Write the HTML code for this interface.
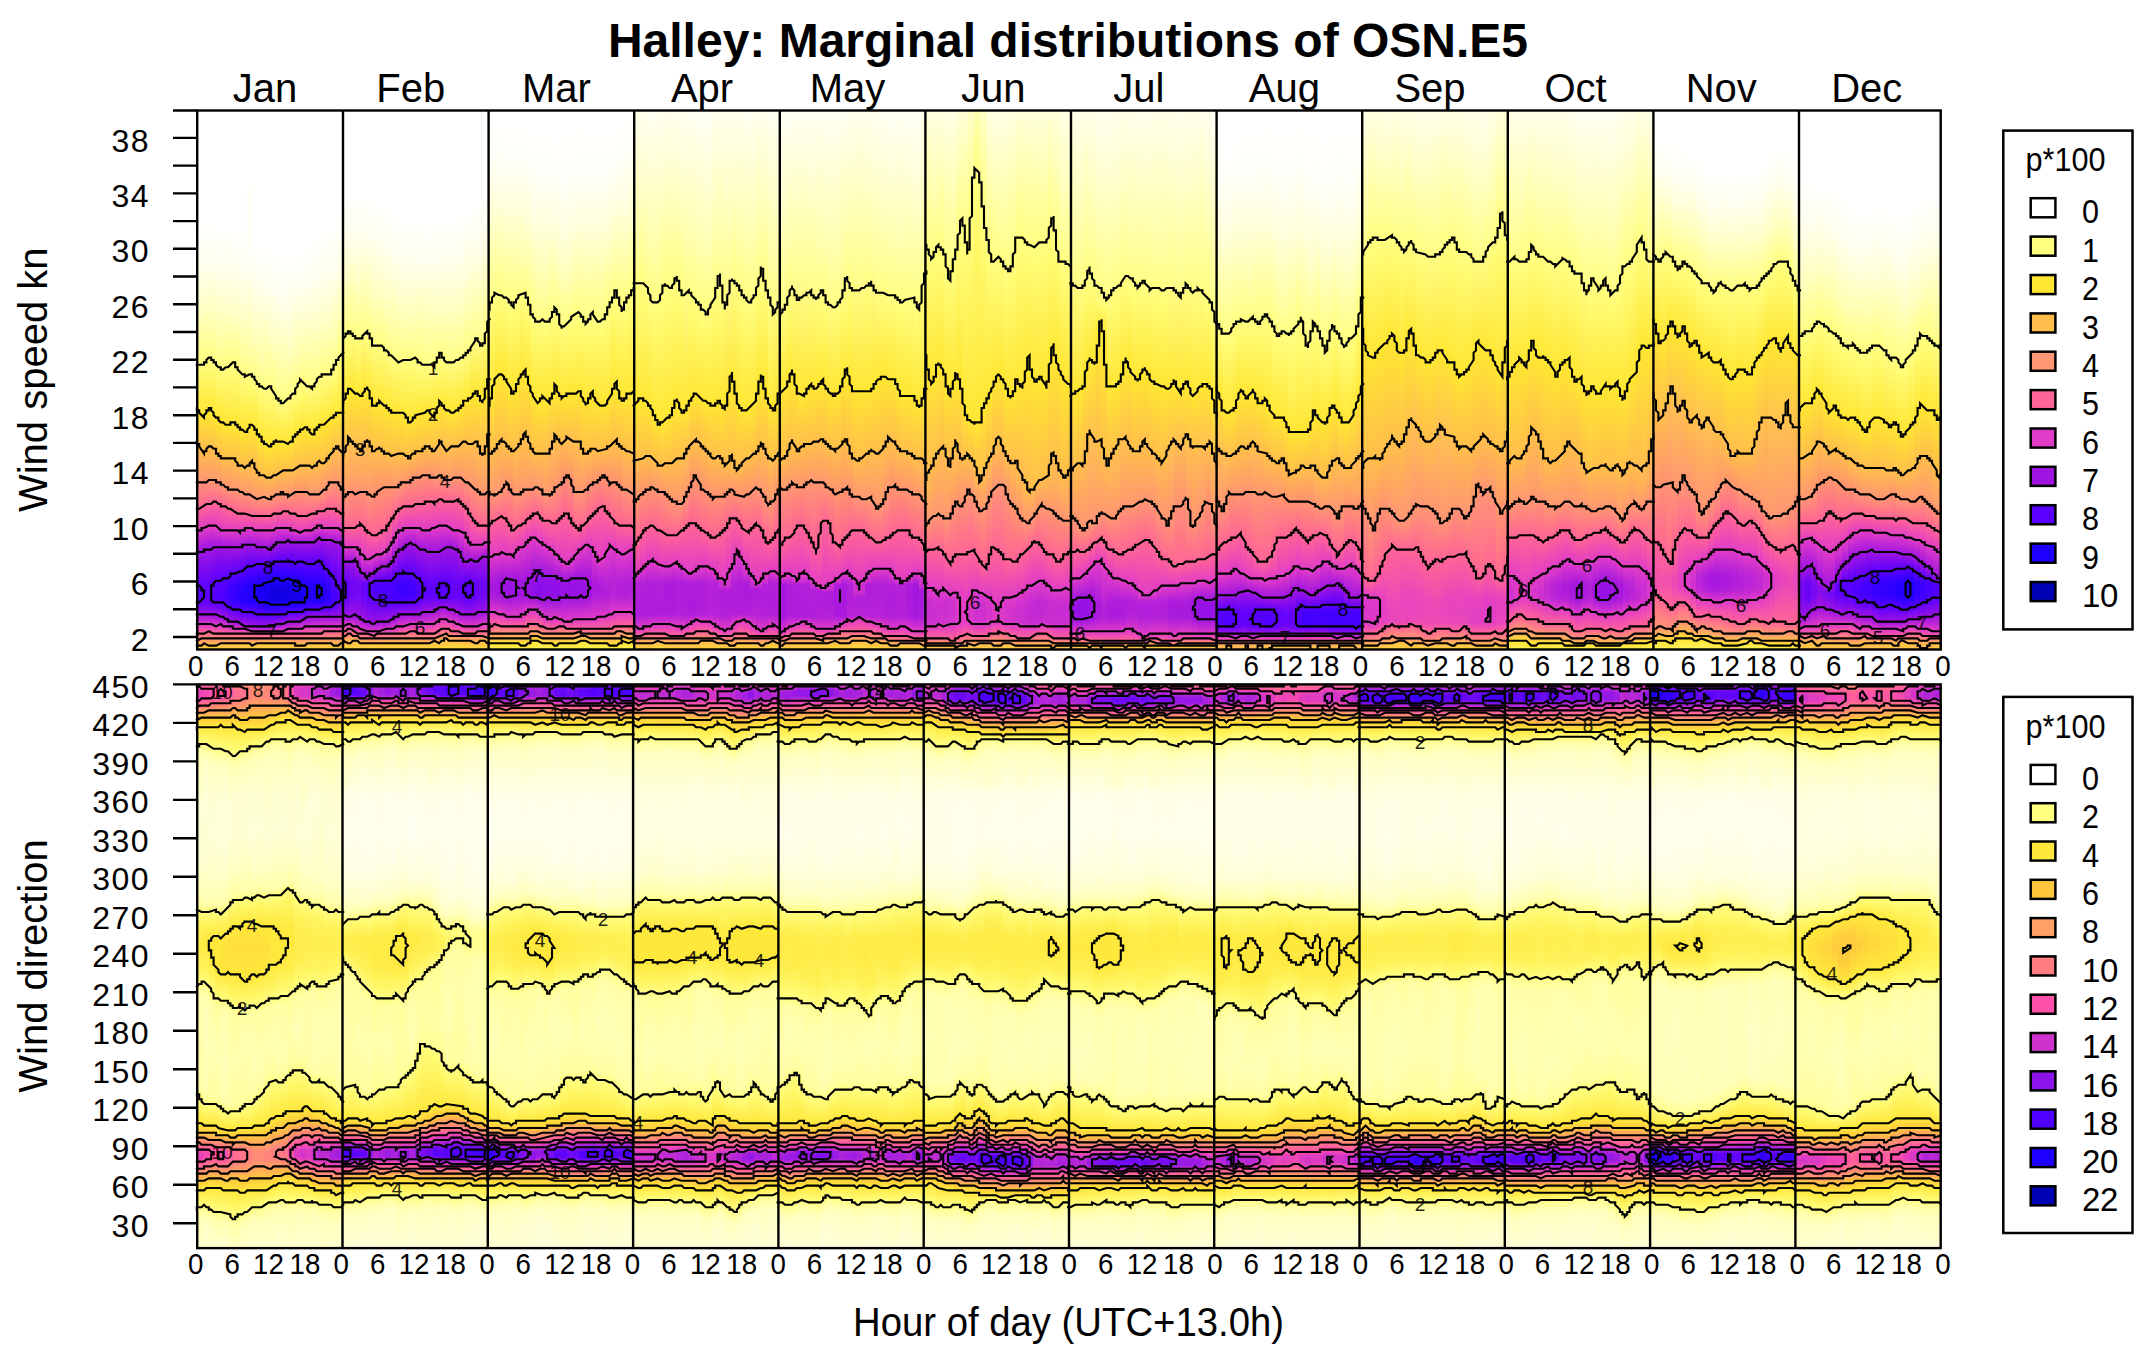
<!DOCTYPE html><html><head><meta charset="utf-8"><title>Halley: Marginal distributions of OSN.E5</title><style>
html,body{margin:0;padding:0;background:#fff}body{width:2151px;height:1362px;position:relative;overflow:hidden;font-family:"Liberation Sans",sans-serif}
.p{position:absolute;left:0;top:0;width:2151px;height:1362px}
#t i,#b i{position:absolute;display:block;width:6.65px}
#t i{top:110.5px;height:539px}#b i{top:684.4px;height:563.7px}
svg{position:absolute;left:0;top:0}text{font-family:"Liberation Sans",sans-serif;fill:#000}
</style></head><body>
<div id="t" class="p"><i style="left:197.2px;background:linear-gradient(#fff 0%,#fff 20.8%,#ffffef 28.6%,#ffffc0 38%,#ffff83 46.7%,#ffe632 56.2%,#ffa168 67.3%,#fe6397 73.8%,#e13cc7 77.7%,#a316e0 81.4%,#5b00ff 88.3%,#5900ff 90.9%,#9d13e2 93.5%,#e33fc4 95.5%,#ff6496 96.8%,#ffba4f 99.1%,#ffd33e 100%)"></i><i style="left:203.3px;background:linear-gradient(#fff 0%,#fff 20.2%,#ffffed 28.4%,#ffffc4 36.4%,#ffff82 46.2%,#ffe632 56%,#ffbe4b 62.9%,#ffa366 67%,#fe6397 73.3%,#e03bc8 77.4%,#a416e0 81.1%,#6002fc 88.3%,#5c00fe 89.8%,#6102fc 91.1%,#9b12e3 93.3%,#e13cc8 95.4%,#ff6794 96.8%,#ffbf4a 99.1%,#ffd63c 100%)"></i><i style="left:209.3px;background:linear-gradient(#fff 0%,#fff 20.2%,#ffffef 28%,#ffffae 40.1%,#ffff82 46.2%,#ffe632 56%,#ffbe4b 62.7%,#ff9970 68.3%,#fe6398 72.9%,#e23dc7 77%,#a417df 80.7%,#5d01fe 87.9%,#5600ff 89.8%,#5b00fe 91.1%,#9e13e2 93.5%,#de3ac9 95.4%,#ff6595 96.8%,#ffbd4c 99.1%,#ffd43d 100%)"></i><i style="left:215.4px;background:linear-gradient(#fff 0%,#fff 21%,#ffe 28.9%,#ffffa3 43.2%,#ffff80 47.5%,#ffe632 57.3%,#ffbe4b 63.8%,#ff9871 68.8%,#ff6497 72.9%,#e13cc8 77.5%,#a114e1 80.9%,#820bee 83.3%,#5a00ff 87.2%,#5100ff 89.8%,#5b00ff 91.3%,#a316e0 93.9%,#e23dc7 95.5%,#fe6398 96.8%,#ffc149 99.1%,#ffd83b 100%)"></i><i style="left:221.5px;background:linear-gradient(#fff 0%,#fff 20.8%,#ffffec 29.1%,#ffffc9 36.9%,#ff8 46.9%,#ffe532 58.3%,#ffbf4b 64.6%,#ff9b6e 69.2%,#fe6397 73.6%,#e13dc7 77.9%,#9f14e2 81.1%,#5b00ff 86.8%,#4900ff 89.8%,#5700ff 91.5%,#9611e5 93.9%,#e43fc4 95.7%,#ff6992 97%,#ffbc4d 98.9%,#ffda3a 100%)"></i><i style="left:227.6px;background:linear-gradient(#fff 0%,#fff 21.3%,#ffffec 29.1%,#ffffca 36.5%,#ffff82 46.9%,#ffe632 58.3%,#ffbd4c 64.7%,#ff9871 69.9%,#ff6596 74%,#e13dc7 77.9%,#a115e1 81.1%,#5a00ff 86.3%,#3f00ff 88.3%,#3a00ff 89.8%,#3f00ff 91.1%,#5900ff 92.2%,#9611e5 94.4%,#e23ec6 95.9%,#ff6794 97%,#ffc04a 99.1%,#ffd63c 100%)"></i><i style="left:233.6px;background:linear-gradient(#fff 0%,#fff 22.1%,#ffffec 29.7%,#ffffcb 36.7%,#ffff81 47.5%,#ffe632 58.4%,#ffbd4c 65.5%,#ff9673 70.5%,#fe6397 74.6%,#e03bc8 78.1%,#9f14e1 81.3%,#5900ff 85.7%,#3500ff 88.3%,#3100ff 89.8%,#3700ff 91.1%,#5b00ff 92.6%,#a014e1 95%,#e23ec6 96.1%,#ff6595 97%,#ffbc4d 98.9%,#ffd63c 100%)"></i><i style="left:239.7px;background:linear-gradient(#fff 0%,#fff 22.1%,#ffe 29.7%,#ffffd0 36.5%,#ff8 48%,#ffe632 59.4%,#ffbe4b 66%,#ff9673 70.9%,#fe6397 74.9%,#e03bc8 77.9%,#9e13e2 80.9%,#5900ff 85.3%,#2d00ff 88.3%,#2800ff 89.8%,#2d00ff 91.1%,#5a00ff 92.9%,#a215e0 95.4%,#e33ec5 96.3%,#fe6397 97%,#ffc149 98.9%,#ffd93a 100%)"></i><i style="left:245.8px;background:linear-gradient(#fff 0%,#fffff6 28.2%,#ffffa9 43.8%,#fffd7a 50.1%,#ffe632 58.8%,#ffbe4b 65.7%,#ff9772 71.2%,#fe6298 75.1%,#e23dc7 77.5%,#9b13e3 80.7%,#5b00ff 84.6%,#2400ff 88.3%,#2100ff 89.8%,#2700ff 91.1%,#5e01fd 93.3%,#9d13e2 95.5%,#d937cb 96.3%,#ff6a92 97.2%,#ffbe4b 98.9%,#ffd53d 100%)"></i><i style="left:251.9px;background:linear-gradient(#fff 0%,#fff 24.5%,#ffffec 31.7%,#ffffb3 43%,#fffe7e 50.3%,#ffe632 59%,#ffac5d 69%,#ff9673 71.8%,#fe6397 75.1%,#e03cc8 77.7%,#a215e0 80.7%,#5d01fe 84.2%,#1e00ff 88.3%,#1e00ff 90%,#2400ff 91.1%,#5b00fe 93.3%,#9f14e1 95.7%,#de3ac9 96.5%,#ff6695 97.2%,#ffbd4c 98.9%,#ffd33e 100%)"></i><i style="left:257.9px;background:linear-gradient(#fff 0%,#fff 24.9%,#ffffed 32.5%,#ffffa1 47.3%,#ffff80 51.2%,#ffe632 60.8%,#ffc049 67.3%,#ff9772 71.8%,#ff6496 75.1%,#e23dc6 77.7%,#9e14e2 81.1%,#5900ff 84.4%,#1e00ff 87.9%,#1a00f4 89.6%,#1d00fb 91.1%,#5b00ff 93.5%,#9e13e2 95.7%,#d837cb 96.5%,#fe6397 97.2%,#ffbe4b 98.7%,#ffd93a 100%)"></i><i style="left:264px;background:linear-gradient(#fff 0%,#fff 24.7%,#ffe 32.7%,#ff8 50.8%,#ffe632 62%,#ffc149 67.7%,#ff9673 72%,#ff6595 75.1%,#e13cc8 77.9%,#9e14e2 81.3%,#5900ff 84.4%,#1e00ff 87.6%,#1700ed 88.5%,#1700ed 90.9%,#1d00fe 91.5%,#5700ff 93.5%,#9f14e1 95.7%,#d937cb 96.5%,#fd6299 97.2%,#ffc149 98.7%,#ffda39 100%)"></i><i style="left:270.1px;background:linear-gradient(#fff 0%,#fff 24.9%,#fffff0 32.7%,#ffffcd 40.4%,#ffff8a 51%,#ffe632 61.8%,#ffbf4a 67.7%,#ff9772 71.6%,#ff6595 74.9%,#e13cc8 77.7%,#9f14e1 80.9%,#5900ff 84%,#2000ff 87%,#1200e2 88.5%,#1200e0 89.6%,#1300e5 90.9%,#1e00fe 91.6%,#5d01fe 93.7%,#a014e1 95.5%,#dc39ca 96.5%,#fe6398 97.2%,#ffbf4a 98.7%,#ffd83b 100%)"></i><i style="left:276.2px;background:linear-gradient(#fff 0%,#fff 27.1%,#ffffed 34.9%,#ffff87 53.1%,#ffe632 61.4%,#ffbe4b 67.2%,#ff9772 71.1%,#ff6496 74.6%,#e13dc7 77.4%,#9f14e2 80.3%,#5a00ff 83.7%,#1f00ff 87%,#1200e2 88.5%,#1300e2 90.9%,#1d00fd 91.6%,#5a00ff 93.5%,#a316e0 95.4%,#e03cc8 96.5%,#ff6496 97.2%,#ffbd4c 98.7%,#ffd73c 100%)"></i><i style="left:282.2px;background:linear-gradient(#fff 0%,#fffffe 26.9%,#ffffef 34.7%,#ffff89 53.1%,#ffe533 61.8%,#ffbe4b 67%,#ff9871 71.1%,#ff6595 74.4%,#e13cc8 77.4%,#a014e1 80%,#5900ff 83.7%,#2000ff 87%,#1400e5 88.5%,#1400e6 90.9%,#1c00fa 91.5%,#5a00ff 93.3%,#9d13e2 95%,#dc39ca 96.3%,#ff6794 97.2%,#ffbe4b 98.7%,#ffda39 100%)"></i><i style="left:288.3px;background:linear-gradient(#fff 0%,#fffffe 26.7%,#ffe 34.1%,#ffffc3 43.6%,#ffff84 52.5%,#ffe633 61.2%,#ffbe4b 66.8%,#ff9673 71.2%,#fe6397 74.8%,#e13cc8 77.7%,#9c13e3 80.1%,#5a00ff 83.7%,#1e00fe 87.2%,#1400e6 88.5%,#1600ea 90.9%,#1e00ff 91.5%,#5a00ff 93.1%,#a014e1 94.8%,#e23dc6 96.3%,#ff6893 97.2%,#ffba4f 98.7%,#ffd73b 100%)"></i><i style="left:294.4px;background:linear-gradient(#fff 0%,#fff 26%,#fffff3 31.7%,#ffffaf 45.1%,#fffd78 52.5%,#ffe632 59.9%,#ffba4f 66.8%,#ff6794 74.9%,#e23dc6 78.1%,#a014e1 80.1%,#5a00ff 83.9%,#1f00ff 87.6%,#1700ee 88.5%,#1600ec 90.9%,#1f00ff 91.5%,#5d01fe 93.1%,#9e13e2 94.6%,#de3ac9 96.1%,#ff6a92 97.2%,#ffb950 98.9%,#ffcf40 100%)"></i><i style="left:300.5px;background:linear-gradient(#fff 0%,#fff 25.4%,#fffff1 32.1%,#ffffd7 37.7%,#fffe7b 51.4%,#ffe632 59%,#ffbd4c 66%,#ff7e84 73.1%,#ff6397 75.3%,#e13dc7 78.1%,#a115e1 80.1%,#5a00ff 83.9%,#1e00fe 88.1%,#1a00f6 89.6%,#1d00fb 91.1%,#5900ff 92.8%,#a215e0 94.4%,#de3ac9 95.9%,#ff6595 97%,#ffb851 98.9%,#ffcf40 100%)"></i><i style="left:306.6px;background:linear-gradient(#fff 0%,#fffffe 24.3%,#ffffef 32.1%,#ffff8b 50.3%,#ffe632 59.5%,#ffbc4d 66.2%,#ff9772 71.1%,#fe6397 75.1%,#e03bc9 77.9%,#9f14e2 80.3%,#5900ff 84.2%,#20f 88.3%,#2100ff 89.6%,#2800ff 91.1%,#5800ff 92.4%,#9e13e2 94.1%,#e33ec5 95.9%,#ff6993 97%,#ffc04a 98.9%,#ffd83b 100%)"></i><i style="left:312.6px;background:linear-gradient(#fff 0%,#fffffe 23%,#ffffef 31%,#ffc 39%,#ffff8d 49.2%,#ffe632 59.4%,#ffbe4b 65.7%,#ff9375 71.6%,#ff6496 74.6%,#e13cc7 77.4%,#a014e1 79.8%,#5b00ff 83.9%,#2000ff 88.3%,#1f00ff 89.6%,#2700ff 91.1%,#5a00ff 92.4%,#a316e0 94.1%,#e33ec5 95.9%,#ff6992 97%,#ffc04a 98.9%,#ffd93a 100%)"></i><i style="left:318.7px;background:linear-gradient(#fff 0%,#fffffe 22.4%,#ffffec 31%,#ffffc7 38.8%,#ffff87 48.6%,#ffe632 58.4%,#ffbe4b 65.3%,#ff8c7a 71.6%,#ff6496 74.2%,#e23dc6 77.2%,#a014e1 79.6%,#5c00fe 84%,#2300ff 88.3%,#2000ff 89.8%,#2700ff 91.1%,#5b00fe 92.4%,#a114e1 93.9%,#df3bc9 95.7%,#ff6595 96.8%,#ffc04a 98.9%,#ffd83b 100%)"></i><i style="left:324.8px;background:linear-gradient(#fff 0%,#fffffe 22.4%,#ffffec 31%,#ffffca 38.2%,#ffff8b 47.7%,#ffe632 57.7%,#ffbe4b 64.6%,#ff8f78 70.3%,#ff6595 73.8%,#e23dc7 77.4%,#9e13e2 80%,#5a00ff 85.3%,#3400ff 88.3%,#2d00ff 89.8%,#3200ff 91.1%,#5800ff 92.2%,#9d13e2 93.9%,#e03bc8 95.7%,#ff6893 96.8%,#ffc049 98.9%,#ffd83b 100%)"></i><i style="left:330.9px;background:linear-gradient(#fff 0%,#fffffe 21.5%,#ffffeb 30.4%,#ffffad 42.1%,#fffc76 49.2%,#ffe632 56.6%,#ffba4f 63.6%,#ff9673 69%,#fe6397 74%,#e23dc7 77.4%,#9c13e3 80.1%,#5a00ff 86.8%,#40f 90%,#4800ff 91.1%,#5d01fe 91.8%,#9f14e2 93.9%,#df3bc9 95.7%,#ff6794 96.8%,#ffbb4e 98.9%,#ffd23e 100%)"></i><i style="left:336.9px;background:linear-gradient(#fff 0%,#fff 18.6%,#ffffe8 28.9%,#ffffbd 37.3%,#ff8 44.7%,#ffe632 56.2%,#ff9871 69.4%,#ff6397 74.6%,#df3bc9 77.7%,#a014e1 80.3%,#5d01fe 88.3%,#5800ff 89.8%,#5d01fe 91.1%,#9e14e2 93.7%,#e13cc8 95.7%,#ff6993 96.8%,#ffbd4c 98.9%,#ffd43d 100%)"></i><i style="left:343px;background:linear-gradient(#fff 0%,#fffffe 15.4%,#ffffed 23.2%,#ffffc5 31.2%,#ffff7f 41.7%,#ffe632 52.9%,#ffaf5a 66.2%,#ff9574 71.6%,#ff6596 77.4%,#e13cc8 81.1%,#a014e1 83.7%,#5f01fd 87.6%,#5b00fe 89%,#6102fc 90.3%,#a115e0 93.9%,#de3ac9 95.4%,#ff6794 96.5%,#ffbd4c 98.5%,#ffd83b 100%)"></i><i style="left:349.1px;background:linear-gradient(#fff 0%,#fff 15.4%,#ffffec 23.6%,#ffff8b 40.1%,#ffe632 51.9%,#ffa663 67.5%,#ff6595 77.4%,#e23dc7 80.9%,#9a12e3 83.7%,#7006f6 87.6%,#6f06f6 88.9%,#7407f4 90.3%,#a114e1 93.9%,#e23ec6 95.5%,#ff6596 96.5%,#ffb554 98.1%,#ffd63c 100%)"></i><i style="left:355.1px;background:linear-gradient(#fffffe 0%,#fff 15.6%,#ffffed 23.6%,#ffffc6 31.5%,#ffff81 42.1%,#ffe632 52.9%,#ffa960 67.3%,#ff6496 77%,#e23dc7 81.3%,#a115e1 84.6%,#7508f3 87.6%,#7307f4 88.9%,#7909f2 90.3%,#9f14e1 93.9%,#dc39ca 95.9%,#ff6d90 97%,#ffbd4c 98.5%,#ffda3a 100%)"></i><i style="left:361.2px;background:linear-gradient(#fff 0%,#fff 15.2%,#ffffed 23%,#ffff8e 39.7%,#ffe632 52.1%,#ffaa5f 67%,#ff6496 77.4%,#e13cc8 82.7%,#9210e7 86.8%,#6904f8 87.7%,#6704f9 89%,#6d06f7 90.3%,#a115e1 94.6%,#dc39ca 96.3%,#ff6893 97.2%,#ffbc4d 98.7%,#ffd73b 100%)"></i><i style="left:367.3px;background:linear-gradient(#fff 0%,#fff 15.8%,#ffffef 23%,#ffffb6 34.3%,#ffff86 41.6%,#ffe632 53.1%,#ffbe4b 62.1%,#ff9673 71.4%,#ff6496 78.5%,#df3bc9 83.1%,#a215e0 86.1%,#5900ff 87.7%,#5800ff 89%,#5d01fe 90.3%,#9e14e2 95%,#dc39ca 96.5%,#ff6c90 97.4%,#ffc149 98.9%,#ffda3a 100%)"></i><i style="left:373.3px;background:linear-gradient(#fff 0%,#fff 16.7%,#ffe 23.7%,#ffffcb 31.9%,#ffff8b 42.3%,#ffe632 54.5%,#ffbd4c 63.1%,#ff6496 78.7%,#e13cc8 82.6%,#9f14e1 85.3%,#5900ff 87.4%,#4e00ff 89%,#5900ff 90.7%,#9e13e2 95%,#dd39ca 96.5%,#fe6298 97.2%,#ffc348 98.9%,#ffde37 100%)"></i><i style="left:379.4px;background:linear-gradient(#fff 0%,#fff 17.6%,#ffffec 24.7%,#ffffc5 33.6%,#ffff85 43.2%,#ffe632 54.5%,#ffbe4b 63.1%,#ff6496 78.1%,#e03cc8 82.2%,#a014e1 84.8%,#5a00ff 87.2%,#4e00ff 87.7%,#4c00ff 89%,#5b00ff 91.1%,#a215e0 95%,#dc39ca 96.3%,#ff6992 97.2%,#ffbc4d 98.7%,#ffdc38 100%)"></i><i style="left:385.5px;background:linear-gradient(#fff 0%,#fffffe 17.6%,#ffe 25.6%,#ffffc6 34.5%,#ff8 44.2%,#ffe632 55.5%,#ffbf4a 63.6%,#ff6496 76.8%,#e03cc8 81.3%,#9e13e2 84.4%,#5a00ff 87.2%,#4f00ff 87.7%,#4b00ff 90.2%,#5c01fe 91.3%,#9b13e3 94.4%,#df3bc9 96.3%,#ff6c91 97.2%,#ffbf4b 98.7%,#ffdd38 100%)"></i><i style="left:391.5px;background:linear-gradient(#fff 0%,#fffffe 19.5%,#ffffea 27.5%,#ffff8c 44.7%,#ffe632 56.2%,#ffbd4c 64%,#ff9772 69.8%,#fe6397 75.1%,#e03cc8 79.2%,#a014e1 82.9%,#5a00ff 86.6%,#4800ff 87.7%,#4500ff 90.2%,#5b00ff 91.3%,#a115e1 94.1%,#e33ec5 96.1%,#ff6397 97%,#ffbf4b 98.7%,#ffdc38 100%)"></i><i style="left:397.6px;background:linear-gradient(#fff 0%,#fff 19.5%,#ffffed 27.5%,#ffffca 35.4%,#ffff84 46%,#ffe632 56.2%,#ffbc4d 64.2%,#ff9673 69.4%,#ff6496 73.8%,#e03bc8 77.9%,#a014e1 81.4%,#5900ff 85.9%,#4100ff 87.6%,#3c00ff 89%,#4000ff 90.3%,#5900ff 91.3%,#9f14e1 93.5%,#e33ec5 95.7%,#ff6893 97%,#ffbc4d 98.7%,#ffd93a 100%)"></i><i style="left:403.7px;background:linear-gradient(#fff 0%,#fff 20.4%,#ffffec 28.2%,#ffffa4 41.6%,#ffff80 46.2%,#ffe632 57.1%,#ffbe4b 64.2%,#ff6496 73.5%,#e23dc7 77.4%,#a014e1 80.7%,#5b00ff 85.7%,#4200ff 87.6%,#3d00ff 89%,#4200ff 90.3%,#5c01fe 91.3%,#9f14e1 93.3%,#de3ac9 95.4%,#ff6695 96.8%,#ffbc4d 98.7%,#ffd83b 100%)"></i><i style="left:409.7px;background:linear-gradient(#fff 0%,#fff 20%,#ffffed 28%,#ffffc4 36.2%,#ffff7f 46.2%,#ffe532 57.3%,#ffbd4c 63.8%,#ff6496 73.3%,#e03bc8 77.4%,#9e13e2 80.7%,#5b00ff 86.1%,#4800ff 87.7%,#4500ff 89.4%,#4800ff 90.3%,#5a00ff 91.1%,#a014e1 93.5%,#df3bc9 95.4%,#ff6993 96.8%,#ffbd4c 98.7%,#ffd93a 100%)"></i><i style="left:415.8px;background:linear-gradient(#fff 0%,#fff 19.8%,#ffffed 28.2%,#ffff82 46.4%,#ffe632 56.4%,#ffbe4b 63.1%,#fe6398 73.3%,#e03cc8 77.5%,#9f14e2 81.3%,#5a00ff 87%,#4f00ff 89%,#5c00fe 90.7%,#a215e0 93.5%,#e03bc8 95.4%,#ff6496 96.8%,#ffbe4b 98.7%,#ffda3a 100%)"></i><i style="left:421.9px;background:linear-gradient(#fffffe 0%,#fff 20.2%,#ffffed 28.4%,#ffff85 46.7%,#ffe632 56%,#ffbe4b 62.7%,#ff6397 72.9%,#e13cc8 77.7%,#a014e1 81.6%,#5f01fd 87.6%,#5c00fe 89%,#6202fc 90.3%,#a115e1 93.1%,#e33ec5 95.4%,#ff6794 97%,#ffbd4c 98.7%,#ffd93a 100%)"></i><i style="left:427.9px;background:linear-gradient(#fff 0%,#fff 20.2%,#ffe 28.2%,#ffff89 46.6%,#ffe532 56.4%,#ffbe4b 62.9%,#ff6397 72.7%,#e13cc8 77.5%,#a215e0 81.6%,#6403fb 87.6%,#6002fc 89%,#6503fa 90.3%,#a115e1 92.9%,#e13cc8 95.2%,#ff6794 97%,#ffc149 98.7%,#ffdd38 100%)"></i><i style="left:434px;background:linear-gradient(#fff 0%,#fff 19.8%,#ffffed 28%,#ffffc3 36.7%,#ffff80 46.4%,#ffe532 55.7%,#ffbe4b 62.5%,#ff9573 68.1%,#ff6496 72.3%,#e03bc8 77.4%,#a215e0 81.6%,#6102fc 87.6%,#5a00ff 89%,#6002fc 90.3%,#a215e0 92.6%,#e33fc5 95%,#ff6595 96.7%,#ffbc4d 98.5%,#ffdb39 100%)"></i><i style="left:440.1px;background:linear-gradient(#fff 0%,#fff 19.7%,#ffffed 27.6%,#ffb 37.8%,#ffff7f 46.2%,#ffe632 54.9%,#ffad5c 64.9%,#ff9574 68.3%,#ff6397 72.3%,#e13cc8 77.2%,#a115e0 81.3%,#5b00ff 87.6%,#5600ff 89%,#5c01fe 90.3%,#9f14e2 92.2%,#e33ec5 94.6%,#ff6794 96.3%,#ffbe4b 98.3%,#ffda39 100%)"></i><i style="left:446.1px;background:linear-gradient(#fff 0%,#fff 19.5%,#ffffed 27.5%,#ffffc5 36.5%,#ffff8a 45.8%,#ffe632 55.8%,#ffac5d 65.7%,#ff9871 68.3%,#ff6397 72.5%,#e13cc8 77.4%,#a316e0 80.7%,#5e01fd 87.6%,#5b00ff 89%,#6202fc 90.3%,#9f14e2 92.4%,#e13cc8 94.6%,#ff6496 96.3%,#ffbe4b 98.3%,#ffe036 100%)"></i><i style="left:452.2px;background:linear-gradient(#fff 0%,#fff 19.3%,#ffe 27.3%,#ffffbd 37.7%,#ffff89 45.6%,#ffe632 55.8%,#ffbf4b 62.1%,#ff9970 67.9%,#ff6496 72.3%,#e23dc7 77.7%,#9d13e2 81.4%,#6604fa 87.6%,#6403fb 88.9%,#6b05f8 90.3%,#9f14e1 92.8%,#e23ec6 95.2%,#ff6992 96.8%,#ffc149 98.5%,#ffe135 100%)"></i><i style="left:458.3px;background:linear-gradient(#fff 0%,#fff 19.1%,#ffffea 27.6%,#ffffc8 35.1%,#ffff8a 44.9%,#ffe632 54.7%,#ffbe4b 61.8%,#ff9970 67.9%,#ff6496 72.9%,#e13cc8 78.1%,#a115e1 82.7%,#6403fb 87.6%,#6102fc 89%,#6704f9 90.3%,#9e13e2 93.3%,#e33fc5 95.5%,#ff6595 96.8%,#ffc149 98.5%,#ffe036 100%)"></i><i style="left:464.3px;background:linear-gradient(#fff 0%,#fff 18.4%,#ffffdf 29.7%,#ffff87 44.2%,#ffe632 53.8%,#ffbe4b 61.8%,#ff9970 68.5%,#fe6397 74.2%,#e13cc8 79.6%,#a014e1 83.5%,#5d01fe 87.4%,#5700ff 89%,#5c01fe 90.3%,#9a12e4 93.3%,#df3bc9 95.5%,#ff6993 97%,#ffbe4b 98.5%,#ffdd37 100%)"></i><i style="left:470.4px;background:linear-gradient(#fff 0%,#fff 16.9%,#ffffec 25.6%,#ffff9d 39.7%,#ffe632 52.7%,#ffbe4b 61.8%,#ff9673 69.9%,#ff6397 76.1%,#e23dc7 80.5%,#9e13e2 83.5%,#6202fc 87.6%,#5e01fd 89%,#6202fb 90.3%,#9e13e2 93.3%,#e33ec5 95.7%,#fe6298 96.8%,#ffbb4e 98.5%,#ffd93a 100%)"></i><i style="left:476.5px;background:linear-gradient(#fffffe 0%,#fff 16.3%,#ffffec 25%,#ff9 40.3%,#ffe632 53.2%,#ffaf5a 66%,#ff9673 70.9%,#ff6596 76.8%,#e23dc7 80.5%,#9f14e1 83.3%,#6d05f7 87.6%,#6a05f8 89%,#6f06f6 90.3%,#9d13e2 93.1%,#e23dc7 95.5%,#ff6992 96.8%,#ffbc4d 98.5%,#ffdb39 100%)"></i><i style="left:482.5px;background:linear-gradient(#fffffe 0%,#fffffd 16.3%,#ffffe0 26.3%,#ffff84 41%,#ffe632 52.1%,#ffb554 64.6%,#ff9772 70.9%,#ff6695 76.8%,#e13cc8 80.3%,#9d13e2 83.1%,#7307f4 87.6%,#7006f6 89%,#7508f3 90.3%,#9d13e2 92.9%,#e33fc5 95.4%,#ff6993 96.7%,#ffba4f 98.5%,#ffda3a 100%)"></i><i style="left:488.6px;background:linear-gradient(#fff 0%,#fffffa 7.4%,#ffffde 16.9%,#ffff80 35.2%,#ffe632 52.5%,#ffbe4b 63.4%,#ff9871 71.1%,#ff6496 76.4%,#e13cc8 82.7%,#ac1bdc 87.2%,#a819de 88.7%,#ad1cdc 90%,#e03bc8 93.1%,#fd6299 95.5%,#ff738b 96.3%,#ffe433 98.7%,#fff259 100%)"></i><i style="left:494.7px;background:linear-gradient(#fff 0%,#fffff7 8.7%,#ffffdc 16.7%,#ffff80 34.1%,#ffe632 49.3%,#ffbe4b 62%,#ff9673 71.1%,#ff6496 75.7%,#e23dc7 82.2%,#a718de 87.2%,#a316e0 88.7%,#a819de 90%,#df3bc9 93.1%,#fe6298 95.4%,#ff9871 97%,#ffe533 98.7%,#fff050 100%)"></i><i style="left:500.7px;background:linear-gradient(#fff 0%,#fffff9 8.9%,#ffffda 18%,#ffff80 34.5%,#ffe632 49.5%,#ffbb4e 62.3%,#ff9276 70.5%,#ff6496 75.7%,#e03cc8 82.2%,#a114e1 87.2%,#9c13e3 88.7%,#a215e0 90%,#e33fc4 93.9%,#ff6794 95.7%,#ff9474 97%,#ffe334 98.7%,#ffef4f 100%)"></i><i style="left:506.8px;background:linear-gradient(#fff 0%,#fffff9 8.9%,#ffffdb 18.2%,#ffff80 35.6%,#ffe632 51.6%,#ffbe4b 62.7%,#ff6496 77%,#e13cc8 82.4%,#9e13e2 87.2%,#9912e4 88.7%,#9d13e2 90%,#e13cc8 93.9%,#ff6695 95.7%,#ffe334 98.7%,#fff155 100%)"></i><i style="left:512.9px;background:linear-gradient(#fff 0%,#fffff9 8.3%,#ffffda 18%,#ffff80 35.4%,#ffe632 51.6%,#ffbe4b 62.9%,#ff9772 71.1%,#ff6496 77.4%,#e03bc8 82%,#a215e0 87.2%,#9e14e2 88.7%,#a316e0 90%,#e33ec5 94.1%,#fe6397 95.7%,#ffe235 98.7%,#fff155 100%)"></i><i style="left:518.9px;background:linear-gradient(#fff 0%,#fffff9 8.2%,#ffffd7 18.6%,#ffffad 27.3%,#ffff80 34.1%,#ffe632 49%,#ffbe4b 61%,#ffa465 67.9%,#ff9574 71.1%,#ff6595 76.6%,#e03bc9 81.1%,#a517df 87.2%,#a115e1 88.7%,#a517df 90%,#e13cc8 93.7%,#fd6299 95.7%,#ffdf36 98.7%,#ffe632 99.1%,#ffee4c 100%)"></i><i style="left:525px;background:linear-gradient(#fff 0%,#fffffa 9.3%,#ffffd6 20.4%,#ffff80 35.4%,#ffe632 50.3%,#ffb851 63.1%,#ff9573 70.3%,#ff6496 75.7%,#e13cc8 80%,#a014e1 87.2%,#9a12e3 88.7%,#9f14e1 90%,#e13dc7 92.9%,#fe6397 95.4%,#ff9474 96.8%,#ffe433 98.7%,#ffef4f 100%)"></i><i style="left:531.1px;background:linear-gradient(#fff 0%,#fffffa 10.9%,#ffffdc 20.8%,#ffff80 38.4%,#ffe632 53.2%,#ffbe4b 63.3%,#ff9673 69.9%,#ff6496 74.9%,#e13cc8 79.4%,#9210e7 87.2%,#8d0fe9 88.7%,#9310e7 90%,#e03bc8 92.6%,#fe6398 95.2%,#ffe533 98.5%,#fff35a 100%)"></i><i style="left:537.1px;background:linear-gradient(#fff 0%,#fffff9 11.5%,#ffffda 21.7%,#ffffa4 33.6%,#ffff80 39%,#ffe632 53.8%,#ffbd4c 63.8%,#ff9772 70.1%,#ff6595 75.3%,#e03bc9 80.1%,#8e0fe9 87.2%,#870dec 88.7%,#8c0ee9 90%,#e13dc7 93.3%,#fd6299 95.5%,#ffe235 98.5%,#fff35a 100%)"></i><i style="left:543.2px;background:linear-gradient(#fff 0%,#fffff9 11.5%,#ffd 21%,#ffffad 31.9%,#ffff81 39%,#ffe632 53.8%,#ffb455 65.9%,#ff9871 71.1%,#ff6496 76.2%,#e03bc8 80.9%,#9210e7 87.2%,#8d0fe9 88.7%,#9210e7 90%,#e13cc8 94.1%,#e947ba 94.8%,#ff6893 96.1%,#ffe532 98.7%,#fff259 100%)"></i><i style="left:549.3px;background:linear-gradient(#fff 0%,#fffffa 10.9%,#ffffe0 20%,#ffff80 37.8%,#ffe632 52.9%,#ff9871 70.5%,#ff6496 76.4%,#e13cc8 81.6%,#9210e7 87.2%,#8d0ee9 88.7%,#9110e7 90%,#e642c0 94.6%,#ff6595 96.1%,#ffe533 98.9%,#fff153 100%)"></i><i style="left:555.3px;background:linear-gradient(#fff 0%,#fffffb 10.6%,#ffffe1 20.4%,#ffffc0 27.8%,#ffff80 38.2%,#ffe632 52.3%,#ffbe4b 61%,#ff9871 69.2%,#ff6496 76.1%,#e13cc8 82.7%,#9711e5 87.2%,#8f0fe8 88.7%,#9210e7 90%,#e642c0 94.6%,#ff6496 95.9%,#ffe533 98.9%,#fff153 100%)"></i><i style="left:561.4px;background:linear-gradient(#fff 0%,#fffff9 13.2%,#ffffde 22.6%,#ffffb7 31.2%,#ffff82 39.7%,#ffe632 53.1%,#ffbd4c 61.4%,#ff6496 74.9%,#e23dc6 83.7%,#9f14e1 87.2%,#9912e4 88.7%,#9c13e3 90%,#e03bc9 94.6%,#fe6397 95.9%,#ffe433 98.7%,#fff257 100%)"></i><i style="left:567.5px;background:linear-gradient(#fff 0%,#fffffa 11.9%,#ffffdf 21.3%,#ffffb1 31.5%,#ffff80 38.8%,#ffe632 52.7%,#ffb257 63.6%,#ff6496 75.9%,#e13dc7 83.5%,#9c13e3 87.2%,#9611e5 88.7%,#9b13e3 90%,#e03cc8 94.6%,#ff6694 96.1%,#ffe433 98.7%,#fff153 100%)"></i><i style="left:573.5px;background:linear-gradient(#fffffe 0%,#fffff9 11.1%,#ffffdf 20.4%,#ffff80 37.7%,#ffe632 52.3%,#ffbc4d 62%,#ff9474 71.2%,#ff6496 77.4%,#e13cc7 82.2%,#9912e4 87.2%,#9511e6 88.7%,#9b13e3 90%,#e03cc8 94.4%,#ff6496 96.1%,#ffe135 98.5%,#fff154 100%)"></i><i style="left:579.6px;background:linear-gradient(#fff 0%,#fffff9 11.1%,#ffffdf 20.4%,#ffff80 38.6%,#ffe632 53.4%,#ffbe4b 63.1%,#ff9574 70.9%,#ff6496 77%,#e13cc8 81.1%,#9c13e3 87.2%,#9812e4 88.7%,#9d13e2 90%,#e23dc6 94.4%,#fe6298 96.1%,#ffe533 98.5%,#fff35b 100%)"></i><i style="left:585.7px;background:linear-gradient(#fff 0%,#fffff9 11.7%,#ffd 21.1%,#ffff80 38.8%,#ffe632 53.6%,#ffbe4b 63.3%,#ff6496 75.9%,#e13cc7 80.7%,#a215e0 87.2%,#9f14e2 88.7%,#a417df 90%,#e23dc7 94.4%,#ff6794 96.3%,#ffe135 98.5%,#fff258 100%)"></i><i style="left:591.7px;background:linear-gradient(#fff 0%,#fffff9 11.9%,#ffffdc 21.1%,#ffff80 38.4%,#ffe532 53.6%,#ffbe4b 62.9%,#ff6496 74.6%,#e13cc8 82.2%,#b01edb 87.2%,#ac1bdd 88.7%,#b01edb 90%,#e23dc7 94.4%,#ff6794 96.3%,#ffe532 98.7%,#fff156 100%)"></i><i style="left:597.8px;background:linear-gradient(#fff 0%,#fffff9 11.5%,#ffffdf 20.8%,#ffff80 38.8%,#ffe632 54.7%,#ffbf4b 62.9%,#ff6496 73.6%,#e23dc7 83.1%,#b521d9 87.2%,#ae1ddb 88.7%,#b11fda 90%,#e13cc8 93.9%,#fd619a 96.1%,#ffe533 98.7%,#fff259 100%)"></i><i style="left:603.9px;background:linear-gradient(#fff 0%,#fffffa 10.4%,#ffffda 20.8%,#ffff80 37.3%,#ffe632 54.2%,#ffbe4b 62.7%,#ff6496 74.6%,#e13cc8 81.8%,#b11fda 88.7%,#b420d9 90%,#dc39ca 93.5%,#fc619a 96.1%,#ffe036 98.7%,#ffe633 98.9%,#fff153 100%)"></i><i style="left:609.9px;background:linear-gradient(#fff 0%,#fffffa 9.1%,#ffffe9 15.2%,#ffffc0 24.1%,#ffff80 34.7%,#ffe632 51.8%,#ffb752 63.4%,#ff6496 75.9%,#e03bc9 81.3%,#c229d4 85.5%,#b722d8 88.7%,#bb25d7 90%,#e13cc8 93.3%,#fe6397 95.9%,#ffe135 98.9%,#ffe633 99.2%,#ffee4a 100%)"></i><i style="left:616px;background:linear-gradient(#fff 0%,#fffff9 8.7%,#ffffe4 16.1%,#ffff80 35.2%,#ffe632 52.7%,#ffbe4b 62.1%,#ff6595 76.6%,#e13cc8 82%,#b823d8 87.2%,#b521d9 88.7%,#b923d7 90%,#e13cc8 93.1%,#ff6496 95.7%,#ffe234 98.7%,#fff052 100%)"></i><i style="left:622.1px;background:linear-gradient(#fff 0%,#fffffa 7.8%,#ffd 18%,#ffff80 35.8%,#ffe632 53.4%,#ffbd4c 63.1%,#ff9673 70.3%,#ff6496 77%,#e13cc8 82.2%,#b622d8 87.2%,#b21fda 88.7%,#b521d9 90%,#de3ac9 92.9%,#fe6298 95.5%,#ffe135 98.5%,#fff45d 100%)"></i><i style="left:628.1px;background:linear-gradient(#fff 0%,#fffff7 7.8%,#ffffd0 19.5%,#ffff80 33.8%,#ffe632 52.3%,#ffbe4b 63.4%,#ff9673 70.9%,#ff6496 77.2%,#e13cc8 81.6%,#b621d9 87.2%,#b320da 88.7%,#b823d8 90%,#df3bc9 92.9%,#fe6397 95.7%,#ffe135 98.5%,#fff35b 100%)"></i><i style="left:634.2px;background:linear-gradient(#ffffed 0%,#ffffb1 20.4%,#ffff80 31.9%,#ffe632 54.4%,#ffbd4c 64.9%,#ff6496 80%,#e13cc8 85.9%,#b621d9 87.6%,#ad1cdc 92.9%,#af1ddb 93.5%,#e440c3 96.3%,#fe6397 97.4%,#ffbb4e 98.9%,#ffd43d 100%)"></i><i style="left:640.3px;background:linear-gradient(#ffe 0%,#ffc 13%,#ffff80 32.3%,#ffe632 53.8%,#ffbe4b 64.4%,#ff6496 78.1%,#e03cc8 84.8%,#b521d9 87.6%,#ae1cdc 93.3%,#e541c1 96.3%,#fc609b 97.2%,#ffb455 98.5%,#ffd43d 100%)"></i><i style="left:646.3px;background:linear-gradient(#fffff1 0%,#ffffab 24.1%,#ffff80 34.3%,#ffe632 54.9%,#ffbe4b 64.2%,#ff6496 77.2%,#e13cc8 83.7%,#b21fda 87.6%,#ad1cdc 93.3%,#de3ac9 95.5%,#fb5e9d 97%,#ffb653 98.5%,#ffd43d 100%)"></i><i style="left:652.4px;background:linear-gradient(#fffff2 0%,#ffffb0 24.3%,#ffff80 35.6%,#ffe632 57.1%,#ffc049 64.7%,#ff9772 70.1%,#ff6496 77.4%,#e03cc8 83.9%,#b320da 87.6%,#af1ddb 93.3%,#df3ac9 95.4%,#fc609a 97%,#ffc149 98.7%,#ffd93a 100%)"></i><i style="left:658.5px;background:linear-gradient(#ffe 0%,#ffffcb 13.9%,#ffff80 33.8%,#ffe632 57.9%,#ffbf4a 65.5%,#ff9673 70.7%,#ff6496 78.3%,#e03cc8 84.4%,#b320da 87.6%,#b11edb 93.3%,#e13cc8 95.4%,#ff6595 97.2%,#ffc249 98.7%,#ffda39 100%)"></i><i style="left:664.5px;background:linear-gradient(#ffffeb 0%,#ffffd4 9.6%,#ffff80 32.7%,#ffe632 57%,#ffbf4a 65.5%,#ff6496 78.7%,#e13cc8 84.4%,#ad1cdc 87.6%,#ac1cdc 90.5%,#b01edb 93.3%,#e03bc8 95.4%,#fd619a 97.2%,#ffbd4c 98.7%,#ffd73b 100%)"></i><i style="left:670.6px;background:linear-gradient(#ffffec 0%,#ffffd1 10.6%,#ffff80 32.1%,#ffe632 55.1%,#ffbd4c 65.3%,#ff8e79 73.8%,#ff6496 78.7%,#e23dc7 84%,#ae1ddc 87.4%,#ad1cdc 90.3%,#b01edb 93.3%,#e23dc7 95.5%,#ff6496 97.4%,#ffba4f 98.7%,#ffd63c 100%)"></i><i style="left:676.7px;background:linear-gradient(#ffe 0%,#ffffce 12.6%,#ffff80 32.8%,#ffe632 55.3%,#ffbe4b 64.6%,#ff9772 72.7%,#ff6496 78.3%,#e13dc7 84.2%,#b21fda 87.4%,#b01edb 90.5%,#b521d9 93.5%,#e846bc 96.3%,#fe6298 97.4%,#ffb950 98.7%,#ffd63c 100%)"></i><i style="left:682.7px;background:linear-gradient(#fffff0 0%,#ffffdb 9.3%,#ffff94 30.1%,#ffe632 55.7%,#ff9d6c 70.3%,#ff6496 77.4%,#e23dc7 85.1%,#b01edb 87.6%,#ad1cdc 90.5%,#b320da 93.5%,#e744be 96.1%,#ff6a92 97.4%,#ffba4f 98.7%,#ffd63c 100%)"></i><i style="left:688.8px;background:linear-gradient(#fffff1 0%,#ffffae 23.7%,#ffff80 34.3%,#ffe632 53.2%,#ffbe4b 61.8%,#ff6496 76.6%,#e33fc5 85.3%,#b21fda 87.6%,#ac1bdc 91.6%,#b01edb 93.5%,#e03cc8 95%,#f95ca0 96.7%,#ffba4f 98.7%,#ffd23f 100%)"></i><i style="left:694.9px;background:linear-gradient(#fffff4 0%,#ffffae 25%,#ffff7f 35.8%,#ffe632 52.9%,#ffbe4b 61.6%,#ff6496 77.2%,#e13cc8 85%,#b11eda 87.6%,#af1ddb 92%,#b320da 93.5%,#e13dc7 94.6%,#fe6298 96.7%,#ffba4f 98.5%,#ffd43d 100%)"></i><i style="left:700.9px;background:linear-gradient(#fffff6 0%,#ffffb4 24.7%,#ffff80 37.1%,#ffe632 53.8%,#ffbe4b 62.7%,#ff6496 78.1%,#e13cc8 84.6%,#b21fda 87.6%,#b21fda 93.3%,#e23ec6 94.8%,#fe6298 96.7%,#ffbe4b 98.5%,#ffd73b 100%)"></i><i style="left:707px;background:linear-gradient(#fffff4 0%,#ffffd0 16.1%,#ffffac 26.5%,#ffff80 36.4%,#ffe632 54.4%,#ffbe4b 64%,#ff6496 78.8%,#e23dc7 84.8%,#b621d9 87.6%,#b621d9 93.3%,#e13cc8 95%,#ff6397 96.8%,#ffbc4d 98.5%,#ffd93a 100%)"></i><i style="left:713.1px;background:linear-gradient(#ffffec 0%,#ffffaf 22.1%,#ffff80 33.2%,#ffe632 54.4%,#ffbe4b 64.4%,#ff6496 79%,#e03cc8 85.7%,#d434cd 86.6%,#b521d9 87.6%,#b320da 90.5%,#b722d8 93.5%,#e542c1 95.9%,#ff6496 97.2%,#ffbf4a 98.7%,#ffd93a 100%)"></i><i style="left:719.1px;background:linear-gradient(#ffe 0%,#ffffae 22.4%,#ffff80 33.9%,#ffe632 54.7%,#ffbe4b 64.9%,#ff6496 78.3%,#e33fc4 86.6%,#cc2fd0 87.6%,#ca2ed1 88.3%,#b21fda 88.9%,#b01edb 91.1%,#b420d9 93.5%,#e23dc6 96.3%,#ff6894 97.6%,#ffbb4e 98.7%,#ffda3a 100%)"></i><i style="left:725.2px;background:linear-gradient(#fffff0 0%,#ffffc8 15.8%,#ffff9b 28.2%,#ffe632 52.5%,#ffb950 66.2%,#ff6496 76.6%,#e13cc7 85.5%,#ca2ed1 88.3%,#b21fda 88.9%,#b01edb 91.1%,#b320da 93.5%,#e541c1 96.5%,#ff6595 97.6%,#ffbd4c 98.9%,#ffd43d 100%)"></i><i style="left:731.3px;background:linear-gradient(#ffffed 0%,#ffffbf 16.7%,#ffff92 28.2%,#ffe632 51.4%,#ffbc4d 66.2%,#fe6397 75.9%,#e03cc8 83.5%,#b320da 87.6%,#af1ddb 90.3%,#b420d9 93.3%,#e643c0 95.7%,#fe6398 97.2%,#ffba4f 98.9%,#ffd040 100%)"></i><i style="left:737.3px;background:linear-gradient(#ffe 0%,#ffffb7 20.2%,#ffff80 33.4%,#ffe632 55.1%,#ffbc4d 66.2%,#ff6496 76.8%,#e13cc8 82.7%,#b21fda 87.4%,#ae1cdc 90.5%,#b420d9 93.3%,#e13dc7 94.6%,#ff6397 97%,#ffbc4d 98.7%,#ffd93a 100%)"></i><i style="left:743.4px;background:linear-gradient(#fffff1 0%,#ffffaf 23.6%,#ffff80 35.1%,#ffe632 55.5%,#ffbe4b 64.7%,#ff6496 78.1%,#e03cc8 84.6%,#cf31cf 86.1%,#af1ddb 87.6%,#ad1cdc 90.3%,#b420d9 93.3%,#e23dc6 94.8%,#ff6496 97.2%,#ffbe4b 98.7%,#ffdb39 100%)"></i><i style="left:749.5px;background:linear-gradient(#fffff0 0%,#ffffb3 22.8%,#ffff80 34.9%,#ffe632 54.5%,#ffbe4b 64%,#ff6397 77.5%,#e440c3 85.9%,#c42ad3 88.3%,#af1ddb 88.7%,#af1ddb 90.3%,#b923d7 93.5%,#e03cc8 95.4%,#ea48b9 96.3%,#fe6398 97.4%,#ffbd4c 98.7%,#ffda3a 100%)"></i><i style="left:755.5px;background:linear-gradient(#ffffec 0%,#ffffab 21.9%,#ffff80 31.7%,#ffe632 51.2%,#ffbd4c 62.9%,#ff9673 70.3%,#ff6496 77.2%,#e13cc8 87.6%,#b11eda 88.7%,#b11edb 90.7%,#b622d8 93.5%,#e33ec5 96.5%,#ff6893 97.6%,#ffb752 98.7%,#ffd23e 100%)"></i><i style="left:761.6px;background:linear-gradient(#ffffed 0%,#ffffc6 14.1%,#ffff80 31.9%,#ffe632 51.9%,#ffbe4b 62.9%,#ff8f78 73.1%,#ff6496 79.2%,#e23dc6 85.9%,#c92dd1 87.6%,#b320da 87.9%,#b11eda 90.7%,#b521d9 93.5%,#e23ec6 96.3%,#ff6a92 97.6%,#ffb851 98.7%,#ffd33e 100%)"></i><i style="left:767.7px;background:linear-gradient(#fffff2 0%,#ffffa0 28.9%,#ffff7f 35.8%,#ffed49 51%,#ffe632 54.9%,#ffbe4b 64.7%,#ff9375 73.3%,#ff6496 80%,#e23dc6 85.3%,#b320da 87.6%,#b11edb 91.8%,#b420d9 93.5%,#e744be 96.1%,#fe6397 97.4%,#ffc248 98.7%,#ffdd38 100%)"></i><i style="left:773.7px;background:linear-gradient(#fffff4 0%,#ffffc6 18.6%,#ff9 31%,#ffe632 54.2%,#ffbf4a 63.8%,#ff6496 78.3%,#e23dc6 85.5%,#d635cc 86.4%,#b420d9 87.6%,#af1ddb 92.6%,#b21fda 93.5%,#e845bd 96.3%,#ff6496 97.4%,#ffc04a 98.7%,#ffda3a 100%)"></i><i style="left:779.8px;background:linear-gradient(#fffff8 0%,#ffffc9 18.2%,#ff8 35.6%,#ffe632 51.9%,#ffc04a 64.2%,#ff9673 70.1%,#ff6496 80%,#df3bc9 86.6%,#a517df 87.9%,#a618df 93.7%,#d233ce 96.1%,#e542c1 96.8%,#ff6c91 97.8%,#ffbe4b 99.1%,#ffd53c 100%)"></i><i style="left:785.9px;background:linear-gradient(#fffff5 0%,#ffffaf 23.4%,#ffff7f 34.5%,#ffe632 49.9%,#ffbc4d 63.6%,#ff9375 70.1%,#ff6596 79%,#df3bc9 86.3%,#af1ddb 87.9%,#ad1cdc 90.9%,#b01edb 93.7%,#e23dc7 95.9%,#ff6595 97.4%,#ffbc4d 98.9%,#ffd33e 100%)"></i><i style="left:791.9px;background:linear-gradient(#fffff3 0%,#ffffcd 14.3%,#ffff8c 31.4%,#ffe632 50.6%,#ffbb4e 63.3%,#ff6496 77.9%,#e23dc6 86.3%,#d233ce 87.2%,#b21fda 87.9%,#b01edb 93.7%,#df3bc9 95.4%,#ff6496 97.2%,#ffbc4d 98.7%,#ffd43d 100%)"></i><i style="left:798px;background:linear-gradient(#fffff3 0%,#ffff9b 28.8%,#ffe632 52.9%,#ffbb4e 63.3%,#ff6496 77%,#e23ec6 85.7%,#cf31cf 87.2%,#b21fda 87.9%,#b01edb 93.7%,#df3bc9 95%,#fc619a 97%,#ffbf4b 98.7%,#ffd63c 100%)"></i><i style="left:804.1px;background:linear-gradient(#fffff3 0%,#ffffdb 9.8%,#ffff8d 31.4%,#ffe632 51.9%,#ffbe4b 62%,#ff6496 78.3%,#e23dc7 85.9%,#d535cc 86.8%,#b420d9 87.9%,#b11edb 93.7%,#e13dc7 95.2%,#fd6299 97%,#ffbc4d 98.7%,#ffd33e 100%)"></i><i style="left:810.1px;background:linear-gradient(#fffff2 0%,#ffffd6 11.7%,#ffff8d 31.5%,#ffe632 51.4%,#ffbe4b 61.8%,#ff9474 69.2%,#ff6496 80.3%,#e642c0 86.8%,#ca2ed1 88.3%,#b521d9 88.7%,#b01edb 93.7%,#e03bc8 95.7%,#ff6596 97.2%,#ffbc4d 98.7%,#ffd43d 100%)"></i><i style="left:816.2px;background:linear-gradient(#fffff3 0%,#ffffad 24.9%,#ffff80 34.3%,#ffe632 50.8%,#ffbb4e 62%,#ff6e8f 76.4%,#f759a4 82.6%,#e33ec5 88.1%,#b420d9 89%,#b11edb 91.5%,#b521d9 93.9%,#df3bc9 96.1%,#ff6992 97.4%,#ffbd4c 98.7%,#ffd43d 100%)"></i><i style="left:822.3px;background:linear-gradient(#fffff4 0%,#ffffb2 23.6%,#ffff7f 35.2%,#ffe632 51.2%,#ffba4f 62.5%,#ff9772 69.4%,#ff6496 76.1%,#e13cc8 88.5%,#b11eda 89.2%,#af1ddb 91.5%,#b722d8 93.9%,#e43fc4 96.3%,#fd6299 97.2%,#ffbd4c 98.7%,#ffd43d 100%)"></i><i style="left:828.3px;background:linear-gradient(#fffff4 0%,#ffffbe 21.3%,#ffff92 33%,#ffe632 52.5%,#ffbe4b 62.7%,#ff6496 78.5%,#e33fc5 87.4%,#cd30d0 87.9%,#ca2ed1 88.7%,#b21fda 89.2%,#af1ddb 91.5%,#b622d9 93.9%,#e33ec5 96.3%,#ff6893 97.2%,#ffc248 98.7%,#ffdb39 100%)"></i><i style="left:834.4px;background:linear-gradient(#fffff4 0%,#ffffa4 28.6%,#ffff80 36%,#ffe632 52.5%,#ffbe4b 62.7%,#ff6496 80.7%,#e33fc4 86.4%,#cf31cf 87.4%,#ae1cdc 87.9%,#a919de 90.9%,#ac1cdc 93.7%,#e23dc7 95.7%,#ff6993 97%,#ffc348 98.7%,#ffdc38 100%)"></i><i style="left:840.5px;background:linear-gradient(#fffff1 0%,#ffffa1 26%,#fffe7c 34.7%,#ffe632 49.7%,#ffbe4b 61.6%,#ff6496 79.8%,#e13dc7 85.9%,#aa1add 87.9%,#a819de 90.9%,#ac1bdc 93.7%,#e33ec5 95.2%,#ff6993 96.8%,#ffbd4c 98.7%,#ffd53d 100%)"></i><i style="left:846.5px;background:linear-gradient(#ffffef 0%,#ffffc8 13.9%,#ffff7f 32.8%,#ffe632 50.3%,#ffbe4b 62.9%,#ff6496 78.5%,#e13cc8 86.1%,#b421d9 87.9%,#b320da 90.7%,#bc25d6 93.9%,#e13cc8 94.6%,#ff6496 96.7%,#ffbe4b 98.7%,#ffd63c 100%)"></i><i style="left:852.6px;background:linear-gradient(#ffffef 0%,#ffff91 30.2%,#ffe632 52.1%,#ffbe4b 64.7%,#ff9772 71.6%,#ff6596 77.7%,#e441c2 86.6%,#ce30cf 87.9%,#ca2ed1 89.6%,#b320da 90.2%,#b320da 90.9%,#b823d8 93.7%,#e13cc8 94.4%,#fe6397 96.7%,#ffbe4b 98.5%,#ffdc38 100%)"></i><i style="left:858.7px;background:linear-gradient(#ffffef 0%,#ffff8f 30.4%,#ffe632 52.1%,#ffbe4b 64.6%,#ff9871 71.6%,#ff6596 77.9%,#e23ec6 87.2%,#cb2fd0 87.9%,#c82dd2 89.6%,#b521d9 90%,#b21fda 90.7%,#b823d8 93.7%,#e33fc4 94.4%,#ff6397 96.7%,#ffc04a 98.5%,#ffdd37 100%)"></i><i style="left:864.7px;background:linear-gradient(#ffe 0%,#ffffc9 13.7%,#ffff85 31.5%,#ffe632 51.9%,#ffbe4b 63.4%,#ff9673 72%,#ff6496 78.8%,#e13cc8 85.9%,#cf31cf 87.2%,#b21fda 87.9%,#b21fda 90.7%,#b722d8 93.7%,#e33ec5 94.8%,#ff6397 96.7%,#ffbd4c 98.5%,#ffdb39 100%)"></i><i style="left:870.8px;background:linear-gradient(#ffffef 0%,#ffffd4 11.3%,#ff9 27.5%,#ffe632 51.2%,#ffbe4b 63.3%,#ff9078 74%,#ff6595 79.6%,#e13cc8 85.1%,#b11fda 87.9%,#b31fda 90.7%,#b622d8 93.7%,#e23ec6 95.2%,#ff6596 96.8%,#ffc249 98.7%,#ffdb39 100%)"></i><i style="left:876.9px;background:linear-gradient(#fffff2 0%,#ffffc0 18.4%,#ff8 32.5%,#ffe632 49.7%,#ffbe4b 63.3%,#ff9276 74%,#ff6496 80%,#e13cc7 85%,#b320da 87.9%,#b320da 90.7%,#b823d8 93.7%,#e33fc4 95.5%,#fe6298 97%,#ffbe4b 98.7%,#ffda39 100%)"></i><i style="left:882.9px;background:linear-gradient(#fffff4 0%,#ffffc4 17.4%,#ffff83 33.4%,#ffe632 49.5%,#ffbc4d 62.3%,#ff8e79 72.9%,#ff6596 79.4%,#e13cc8 85%,#b521d9 87.7%,#b11edb 90.9%,#b521d9 93.7%,#e33ec5 95.9%,#ff6496 97.4%,#ffbd4c 98.9%,#ffd43d 100%)"></i><i style="left:889px;background:linear-gradient(#fffff4 0%,#ffffdc 10.8%,#ffffa7 25.6%,#fffe7c 35.4%,#ffe632 49.9%,#ffba4f 62.3%,#ff6496 78.7%,#e13cc8 85.5%,#d434cd 86.6%,#b31fda 87.9%,#b01edb 90.9%,#b521d9 93.9%,#e13cc8 96.1%,#fe6397 97.6%,#ffb752 98.9%,#ffd13f 100%)"></i><i style="left:895.1px;background:linear-gradient(#fffff4 0%,#ffffb5 23.2%,#ffff80 35.1%,#ffe632 51.6%,#ffbd4c 62.9%,#ff6496 78.1%,#e33fc5 86.6%,#d032ce 87.6%,#b521d9 87.9%,#b420d9 93.7%,#df3bc9 95.9%,#fd619a 97.6%,#ffbe4b 99.1%,#ffd43d 100%)"></i><i style="left:901.1px;background:linear-gradient(#fffff4 0%,#ffffb3 23.6%,#ffff80 35.2%,#ffe632 52.9%,#ffbf4b 63.3%,#ff6496 77.7%,#e33fc5 87%,#b621d9 87.9%,#b21fda 90.9%,#b722d8 93.9%,#e33fc5 96.1%,#ff6893 97.8%,#ffc04a 99.1%,#ffd73b 100%)"></i><i style="left:907.2px;background:linear-gradient(#fffff4 0%,#ffffdf 9.8%,#ffffa2 27.3%,#ffff80 35.1%,#ffe632 52.9%,#ffbe4b 63.6%,#ff6496 78.7%,#e13dc7 86.4%,#ad1cdc 87.9%,#aa1add 90.9%,#b01edb 93.9%,#e33fc4 96.5%,#ff6794 97.8%,#ffbf4a 99.1%,#ffd63c 100%)"></i><i style="left:913.3px;background:linear-gradient(#fffff5 0%,#ffffe0 10%,#ffffa6 27.3%,#ffff80 36%,#ffe632 54.2%,#ffbe4b 64.4%,#ff6497 79.4%,#e23dc7 85.7%,#a718de 87.9%,#a416e0 90.9%,#aa1add 93.9%,#e23dc7 96.7%,#ff6595 97.8%,#ffc049 99.1%,#ffd83b 100%)"></i><i style="left:919.3px;background:linear-gradient(#fffff0 0%,#ffffd7 10.4%,#ffff9e 26.5%,#ffff80 32.7%,#ffe632 53.8%,#ffba4f 65.9%,#ff6496 80.3%,#e13dc7 86.3%,#c229d4 88.5%,#ab1bdd 88.9%,#a819de 90.9%,#af1ddb 93.9%,#e23ec6 96.7%,#ff6496 97.8%,#ffbf4a 99.1%,#ffd73b 100%)"></i><i style="left:925.4px;background:linear-gradient(#ffd 0%,#ffff80 26.2%,#ffe632 48.8%,#ffb554 69.8%,#ff9871 76.1%,#ff6496 81.6%,#e13cc8 88.5%,#cc2fd0 91.1%,#ca2ed1 93.1%,#d032cf 95%,#e33ec5 95.7%,#fd6199 97.8%,#ffbe4b 99.2%,#ffce41 100%)"></i><i style="left:931.5px;background:linear-gradient(#ffffe1 0%,#ffffaf 15.6%,#ffff80 26.3%,#ffe632 49.7%,#ffbe4b 64.7%,#ff9772 75.1%,#ff6496 81.3%,#e13cc8 89%,#cf31cf 91.3%,#cc2fd0 93.1%,#d032ce 95%,#e03cc8 95.5%,#ff6497 97.8%,#ffbe4b 99.2%,#ffcd41 100%)"></i><i style="left:937.5px;background:linear-gradient(#ffffe1 0%,#ffff80 25.4%,#ffe632 47.5%,#ffbe4b 62.7%,#ff9673 75.1%,#ff6496 81.6%,#e13cc8 89%,#cf31cf 91.3%,#cd30d0 93.1%,#d333cd 95%,#e23dc7 95.5%,#fe6398 97.8%,#ffbc4d 99.2%,#ffca43 100%)"></i><i style="left:943.6px;background:linear-gradient(#ffffe5 0%,#ffff80 28.9%,#ffe632 51%,#ffbe4b 64.2%,#ff9574 75.9%,#ff6496 82.9%,#e13cc8 89.2%,#cd30d0 91.1%,#cc2fd0 92.9%,#d434cd 95%,#fe6298 98%,#ffc049 99.2%,#ffcf40 100%)"></i><i style="left:949.7px;background:linear-gradient(#ffffe5 0%,#ffffb1 16.9%,#ffff80 28.8%,#ffe632 51%,#ffb257 67.2%,#ff6596 83.1%,#e13cc8 89.6%,#d132ce 91.3%,#d132ce 92.9%,#d736cc 95%,#fe6298 98.1%,#ffbe4b 99.2%,#ffcc42 100%)"></i><i style="left:955.7px;background:linear-gradient(#ffffd5 0%,#ffffbc 8.7%,#ffff80 22.8%,#ffe632 49.9%,#ffbd4c 63.6%,#ff6596 82.4%,#e33ec5 89.8%,#dc39ca 92.9%,#e13cc8 95%,#fd619a 97.6%,#ff9077 98.9%,#ffba4f 99.2%,#ffc845 100%)"></i><i style="left:961.8px;background:linear-gradient(#ffffd3 0%,#ffff80 23%,#ffe632 55.5%,#ffbe4b 64.2%,#ff9f6a 69.8%,#ff6496 82.4%,#e440c3 90.5%,#e13dc7 93.1%,#e440c3 95%,#ff6595 97.4%,#ff9475 98.5%,#ffba4f 99.1%,#ffcf41 100%)"></i><i style="left:967.9px;background:linear-gradient(#ffffc6 0%,#ffff80 19.7%,#ffe632 57.5%,#ffbf4b 64.4%,#ff9276 71.8%,#ff6496 81.8%,#e13cc8 90%,#d736cc 93.1%,#dd3ac9 95%,#ff6496 97.4%,#ffc04a 99.1%,#ffd13f 100%)"></i><i style="left:973.9px;background:linear-gradient(#ffffb1 0%,#ffff7f 11.5%,#ffe632 58.1%,#ffbe4b 67%,#ff8e78 74.4%,#ff6496 82.6%,#e03cc8 89.2%,#d132ce 91.1%,#cf31cf 92.9%,#d534cd 95%,#ff6496 97.6%,#ffc04a 99.1%,#ffd13f 100%)"></i><i style="left:980px;background:linear-gradient(#ffffc5 0%,#ffff80 18.4%,#ffe632 55.1%,#ffbe4b 67.5%,#ff9673 74.2%,#ff6496 84.2%,#e23dc7 89.6%,#d232ce 91.1%,#ce30cf 93.1%,#d434cd 95%,#fe6397 97.6%,#ffc249 99.1%,#ffd23f 100%)"></i><i style="left:986.1px;background:linear-gradient(#ffffde 0%,#ffff80 25.6%,#ffe632 52.7%,#ffbe4b 64.6%,#ff9276 72.9%,#ff6496 83.1%,#d937cb 91.1%,#d434cd 93.1%,#da38cb 95%,#ff6497 97.2%,#ff9574 98.3%,#ffc04a 99.1%,#ffd040 100%)"></i><i style="left:992.1px;background:linear-gradient(#ffffe5 0%,#ffff80 27.6%,#ffe632 50.1%,#ffbc4d 62.5%,#ff9077 71.1%,#ff6496 81.3%,#e23dc7 91.1%,#de3ac9 93.1%,#e23dc7 95%,#fe6298 96.8%,#ff9871 98.3%,#ffbd4c 99.1%,#ffcd42 100%)"></i><i style="left:998.2px;background:linear-gradient(#ffffe6 0%,#ffffa1 21.1%,#ffff80 27.8%,#ffe632 49.7%,#ffbb4e 62.5%,#ff9375 69.9%,#ff6496 82.2%,#e13cc8 91.1%,#dc39ca 93.1%,#e13cc8 95%,#ff6496 96.8%,#ff9573 98.3%,#ffbe4b 99.1%,#ffcd41 100%)"></i><i style="left:1004.3px;background:linear-gradient(#ffffe6 0%,#ffff80 29.5%,#ffe632 51.9%,#ffc149 63.8%,#ff9a6f 70.1%,#fe6398 83.9%,#da38cb 91.1%,#d635cc 93.1%,#db38ca 95%,#fe6397 97%,#ff9475 98.3%,#ffc348 99.1%,#ffd33e 100%)"></i><i style="left:1010.3px;background:linear-gradient(#ffffe1 0%,#ffff80 27.1%,#ffe632 52.3%,#ffbe4b 65.3%,#ff6496 83.5%,#e03cc8 90.2%,#d132ce 93.1%,#d535cc 95%,#fd6199 97.4%,#ff9772 98.5%,#ffc04a 99.1%,#ffd03f 100%)"></i><i style="left:1016.4px;background:linear-gradient(#ffffd9 0%,#ffff80 23.6%,#ffe632 51%,#ffb653 68.8%,#ff6496 82.9%,#e03bc8 89.8%,#d132ce 91.3%,#cd30d0 93.1%,#d132ce 95%,#e13cc8 95.5%,#fe6397 97.8%,#ffbb4e 99.1%,#ffcc42 100%)"></i><i style="left:1022.5px;background:linear-gradient(#ffffd9 0%,#ffff80 24.3%,#ffe632 49%,#ffb851 70.9%,#ff9574 76.4%,#ff6496 81.8%,#e13cc8 88.9%,#cb2fd0 91.3%,#c72cd2 93.1%,#cc2fd0 95%,#e23dc7 95.7%,#fe6398 97.8%,#ffba4f 99.1%,#ffcd42 100%)"></i><i style="left:1028.5px;background:linear-gradient(#ffffdc 0%,#ffff80 25.2%,#ffe632 48.6%,#ffbe4b 70.1%,#ff9673 75.7%,#fe6397 80.7%,#e13cc8 87.9%,#c62bd3 91.1%,#c229d4 93.1%,#c72cd2 95%,#e13cc8 95.7%,#fb5f9c 97.4%,#ffba4f 99.1%,#ffce41 100%)"></i><i style="left:1034.6px;background:linear-gradient(#ffffdb 0%,#ffff80 24.9%,#ffe632 49.9%,#ffc249 68.3%,#ff6496 80.1%,#e13cc7 87.4%,#c229d4 91.1%,#c128d4 92.9%,#ca2ed1 95%,#e03bc8 95.5%,#ff6496 97.2%,#ff9276 98.3%,#ffbb4e 99.1%,#ffd040 100%)"></i><i style="left:1040.7px;background:linear-gradient(#ffffda 0%,#ffffb7 11.5%,#ffff80 24.5%,#ffe632 50.5%,#ffbe4b 68.3%,#ff9574 73.6%,#ff6496 81.4%,#e03bc8 87.6%,#c42ad3 91.1%,#c42ad3 92.9%,#cd2fd0 95%,#e23dc6 95.5%,#fd6199 97%,#ff9970 98.5%,#ffc249 99.2%,#ffd040 100%)"></i><i style="left:1046.7px;background:linear-gradient(#ffffd7 0%,#ffff80 21.9%,#ffe632 47.3%,#ffb950 68.1%,#ff6496 82.4%,#e03cc8 88.5%,#c92dd1 91.1%,#c82dd2 92.9%,#ce30cf 95%,#e13cc8 95.5%,#fe6298 97.4%,#ffbc4d 99.2%,#ffca44 100%)"></i><i style="left:1052.8px;background:linear-gradient(#ffd 0%,#ffff80 24.1%,#ffe632 46.2%,#ffbe4b 64.6%,#ffac5d 70.3%,#ff6496 83.3%,#e13dc7 88.9%,#cb2ed1 91.1%,#c82cd2 93.1%,#cc2fd0 95%,#e13cc8 95.7%,#fc619a 97.8%,#ffba4f 99.2%,#ffc845 100%)"></i><i style="left:1058.9px;background:linear-gradient(#ffffe5 0%,#ffffb7 15.2%,#ffff80 28%,#ffe632 49.2%,#ffc149 66.6%,#ffb059 70.7%,#ff6596 83.1%,#e13cc8 88.9%,#c82dd2 91.3%,#c52bd3 93.1%,#ca2ed1 95%,#e23ec6 95.9%,#fd6299 98%,#ffbe4b 99.2%,#ffce41 100%)"></i><i style="left:1064.9px;background:linear-gradient(#ffffe4 0%,#ffffc6 11.7%,#ffff80 28.6%,#ffe632 50.6%,#ffbe4b 67.2%,#ff9970 75.7%,#fe6397 82.2%,#e03cc8 88.9%,#ca2ed1 91.3%,#c82cd2 93.1%,#ce30cf 95%,#e23ec6 95.7%,#ff6496 98%,#ffc04a 99.2%,#ffd040 100%)"></i><i style="left:1071px;background:linear-gradient(#ffffe9 0%,#ffff98 27.1%,#ffe632 52.3%,#ffb158 69.6%,#ff9077 76.6%,#ff6596 81.8%,#e23dc7 86.8%,#9f14e2 90.9%,#9812e4 92.6%,#9d13e2 94.1%,#e23ec6 97%,#ff6595 98.1%,#ffbe4b 99.2%,#ffce41 100%)"></i><i style="left:1077.1px;background:linear-gradient(#ffffea 0%,#ffffc6 13.9%,#ffff87 31.7%,#ffe632 51.8%,#ffbe4b 65.5%,#ff9077 77.9%,#ff6496 81.8%,#e23dc7 86.4%,#9812e4 90.9%,#9310e7 92.6%,#9712e5 94.1%,#e13cc8 96.8%,#fe6298 98.1%,#ffc04a 99.2%,#ffd040 100%)"></i><i style="left:1083.1px;background:linear-gradient(#ffffe8 0%,#ffff80 31.4%,#ffe632 48.2%,#ffbe4b 62.9%,#ff9673 77.4%,#ff6595 81.6%,#e13cc8 85.7%,#9711e5 90.9%,#9511e6 92.4%,#9d13e2 94.1%,#e33fc4 96.8%,#fd6299 98.1%,#ffbd4c 99.2%,#ffcc42 100%)"></i><i style="left:1089.2px;background:linear-gradient(#ffffe8 0%,#ffffbd 14.8%,#ffff7f 31.4%,#ffe632 46.6%,#ff9574 76.6%,#ff6496 80.7%,#e23dc7 84.4%,#a115e1 90.5%,#9c13e3 92.4%,#a316e0 94.1%,#e33fc4 96.8%,#ff6695 98.3%,#ffba4f 99.2%,#ffc944 100%)"></i><i style="left:1095.3px;background:linear-gradient(#ffe 0%,#ffffc1 16.5%,#fffc78 35.4%,#ffec45 39.3%,#ffe632 43%,#ffb752 64.9%,#ff9970 74.6%,#ff8b7a 76.6%,#ff6496 79.8%,#e03cc8 83.7%,#ae1ddc 90.9%,#aa1add 92.6%,#ae1ddc 94.1%,#e23ec6 96.8%,#ff6595 98.3%,#ffba4f 99.2%,#ffca44 100%)"></i><i style="left:1101.3px;background:linear-gradient(#fffff0 0%,#ffffcf 13.2%,#ffff83 33.8%,#fffe7c 35.4%,#ffee4b 39.3%,#ffe632 45.1%,#ffbc4d 64.9%,#ff9871 74.6%,#ff6595 80%,#e13cc8 84.6%,#b11fda 92.6%,#b521d9 94.1%,#e23ec6 96.8%,#ff6596 98.3%,#ffbe4b 99.2%,#ffce41 100%)"></i><i style="left:1107.4px;background:linear-gradient(#ffffed 0%,#ffffbe 18.4%,#ffff89 32.5%,#ffe632 51.4%,#ffb158 69%,#ff9673 75.5%,#ff6397 81.4%,#e13cc7 86.1%,#b21fda 90.9%,#ae1ddc 92.6%,#b11eda 94.1%,#e33ec5 96.8%,#fe6397 98.3%,#ffc248 99.2%,#ffd33e 100%)"></i><i style="left:1113.5px;background:linear-gradient(#ffffea 0%,#ffffd2 10.9%,#ffffa1 25%,#ffff80 32.8%,#ffe632 51%,#ffa762 70.9%,#ff9375 75.7%,#ff6596 82%,#e13dc7 86.8%,#af1ddb 90.9%,#ab1bdd 92.6%,#af1ddb 94.1%,#e33ec5 96.8%,#fd6299 98.3%,#ffbf4a 99.2%,#ffd040 100%)"></i><i style="left:1119.5px;background:linear-gradient(#ffffe9 0%,#ffffc7 13%,#ffff86 30.2%,#ffe632 48.4%,#ffa168 71.1%,#ff6595 82%,#e13cc8 87.2%,#b21fda 90.9%,#af1ddb 92.6%,#b31fda 94.1%,#e23ec6 96.7%,#ff6497 98.3%,#ffbb4e 99.2%,#ffcb43 100%)"></i><i style="left:1125.6px;background:linear-gradient(#ffffea 0%,#ffffa1 24.3%,#fffd79 33%,#ffe632 47.5%,#ffbb4e 63.1%,#ff9673 73.5%,#ff6595 81.4%,#e13cc8 87.6%,#b420d9 90.9%,#b11fda 92.4%,#b823d8 94.1%,#e541c2 96.7%,#ff6794 98.3%,#ffbc4d 99.2%,#ffcb43 100%)"></i><i style="left:1131.7px;background:linear-gradient(#ffffed 0%,#ffffa2 25.2%,#fffe7b 33.8%,#ffe632 49.3%,#ffbe4b 63.3%,#ff9772 73.1%,#ff6496 80.9%,#e13cc8 88.3%,#b722d8 90.9%,#b320da 92.4%,#ba24d7 94.1%,#e846bc 97.2%,#ff6595 98.3%,#ffc04a 99.2%,#ffcf40 100%)"></i><i style="left:1137.7px;background:linear-gradient(#ffffed 0%,#ffffc3 15%,#fffe7c 33.8%,#ffe632 49%,#ffb950 63.8%,#ff9673 72.5%,#ff6496 80.1%,#e440c3 88.9%,#d535cd 90.2%,#b521d9 91.1%,#b11fda 92.6%,#b521d9 94.1%,#e23dc7 97.4%,#ff6695 98.3%,#ffbd4c 99.2%,#ffcc42 100%)"></i><i style="left:1143.8px;background:linear-gradient(#ffffed 0%,#ffffc4 15%,#fffe7c 33.9%,#ffe632 48.6%,#ffbc4d 62.9%,#ff9673 72.3%,#ff6496 79.8%,#e33fc5 89.6%,#b521d9 91.1%,#b11edb 92.6%,#b420d9 94.1%,#e13dc7 97.4%,#ff718d 98.3%,#ffbb4e 99.2%,#ffca43 100%)"></i><i style="left:1149.9px;background:linear-gradient(#ffffeb 0%,#ffffa5 24.9%,#ffff80 33%,#ffe632 50.5%,#ffbe4b 63.4%,#ff9673 72.9%,#ff6496 80.7%,#e440c2 88.9%,#de3ac9 89.6%,#b722d8 91.1%,#b31fda 92.6%,#b622d8 94.1%,#e33fc4 97.2%,#fe6397 98.1%,#ffbf4a 99.2%,#ffcf41 100%)"></i><i style="left:1155.9px;background:linear-gradient(#ffffea 0%,#ffffa3 25.8%,#ffff80 33%,#ffe632 51%,#ffbe4b 64.7%,#ff9475 74.9%,#ff6596 82.2%,#e03cc8 88.7%,#b722d8 90.9%,#b21fda 92.6%,#b621d9 94.1%,#e23dc7 97%,#fd619a 98.1%,#ffc248 99.2%,#ffd23f 100%)"></i><i style="left:1162px;background:linear-gradient(#ffffea 0%,#ffffa4 25.2%,#ffff80 33.2%,#ffe632 51.6%,#ffbe4b 64.4%,#ff9970 75.1%,#ff6893 82.7%,#e13dc7 88.1%,#b621d9 90.9%,#b11eda 92.6%,#b521d9 94.1%,#e23dc6 97%,#fe6398 98.3%,#ffc248 99.2%,#ffd23e 100%)"></i><i style="left:1168.1px;background:linear-gradient(#ffffeb 0%,#ffc 12.2%,#ffff8c 30.6%,#ffe632 51.2%,#ff9077 76.8%,#ff6596 83.9%,#e13cc8 88.1%,#b01edb 90.9%,#aa1add 92.6%,#ad1cdc 94.1%,#e440c3 97.4%,#ff6496 98.5%,#ffbd4c 99.2%,#ffcd42 100%)"></i><i style="left:1174.1px;background:linear-gradient(#ffffec 0%,#ffffce 12.8%,#ffff95 29.9%,#ffe632 51.4%,#ff6695 84.2%,#e13cc8 87.9%,#ae1ddc 90.9%,#a819de 92.6%,#ab1bdd 94.1%,#e33fc4 97.4%,#ff6c90 98.5%,#ffc04a 99.2%,#ffd040 100%)"></i><i style="left:1180.2px;background:linear-gradient(#ffffec 0%,#ffffce 12.4%,#ffff90 30.1%,#ffe632 51.2%,#ff6595 83.9%,#e03bc9 87.9%,#b11fda 90.9%,#aa1add 92.6%,#ad1cdc 94.1%,#e33ec5 97%,#ff6397 98.1%,#ffc149 99.2%,#ffd13f 100%)"></i><i style="left:1186.3px;background:linear-gradient(#ffffea 0%,#ffffc9 13.5%,#ffff85 32.1%,#ffe632 51.6%,#ff8c7a 77%,#ff6496 83.7%,#e13cc8 87.7%,#ab1bdd 90.9%,#a618df 92.6%,#aa1add 94.1%,#e33fc5 97%,#ff6993 98.1%,#ffbf4a 99.2%,#ffcf40 100%)"></i><i style="left:1192.3px;background:linear-gradient(#ffffeb 0%,#ffffc8 13.9%,#ff8 32.1%,#ffe632 52.7%,#ffbe4b 62.3%,#ff9a6f 75.3%,#ff6893 83.1%,#e13cc8 87.6%,#9f14e1 90.9%,#9c13e3 92.4%,#a416e0 94.1%,#e33fc5 97.2%,#ff6a92 98.1%,#ffc149 99.2%,#ffd13f 100%)"></i><i style="left:1198.4px;background:linear-gradient(#ffffec 0%,#ffff85 32.7%,#ffe632 51%,#ff9574 74.6%,#ff6595 83.1%,#e13dc7 87.4%,#9812e5 90.9%,#9210e7 92.4%,#9a12e3 94.1%,#e33fc5 97.4%,#ff6794 98.1%,#ffbc4d 99.2%,#ffcb43 100%)"></i><i style="left:1204.5px;background:linear-gradient(#ffffef 0%,#ffffd9 9.6%,#ffff81 34.5%,#ffe632 51%,#ffb752 64.2%,#ff6496 82.9%,#e23dc7 87.4%,#9c13e3 90.9%,#9411e6 92.6%,#9a12e4 94.1%,#e23dc7 97.2%,#ff6397 98.1%,#ffbb4e 99.2%,#ffca43 100%)"></i><i style="left:1210.5px;background:linear-gradient(#fffff5 0%,#ffffca 17.3%,#ffff89 35.8%,#ffe632 54.2%,#ff8e79 76.8%,#ff6496 82.4%,#e13dc7 87.2%,#9b13e3 90.9%,#9611e5 92.6%,#9b13e3 94.1%,#e03bc9 97%,#fe6298 98.1%,#ffbd4c 99.2%,#ffcc42 100%)"></i><i style="left:1216.6px;background:linear-gradient(#fff 0%,#fffff9 12.8%,#ffffde 21.9%,#fffe7e 40.8%,#ffe632 53.2%,#ff9276 74.2%,#fe6397 81.1%,#df3bc9 86.3%,#a115e1 90%,#5800ff 92.8%,#5200ff 95.4%,#9f14e1 97%,#e441c2 97.8%,#ff6496 98.3%,#ffb653 99.2%,#ffb950 100%)"></i><i style="left:1222.7px;background:linear-gradient(#fff 0%,#fff 8.7%,#ffffe5 21%,#ffff81 41.4%,#ffe632 56%,#ff8e79 74.2%,#ff6496 80.1%,#e13cc8 86.1%,#a215e0 89.8%,#5800ff 92.6%,#4f00ff 94.2%,#5200ff 95.4%,#5f02fd 95.7%,#a215e0 97%,#e642c0 97.8%,#ff6695 98.3%,#ffbb4e 99.2%,#ffbd4c 100%)"></i><i style="left:1228.7px;background:linear-gradient(#fff 0%,#fff 8.3%,#ffffe6 19.5%,#ffff81 40.4%,#ffe632 55.8%,#ffbe4b 64%,#fe6397 79.6%,#e03bc9 85.7%,#9f14e1 89.8%,#5800ff 92.8%,#5200ff 94.2%,#5900ff 95.5%,#a115e1 97%,#e542c1 97.8%,#ff6595 98.3%,#ffbb4e 99.2%,#ffbd4c 100%)"></i><i style="left:1234.8px;background:linear-gradient(#fff 0%,#fffff9 11.7%,#ffffd0 24.1%,#ffff7f 39.3%,#ffe632 53.2%,#ffbe4b 63.1%,#ff9276 72%,#ff6496 78.8%,#e03bc9 85.5%,#a014e1 89.6%,#6303fb 92.8%,#5d01fe 94.2%,#6303fb 95.5%,#9711e5 96.8%,#e440c3 97.8%,#ff6496 98.3%,#ffb851 99.2%,#ffbb4e 100%)"></i><i style="left:1240.9px;background:linear-gradient(#fff 0%,#fffff9 11.5%,#ffffd1 23.9%,#ffff80 39%,#ffe632 52.7%,#ffbe4b 62.7%,#ff6496 79.8%,#e13cc8 86.1%,#9d13e2 89.4%,#6603fa 92.8%,#6202fc 94.2%,#6904f9 95.5%,#9b13e3 96.8%,#e642c0 97.8%,#ff6695 98.3%,#ffbb4e 99.2%,#ffbd4c 100%)"></i><i style="left:1246.9px;background:linear-gradient(#fff 0%,#fffff9 11.3%,#ffffdb 21.3%,#ffffae 31.4%,#ffff80 38.8%,#ffe632 52.7%,#ffbe4b 62.1%,#ff9b6e 69.4%,#ff6496 81.4%,#e13cc8 86.6%,#9b13e3 89.6%,#6302fb 92.8%,#5d01fe 94.2%,#6102fc 95.5%,#9611e5 96.8%,#e33fc4 97.8%,#fe6397 98.3%,#ffb851 99.2%,#ffbb4e 100%)"></i><i style="left:1253px;background:linear-gradient(#fff 0%,#fffff9 11.3%,#ffffda 21.1%,#ffff80 39%,#ffe632 53.4%,#ff6496 82.9%,#e13cc8 86.8%,#a115e1 89.6%,#5a00ff 92.8%,#50f 94.2%,#5b00fe 95.5%,#a316e0 97%,#e541c2 97.8%,#ff6595 98.3%,#ffba4f 99.2%,#ffbc4d 100%)"></i><i style="left:1259.1px;background:linear-gradient(#fff 0%,#fffff9 10.4%,#ffd 20.2%,#ffff80 38.6%,#ffe632 54.2%,#ffbe4b 63.3%,#ff9772 70.9%,#ff6496 83.9%,#e13cc8 87%,#9f14e2 90.2%,#5900ff 92.6%,#5100ff 94.2%,#5800ff 95.5%,#a617df 97%,#e642c0 97.8%,#ff6694 98.3%,#ffbd4c 99.2%,#ffbf4a 100%)"></i><i style="left:1265.1px;background:linear-gradient(#fff 0%,#fffff9 10.2%,#ffffde 20.2%,#ffff80 38.4%,#ffe632 54.9%,#ffbe4b 64.2%,#ff8d7a 73.1%,#fe6398 83.5%,#df3bc9 87.2%,#9e13e2 90.5%,#5a00ff 92.6%,#5000ff 94.2%,#5200ff 95.4%,#5f01fd 95.7%,#a316e0 97%,#e440c3 97.8%,#fe6397 98.3%,#ffba4f 99.2%,#ffbd4c 100%)"></i><i style="left:1271.2px;background:linear-gradient(#fff 0%,#fffffb 10.2%,#ffffde 21.1%,#ffff80 40.4%,#ffe632 56.6%,#ffbf4a 64.9%,#ff897c 73.6%,#ff6596 81.1%,#f658a5 83.5%,#e03bc8 86.8%,#9f14e2 90.5%,#5b00ff 92.8%,#50f 94.2%,#5c01fe 95.5%,#a617df 97%,#e541c2 97.8%,#ff6496 98.3%,#ffbf4b 99.2%,#ffc149 100%)"></i><i style="left:1277.3px;background:linear-gradient(#fff 0%,#fffff9 11.7%,#ffd 22.3%,#ffffa7 35.1%,#ffff80 41.4%,#ffe632 57%,#ffbf4b 64.9%,#ff6596 79.2%,#f557a6 82%,#df3bc9 86.6%,#9f14e1 90.3%,#6603fa 92.8%,#6002fc 94.2%,#6804f9 95.5%,#9c13e3 96.8%,#e642c0 97.8%,#ff6695 98.3%,#ffc149 99.2%,#ffc447 100%)"></i><i style="left:1283.3px;background:linear-gradient(#fff 0%,#fffffa 11.7%,#ffffdf 22.3%,#ffffa3 36.2%,#ffff80 41.4%,#ffe532 58.3%,#ffbd4c 66.2%,#ff6496 79%,#f456a8 81.8%,#e13cc8 86.1%,#9f14e2 90.2%,#6b05f8 92.8%,#6503fa 94.2%,#6c05f7 95.5%,#9b13e3 96.8%,#e541c2 97.8%,#ff6496 98.3%,#ffc149 99.2%,#ffc348 100%)"></i><i style="left:1289.4px;background:linear-gradient(#fff 0%,#fffffa 10.8%,#ffffde 22.1%,#ffff80 41%,#fff257 52.7%,#ffe632 59.7%,#ffbe4b 67.3%,#ff6496 78.3%,#ef4fb0 82.2%,#e03bc9 85.3%,#a014e1 89.2%,#6704f9 92.8%,#6202fc 94.2%,#6804f9 95.5%,#9912e4 96.8%,#e43fc4 97.8%,#fe6398 98.3%,#ffc04a 99.2%,#ffc348 100%)"></i><i style="left:1295.5px;background:linear-gradient(#fff 0%,#fffff9 10%,#ffffd6 22.6%,#ffff80 39.5%,#ffe632 59.5%,#ffbd4c 66.8%,#ff6496 78.1%,#e23dc7 84.6%,#9f14e2 88.9%,#5a00ff 92.4%,#4f00ff 94.2%,#5100ff 95.4%,#5e01fd 95.7%,#a416df 97%,#e440c3 97.8%,#ff6496 98.3%,#ffbf4b 99.2%,#ffc149 100%)"></i><i style="left:1301.5px;background:linear-gradient(#fff 0%,#fffffb 10.2%,#ffffdc 22.6%,#ffff80 41.7%,#ffe532 59.7%,#ffbe4b 66.2%,#ff6595 79.2%,#e13cc8 85%,#a115e1 89.2%,#5900ff 92%,#40f 92.9%,#4100ff 94.2%,#4300ff 95.4%,#5c01fe 95.9%,#a417df 97%,#e541c1 97.8%,#ff6595 98.3%,#ffbf4a 99.2%,#ffc249 100%)"></i><i style="left:1307.6px;background:linear-gradient(#fffffe 0%,#fffffa 12.8%,#ffffce 27.8%,#ffff80 41.6%,#ffe632 58.4%,#ffbd4c 66.2%,#fe6397 79.6%,#e03bc8 85.3%,#a014e1 89.8%,#5800ff 92.2%,#4600ff 92.9%,#4300ff 94.2%,#4600ff 95.4%,#50f 95.7%,#9912e4 96.8%,#da38cb 97.6%,#ff6794 98.3%,#ffbc4d 99.2%,#ffbe4b 100%)"></i><i style="left:1313.7px;background:linear-gradient(#fff 0%,#fffff9 12.8%,#ffffdb 22.6%,#ffff80 40.1%,#ffe632 56.8%,#ffbc4d 67.2%,#ff9574 73.6%,#fe6397 78.8%,#de3ac9 85.1%,#a115e1 89.4%,#5800ff 92.2%,#4800ff 92.9%,#4600ff 94.2%,#4900ff 95.4%,#5800ff 95.7%,#9c13e3 96.8%,#dc39ca 97.6%,#ff6794 98.3%,#ffbb4e 99.2%,#ffbd4c 100%)"></i><i style="left:1319.7px;background:linear-gradient(#fff 0%,#fffffa 13.2%,#ffffd9 25%,#ffff80 43.2%,#ffe632 57.9%,#ffbe4b 67.9%,#ff9772 73.6%,#ff6497 78.7%,#e03bc8 84%,#a014e1 88.7%,#5a00ff 91.8%,#4700ff 92.9%,#4600ff 94.2%,#4900ff 95.4%,#5800ff 95.7%,#9c13e3 96.8%,#dc39ca 97.6%,#ff6893 98.3%,#ffc04a 99.2%,#ffc249 100%)"></i><i style="left:1325.8px;background:linear-gradient(#fff 0%,#fffffb 13.7%,#ffffd9 25.2%,#ffff80 42.5%,#ffe632 56.6%,#ffbc4d 67.2%,#ff9673 73.6%,#ff6397 79.8%,#df3bc9 84%,#a014e1 88.3%,#5a00ff 91.6%,#40f 92.9%,#4200ff 94.2%,#4500ff 95.4%,#5e01fd 95.9%,#a215e0 97%,#e642c0 97.8%,#ff6695 98.3%,#ffbc4d 99.2%,#ffbe4b 100%)"></i><i style="left:1331.9px;background:linear-gradient(#fff 0%,#fffff9 12.8%,#ffffda 23.6%,#ffff80 40.6%,#ffe632 55.3%,#ffbe4b 64.7%,#ff9673 74.6%,#ff6496 81.4%,#df3bc9 84.8%,#a014e1 87.9%,#5900ff 91.6%,#40f 92.9%,#4000ff 94.2%,#4200ff 95.4%,#5a00ff 95.9%,#9c13e3 97%,#e33fc4 97.8%,#fe6398 98.3%,#ffb851 99.2%,#ffba4f 100%)"></i><i style="left:1337.9px;background:linear-gradient(#fff 0%,#fffff7 14.1%,#ffffd2 26.3%,#ffff81 42.3%,#ffe632 57.3%,#ff9177 75.1%,#ff6397 81.6%,#e13cc7 85%,#a215e0 88.1%,#5b00ff 91.6%,#40f 92.9%,#4200ff 94.2%,#40f 95.4%,#5c01fe 95.9%,#9e13e2 97%,#e441c2 97.8%,#ff6496 98.3%,#ffbf4b 99.2%,#ffc149 100%)"></i><i style="left:1344px;background:linear-gradient(#fff 0%,#fffff9 13.5%,#ffffd4 26.7%,#ffff81 43%,#ffe632 57.9%,#ffbe4b 66.2%,#fe6397 80.3%,#e13cc8 84.8%,#9611e5 90%,#5800ff 92.2%,#4800ff 92.9%,#40f 94.2%,#4600ff 95.4%,#5d01fe 95.9%,#9f14e2 97%,#e542c1 97.8%,#ff6695 98.3%,#ffc249 99.2%,#ffc547 100%)"></i><i style="left:1350.1px;background:linear-gradient(#fff 0%,#fffff8 13.5%,#ffffd3 26.2%,#ffff80 41.9%,#ffe632 56.2%,#ffa861 70.3%,#ff6496 80%,#e03bc8 84.6%,#a618df 90%,#4b00ff 92.8%,#40f 95.4%,#5a00ff 95.9%,#9a12e4 97%,#e440c3 97.8%,#ff6397 98.3%,#ffbd4c 99.2%,#ffc04a 100%)"></i><i style="left:1356.1px;background:linear-gradient(#fff 0%,#fffffc 8.5%,#ffffe3 18.4%,#ffffb7 28.6%,#ffff80 38%,#ffe632 53.1%,#ffa861 69.8%,#fe6397 81.4%,#f455a9 83.7%,#df3bc9 85.7%,#9f14e2 90.2%,#4a00ff 92.8%,#40f 94.2%,#4700ff 95.4%,#5e01fd 95.9%,#9b12e3 97%,#e440c3 97.8%,#ff6496 98.3%,#ffb950 99.2%,#ffbc4d 100%)"></i><i style="left:1362.2px;background:linear-gradient(#ffffe7 0%,#ffffa5 18.9%,#ffff80 25.8%,#ffea40 39.1%,#ffe632 44%,#ffba4f 66.4%,#ff9673 74.2%,#ff6496 86.6%,#f85aa2 87.9%,#dd39ca 90.3%,#db38ca 92.6%,#e13cc8 95%,#fd6299 97%,#ff9276 98.3%,#ffbd4c 99.1%,#ffd63c 100%)"></i><i style="left:1368.3px;background:linear-gradient(#ffffe0 0%,#ffff80 24.1%,#ffe632 45.6%,#ffbe4b 64.4%,#ff9474 77.2%,#ff6595 87.2%,#df3bc9 90.3%,#db38ca 92.8%,#df3bc9 95%,#fd6299 97%,#ff9176 98.3%,#ffbd4c 99.1%,#ffd63c 100%)"></i><i style="left:1374.3px;background:linear-gradient(#ffffe0 0%,#ffffc6 8.2%,#ffff80 23.9%,#ffe632 44.7%,#ffbc4d 65.3%,#ff6496 86.1%,#e23dc7 90.3%,#dc39ca 92.8%,#e23ec6 95%,#ff6496 96.8%,#ff9574 98.3%,#ffbe4b 99.1%,#ffd63c 100%)"></i><i style="left:1380.4px;background:linear-gradient(#ffffe3 0%,#ffffc8 8.3%,#ffff80 23.9%,#ffe632 43.4%,#ffbd4c 64%,#ff6496 83.5%,#e642c0 90.5%,#e33fc4 92.8%,#e744be 95%,#ff6595 96.3%,#ff9176 98%,#ffc04a 99.1%,#ffd63c 100%)"></i><i style="left:1386.5px;background:linear-gradient(#ffffe2 0%,#ffffc8 8.5%,#ffff80 23.4%,#ffe632 42.3%,#ffbc4d 62.9%,#ff9474 74.6%,#ff6496 81.4%,#e743bf 93.3%,#e845bd 94.8%,#fe6397 95.5%,#ff9574 97.8%,#ffbb4e 98.7%,#ffd53d 100%)"></i><i style="left:1392.5px;background:linear-gradient(#ffffe2 0%,#ff9 19.8%,#ffff80 23.9%,#ffe632 43%,#ffbc4d 62.7%,#ffa267 71.8%,#ff8f78 76.6%,#fd6199 81.6%,#e947bb 92.8%,#ea48b8 94.8%,#ff6595 95.7%,#ff9772 97.8%,#ffc04a 98.7%,#ffd73c 100%)"></i><i style="left:1398.6px;background:linear-gradient(#ffffe4 0%,#ffffbe 11.5%,#ffff80 25.4%,#ffe632 45.1%,#ffbc4d 62.7%,#ff9673 76.2%,#fd6299 81.6%,#e947bb 90.3%,#e946bb 92.6%,#ec4bb5 95%,#ff6596 95.9%,#ff9375 97.8%,#ffc149 98.7%,#ffd83b 100%)"></i><i style="left:1404.7px;background:linear-gradient(#ffffe5 0%,#ffff80 25%,#ffe632 42.3%,#ffcd42 53.8%,#ff9375 76.4%,#ff6397 81.4%,#e845bd 90.3%,#e744be 92.6%,#ea48b9 94.8%,#ff6893 95.7%,#ff9276 97.8%,#ffbc4d 98.7%,#ffd23e 100%)"></i><i style="left:1410.7px;background:linear-gradient(#ffffe7 0%,#ffffc6 9.8%,#ffff80 25.2%,#ffe632 42.9%,#ff9474 74.4%,#ff6496 81.3%,#e947bb 90.3%,#e845bd 92.6%,#ea49b8 94.8%,#ff6794 95.5%,#ff9475 97.8%,#ffba4f 98.7%,#ffd03f 100%)"></i><i style="left:1416.8px;background:linear-gradient(#ffffe9 0%,#ffffc5 10.9%,#ffff80 26.5%,#ffe632 45.6%,#ffbe4b 59.5%,#ff9276 74.4%,#ff6496 82%,#ea49b8 90.3%,#e947bb 92.6%,#ee4db2 95%,#ff6497 95.9%,#ff8d79 97.8%,#ffc248 99.1%,#ffd53d 100%)"></i><i style="left:1422.9px;background:linear-gradient(#ffffe9 0%,#ffffc6 10.9%,#ffff80 26.9%,#ffe632 46.6%,#ffbf4b 61%,#ff9673 73.5%,#ff6496 84%,#ec4bb6 90.3%,#ea49b8 92.8%,#ed4cb4 95%,#ff6695 96.8%,#ff9375 98.3%,#ffc04a 99.1%,#ffd63c 100%)"></i><i style="left:1428.9px;background:linear-gradient(#ffffe9 0%,#ffff93 23.7%,#ffe632 46.2%,#ffbe4b 61%,#ff9276 75.3%,#ff6496 84%,#ee4db3 90.3%,#eb4ab7 93.1%,#ed4cb4 95%,#ff6893 96.8%,#ff9276 98.3%,#ffbe4b 99.1%,#ffd53d 100%)"></i><i style="left:1435px;background:linear-gradient(#ffffe8 0%,#ffff93 23.2%,#ffe632 44.9%,#ff9276 76.6%,#ff6496 83.3%,#ea48b9 92.8%,#ed4bb5 95%,#ff6694 96.3%,#ff9276 98.1%,#ffc04a 99.1%,#ffd63c 100%)"></i><i style="left:1441.1px;background:linear-gradient(#ffffe4 0%,#ffff81 25.2%,#ffe632 45.3%,#ff9871 75.7%,#ff6596 83.1%,#ea48b8 90.3%,#e845bd 92.8%,#eb4ab7 95%,#ff6595 96.1%,#ff9276 98%,#ffbd4c 98.9%,#ffd73c 100%)"></i><i style="left:1447.1px;background:linear-gradient(#ffffe2 0%,#ffffc5 8.9%,#ffff80 24.3%,#ffe632 46.7%,#ff9871 74.6%,#ff6496 82.7%,#e947ba 90.3%,#e744be 92.8%,#ea48b9 95%,#ff6794 96.5%,#ff9375 98%,#ffbc4d 98.9%,#ffd33e 100%)"></i><i style="left:1453.2px;background:linear-gradient(#ffffe4 0%,#ffffb2 14.7%,#ffff80 25%,#ffe632 48.4%,#ffbe4b 61.8%,#ff9f6a 71.6%,#ff6496 82.6%,#e845bc 90.3%,#e643bf 92.8%,#e845bd 94.8%,#fd6299 96.5%,#ffbe4b 98.9%,#ffd53d 100%)"></i><i style="left:1459.3px;background:linear-gradient(#ffffe7 0%,#ffff80 26.2%,#ffe632 49%,#ffbe4b 62.5%,#ff9a6f 73.6%,#ff6496 82.4%,#ea48ba 89.6%,#e745bd 92.8%,#eb49b8 95%,#ff6496 96.1%,#ff9871 97.8%,#ffbe4b 98.7%,#ffd83b 100%)"></i><i style="left:1465.3px;background:linear-gradient(#ffffe7 0%,#ffffc1 12.1%,#ffff80 26.7%,#ffe632 47.7%,#ffbe4b 62.7%,#ff9871 74.4%,#ff6496 83.3%,#e744be 90.3%,#e643c0 94.8%,#ff6794 96.5%,#ff8c7a 97.8%,#ffc248 99.1%,#ffd73b 100%)"></i><i style="left:1471.4px;background:linear-gradient(#ffffea 0%,#ffffc0 13.9%,#ffff93 24.1%,#ffe632 45.1%,#ffbe4b 62.1%,#ffa168 68.6%,#ff6496 85.3%,#e642c0 90.5%,#e33fc5 94.8%,#ff6794 97.2%,#ff9275 98.3%,#ffbe4b 99.1%,#ffd73c 100%)"></i><i style="left:1477.5px;background:linear-gradient(#ffffed 0%,#ffffca 11.7%,#ffff90 25%,#ffe632 43.6%,#ffbe4b 60.8%,#ff9772 69.8%,#ff6794 86.1%,#e643c0 90.5%,#e33ec5 94.8%,#ff6694 97.2%,#ff9375 98.3%,#ffbe4b 99.1%,#ffd53c 100%)"></i><i style="left:1483.5px;background:linear-gradient(#ffffea 0%,#ffffc5 11.9%,#ffff8e 23.9%,#ffe632 44.5%,#ffbe4b 60.7%,#ff9673 70.3%,#ff6893 84%,#e440c3 90.5%,#e13cc8 94.8%,#ff6595 97%,#ff9375 98.3%,#ffbb4e 99.1%,#ffd23f 100%)"></i><i style="left:1489.6px;background:linear-gradient(#ffffe4 0%,#ffffa7 16.9%,#ffff80 24.7%,#ffe632 45.8%,#ffbe4b 62%,#ff9970 70.3%,#ff6794 84%,#f85ba1 86.8%,#e440c3 90.5%,#e23ec6 92.8%,#e541c2 95%,#ff6595 96.8%,#ff9871 98.3%,#ffbe4b 99.1%,#ffd43d 100%)"></i><i style="left:1495.7px;background:linear-gradient(#ffffdb 0%,#ffff80 21.9%,#ffe632 48.2%,#ffbf4a 62.5%,#ff6695 86.8%,#e542c1 90.5%,#e541c2 92.6%,#e946bb 95%,#ff6694 97%,#ffc04a 99.1%,#ffd63c 100%)"></i><i style="left:1501.7px;background:linear-gradient(#ffd 0%,#ffff80 21.9%,#ffe632 45.1%,#ffb851 64.2%,#ff6496 85.3%,#f759a4 87.9%,#e744be 90.5%,#e743bf 92.6%,#ea48b9 95%,#ff6694 96.7%,#ff9276 98.1%,#ffbb4e 99.1%,#ffcf40 100%)"></i><i style="left:1507.8px;background:linear-gradient(#ffffe8 0%,#ffffa0 21.9%,#ffff80 27.6%,#ffe632 48.4%,#ffc149 64%,#ffac5d 69%,#ff9573 73.5%,#ff6496 79.2%,#e13cc8 86.4%,#d132ce 89.2%,#d434cd 90.3%,#e03bc8 91.1%,#ff6794 94.6%,#ff9276 96.3%,#ffe334 98.3%,#fff35a 100%)"></i><i style="left:1513.9px;background:linear-gradient(#ffffe9 0%,#ffff9d 21.9%,#ffff80 27.6%,#ffe632 46.7%,#ffbe4b 64.4%,#ff9673 72.5%,#ff6496 79%,#e13cc8 87%,#d937cb 89.2%,#de3ac9 90.5%,#ff6893 94.1%,#ff9772 96.3%,#ffc04a 97.2%,#ffe633 98.3%,#fff259 100%)"></i><i style="left:1519.9px;background:linear-gradient(#ffffea 0%,#ffffb1 16.9%,#ffff81 27.8%,#ffe632 46.9%,#ffbd4c 64.2%,#ff9772 72.5%,#ff6496 78.7%,#e13cc8 89%,#e43fc4 90.5%,#ff6b91 94.2%,#ff9871 96.3%,#ffe334 98.1%,#fff359 100%)"></i><i style="left:1526px;background:linear-gradient(#ffffe8 0%,#ffff80 26.9%,#ffe632 45.5%,#ffbe4b 61%,#ff9574 72.7%,#ff6496 78.7%,#df3bc9 89.2%,#e23ec6 90.5%,#ff6397 94.2%,#ff9077 96.3%,#ffe135 98.5%,#ffe633 98.9%,#ffef4d 100%)"></i><i style="left:1532.1px;background:linear-gradient(#ffffe7 0%,#ffffc3 11.3%,#fffe7e 26.9%,#ffe632 44.5%,#ffbb4e 60.7%,#ff9177 73.3%,#ff6496 79%,#e13cc8 86.8%,#d635cc 89.2%,#db38ca 90.5%,#ff6496 94.4%,#ff9077 96.7%,#ffe135 98.7%,#ffe632 99.1%,#ffee4a 100%)"></i><i style="left:1538.1px;background:linear-gradient(#ffffe8 0%,#ffffa6 19.8%,#ffff80 27.1%,#ffe632 45.8%,#ffbe4b 62.3%,#ffa465 69.4%,#ff6496 79.8%,#e13cc8 86.3%,#ce31cf 89.2%,#d132ce 90.3%,#e13cc8 91.3%,#ff6694 95%,#ff9772 97%,#ffe533 98.7%,#fff052 100%)"></i><i style="left:1544.2px;background:linear-gradient(#ffffe7 0%,#ffffa3 20.8%,#ffff80 27.8%,#ffe632 46.4%,#ffbc4d 65.5%,#ff9673 73.1%,#ff6496 79.6%,#e13cc8 85.5%,#ca2ed1 87.7%,#c52bd3 89.2%,#ca2ed1 90.5%,#e13dc7 91.8%,#ff6496 95.4%,#ff9375 97%,#ffe532 98.7%,#fff052 100%)"></i><i style="left:1550.3px;background:linear-gradient(#ffffe9 0%,#ffffc7 11.9%,#ffff8a 26.7%,#ffe632 48.2%,#ffbe4b 64.9%,#ff9772 73.5%,#ff6497 79%,#e13cc8 84.8%,#bf27d5 87.7%,#bb24d7 89.2%,#bf27d5 90.5%,#e13cc8 92.2%,#ff6595 95.4%,#ff9b6e 97.2%,#ffe633 98.7%,#fff153 100%)"></i><i style="left:1556.3px;background:linear-gradient(#ffffea 0%,#ffffc6 12.1%,#ffff80 28.2%,#ffe632 48.2%,#ffbf4a 64%,#ff9772 73.1%,#ff6496 78.3%,#e03cc8 84.4%,#b823d8 87.7%,#b420d9 89.2%,#ba24d7 90.5%,#e23dc7 92.4%,#ff6695 95.4%,#ff9a6f 97.2%,#ffe632 98.7%,#fff153 100%)"></i><i style="left:1562.4px;background:linear-gradient(#ffffeb 0%,#ffffc1 13.2%,#fffe7d 28.9%,#ffe632 46.4%,#ffbe4b 62.7%,#ff9474 73.1%,#ff6595 77.7%,#e13cc8 83.5%,#b21fda 87.7%,#af1ddb 89%,#b622d8 90.5%,#e13cc8 92.4%,#ff6596 95.4%,#ff9970 97.4%,#ffe533 99.1%,#ffef4f 100%)"></i><i style="left:1568.5px;background:linear-gradient(#ffffef 0%,#ffffb3 18.7%,#ffff80 29.1%,#ffe632 48.4%,#ffbe4b 62.1%,#ff9276 73.6%,#fe6397 78.8%,#e23dc7 83.5%,#ab1bdd 87.7%,#a718de 89.2%,#ab1bdd 90.5%,#e23dc7 93.1%,#ff6497 95.9%,#ff9077 97.6%,#ffe135 99.1%,#ffe632 99.2%,#ffef4e 100%)"></i><i style="left:1574.5px;background:linear-gradient(#fffff2 0%,#ffffb5 19.7%,#ffff80 30.2%,#ffe632 49.9%,#ffb851 65.1%,#ff9375 73.8%,#ff6695 79.6%,#e03cc8 84%,#a517df 87.7%,#9f14e2 89.2%,#a316e0 90.5%,#e13cc8 93.5%,#fe6398 96.5%,#ff9772 98%,#ffe036 99.1%,#ffe532 99.2%,#ffef4d 100%)"></i><i style="left:1580.6px;background:linear-gradient(#fffff2 0%,#ffffca 14.7%,#ffff90 29.5%,#ffe632 51.4%,#ffc04a 65.3%,#ff9772 73.3%,#ff6496 79.4%,#e13dc7 83.9%,#ad1cdc 87.7%,#aa1add 89%,#b01edb 90.5%,#e03bc8 92.9%,#fe6298 96.3%,#ffbf4a 98.7%,#ffe533 99.1%,#fff155 100%)"></i><i style="left:1586.7px;background:linear-gradient(#fffff1 0%,#ffffb4 21.3%,#ffff80 32.8%,#ffe632 52.1%,#ffc547 65.5%,#ff9c6d 73.3%,#ff6397 78.8%,#e13dc7 83.7%,#b320da 87.7%,#b11edb 89%,#b722d8 90.5%,#e13cc8 92.8%,#fe6397 96.3%,#ffd63c 98.9%,#ffe839 99.1%,#fff35b 100%)"></i><i style="left:1592.7px;background:linear-gradient(#fffff2 0%,#ffffb4 21.1%,#ffff80 32.3%,#ffe632 52.1%,#ffc149 65.7%,#ff9871 74%,#ff6496 78.5%,#e13cc7 83.1%,#a517df 87.7%,#a114e1 89.2%,#a618df 90.5%,#e03bc8 93.1%,#ff6595 96.3%,#ffc04a 98.7%,#ffe632 99.1%,#fff154 100%)"></i><i style="left:1598.8px;background:linear-gradient(#fffff4 0%,#ffffb5 20.6%,#ffff80 32.5%,#ffe632 51.9%,#ffbe4b 65.9%,#ff9673 73.8%,#ff6497 78.1%,#e13cc8 82.7%,#9912e4 87.7%,#9411e6 89.2%,#9a12e3 90.5%,#df3bc9 93.5%,#fe6397 96.3%,#ffbb4e 98.7%,#ffe135 99.1%,#ffef4f 100%)"></i><i style="left:1604.9px;background:linear-gradient(#fffff5 0%,#ffffb0 22.4%,#ffff80 32.8%,#ffe632 51.2%,#ffbe4b 66.2%,#ff9871 73.5%,#ff6496 78.1%,#e13dc7 82.7%,#9a12e4 87.7%,#9711e5 89.2%,#9d13e2 90.5%,#df3bc9 93.5%,#fe6298 96.3%,#ffbc4d 98.7%,#ffe135 99.1%,#fff050 100%)"></i><i style="left:1610.9px;background:linear-gradient(#fffff4 0%,#ffffb2 23.2%,#ffff80 33.8%,#ffe632 51.2%,#ffbe4b 66.2%,#ff8f78 74.9%,#ff6497 79%,#e23dc7 83.1%,#a115e1 87.7%,#9e13e2 89%,#a417df 90.5%,#e13dc7 93.3%,#fe6397 96.3%,#ffbe4b 98.7%,#ffe433 99.1%,#fff153 100%)"></i><i style="left:1617px;background:linear-gradient(#ffffef 0%,#ffffbf 16.5%,#ffff80 31.4%,#ffe632 52.3%,#ffbe4b 66.6%,#ff9970 74.9%,#ff6496 79.8%,#e13dc7 84%,#aa1add 87.7%,#a517df 89.2%,#a91add 90.5%,#e13cc7 93.3%,#ff6496 96.5%,#ff9970 98%,#ffe632 99.1%,#fff256 100%)"></i><i style="left:1623.1px;background:linear-gradient(#ffffeb 0%,#ffffc7 11.9%,#ffff80 28.8%,#ffe632 52.1%,#ffbe4b 66.6%,#ff9871 74.4%,#ff6496 79.6%,#e13cc8 84.6%,#b621d9 87.7%,#b11edb 89.2%,#b521d9 90.5%,#e23dc7 92.9%,#fd6299 96.1%,#ff9d6c 98%,#ffe734 99.1%,#fff155 100%)"></i><i style="left:1629.1px;background:linear-gradient(#ffffea 0%,#ffffc7 11.7%,#ffff80 27.5%,#ffe632 49.5%,#ffb950 67%,#ff9573 73.1%,#ff6496 78.1%,#e13cc8 84.6%,#bc26d6 87.7%,#b823d8 89.2%,#bd26d6 90.5%,#e13cc8 92.4%,#fe6398 95.7%,#ff9e6b 97.6%,#ffe334 98.9%,#ffef4f 100%)"></i><i style="left:1635.2px;background:linear-gradient(#ffffe4 0%,#ffffba 12.1%,#ffff80 24.7%,#ffe632 46.2%,#ffb356 69.4%,#ff9673 73.5%,#fe6398 78.1%,#e13dc7 84.6%,#c128d4 89.2%,#c42ad3 90.5%,#e13cc8 92.2%,#ff6595 95.7%,#ff9871 97.2%,#ffe433 98.7%,#ffef4e 100%)"></i><i style="left:1641.3px;background:linear-gradient(#ffffe4 0%,#ffff80 25.2%,#ffe632 43.8%,#ffc646 62.7%,#ffb257 69.4%,#ff6496 78.8%,#e13cc8 85.3%,#cd30d0 87.7%,#ca2ed1 89.2%,#cf31cf 90.5%,#e03cc8 91.6%,#ff6596 95.7%,#ff9375 97%,#ffe632 98.7%,#fff053 100%)"></i><i style="left:1647.3px;background:linear-gradient(#ffffea 0%,#ffff93 24.5%,#ffe632 43.8%,#ffb752 65.5%,#ff9375 73.1%,#ff6496 80%,#e13cc8 86.8%,#d736cc 89%,#de3ac9 90.5%,#ff6794 95%,#ff9772 97%,#ffe433 98.5%,#fff259 100%)"></i><i style="left:1653.4px;background:linear-gradient(#fff 0%,#fffffe 6.1%,#ffffec 12.4%,#ffffb1 21.7%,#ffff80 27.5%,#ffe632 40.6%,#ffbe4b 55.3%,#ff9871 69.2%,#ff6496 80.1%,#f050af 87.4%,#f152ad 88.5%,#ff6496 89.8%,#ff9474 95.9%,#ffe532 98.5%,#fff560 100%)"></i><i style="left:1659.5px;background:linear-gradient(#fff 0%,#fffffe 5.8%,#ffffec 12.1%,#ffff80 27.3%,#ffe632 42.9%,#ffb851 58.6%,#ff6496 81.6%,#f152ad 87.4%,#f354aa 88.7%,#ff6595 90.9%,#ff9574 95.9%,#ffe234 98.3%,#fff663 100%)"></i><i style="left:1665.5px;background:linear-gradient(#fff 0%,#fffffe 6.9%,#ffffe8 13.2%,#ffffc9 18.2%,#ffff7f 26.9%,#ffe632 40.4%,#ff768a 79%,#ff6496 83.5%,#f252ac 86.1%,#f050ae 87.4%,#ff6397 91.8%,#ff9176 95.9%,#ffe334 98.5%,#fff45d 100%)"></i><i style="left:1671.6px;background:linear-gradient(#fff 0%,#fffffc 9.1%,#ffffdf 16.5%,#ffff80 28.4%,#ffe632 40.6%,#ff9673 70.1%,#ff6496 80.9%,#eb49b7 87.4%,#ec4bb5 88.7%,#ff6496 92%,#ff8f78 95.2%,#ffa861 96.5%,#ffe234 98.1%,#fff562 100%)"></i><i style="left:1677.7px;background:linear-gradient(#fff 0%,#fffff9 10.8%,#ffffe0 16.9%,#ffff80 28.9%,#ffe632 41.2%,#ff9673 69.4%,#ff6496 78.5%,#ea48b9 84%,#e440c3 87.2%,#e643bf 88.7%,#ff6496 91.3%,#ff8f78 94.4%,#ffb950 96.5%,#ffe532 97.8%,#fff766 100%)"></i><i style="left:1683.7px;background:linear-gradient(#fff 0%,#fff 7.6%,#ffffec 14.1%,#ffffb2 23.2%,#ffff80 28.6%,#ffe632 41.9%,#ffba4f 57.7%,#ff9673 69%,#ff6496 77.7%,#e13cc8 85.7%,#dd39ca 87.4%,#e23dc7 88.7%,#ff6496 91.6%,#ff8d79 94.4%,#ffb653 96.5%,#ffe234 97.8%,#fff664 100%)"></i><i style="left:1689.8px;background:linear-gradient(#fff 0%,#fffffe 8.5%,#ffffe9 14.8%,#ffffb7 23.2%,#ffff80 29.7%,#ffe632 43.2%,#ffbe4b 57.3%,#ff9871 70.3%,#ff6496 78.5%,#e13cc8 84.4%,#ce31cf 87.4%,#d132ce 88.5%,#e13cc8 89.4%,#ff6e8f 93.7%,#ffa168 96.3%,#ffe135 98.1%,#fff664 100%)"></i><i style="left:1695.9px;background:linear-gradient(#fff 0%,#fffffe 9.6%,#ffffe2 17.6%,#ffff80 31.2%,#ffe632 44.3%,#ff8e78 74.8%,#ff6397 79.2%,#e23dc7 83.5%,#c128d4 85.9%,#bc25d6 87.4%,#c028d5 88.7%,#e13dc7 90.5%,#ff6496 93.9%,#ff9a6f 96.3%,#ffdf36 98.1%,#ffe735 98.3%,#fff767 100%)"></i><i style="left:1701.9px;background:linear-gradient(#fff 0%,#fffffd 11.1%,#ffffe9 17.6%,#ffffc1 24.3%,#ffff80 32.1%,#ffe632 45.5%,#ff9276 74.8%,#ff6496 79.2%,#e13dc7 83.1%,#b521d9 85.9%,#b01edb 87.4%,#b521d9 88.7%,#e03cc8 90.7%,#ff6397 93.7%,#ff9871 96.1%,#ffe036 98.1%,#ffe736 98.3%,#fff766 100%)"></i><i style="left:1708px;background:linear-gradient(#fff 0%,#fff 11.1%,#ffffef 17.6%,#ffffca 23.9%,#ffff80 33%,#ffe632 46%,#ffa069 69.6%,#ff8e78 73.5%,#fe6397 78.1%,#e23dc7 82.2%,#ab1bdd 85.9%,#a819de 87.2%,#ad1cdc 88.7%,#e03bc9 90.9%,#ff6496 93.9%,#ff9a6f 96.5%,#ffe334 98.5%,#fff560 100%)"></i><i style="left:1714.1px;background:linear-gradient(#fff 0%,#fff 11.3%,#ffe 17.6%,#ffffc9 24.1%,#ffff7f 32.8%,#ffe632 46.7%,#ffbb4e 60.7%,#ff9077 71.8%,#ff6397 76.6%,#e13cc8 81.4%,#a91add 85.9%,#a517df 87.4%,#aa1add 88.7%,#e03bc8 91.1%,#ff6496 94.1%,#ff9871 96.7%,#ffe235 98.7%,#fff45d 100%)"></i><i style="left:1720.1px;background:linear-gradient(#fffffe 0%,#fffffe 11.9%,#ffffec 17.6%,#ffffb8 26.2%,#ffff7f 32.5%,#ffe632 47.7%,#ffb851 62.3%,#ff9573 69.2%,#ff6496 75.1%,#e13cc8 81.4%,#ae1ddc 85.9%,#a91add 87.4%,#ae1ddc 88.7%,#e13cc7 91.1%,#ff6595 94.2%,#ff9574 96.8%,#ffe632 99.1%,#fff359 100%)"></i><i style="left:1726.2px;background:linear-gradient(#fffffe 0%,#fffffe 12.1%,#ffffeb 18.4%,#ffffc4 24.9%,#ffff80 33.2%,#ffe632 49.5%,#ffba4f 63.8%,#ff6496 74.8%,#e03cc8 81.6%,#b01edb 85.9%,#ac1cdc 87.4%,#b21fda 88.7%,#e13dc7 91.1%,#ff6595 94.6%,#ff9673 97%,#ffe533 99.1%,#fff35b 100%)"></i><i style="left:1732.3px;background:linear-gradient(#fff 0%,#fff 12.1%,#ffffed 17.8%,#ffffc6 24.9%,#ffff80 33%,#ffe632 49.2%,#ffbd4c 64.2%,#ff6397 75.9%,#e13dc7 81.6%,#b320da 85.9%,#b01edb 87.2%,#b722d8 88.7%,#e13cc7 91.1%,#ff6496 95%,#ff9375 97%,#ffe532 99.1%,#fff45c 100%)"></i><i style="left:1738.3px;background:linear-gradient(#fff 0%,#fff 11.3%,#ffffef 17.3%,#ffffba 26.2%,#ffff80 32.5%,#ffe632 48%,#ffbb4e 64.4%,#ff9673 70.7%,#ff6397 76.8%,#e13cc8 82.2%,#b923d7 85.9%,#b521d9 87.4%,#b923d7 88.7%,#e03bc8 91.1%,#fe6298 95.2%,#ff9673 97%,#ffe334 98.9%,#fff45e 100%)"></i><i style="left:1744.4px;background:linear-gradient(#fff 0%,#fff 10.8%,#ffffed 17.3%,#ffffc2 24.9%,#ffff80 32.7%,#ffe632 48.8%,#ffbe4b 63.8%,#ff9772 71.2%,#ff6397 76.6%,#e13cc8 82.6%,#bd26d6 85.9%,#b923d7 87.4%,#bc25d6 88.7%,#e03cc8 90.9%,#fe6397 94.8%,#ff9b6e 96.8%,#ffdf36 98.5%,#ffe736 98.7%,#fff766 100%)"></i><i style="left:1750.5px;background:linear-gradient(#fff 0%,#fff 11.3%,#ffffed 17.3%,#ffffc7 24.1%,#ffff80 33%,#ffe632 47.5%,#ffbd4c 62.9%,#ff9a6f 71.4%,#fe6397 76.6%,#e13cc8 82.7%,#c229d4 85.9%,#be26d5 87.4%,#c129d4 88.7%,#e23dc7 90.7%,#fe6397 94.4%,#ffbe4b 98%,#ffdf37 98.5%,#ffe735 98.7%,#fff767 100%)"></i><i style="left:1756.5px;background:linear-gradient(#fff 0%,#fff 11.1%,#ffe 16.9%,#ffffc5 23.9%,#ffff80 32.1%,#ffe632 45.5%,#ff9b6e 72.2%,#ff6496 77.9%,#e13cc8 83.7%,#c92dd1 85.9%,#c42ad3 87.4%,#c62bd2 88.7%,#e13cc8 90.5%,#ff6496 94.6%,#ffbb4e 98.1%,#ffe334 98.9%,#fff560 100%)"></i><i style="left:1762.6px;background:linear-gradient(#fff 0%,#fffffd 10.4%,#ffffe8 16.7%,#ffffc3 23.2%,#ffff80 30.6%,#ffe632 44%,#ffbb4e 58.1%,#ff9a6f 73.8%,#fe6397 79.8%,#e13cc8 84.8%,#d233ce 86.1%,#ce31cf 87.4%,#e13cc8 89.8%,#ff6695 95.2%,#ff9c6d 97.2%,#ffe633 99.1%,#fff561 100%)"></i><i style="left:1768.7px;background:linear-gradient(#fffffe 0%,#fffffd 8.7%,#ffffe8 15%,#ffffc2 21.7%,#ffff80 29.3%,#ffe632 42.7%,#ff9871 75.1%,#ff6496 80.7%,#e23dc7 85.9%,#df3bc9 87.4%,#e23ec6 88.7%,#ff6596 95%,#ff9a6f 97.2%,#ffe533 99.1%,#fff663 100%)"></i><i style="left:1774.7px;background:linear-gradient(#fff 0%,#fffffd 7.2%,#ffffec 13.5%,#ffffbf 21.1%,#ffff7f 28.4%,#ffe632 43.4%,#ff9772 74.9%,#ff6497 81.4%,#e643c0 85.9%,#e441c2 87.4%,#ff6794 95%,#ff9b6e 97.2%,#ffe433 99.1%,#fff664 100%)"></i><i style="left:1780.8px;background:linear-gradient(#fff 0%,#fffffe 7%,#ffffec 13.4%,#ffffb7 21.7%,#ffff7f 28%,#ffe632 43.2%,#ff9673 74.9%,#ff6496 81.4%,#ea48b9 85.9%,#e846bc 87.4%,#ff6a92 95.4%,#ffbe4b 98.3%,#ffe235 99.1%,#fff561 100%)"></i><i style="left:1786.9px;background:linear-gradient(#fff 0%,#fffffd 8.9%,#fffff0 13.5%,#ffffba 22.6%,#ffff80 29.5%,#ffe632 43.4%,#ff9772 73.8%,#ff6496 80.9%,#ea48b9 87.4%,#ff6496 95.4%,#ffbf4b 98.3%,#ffe334 99.1%,#fff561 100%)"></i><i style="left:1792.9px;background:linear-gradient(#fffffe 0%,#fffffc 12.2%,#ffffe6 18.7%,#ffffc3 24.7%,#ffff80 32.3%,#ffe632 45.1%,#ffbe4b 58.8%,#ff9573 72.7%,#ff6497 81.6%,#eb49b7 85.9%,#e846bc 87.4%,#ff6595 95.2%,#ffbe4b 98.3%,#ffe334 99.1%,#fff45d 100%)"></i><i style="left:1799px;background:linear-gradient(#fff 0%,#fffffe 14.3%,#ffffeb 22.4%,#ffffbf 31.7%,#ffff81 41.6%,#ffe632 54.9%,#ffbe4b 64.4%,#ff9871 71.8%,#ff6595 76.4%,#e13cc8 80%,#a215e0 85.1%,#7b09f1 87.4%,#7407f4 88.9%,#7808f2 90.2%,#a014e1 94.1%,#de3ac9 95.9%,#fe6397 97.2%,#ff9b6e 97.8%,#ffbc4d 98.5%,#ffcd42 100%)"></i><i style="left:1805.1px;background:linear-gradient(#fff 0%,#fffffe 13.2%,#ffffed 21.3%,#ffffba 32.1%,#ffff80 41%,#ffe632 54.4%,#ffbe4b 63.8%,#ff9871 71.4%,#ff6496 76.4%,#e03bc9 79.6%,#a115e0 84.6%,#6f06f6 87.4%,#6804f9 88.9%,#6a05f8 90.2%,#a014e1 93.3%,#e23dc6 95.9%,#fd6299 97.2%,#ff9a6f 97.8%,#ffbc4d 98.5%,#ffcd41 100%)"></i><i style="left:1811.1px;background:linear-gradient(#fff 0%,#fff 13.2%,#ffffeb 21.3%,#ffffc5 29.5%,#ffff80 40.1%,#ffe632 52.9%,#ffb950 63.8%,#ff9276 71.4%,#ff6496 76.4%,#e03bc8 80%,#a215e0 85.1%,#7d0af0 87.4%,#7708f2 88.9%,#7b09f1 90.2%,#9711e5 92%,#e13cc8 95.7%,#fe6397 97.2%,#ff9a6f 97.8%,#ffba4f 98.5%,#ffcb43 100%)"></i><i style="left:1817.2px;background:linear-gradient(#fff 0%,#fff 13.7%,#ffffea 21.3%,#ffffc1 29.7%,#ffff80 39.3%,#ffe632 52.5%,#ffb851 62.9%,#ff6496 76.2%,#e13cc8 80.7%,#9812e4 87.9%,#870dec 88.5%,#860cec 89.2%,#a215e0 92.2%,#e33ec5 95.5%,#ff6595 97.2%,#ff8f78 97.6%,#ffb851 98.5%,#ffc845 100%)"></i><i style="left:1823.3px;background:linear-gradient(#fff 0%,#fff 13.7%,#ffffec 21.5%,#ffffc5 29.7%,#ffff80 40.1%,#ffe632 54.7%,#ffbb4e 63.3%,#ff6496 75.1%,#e03bc8 81.6%,#a718de 87.9%,#7a09f1 89.6%,#a114e1 92.4%,#e03bc8 95.4%,#fe6298 97%,#ffba4f 98.5%,#ffcc43 100%)"></i><i style="left:1829.3px;background:linear-gradient(#fff 0%,#fffffe 14.3%,#ffffec 22.4%,#ffff80 41%,#ffe632 55.5%,#ffbc4d 63.4%,#fa5e9e 75.9%,#e13cc7 81.6%,#ac1bdd 87.2%,#8e0fe9 87.7%,#870dec 88.9%,#6f06f6 89.6%,#9f14e1 92.8%,#e33ec5 95.5%,#ff6794 97%,#ffb851 98.5%,#ffca43 100%)"></i><i style="left:1835.4px;background:linear-gradient(#fffffe 0%,#fffffe 15.2%,#ffffeb 23.6%,#ffffb7 34.1%,#ffff80 42.1%,#ffe532 56.2%,#ffbe4b 63.3%,#fe6397 75.9%,#e03bc8 80.9%,#a316e0 85.5%,#7d0af0 87.4%,#6202fc 87.7%,#6102fc 88.9%,#6704f9 90.2%,#9c13e3 92.9%,#df3bc9 95.4%,#ff6794 96.8%,#ff9276 98%,#ffb950 98.7%,#ffcd41 100%)"></i><i style="left:1841.5px;background:linear-gradient(#fff 0%,#fffffd 16.9%,#ffffeb 25%,#ffffb0 36.5%,#ffff80 43.4%,#ffe632 57.1%,#ffbd4c 64.2%,#fe6397 75.7%,#e03cc8 80%,#9e14e2 84.2%,#5b00ff 87.4%,#5800ff 88.9%,#5f01fd 90.2%,#a014e1 93.3%,#e23dc6 95.4%,#ff6596 96.7%,#ff9a6f 98.1%,#ffbd4c 98.9%,#ffd040 100%)"></i><i style="left:1847.5px;background:linear-gradient(#fff 0%,#fffffe 18%,#ffe 25%,#ffffb3 36.5%,#ffff80 43.6%,#ffe632 57.1%,#ffb851 65.9%,#ff6496 75.1%,#df3bc9 79%,#a014e1 83.1%,#5c00fe 87.2%,#50f 88.9%,#5b00ff 90.2%,#a115e1 93.3%,#e23ec6 95.4%,#ff6694 96.8%,#ffbd4c 99.1%,#ffc944 100%)"></i><i style="left:1853.6px;background:linear-gradient(#fff 0%,#fffffe 18.6%,#ffffed 26.2%,#ffffc3 34.3%,#ffff80 44.2%,#ffe632 57.5%,#ffb851 66.4%,#ff9176 71.2%,#fe6397 74.9%,#e13cc8 78.3%,#a115e1 82.2%,#5900ff 86.8%,#4b00ff 88.9%,#5a00ff 90.7%,#a215e0 93.7%,#e23dc6 95.7%,#ff6893 97.2%,#ffb356 98.7%,#ffc646 100%)"></i><i style="left:1859.7px;background:linear-gradient(#fff 0%,#fff 18.6%,#ffffed 26.5%,#ffff80 44.9%,#ffe632 59%,#ffb752 67.2%,#ff9375 71.4%,#ff6496 74.9%,#e13cc8 78.1%,#a014e1 82%,#5b00ff 86.3%,#4300ff 88.9%,#4500ff 90%,#5a00ff 91.1%,#9f14e1 93.9%,#e23dc7 95.9%,#ff6496 97.2%,#ff9871 97.8%,#ffb752 98.5%,#ffc845 100%)"></i><i style="left:1865.7px;background:linear-gradient(#fff 0%,#fff 18.4%,#ffffec 26%,#ffffad 38%,#ffff81 44.3%,#ffe433 59.2%,#ffba4f 67%,#ff9474 71.6%,#ff6496 75.1%,#e13cc8 78.1%,#9f14e1 81.8%,#5b00ff 85.7%,#4200ff 87.4%,#3f00ff 88.9%,#4300ff 90%,#5a00ff 91.1%,#a316e0 94.1%,#e23dc6 95.9%,#fe6298 97.2%,#ffb851 98.5%,#ffc845 100%)"></i><i style="left:1871.8px;background:linear-gradient(#fffffe 0%,#fff 17.8%,#ffffeb 25.6%,#ffffcf 32.1%,#ffff80 43.6%,#ffe632 57.1%,#ffbc4d 66.6%,#ff9673 71.8%,#ff6595 75.3%,#e13cc8 78.3%,#a115e0 81.8%,#5900ff 85.5%,#3a00ff 87.4%,#3700ff 88.9%,#3c00ff 90.2%,#5c00fe 91.6%,#a115e1 94.4%,#e03bc9 96.1%,#fe6397 97.4%,#ffb653 98.5%,#ffc845 100%)"></i><i style="left:1877.9px;background:linear-gradient(#fffffe 0%,#fff 17.4%,#ffffed 25%,#ffffcd 32.3%,#ffff80 44%,#ffe632 57.3%,#ffbc4d 66.6%,#ff9673 72%,#fe6397 75.7%,#e03cc8 78.5%,#9f14e1 82%,#5900ff 85.5%,#3900ff 87.4%,#3400ff 88.9%,#3800ff 90.2%,#5b00ff 92%,#9d13e2 94.8%,#e13cc8 96.3%,#ff6595 97.6%,#ffb752 98.5%,#ffc944 100%)"></i><i style="left:1883.9px;background:linear-gradient(#fff 0%,#fffffe 18.4%,#ffe 25%,#ffff8a 44%,#ffe532 58.3%,#ffbd4c 66.8%,#ff9375 72%,#ff6496 75.7%,#e13dc7 78.5%,#a215e0 81.8%,#5b00ff 85.3%,#3800ff 87.4%,#30f 88.9%,#3700ff 90.2%,#5d01fe 92%,#9f14e1 94.8%,#e03bc8 96.3%,#fe6398 97.6%,#ffb752 98.5%,#ffcb43 100%)"></i><i style="left:1890px;background:linear-gradient(#fff 0%,#fff 19.3%,#ffffea 27.5%,#ffff81 45.8%,#ffe632 58.3%,#ffbd4c 66.8%,#fe6397 75.9%,#df3bc9 78.8%,#a115e1 82%,#5800ff 85.3%,#3100ff 87.4%,#2c00ff 88.9%,#3200ff 90.2%,#5d01fe 92%,#a215e0 94.8%,#e03bc8 96.3%,#fd6199 97.6%,#ffb455 98.5%,#ffc845 100%)"></i><i style="left:1896.1px;background:linear-gradient(#fff 0%,#fffffe 19.5%,#ffffec 27.8%,#ffff80 46.7%,#ffe632 59.5%,#ffbe4b 67.2%,#ff9574 72%,#fe6397 75.9%,#df3bc9 78.8%,#9f14e2 82.2%,#5a00ff 85.1%,#2b00ff 87.4%,#2600ff 88.9%,#2a00ff 90.2%,#5900ff 92.2%,#9f14e2 94.8%,#dd3aca 96.3%,#ff6893 97.6%,#ffb851 98.5%,#ffcb43 100%)"></i><i style="left:1902.1px;background:linear-gradient(#fff 0%,#fff 19.1%,#ffffec 27.8%,#ffffca 35.4%,#ffff80 46.7%,#ffe632 59.9%,#ffbf4a 67.2%,#ff9673 72.2%,#ff6496 75.9%,#e03cc8 79%,#9e13e2 82.4%,#5900ff 85%,#2300ff 87.4%,#1e00ff 89.2%,#20f 90.2%,#5a00ff 92.4%,#9e14e2 94.6%,#df3bc9 96.1%,#ff6893 97.4%,#ffbc4d 98.5%,#ffd040 100%)"></i><i style="left:1908.2px;background:linear-gradient(#fff 0%,#fffffe 18.9%,#ffe 25.6%,#ffffc3 35.2%,#ffff81 45.1%,#ffe632 58.4%,#ffbe4b 66.6%,#ff9673 72.3%,#fe6397 76.4%,#e13cc8 79.4%,#9f14e1 82.6%,#5c01fe 85%,#2400ff 87.4%,#2000ff 88.9%,#2400ff 90.2%,#5a00ff 92.2%,#9f14e1 94.4%,#e33ec5 95.9%,#ff6496 97.2%,#ffba4f 98.5%,#ffcd42 100%)"></i><i style="left:1914.3px;background:linear-gradient(#fffffe 0%,#fffffe 16.9%,#ffffea 25.4%,#ffffc3 33.8%,#ffff80 43.2%,#ffe632 56.2%,#ffb950 66.4%,#ff9673 72.2%,#ff6595 76.4%,#e23dc7 79.6%,#a014e1 83.1%,#5800ff 85.9%,#30f 87.6%,#3000ff 88.9%,#3400ff 90.2%,#5b00fe 91.8%,#9f14e1 94.2%,#de3ac9 95.9%,#ff6397 97.2%,#ffba4f 98.7%,#ffc745 100%)"></i><i style="left:1920.3px;background:linear-gradient(#fff 0%,#fff 16.5%,#ffffea 24.9%,#ffffb5 34.9%,#ffff81 41.7%,#ffe632 55.1%,#ffbe4b 64%,#ff9772 72%,#ff6595 76.4%,#df3bc9 80.3%,#a014e1 84%,#5a00ff 86.4%,#3f00ff 87.6%,#3d00ff 88.9%,#4100ff 90.2%,#5900ff 91.3%,#a014e1 94.1%,#e13cc8 96.3%,#ff6397 97.4%,#ffb158 98.7%,#ffc348 100%)"></i><i style="left:1926.4px;background:linear-gradient(#fff 0%,#fff 16.1%,#ffffea 24.3%,#ffff80 42.5%,#ffe632 55.7%,#ffbe4b 64.7%,#ff9a6f 72.5%,#ff6496 77%,#e03bc9 80.9%,#a216e0 84.8%,#4d00ff 87.4%,#4800ff 88.9%,#4b00ff 90%,#5d01fe 90.9%,#a014e1 93.9%,#e23ec6 96.5%,#fe6397 97.6%,#ffbc4d 98.9%,#ffca44 100%)"></i><i style="left:1932.5px;background:linear-gradient(#fff 0%,#fffffe 16%,#ffffea 24.1%,#ffff8c 42.1%,#ffe532 56.6%,#ffbe4b 66.6%,#ff9c6d 73.5%,#ff6397 77.9%,#e13cc8 81.4%,#a819de 85.7%,#830ced 87%,#5200ff 87.6%,#5000ff 88.9%,#5900ff 90.3%,#a014e1 93.7%,#e23dc7 96.7%,#ff6a92 97.6%,#ffbd4c 98.7%,#ffcf41 100%)"></i><i style="left:1938.5px;background:linear-gradient(#fffffe 0%,#fff 16.1%,#ffffed 24.1%,#ffffc8 32.7%,#ffff80 43.4%,#ffe632 56.6%,#ffb752 68.6%,#ff9673 74.6%,#ff6496 78.5%,#e13cc8 82.2%,#a416e0 87%,#5d01fe 87.7%,#50f 88.9%,#5a00ff 90.2%,#9f14e1 93.1%,#e13cc8 96.7%,#ff6893 97.4%,#ffb653 98.5%,#ffc944 100%)"></i></div>
<div id="b" class="p"><i style="left:197.2px;background:linear-gradient(#ff6993 0%,#ff52a8 0.5%,#ea43b9 1.1%,#eb44b8 2.3%,#ff53a8 2.8%,#ffc63e 6%,#ffe83d 7.6%,#ffff80 10.6%,#ffffa7 11.7%,#ffb 13.1%,#ffffd6 22.7%,#ffffd0 31.2%,#ffffbf 35.5%,#ffffa9 39%,#ffff80 40.3%,#fff157 42.9%,#ffec47 46.5%,#fff258 50.2%,#ffff7f 53%,#ffffa4 54.3%,#ffffad 55.9%,#ffffa9 70.8%,#ffffa3 72%,#fffe7e 73.6%,#ffe83c 78.1%,#ffc73d 79.5%,#ff52a8 82.5%,#eb44b8 83%,#ea43b9 84.1%,#ff55a6 84.8%,#ffc63e 88%,#ffe73c 89.6%,#fffe7e 92.6%,#ffffa9 94%,#ffb 95.6%,#ffffcb 99.9%)"></i><i style="left:203.3px;background:linear-gradient(#ff708e 0%,#ff51a9 0.7%,#f349b3 1.1%,#f248b3 2.1%,#ff55a6 2.7%,#ffc93c 6%,#ffe73c 7.5%,#ffff7f 10.6%,#ffffb5 12.4%,#ffffc6 14.2%,#ffffd8 19.9%,#ffffd4 30.9%,#ffffb3 38.7%,#fffe7e 40.4%,#fff158 42.8%,#ffeb45 44.5%,#ffe940 46.5%,#fff35c 50.7%,#fffe7e 53%,#ffffb0 55.2%,#ffffb9 59.4%,#ffffb2 71.3%,#ffffa6 73.1%,#ffff7f 74.5%,#ffe93f 78.1%,#ffc53f 79.7%,#f94caf 82.8%,#f54ab1 84.1%,#ff52a9 84.4%,#ffc53f 87.8%,#ffe73c 89.4%,#ffff7f 92.6%,#ffffb3 94.4%,#ffffc3 96%,#ffffd1 99.9%)"></i><i style="left:209.3px;background:linear-gradient(#ff758a 0%,#fe4fab 0.9%,#fc4eac 2.1%,#ffc53f 5.9%,#ffe73c 7.5%,#fffe7e 11.2%,#ffffac 12.6%,#ffffc0 14.2%,#ffffd3 19.9%,#ffffd7 26.6%,#ffffc5 34.8%,#ffffaf 38.7%,#fff96d 41.2%,#ffe83c 44.9%,#ffe83c 48.4%,#ffee4d 50.7%,#ffff7f 54.6%,#ffffa5 56.6%,#ffffb4 64.2%,#ffffa2 73.1%,#ffff7f 74.5%,#ffe83c 78.2%,#ffc93c 79.7%,#ff50aa 82.8%,#ff50aa 83.9%,#ffc53f 87.6%,#ffe63c 89.2%,#ffff80 93.3%,#ffffab 94.7%,#ffffbe 96.3%,#ffffce 99.9%)"></i><i style="left:215.4px;background:linear-gradient(#ff7b84 0%,#ff54a6 0.9%,#ff51a9 2.1%,#ffc83c 5.9%,#ffe83c 7.5%,#ffff7f 11.5%,#ffffac 13%,#ffffbd 14.4%,#ffffd3 19.9%,#ffffd9 26.6%,#ffffc4 35.1%,#ffffa9 39.2%,#ffff7f 40.4%,#fff769 41.5%,#ffe83c 44.7%,#ffe83d 50.9%,#fff96d 54.8%,#ffffa4 57.7%,#ffffb2 66.5%,#ffffa2 73.4%,#ffff7f 74.9%,#ffe73c 78.6%,#ffc53f 80%,#ff53a7 82.8%,#ff51a9 84.1%,#ffc93c 87.8%,#ffe63c 89.2%,#ffff7f 93.7%,#ffffab 95.1%,#ffffcf 99.9%)"></i><i style="left:221.4px;background:linear-gradient(#ff7e81 0%,#ff50aa 1.1%,#ff50aa 2.1%,#ffc53f 5.9%,#ffe83c 7.6%,#ffff80 11.7%,#ffffb0 13.3%,#ffffc0 14.7%,#ffffd7 19.9%,#ffffdb 25.4%,#ffffd3 31.6%,#ffffb1 38.3%,#fff970 41%,#ffe83c 44.5%,#ffe03c 47.4%,#ffe83d 51.4%,#fffe7e 56.1%,#ffffae 57.8%,#ffffb8 68.8%,#ffffab 74%,#ffff7f 75.7%,#ffe73c 78.9%,#ffc53f 80.2%,#ff55a5 82.8%,#ff51a9 84.1%,#ffc93c 88%,#ffe63c 89.6%,#ffff81 93.8%,#ffffaf 95.3%,#ffffd2 99.9%)"></i><i style="left:227.5px;background:linear-gradient(#ff8978 0%,#ff609c 1.1%,#ff609c 2.1%,#ffc83c 5.9%,#ffe83c 7.6%,#ffff7f 12.2%,#ffffa7 13.5%,#ffffba 15.1%,#ffffd1 19.9%,#ffffd7 25.5%,#ffffc7 32.6%,#ffffa8 37.4%,#fff76a 40.1%,#ffe83c 43.6%,#ffde3c 47.2%,#ffe83c 51.3%,#fff563 55%,#ffff7f 56.8%,#ffffa2 58%,#ffffb0 66.3%,#ffffa6 74.5%,#ffff80 75.9%,#ffe73c 79.1%,#ffc63e 80.4%,#ff6498 82.8%,#ff619b 84.1%,#ffc73d 87.8%,#ffe83c 89.8%,#ffff80 94.4%,#ffffa7 95.6%,#ffffca 99.9%)"></i><i style="left:233.5px;background:linear-gradient(#ff8f73 0%,#ff6d90 1.1%,#ff6f8f 2.3%,#ffc83c 5.9%,#ffe83c 7.8%,#ffff80 12.4%,#ffffa3 13.5%,#ffffb8 15.1%,#ffffd1 19.9%,#ffffd2 26.6%,#ffffc2 33.2%,#ffffa2 37.3%,#ffff82 38.1%,#fff76a 39.4%,#ffe83c 43.1%,#ffde3c 47%,#ffe83c 51.6%,#fff561 55.3%,#ffff80 57.3%,#ffff9c 58.4%,#ffffae 66.3%,#ffffa1 74.3%,#ffff81 75.6%,#ffe73c 78.9%,#ffc63e 80.4%,#ff708e 82.8%,#ff6e8f 84.1%,#ffc83c 87.8%,#ffe83d 89.9%,#fffe7e 94.4%,#ffffa3 95.6%,#ffffc6 99.9%)"></i><i style="left:239.6px;background:linear-gradient(#ff8f73 0%,#ff748a 0.9%,#ff728c 2.3%,#ffc83c 6.2%,#ffe73c 8.2%,#fffe7e 11.9%,#ffffa6 13.1%,#ffffb9 14.7%,#ffffd3 19.9%,#ffffd4 26.6%,#ffffc2 33%,#ffffa8 36.9%,#ffff7f 38.1%,#ffe83c 42.6%,#ffde3c 47%,#ffe83c 52.3%,#fffe7e 57.3%,#ffffa1 58.5%,#ffffb1 62.8%,#ffffa3 73.6%,#ffff81 75%,#ffe73c 78.8%,#ffc73d 80.2%,#ff748a 82.8%,#ff738b 84.1%,#ffc83c 88%,#ffe93e 90.1%,#ffff7f 93.8%,#ffffa8 95.1%,#ffffba 96.7%,#ffffca 99.9%)"></i><i style="left:245.6px;background:linear-gradient(#ff986b 0%,#ff837d 0.9%,#ff847c 2.5%,#ffc83c 6%,#ffe73c 8%,#fffe7e 11.4%,#ffffa9 12.8%,#ffffb9 14.2%,#ffffd2 19.9%,#ffffd7 26.8%,#ffa 36.7%,#fffe7d 38.1%,#ffe73c 42.2%,#ffdd3c 47%,#ffe83d 52.3%,#ffff7f 57.3%,#ffffa2 58.5%,#ffffb0 63%,#ffffa5 72.9%,#fffe7e 74.7%,#ffe93e 78.6%,#ffc83c 80.2%,#ff7f80 82.8%,#ff7e81 84.3%,#ffca3c 88%,#ffe93e 89.9%,#ffff80 93.3%,#ffffac 94.7%,#ffffbd 96.3%,#ffffcb 99.9%)"></i><i style="left:251.7px;background:linear-gradient(#ff9e66 0%,#ff8d74 0.9%,#ff8e74 2.5%,#ffc83c 5.9%,#ffe83c 8%,#ffff7f 11%,#ffffa4 12.1%,#ffb 13.7%,#ffffd5 19.9%,#ffffd8 26.6%,#ffffc6 32.8%,#ffffac 36.5%,#fffe7d 38%,#ffe83c 42.4%,#ffde3c 46.8%,#ffe83c 51.6%,#fff664 55.3%,#ffff80 57.1%,#ffffa3 58.4%,#ffffb5 66.2%,#ffffa6 72.2%,#ffff7f 74%,#ffe73c 78.4%,#ffc93c 80%,#ff8b76 82.8%,#ff8b76 84.3%,#ffca3c 87.8%,#ffe83c 89.8%,#ffff81 93%,#ffffaf 94.4%,#ffffc0 96%,#ffffce 99.9%)"></i><i style="left:257.7px;background:linear-gradient(#ff9d66 0%,#ff8c75 0.9%,#ff8b76 2.5%,#ffc73d 5.9%,#ffe73c 8%,#ffff80 10.8%,#ffffa1 11.7%,#ffffb9 13.3%,#ffffd2 19.9%,#ffffd6 25.2%,#ffffc4 32.6%,#ffa 36.5%,#fffe7d 37.8%,#fff35e 39.6%,#ffe83c 42.8%,#ffde3c 46.8%,#ffe83c 51.4%,#fffe7e 56.8%,#ffffa3 58.4%,#ffffb1 67.2%,#ffffa6 70.8%,#ffff80 72.9%,#ffe83c 78.2%,#ffc83c 80%,#ff8c75 82.8%,#ff8e74 84.4%,#ffc83c 87.6%,#ffe83c 89.8%,#fffe7e 92.6%,#ffffa9 94%,#ffb 95.6%,#ffc 99.9%)"></i><i style="left:263.8px;background:linear-gradient(#ff996a 0%,#ff8779 0.9%,#ff867a 2.5%,#ffc73d 5.7%,#ffe73c 7.6%,#ffff7f 10.3%,#ffffa0 11.2%,#ffffbd 13.1%,#ffffd7 26.6%,#ffffc4 32.5%,#ffffab 36.4%,#fffe7e 37.8%,#ffe83c 42.9%,#ffe03c 46.7%,#ffe83d 50.9%,#fff768 54.6%,#ffffa4 57.8%,#ffffaf 64.2%,#ffffa3 69.5%,#ffff7f 71.5%,#ffe83c 77.9%,#ffc73d 79.8%,#ff857c 83%,#ff867a 84.4%,#ffc83c 87.6%,#ffe83c 89.6%,#ffff81 92.2%,#ffffa8 93.5%,#ffffb9 95.1%,#ffc 99.9%)"></i><i style="left:269.8px;background:linear-gradient(#ff8c75 0%,#ff7c83 1.1%,#ff7c83 2.1%,#ffc93c 5.5%,#ffe73c 7.1%,#fffe7e 9.8%,#ffffa3 10.8%,#ffb 12.6%,#ffffd1 19.9%,#ffffd6 26.6%,#ffffad 36.2%,#ffff7f 37.6%,#ffed4a 41.3%,#ffe83c 43.1%,#ffe83c 49.8%,#fff665 54.1%,#fffe7e 55.7%,#ffffa2 57.1%,#ffffb1 64.2%,#ffff9e 69.2%,#fffe7d 70.6%,#ffe73c 77%,#ffc93c 79.1%,#ff827d 82.5%,#ff7e81 83.9%,#ffca3c 87.5%,#ffe83d 89.2%,#ffff81 91.9%,#ffffa9 93.1%,#ffffba 94.7%,#ffc 99.9%)"></i><i style="left:275.9px;background:linear-gradient(#ff8878 0%,#ff7a85 0.9%,#ff7a85 2.1%,#ffc63e 5.1%,#ffe73c 6.7%,#ffff7f 9.6%,#ffffa9 10.8%,#ffb 12.4%,#ffffd5 19.9%,#ffffd7 26.6%,#ffffb0 35.8%,#ffff7f 37.4%,#fff769 38.9%,#ffed4c 41.3%,#ffe83d 43.8%,#ffe93e 49.7%,#ffff80 55.5%,#ffffa8 57.1%,#ffffb3 65.6%,#ffffa8 68.8%,#ffff7f 70.6%,#ffe83c 76.6%,#ffc83c 78.8%,#ff7e81 82.5%,#ff7c83 83.9%,#ffc83c 87.1%,#ffe83c 88.7%,#ffff7f 91.5%,#ffffa8 92.8%,#ffffc9 97%,#ffffcf 99.9%)"></i><i style="left:282px;background:linear-gradient(#ff837d 0%,#ff748a 0.9%,#ff7589 2.1%,#ffc83c 5%,#ffe83c 6.6%,#ffff7f 9.9%,#ffff9f 10.8%,#ffffb5 12.4%,#ffffd3 19.9%,#ffffd6 25.5%,#ffffc5 31.4%,#ffffac 35.3%,#ffff7f 36.7%,#fff768 38.3%,#ffe93f 43.5%,#ffe83c 47.7%,#ffec48 50.4%,#ffff7f 55.2%,#ffffa4 57.1%,#ffffae 65.3%,#ffffa5 68.7%,#ffff80 70.1%,#ffe83c 76.1%,#ffc73d 78.4%,#ff728c 82.8%,#ff7787 84.3%,#ffc83c 86.9%,#ffe93e 88.5%,#fffe7d 91.5%,#ffffa8 92.8%,#ffffba 94.4%,#ffffce 99.9%)"></i><i style="left:288px;background:linear-gradient(#ff609c 0%,#ff50aa 0.7%,#ff52a8 2%,#ffc53f 5%,#ffe93e 6.6%,#fffe7e 9.9%,#ffff9d 10.8%,#ffffb3 12.4%,#ffffcf 19.9%,#ffffd3 25.7%,#ffffc0 31.4%,#ffffa6 35.3%,#fffe7e 36.7%,#fff767 38.3%,#ffea41 43.3%,#ffe93e 45.9%,#ffee4c 50.4%,#fffb75 54.1%,#ffff9c 56.1%,#ffffad 61.6%,#ffff9e 67.6%,#fffc78 69.7%,#ffe83c 75.7%,#ffc83c 77.9%,#ff54a6 82.5%,#ff53a8 83.7%,#ffc93c 87.1%,#ffe83c 88.5%,#ffff80 91.9%,#ffffa4 93%,#ffffb7 94.6%,#ffffca 99.9%)"></i><i style="left:294.1px;background:linear-gradient(#f449b2 0%,#dd3bc2 0.7%,#dd3cc2 2%,#fe4fab 2.7%,#ffc53f 5.5%,#ffe93f 7.1%,#ffff7f 9.6%,#ffffac 10.8%,#ffffbf 12.4%,#ffffd4 19.9%,#ffffd7 26.6%,#ffffaf 36%,#fffd7b 38.3%,#fff35c 41.2%,#ffed4c 43.8%,#ffed4a 48.4%,#fff96d 52.5%,#fffe7e 53.8%,#ffffa2 55.2%,#ffffb7 61.4%,#ffffa5 66.5%,#fffe7d 68.7%,#ffe83c 75.7%,#ffc73d 77.7%,#fd4fab 81.8%,#df3dc1 82.7%,#dd3bc2 83.7%,#fe4fab 84.6%,#ffc73d 87.5%,#ffe73c 88.9%,#ffff7f 91.5%,#ffffad 93%,#ffffbd 94.6%,#ffffcf 99.9%)"></i><i style="left:300.1px;background:linear-gradient(#f248b3 0%,#d839c5 0.7%,#d738c6 2.1%,#ff54a6 3%,#ffc440 5.7%,#ffe73c 7.1%,#ffff81 9.8%,#ffffad 11%,#ffffbf 12.6%,#ffffd9 26.6%,#ffffc5 33.2%,#ffffad 37.1%,#ffff7f 38.5%,#fff35b 41.7%,#ffee4f 43.8%,#ffee4e 48.4%,#fff96f 52.3%,#ffff80 53.6%,#ffffa2 54.8%,#ffffb0 60.7%,#ffffa5 66.5%,#fffe7f 69%,#ffe73c 75.4%,#ffc83c 77.3%,#ff52a9 81.4%,#d537c7 82.7%,#d436c8 83.9%,#ff55a5 85%,#ffc83c 87.6%,#ffe63c 88.9%,#fffe7d 91.5%,#ffffac 93%,#ffffbd 94.6%,#ffffce 99.9%)"></i><i style="left:306.2px;background:linear-gradient(#f148b4 0%,#d537c8 0.9%,#d336c9 2.1%,#ff56a5 3.2%,#ffc73d 5.9%,#ffe73c 7.3%,#ffff81 9.9%,#ffffa7 11%,#ffffbe 12.8%,#ffffd7 19.9%,#ffffd9 26.6%,#ffffc7 33.4%,#ffffad 37.3%,#ffff82 38.7%,#fff86c 40.3%,#ffef52 43.8%,#ffee4d 46.1%,#fff35c 50.2%,#ffff7f 53.2%,#ffffa5 54.6%,#ffffa9 55.5%,#ffa 67.1%,#ffffa3 68.5%,#ffff81 69.9%,#ffe83d 75.2%,#ffc63e 77.3%,#ff50aa 81.6%,#dc3bc3 82.7%,#da3ac4 83.9%,#ff54a6 85%,#ffc93c 87.8%,#ffe63c 89.1%,#fffe7d 91.7%,#ffffac 93.1%,#ffffc9 97.2%,#ffffcd 99.9%)"></i><i style="left:312.2px;background:linear-gradient(#e440bd 0%,#c62fd0 0.9%,#c930cf 2.1%,#fd4fab 3.2%,#ffc440 6%,#ffe83c 7.6%,#fffe7d 9.9%,#ffffab 11.4%,#ffffca 15.4%,#ffffda 21.3%,#ffffc7 34.1%,#ffffaf 37.6%,#ffff80 39.2%,#fff45f 42%,#ffee4e 46.1%,#fff461 50.4%,#ffff7f 53%,#ffffa5 54.6%,#ffffb5 61.9%,#ffffb0 66.9%,#ffffa6 69%,#ffff7f 70.6%,#ffe73c 75.6%,#ffc73d 77.5%,#ff53a7 81.2%,#cb31ce 82.7%,#c830cf 83.9%,#fe4fab 85.2%,#ffc83c 88.2%,#ffe83c 89.6%,#ffff80 91.9%,#ffffaf 93.3%,#ffffc0 94.9%,#ffffce 99.9%)"></i><i style="left:318.3px;background:linear-gradient(#e33fbe 0%,#c32dd2 0.9%,#ca30cf 2.1%,#ff56a5 3.4%,#ffc93c 6.4%,#ffe73c 7.8%,#fffe7e 10.3%,#ffffa6 11.5%,#ffffc5 15.6%,#ffffd5 20.6%,#ffffc4 34.2%,#ffffa6 38.1%,#fffe7e 39.6%,#fff35c 42.2%,#ffed4a 46.3%,#fff767 51.8%,#fffe7f 53.6%,#ffff9a 54.6%,#ffffac 58.7%,#ffffaf 65.6%,#ffffa0 69.4%,#ffff80 70.6%,#ffe83c 75.7%,#ffc83c 77.7%,#fe4fab 81.2%,#bb2ad5 82.8%,#c02cd3 84.1%,#ff51a9 85.3%,#ffc73d 88.3%,#ffe63c 89.8%,#ffff81 92.2%,#ffa 93.5%,#ffb 95.1%,#ffffca 99.9%)"></i><i style="left:324.3px;background:linear-gradient(#ea43b9 0%,#c02cd3 0.9%,#c02cd3 2.1%,#ff56a5 3.5%,#ffc53f 6.4%,#ffe83c 8%,#ffff80 10.5%,#ffffa5 11.5%,#ffffb8 13.1%,#ffffd4 19.9%,#ffffd8 26.8%,#ffffc7 34.8%,#ffffac 38.7%,#fffe7e 40.3%,#fff769 41.7%,#ffef50 44.3%,#ffed4b 46.5%,#fff25a 50.2%,#ffff7f 53.2%,#ffff9d 54.3%,#ffffa7 55.7%,#ffffb4 62.1%,#ffffae 65.8%,#ffffa0 69.7%,#ffff80 71.1%,#ffe83c 76.5%,#ffc53f 78.2%,#ff50aa 81.4%,#bb2ad5 82.8%,#bb2ad5 83.4%,#c12dd2 84.3%,#ff54a7 85.5%,#ffc53f 88.3%,#ffe53c 89.8%,#fffe7d 92.2%,#ffa 93.7%,#ffffbf 96%,#ffffca 99.9%)"></i><i style="left:330.4px;background:linear-gradient(#d939c5 0%,#a41fe0 0.9%,#a41fe0 2%,#ff51a9 3.7%,#ffc83c 6.7%,#ffe93e 8.3%,#ffff7f 10.6%,#ffffa4 11.7%,#ffffb7 13.3%,#ffffd0 19.9%,#ffffd7 26.8%,#ffffc5 35.5%,#ffffa7 39.2%,#ffff80 40.3%,#fff35e 42.8%,#ffee4d 46.3%,#fff45e 50%,#fffe7e 52.5%,#ffffa0 53.9%,#ffffa6 55.2%,#ffffb2 62.4%,#ffffa3 69.5%,#ffff7f 72%,#ffe83c 77%,#ffc440 78.6%,#ff52a8 81.2%,#a721de 82.8%,#ac23dc 84.1%,#ff55a6 85.7%,#ffc440 88.5%,#ffe33c 89.9%,#ffff7f 92.6%,#ffffa9 93.8%,#ffb 95.4%,#ffc 99.9%)"></i><i style="left:336.4px;background:linear-gradient(#d637c7 0%,#9a1be4 0.9%,#9b1be4 2%,#fd4fab 3.7%,#ffc63e 6.7%,#ffe73c 8.3%,#fffe7d 10.6%,#ffffa8 11.9%,#ffffbc 13.5%,#ffffca 16.3%,#ffffd7 26.6%,#ffffc9 35.3%,#ffffad 39%,#ffff80 40.3%,#fff45f 42.8%,#ffee4f 46.1%,#fff561 49.7%,#ffff7f 51.8%,#ffffa5 53.4%,#ffa 54.5%,#ffffb4 62.4%,#ffffaf 68.3%,#ffffa2 71.5%,#ffff80 73.1%,#ffe83c 77.5%,#ffc440 78.9%,#ff56a4 81.2%,#cf33cc 82.1%,#a11ee1 82.8%,#a31ee1 83.9%,#ff53a7 85.7%,#ffc53f 88.7%,#ffe73c 90.3%,#ffff80 92.6%,#ffffac 93.8%,#ffffc0 95.6%,#ffffce 99.9%)"></i><i style="left:342.5px;background:linear-gradient(#8f15ea 0%,#4c00ff 0.7%,#4300ff 0.9%,#4300ff 1.8%,#9217e8 2.7%,#fb4ead 3.7%,#ffc93c 5.9%,#ffe83c 6.9%,#ffff7f 9.9%,#ffffa0 10.8%,#ffffbd 12.4%,#ffffd3 17.7%,#ffffe7 19.9%,#ffffec 26.8%,#ffffe6 33%,#ffffd2 37.8%,#ffffac 40.8%,#ffff82 42%,#fff35c 43.8%,#ffed4b 45.9%,#fff157 47.5%,#ffff9e 50.9%,#ffffac 60.5%,#ffff9f 70.4%,#ffff80 71.7%,#ffe73c 77.3%,#ffc341 78.6%,#fe50aa 80.7%,#8d15ea 82%,#4c00ff 82.7%,#40f 83.7%,#9619e6 84.6%,#fd4fac 85.7%,#ffc93c 87.8%,#ffe93f 89.1%,#ffff81 91.9%,#ffffa2 92.8%,#ffffc1 94.4%,#ffffd5 99.9%)"></i><i style="left:348.5px;background:linear-gradient(#9719e6 0%,#5903fc 0.7%,#5301fe 1.8%,#ca31ce 3%,#ff55a5 3.7%,#ffc341 5.7%,#ffe83c 6.9%,#ffff7f 9.9%,#ffff9f 10.8%,#ffffbe 12.4%,#ffffe8 19.9%,#ffffeb 26.8%,#ffffe5 33%,#ffffc2 39%,#ffffa6 40.6%,#fff86c 42.6%,#ffee4c 45.1%,#fff054 48.1%,#ffff9e 52.3%,#ffffa9 65.1%,#ffff9e 70.1%,#fffe7e 71.3%,#ffe73c 77.2%,#ffc53f 78.4%,#ff52a9 80.7%,#ce32cd 81.4%,#5d04fb 82.7%,#5702fd 83.7%,#ce32cc 85%,#f94cae 85.5%,#ffc53f 87.6%,#ffe73c 88.7%,#fffe7e 91.7%,#ffffa4 92.8%,#ffffc1 94.4%,#ffffd6 99.9%)"></i><i style="left:354.6px;background:linear-gradient(#ab22dd 0%,#6206f9 0.9%,#5e05fa 2%,#c62fd0 3%,#ff54a7 3.7%,#ffc73d 5.7%,#ffe83d 6.7%,#fffe7e 9.6%,#ffffa9 10.8%,#ffffc5 12.4%,#ffffe9 19.9%,#ffffea 26.8%,#ffffe7 32.8%,#ffffc5 38.9%,#ffffa9 40.4%,#ffff81 41.5%,#fff86b 42.6%,#ffee4d 44.9%,#ffec48 46.3%,#fff45f 50%,#ffffa0 53.9%,#ffffaf 62.8%,#ffffa2 70.1%,#ffff7f 72.2%,#ffe83c 77.2%,#ffc73d 78.4%,#fd4fac 80.9%,#cb31ce 81.6%,#6e0af5 82.7%,#6005fa 83%,#6005fa 83.7%,#bd2bd4 84.8%,#fd4fab 85.5%,#ffc440 87.5%,#ffe73c 88.5%,#fffe7e 91.5%,#ffffa6 92.8%,#ffffbe 94.2%,#ffffd8 99.9%)"></i><i style="left:360.7px;background:linear-gradient(#bb2ad5 0%,#6e0af5 0.9%,#6607f8 2%,#cc32cd 3%,#f84caf 3.5%,#ffc83c 5.7%,#ffe93e 6.7%,#ffff81 9.4%,#ffffa6 10.5%,#ffffc7 12.4%,#ffffea 19.9%,#ffffeb 26.8%,#ffffe8 32.6%,#ffffc8 38.7%,#ffffaf 40.1%,#ffff83 41.3%,#fff96d 42.4%,#ffed4c 45.1%,#ffeb45 46.7%,#fff25a 50.7%,#ffffa2 55.2%,#ffffaf 63.9%,#ffffa0 71.8%,#ffff80 73.3%,#ffe93e 77.2%,#ffc53f 78.6%,#ff52a8 80.9%,#cf33cb 81.6%,#6507f8 82.8%,#6206f9 83.7%,#9518e7 84.4%,#fc4eac 85.5%,#ffc341 87.5%,#ffe63c 88.5%,#ffff7f 91.4%,#ffffa6 92.6%,#ffffbf 94%,#ffffd9 99.9%)"></i><i style="left:366.7px;background:linear-gradient(#d537c7 0%,#8d15ea 0.9%,#8d14eb 1.8%,#d235c9 2.7%,#ff56a5 3.4%,#ffc63e 5.5%,#ffe93f 6.7%,#fffe7e 9%,#ffffa3 10.1%,#ffffc2 11.9%,#ffffea 19.9%,#ffffec 26.8%,#ffffe8 32.5%,#ffffc8 38.5%,#ffa 40.1%,#fffe7e 41.3%,#ffec48 45.4%,#ffeb43 47.2%,#fff054 50.9%,#ffff80 54.5%,#ffffa2 56.2%,#ffffb1 64.9%,#ffff9e 72%,#ffff80 73.3%,#ffe83c 77.5%,#ffc73d 78.9%,#ff54a7 81.2%,#d335c9 82%,#8e15ea 82.8%,#8f15ea 83.7%,#fd4fab 85.2%,#ffc83c 87.5%,#ffe63c 88.5%,#ffff7f 91%,#ffffa9 92.2%,#ffffc3 93.7%,#ffffd8 99.9%)"></i><i style="left:372.8px;background:linear-gradient(#eb44b8 0%,#ae24db 0.9%,#ae24db 1.8%,#fc4eac 3%,#ffc73d 5.5%,#ffe73c 6.7%,#ffff9c 9.9%,#ffffb9 11.5%,#ffffe8 19.9%,#ffffeb 26.8%,#ffffe7 32.1%,#ffffd4 36.4%,#ffffbd 38.7%,#fffe7c 41%,#fff054 43.6%,#ffeb45 45.4%,#ffea42 48.6%,#ffef50 51.4%,#fffe7e 55.3%,#ffff9a 56.4%,#ffa 63.9%,#ffff98 71.5%,#ffff7f 72.6%,#ffe83c 78.1%,#ffc73d 79.3%,#ff56a5 81.6%,#b728d7 82.8%,#b627d8 83.7%,#ff53a7 85%,#ffc83c 87.5%,#ffe73c 88.7%,#ffff7f 91%,#ffffa1 91.9%,#ffffc1 93.5%,#ffffd1 96.2%,#ffffd4 99.9%)"></i><i style="left:378.8px;background:linear-gradient(#e541bc 0%,#a720df 0.9%,#a620df 2%,#fd4fab 3.2%,#ffc83c 5.7%,#ffe83c 6.9%,#ffff9d 9.8%,#ffffbf 11.5%,#ffffe8 19.9%,#ffffea 26.6%,#ffffe5 32.1%,#ffffc4 38.1%,#ffffa6 39.7%,#fffd7b 41%,#fff053 43.6%,#ffeb45 45.4%,#ffec47 50%,#fff96e 54.5%,#ffff9f 57.3%,#ffffae 63.3%,#ffff9c 70.6%,#fffc77 72.6%,#ffe83c 77.9%,#ffc83c 79.1%,#ff50aa 81.6%,#a921de 82.8%,#a720df 83.9%,#fe50aa 85.2%,#ffc341 87.5%,#ffe63c 88.7%,#ffff7f 90.8%,#ffffa0 91.7%,#ffffc0 93.3%,#ffffcf 96%,#ffffd3 99.9%)"></i><i style="left:384.9px;background:linear-gradient(#d537c8 0%,#991ae5 0.9%,#9819e6 1.8%,#fc4eac 3.2%,#ffc341 5.5%,#ffe73c 6.7%,#ffff87 8.9%,#ffffa7 9.8%,#ffffc4 11.4%,#ffffeb 19.9%,#ffffed 25.4%,#ffffe6 31.9%,#ffffc8 37.8%,#ffffae 39.4%,#ffff7f 40.8%,#fff055 43.5%,#ffeb44 45.4%,#ffeb46 50%,#fff96d 54.5%,#ffff80 55.9%,#ffffa3 57.3%,#ffffb0 63.5%,#ffffa2 70.1%,#ffff7f 71.7%,#ffe73c 77.5%,#ffc93c 78.8%,#ff54a7 81.2%,#ca31ce 82.1%,#991ae5 83%,#a21ee1 83.9%,#ff50aa 85.2%,#ffc63e 87.5%,#ffe43c 88.5%,#ffff83 90.7%,#ffffa8 91.7%,#ffffc4 93.3%,#ffffd5 99.9%)"></i><i style="left:390.9px;background:linear-gradient(#d537c7 0%,#a41fe0 0.7%,#a41fe0 1.8%,#fb4ead 3%,#ffc73d 5.5%,#ffe73c 6.7%,#ffff82 8.7%,#ffffa8 9.8%,#ffffc4 11.4%,#ffffeb 19.9%,#ffe 26.6%,#ffffe7 31.6%,#ffffc6 37.4%,#ffffae 38.9%,#ffff80 40.3%,#ffef51 43.1%,#ffe93e 45.2%,#ffe83c 48.3%,#ffee4c 51.3%,#ffff7f 55.3%,#ffffa0 56.9%,#ffffa9 63.5%,#ffffa1 70.1%,#ffff80 71.5%,#ffe63c 77.3%,#ffc83c 78.6%,#ff52a8 81.2%,#a921de 82.7%,#a2d 83.7%,#ff50aa 85%,#ffc83c 87.5%,#ffe83d 88.7%,#ffff84 90.7%,#ffffa9 91.7%,#ffffc4 93.3%,#ffffd6 99.9%)"></i><i style="left:397px;background:linear-gradient(#d436c8 0%,#991ae5 0.9%,#9a1ae5 2%,#fb4dad 3.2%,#ffc73d 5.5%,#ffe83c 6.7%,#ffff97 9.8%,#ffffbd 11.7%,#ffffe9 19.9%,#ffffeb 26.6%,#ffffd7 34.4%,#ffffc5 36.9%,#ffffa8 38.5%,#fffc79 39.9%,#ffed4b 42.8%,#ffe83c 44.5%,#ffe83d 49.5%,#fff562 53.6%,#ffff9a 56.8%,#ffffa3 63%,#ffff9b 69.2%,#ffff7f 70.8%,#ffe83c 77.2%,#ffc63e 78.6%,#ff51a9 81.2%,#9b1be4 83%,#a01de2 83.9%,#ff50aa 85.2%,#ffc93c 87.5%,#ffe73c 88.5%,#ffff81 91%,#ffb 93.3%,#ffffd2 99.9%)"></i><i style="left:403px;background:linear-gradient(#d537c7 0%,#9819e6 0.9%,#9418e7 2%,#ce33cc 2.7%,#ff54a7 3.4%,#ffc73d 5.5%,#ffe83d 6.7%,#ffff80 9.4%,#ffff9a 10.1%,#ffffbe 12.1%,#ffffea 19.9%,#ffffed 25.4%,#ffffe4 30.7%,#ffffc8 36.4%,#ffffac 38%,#ffff80 39.2%,#fff769 40.4%,#ffe93f 44.7%,#ffeb44 49.7%,#fff35c 52.5%,#ffff9f 56.8%,#ffa 61.4%,#ffff9f 67.6%,#fffb75 70.4%,#ffe83c 76.8%,#ffc83c 78.4%,#fd4fab 81.2%,#9819e6 82.8%,#9618e7 83.9%,#d235ca 84.6%,#ff57a4 85.3%,#ffc341 87.3%,#ffe53c 88.3%,#ffff81 91.2%,#ffffa5 92.2%,#ffffbe 93.7%,#ffffd3 99.9%)"></i><i style="left:409.1px;background:linear-gradient(#d939c4 0%,#a620df 0.9%,#a2d 2%,#ff54a7 3.2%,#ffc83c 5.5%,#ffe93e 6.7%,#ffff81 9%,#ffffac 10.3%,#ffffc8 12.1%,#ffffed 19.9%,#fffff0 26.6%,#ffffde 33.9%,#ffffcb 36.5%,#ffffb3 38%,#ffff7f 39.6%,#ffec48 44.2%,#ffea43 46.3%,#fff055 49.8%,#fffe7e 53%,#ffffa8 55.2%,#ffffb3 62.1%,#ffffac 65.3%,#fffe7e 68.7%,#ffe73c 76.8%,#ffc440 78.4%,#ff50aa 81.2%,#a720df 82.8%,#ab22dd 83.9%,#ff55a5 85.2%,#ffc440 87.3%,#ffe83c 88.5%,#ffff96 91.4%,#ffffc6 93.7%,#ffffdb 99.9%)"></i><i style="left:415.1px;background:linear-gradient(#c22dd2 0%,#9116e9 0.7%,#9016e9 1.8%,#ff53a8 3.4%,#ffc63e 5.7%,#ffe83c 6.9%,#fffe7e 8.9%,#ffffa5 9.9%,#ffffc4 11.7%,#ffffea 19.9%,#ffe 26.8%,#ffffdc 34.1%,#ffffc9 36.5%,#ffffac 38.1%,#ffff80 39.4%,#ffed4b 44%,#ffeb46 46.1%,#fff156 49.1%,#fffe7d 52.2%,#ffffa1 53.9%,#ffa 60.1%,#ffffa5 62.8%,#fffe7c 66.3%,#ffe73c 76.5%,#ffc53f 78.1%,#fc4eac 80.9%,#8b14eb 82.8%,#8d14eb 83.7%,#9518e7 83.9%,#d335c9 84.6%,#ff55a6 85.3%,#ffc341 87.5%,#ffe73c 88.7%,#ffff8e 91.2%,#ffffc0 93.5%,#ffffd8 99.9%)"></i><i style="left:421.2px;background:linear-gradient(#ab22dd 0%,#7d0ff0 0.7%,#7c0ff0 1.8%,#fa4dad 3.4%,#ffc73d 5.7%,#ffe63c 6.7%,#fffe7e 8.7%,#ffff9f 9.6%,#ffffc3 11.5%,#ffffe8 19.9%,#ffffeb 26.8%,#ffffe7 30.9%,#ffffd4 34.9%,#ffffb9 37.4%,#fffd7b 39.7%,#ffee4f 44%,#ffee4f 47.5%,#fff666 49.8%,#ffff9b 52.9%,#ffffa6 57.8%,#ffff9b 62.8%,#fffd7c 64.4%,#ffe63c 76.1%,#ffc440 77.7%,#fc4eac 80.5%,#c930cf 81.4%,#750cf3 82.7%,#770df2 83.7%,#c42ed1 84.6%,#fb4ead 85.3%,#ffc93c 87.6%,#ffe33c 88.5%,#ffff83 90.8%,#ffffa7 91.9%,#ffffbd 93.1%,#ffffd2 99.9%)"></i><i style="left:427.2px;background:linear-gradient(#9116e9 0%,#6b09f6 0.7%,#700bf4 1.8%,#c12cd3 2.7%,#fb4dad 3.4%,#ffc341 5.5%,#ffe93f 6.7%,#ffff9a 9.2%,#ffffc0 11.2%,#ffffd0 16.5%,#ffffe8 19.9%,#ffffeb 26.8%,#ffffe5 31.6%,#ffffd2 35.7%,#ffffb5 38.1%,#fffb75 40.6%,#ffef50 44.2%,#ffed4b 45.8%,#fff156 47.7%,#ffff9d 51.8%,#ffffa8 60.1%,#ffff9d 63.2%,#fffd79 65.1%,#ffe73c 75.6%,#ffc93c 77.2%,#ff52a8 80.2%,#cf33cb 81.1%,#6c09f6 82.7%,#720bf4 83.7%,#c52ed1 84.6%,#fe4fab 85.3%,#ffc63e 87.5%,#ffe73c 88.5%,#ffff80 90.5%,#ffffa5 91.5%,#ffffbf 93%,#ffffd3 99.9%)"></i><i style="left:433.3px;background:linear-gradient(#8010ef 0%,#5d04fb 0.7%,#6407f8 1.8%,#c42ed1 2.8%,#ff50aa 3.5%,#ffc83c 5.7%,#ffe83c 6.7%,#fffd7a 8.3%,#ffff9d 9.4%,#ffffba 11%,#ffffe7 19.9%,#ffffeb 26.6%,#ffffe0 33.4%,#ffffc6 38%,#ffffaf 39.6%,#fffe7e 41.3%,#ffef50 44.9%,#fff157 47.4%,#ffff97 50.7%,#ffffa5 60.5%,#ffff96 64%,#fffc76 65.6%,#ffe73c 74.9%,#ffc63e 76.8%,#ff807f 78.9%,#fb4eac 80%,#cb31ce 80.9%,#6908f7 82.3%,#5c04fb 82.7%,#5b04fb 83.6%,#9b1be4 84.4%,#fc4eac 85.5%,#ffc73d 87.6%,#ffe33c 88.5%,#fffd7a 90.3%,#ffffb9 92.8%,#ffffcb 95.6%,#ffffd0 99.9%)"></i><i style="left:439.4px;background:linear-gradient(#8311ee 0%,#5e05fa 0.7%,#6306f9 2%,#bd2bd4 2.8%,#fc4eac 3.5%,#ffc93c 5.7%,#ffe93f 6.7%,#ffff95 9.2%,#ffffc1 11.4%,#ffffe9 19.9%,#ffffec 26.6%,#ffffe5 33.5%,#ffffd2 38.5%,#ffffb9 40.8%,#fffe7e 42.8%,#fff86a 43.8%,#fff259 45.8%,#fff45f 46.7%,#ffff9c 49.7%,#ffffa8 53.8%,#ffa 60.5%,#ffff9d 64.6%,#fffb74 67.8%,#ffe83c 74.7%,#ffc73d 76.5%,#ff817f 78.8%,#ff51a9 79.8%,#ca31ce 80.9%,#6507f8 82.5%,#5c04fb 83.7%,#9217e8 84.4%,#f84caf 85.5%,#ffc63e 87.6%,#ffe33c 88.5%,#ffff81 90.7%,#ffffa5 91.7%,#ffffbc 93%,#ffffd2 99.9%)"></i><i style="left:445.4px;background:linear-gradient(#750cf3 0%,#5000ff 0.7%,#5803fc 2%,#cc32cd 3%,#fc4eac 3.5%,#ffc53f 5.5%,#ffe93f 6.6%,#ffffa1 9.8%,#ffffc4 11.7%,#ffffea 19.9%,#ffe 26.6%,#ffffe8 33.9%,#ffffd8 38.3%,#ffffc2 40.8%,#ffff7f 43.3%,#fff76a 45.2%,#ffffa6 48.4%,#ffffb3 57.8%,#ffffa2 66.7%,#ffff80 68.3%,#ffe73c 74.7%,#ffc73d 76.3%,#ff827e 78.6%,#ff53a8 79.7%,#cc32cd 80.7%,#5c04fb 82.5%,#5803fc 83.7%,#bf2bd4 84.8%,#fe50aa 85.5%,#ffc440 87.5%,#ffe73c 88.5%,#ffff80 90.8%,#ffffa6 91.9%,#ffffc1 93.3%,#ffffd5 99.9%)"></i><i style="left:451.5px;background:linear-gradient(#6908f7 0%,#4c00ff 0.5%,#4c00ff 1.8%,#8d15ea 2.5%,#f84caf 3.5%,#ffc242 5.5%,#ffe73c 6.6%,#fffe7d 8.9%,#ffffa0 9.9%,#ffffbe 11.7%,#ffffe8 19.9%,#ffffec 26.8%,#ffffe8 33.7%,#ffffd8 37.6%,#ffffc6 40.1%,#ffffad 41.5%,#ffff83 42.8%,#fffc76 44.7%,#ffff94 45.8%,#ffffa4 47%,#ffffab 58.5%,#ffff9c 67.1%,#fffe7e 68.3%,#ffe73c 74.7%,#ffc73d 76.3%,#ff7f81 78.6%,#ff53a7 79.5%,#d335c9 80.4%,#8a13ec 81.4%,#4c00ff 82.7%,#5000ff 83.7%,#bb2ad5 84.8%,#fb4eac 85.5%,#ffc83c 87.6%,#ffe43c 88.5%,#fffe7e 91%,#ffffa3 92.1%,#ffffbe 93.5%,#ffffcf 96.3%,#ffffd3 99.9%)"></i><i style="left:457.5px;background:linear-gradient(#760df2 0%,#5702fd 0.5%,#5602fd 1.8%,#cd32cd 3%,#ff56a5 3.7%,#ffca3c 5.9%,#ffe83d 6.9%,#fffe7d 8.9%,#ffffa2 9.9%,#ffffbf 11.5%,#ffffe8 19.9%,#ffffeb 26.6%,#ffffd9 37.6%,#ffffbe 40.4%,#ffff82 42.8%,#fffe7d 43.5%,#fffe7d 44.9%,#ffff8e 45.4%,#ffffa1 47.2%,#ffa 52.9%,#ffff9e 67.1%,#fffe7d 68.7%,#ffe73c 74.9%,#ffc440 76.6%,#ff7e81 78.8%,#ff52a9 79.7%,#c42ed1 80.7%,#5602fd 82.3%,#4f00ff 83.6%,#9719e6 84.4%,#fa4dae 85.5%,#ff7f80 86.2%,#ffcb3c 87.8%,#ffe93e 88.9%,#fffe7e 90.8%,#ffffa3 91.9%,#ffffbf 93.5%,#ffffd3 99.9%)"></i><i style="left:463.6px;background:linear-gradient(#8411ee 0%,#5803fc 0.7%,#5401fe 1.8%,#c52ed1 3%,#ff52a9 3.7%,#ffc93c 5.9%,#ffe93e 6.9%,#ffff81 8.9%,#ffffa7 9.9%,#ffffc4 11.5%,#ffffeb 19.9%,#ffffed 24.5%,#ffffe7 34.6%,#ffffda 38%,#ffffbf 41%,#ffff85 43.5%,#ffff80 44.5%,#ffff80 46.1%,#ffffa3 48.3%,#ffffae 53.9%,#ffffa8 67.1%,#ffff80 69.5%,#ffe73c 75.4%,#ffc53f 77.2%,#ff51a9 80%,#9217e8 81.6%,#4c00ff 82.8%,#4d00ff 83.7%,#5702fd 83.9%,#c52ed1 85%,#ff53a7 85.7%,#ffc440 87.6%,#ffe73c 88.7%,#fffe7e 90.7%,#ffffa5 91.7%,#ffffc5 93.5%,#ffffd8 99.9%)"></i><i style="left:469.6px;background:linear-gradient(#8010ef 0%,#4c00ff 0.7%,#4900ff 2%,#8e15ea 2.7%,#f74bb0 3.7%,#ff56a5 3.9%,#ffc53f 5.9%,#ffe63c 6.9%,#ffff92 9.2%,#ffffae 10.1%,#ffffc8 11.7%,#ffffeb 19.9%,#ffffed 26.6%,#ffffe9 34.8%,#ffffda 38.7%,#ffffc9 41.2%,#ffff94 43.6%,#ffff8e 45.1%,#ffff90 46.8%,#ffa 48.3%,#ffffae 50%,#ffffb5 62.8%,#ffffab 67.4%,#ffffa4 68.8%,#ffff7f 70.4%,#ffe63c 76.3%,#ffc440 77.7%,#ff7f80 79.5%,#f94caf 80.4%,#8c14eb 81.8%,#4600ff 82.8%,#4a00ff 83.9%,#9116e9 84.6%,#fa4dae 85.7%,#ffc73d 87.8%,#ffe33c 88.7%,#ffff8c 91%,#ffffae 92.1%,#ffffc6 93.5%,#ffffdb 99.9%)"></i><i style="left:475.7px;background:linear-gradient(#780df2 0%,#4000ff 0.7%,#3e00ff 1.8%,#8a13ec 2.7%,#d638c6 3.4%,#ff54a6 3.9%,#ffc440 5.9%,#ffe93e 7.1%,#ffff7f 9%,#ffffa7 10.1%,#ffffc7 11.9%,#ffffe9 19.9%,#ffffec 26.8%,#ffffe8 35.1%,#ffffdb 38.9%,#ffffc4 41.5%,#ffff92 44%,#ffff94 47%,#ffffa9 48.3%,#ffffb1 51.1%,#ffffa9 67.9%,#ffffa4 69.2%,#ffff7f 70.6%,#ffe63c 76.5%,#ffc73d 77.9%,#ff52a8 80.4%,#cf33cb 81.1%,#5100ff 82.5%,#40f 82.7%,#4100ff 83.7%,#8f15ea 84.6%,#f84caf 85.7%,#ff7f80 86.4%,#ffcc3c 88%,#ffea40 89.1%,#ffff86 91.2%,#ffffa9 92.2%,#ffffc2 93.7%,#ffffd3 96.5%,#ffffd8 99.9%)"></i><i style="left:481.7px;background:linear-gradient(#8f16e9 0%,#5201fe 0.7%,#4a00ff 1.8%,#9719e6 2.7%,#fc4eac 3.7%,#ffc73d 5.9%,#ffe73c 6.9%,#ffff80 9.4%,#ffffa7 10.5%,#ffffc3 12.1%,#ffffe7 19.9%,#ffffeb 26.6%,#ffffe8 35.3%,#ffffda 39%,#ffffc2 41.5%,#ffff89 44%,#ffff85 44.9%,#ffff87 47%,#ffff9d 48.3%,#ffffa8 51.4%,#ffffa8 67.8%,#ffff9e 69.5%,#ffff7f 70.6%,#ffe83c 76.8%,#ffc83c 78.2%,#ff7a84 80%,#f94cae 80.7%,#9016e9 82%,#4d00ff 82.8%,#4d00ff 83.7%,#5602fd 83.9%,#c42ed1 85%,#ff52a8 85.7%,#ffc242 87.6%,#ffd53c 88.2%,#ffe93d 88.9%,#ffff81 91.4%,#ffffa6 92.4%,#ffffc1 93.8%,#ffffd0 96.7%,#ffffd2 99.9%)"></i><i style="left:487.8px;background:linear-gradient(#8e15ea 0%,#4a00ff 0.7%,#3600ff 1.2%,#3900ff 1.8%,#5401fe 2.3%,#8e15ea 2.8%,#ff51a9 3.9%,#ffc93c 5.9%,#ffe93f 6.9%,#fffe7e 9%,#ffffab 10.3%,#ffffc8 12.1%,#ffffea 19.9%,#ffffef 26.8%,#ffffe8 31.9%,#ffffc6 37.8%,#ffffab 39.4%,#fffe7d 40.8%,#ffef51 45.1%,#ffee4d 47%,#fff35c 50.4%,#fffe7e 53.4%,#ffffa5 55.2%,#ffffad 56.2%,#ffffb6 64.9%,#ffffa7 69.7%,#ffff7f 71.7%,#ffe93e 77.3%,#ffc73d 78.6%,#ff50aa 80.7%,#c02cd3 81.4%,#5000ff 82.5%,#3400ff 83%,#2f00ff 83.6%,#4e00ff 84.3%,#8a13ec 84.8%,#ff50aa 85.9%,#ffc93c 87.8%,#ffe93f 88.9%,#fffe7c 91%,#ffffa7 92.2%,#ffffc3 93.8%,#ffffd6 99.9%)"></i><i style="left:493.8px;background:linear-gradient(#9d1ce3 0%,#5301fe 0.9%,#5000ff 1.8%,#c42ed1 3%,#ff54a7 3.7%,#ffc63e 5.7%,#ffe83c 6.7%,#fffe7c 8.9%,#ffffa8 10.1%,#ffffc6 11.9%,#ffffea 19.9%,#ffe 26.8%,#ffffd7 35.5%,#ffffbe 38%,#ffff80 40.3%,#ffef50 44.7%,#ffed4c 46.7%,#fff25b 49.8%,#ffff80 52.9%,#ffffa5 54.6%,#ffffb7 62.8%,#ffffa7 70.6%,#fffe7e 72.6%,#ffe83c 77.5%,#ffc440 78.8%,#fa4dad 80.9%,#bd2ad5 81.6%,#5401fe 82.7%,#4700ff 83.6%,#6005fa 84.1%,#9719e6 84.6%,#ff51a9 85.7%,#ffc53f 87.6%,#ffd23c 88%,#ffe83c 88.7%,#fffe7d 90.8%,#ffffa9 92.1%,#ffffc4 93.7%,#ffffd7 99.9%)"></i><i style="left:499.9px;background:linear-gradient(#c22dd2 0%,#5f05fa 1.1%,#5f05fa 2.1%,#ce33cc 3.2%,#fb4ead 3.7%,#ffc242 5.7%,#ffe63c 6.7%,#fffe7e 8.9%,#ffffa3 9.9%,#ffffc4 11.7%,#ffffe9 19.9%,#ffffeb 26.6%,#ffffd6 35.3%,#ffffbe 37.6%,#fffd7b 40.1%,#ffef50 44.3%,#ffed4c 46.3%,#fff259 49.7%,#fffe7e 52.5%,#ffff9b 53.6%,#ffffa7 55.3%,#ffffaf 65.6%,#ffffa4 71.5%,#ffff7f 73.4%,#ffe93e 77.7%,#ffc73d 78.9%,#f94cae 81.2%,#bf2cd3 82%,#5c04fb 83%,#5a03fc 83.9%,#ce33cc 85.2%,#fb4ead 85.7%,#ffc93c 87.8%,#ffe63c 88.7%,#ffff7f 90.8%,#ffffa5 91.9%,#ffffc2 93.5%,#ffffd4 99.9%)"></i><i style="left:505.9px;background:linear-gradient(#b226d9 0%,#4a00ff 1.1%,#4900ff 2%,#9b1be4 2.8%,#f74bb0 3.7%,#ff57a4 3.9%,#ffc341 5.7%,#ffe83c 6.7%,#fffe7e 8.7%,#ffffa4 9.8%,#ffffc4 11.5%,#ffffe9 19.9%,#ffffed 26.6%,#ffffdc 34.6%,#ffc 36.5%,#ffffa9 38.7%,#fffe7d 39.9%,#fff259 42.6%,#ffed4c 44.5%,#ffec47 46.7%,#fff053 49.7%,#ffff7f 53.2%,#ffffa6 55.5%,#ffffb0 67.4%,#ffffa4 72.7%,#ffff7f 74.5%,#ffe83c 78.1%,#ffc63e 79.1%,#f84caf 81.2%,#9116e9 82.3%,#4e00ff 83%,#4b00ff 83.9%,#8b14eb 84.6%,#f84caf 85.7%,#ffc242 87.6%,#ffe13c 88.5%,#ffff81 90.8%,#ffffa1 91.7%,#ffffc0 93.3%,#ffffd4 99.9%)"></i><i style="left:512px;background:linear-gradient(#c02cd3 0%,#5c04fb 1.1%,#5a03fc 2%,#bb2ad5 3%,#fb4ead 3.7%,#ffc242 5.7%,#ffe63c 6.7%,#ffff8a 8.9%,#ffffa9 9.8%,#ffffc4 11.4%,#ffffe9 19.9%,#ffffed 26.6%,#ffffd9 34.6%,#ffffc7 37.1%,#ffffae 38.5%,#ffff80 39.7%,#fff158 42.6%,#ffec49 44.5%,#ffea43 46.7%,#fff053 50.4%,#ffff7f 53.9%,#ffffa1 55.3%,#ffa 56.6%,#ffffb2 68.3%,#ffff9f 73.4%,#ffff81 74.5%,#ffe93e 77.7%,#ffc83c 78.9%,#fa4dae 81.2%,#bf2cd3 82%,#5c04fb 83%,#5b04fb 83.9%,#c02cd3 85%,#fe50aa 85.7%,#ffc341 87.6%,#ffe13c 88.5%,#ffe940 88.9%,#ffff82 90.7%,#ffffa8 91.7%,#ffffc5 93.3%,#ffffd6 99.9%)"></i><i style="left:518.1px;background:linear-gradient(#d436c8 0%,#8712ed 0.9%,#7d0ff0 2%,#fa4dad 3.5%,#ffc93c 5.9%,#ffe83c 6.9%,#ffff9f 9.8%,#ffffbf 11.5%,#ffffe7 19.9%,#ffffeb 26.8%,#ffffe5 30.7%,#ffffc2 36.9%,#ffffa8 38.3%,#fffe7d 39.6%,#fff155 42.4%,#ffeb45 44.5%,#ffe940 46.5%,#ffee4e 49.8%,#ffffa2 55.7%,#ffffad 67.6%,#ffff9b 72.9%,#ffe83d 77.3%,#ffc93c 78.8%,#fd4fac 81.2%,#cb31ce 82%,#7f10ef 82.8%,#780df2 83.7%,#9217e8 84.3%,#fd4fac 85.5%,#ffc341 87.6%,#ffe43c 88.7%,#ffff7f 90.8%,#ffffa0 91.7%,#ffffc0 93.3%,#ffffd0 96%,#ffffd3 99.9%)"></i><i style="left:524.1px;background:linear-gradient(#db3ac3 0%,#9518e7 0.9%,#8e15ea 2%,#d235c9 2.8%,#ff55a6 3.5%,#ffc440 5.7%,#ffe83c 6.9%,#ffff9c 9.8%,#ffffbd 11.5%,#ffffe7 19.9%,#ffffec 26.6%,#ffffd5 34.4%,#ffffbf 36.9%,#ffffa3 38.3%,#ffff80 39.2%,#fff664 40.8%,#ffee4f 42.6%,#ffe83c 45.8%,#ffe940 48.3%,#ffef4f 50%,#ffff7f 53%,#ffffa1 54.5%,#ffffb0 63.5%,#ffffab 70.8%,#ffffa0 72.6%,#ffff7f 73.8%,#ffe83c 77.5%,#ffc341 78.9%,#ff52a8 81.2%,#8a13ec 82.8%,#8512ed 83.7%,#d034cb 84.8%,#ff54a6 85.5%,#ffc53f 87.6%,#ffe43c 88.7%,#fffe7d 90.8%,#ffffbd 93.3%,#ffffd0 96.2%,#ffffd4 99.9%)"></i><i style="left:530.2px;background:linear-gradient(#e440bd 0%,#9a1be4 1.1%,#9b1be4 2.1%,#d436c8 2.8%,#ff55a6 3.5%,#ffc93c 5.9%,#ffe63c 6.9%,#ffff87 8.9%,#ffffa5 9.8%,#ffffc1 11.4%,#ffffe9 19.9%,#ffffed 26.6%,#ffffd9 34.4%,#ffffc6 36.9%,#fff769 40.6%,#ffe83d 44.3%,#ffe93e 48.4%,#fff86d 52%,#ffffa6 54.5%,#ffffb4 65.3%,#ffffa8 72.2%,#ffff7f 73.8%,#ffe83c 77.5%,#ffc440 78.9%,#fe50aa 81.4%,#8f16e9 83%,#8f16e9 84.1%,#ff52a9 85.5%,#ffc440 87.6%,#ffe83c 88.9%,#ffff83 90.7%,#ffffa7 91.7%,#ffffc3 93.3%,#ffffd3 96%,#ffffd5 99.9%)"></i><i style="left:536.2px;background:linear-gradient(#e23fbe 0%,#a520df 0.9%,#a01de2 2%,#ff50aa 3.4%,#ffc341 5.7%,#ffe63c 6.9%,#ff8 8.7%,#ffffa7 9.6%,#ffffc3 11.2%,#ffffe8 19.9%,#ffffed 26.6%,#ffffdb 34.6%,#ffffc8 37.1%,#ffffae 38.5%,#ffff80 39.7%,#ffee4d 42.6%,#ffe83c 44.3%,#ffe83d 48.4%,#fff769 51.8%,#ffffa5 54.3%,#ffffaf 56.1%,#ffffb4 64.9%,#ffffa2 71.8%,#ffff80 73.3%,#ffe83d 77.5%,#ffc440 78.9%,#fb4ead 81.4%,#991ae5 82.8%,#9518e7 83.7%,#fd4fab 85.3%,#ffc53f 87.6%,#ffe83c 88.9%,#ffff8b 90.7%,#ffffa8 91.5%,#ffffc5 93.1%,#ffffd5 95.8%,#ffffd8 99.9%)"></i><i style="left:542.3px;background:linear-gradient(#d939c4 0%,#991ae5 0.9%,#991ae5 2%,#ff51a9 3.4%,#ffc341 5.7%,#ffe63c 6.9%,#ffff81 8.5%,#ffffa6 9.6%,#ffffc1 11.2%,#ffffe7 19.9%,#ffffeb 26.8%,#ffffe6 31.2%,#ffffc7 37.3%,#ffffad 38.7%,#ffff7f 39.9%,#fff769 41%,#ffe83c 44.5%,#ffe83c 49%,#ffeb45 50%,#ffff7f 53.9%,#ffffa7 56.1%,#ffffb1 63.2%,#ffffa9 69.9%,#ffff9d 71.7%,#ffff7f 72.7%,#ffe73c 77.3%,#ffc440 78.8%,#fc4eac 81.2%,#8e15ea 82.8%,#9016e9 83.7%,#fe50aa 85.3%,#ffc341 87.6%,#ffe63c 88.9%,#fffe7c 90.3%,#ffffa1 91.4%,#ffffc1 93%,#ffffd5 95.8%,#ffffd7 99.9%)"></i><i style="left:548.3px;background:linear-gradient(#c62fd0 0%,#8110ef 0.9%,#8110ef 2%,#cb31ce 2.8%,#ff50aa 3.5%,#ffc73d 5.9%,#ffe63c 6.9%,#ffff89 8.5%,#ffa 9.6%,#ffffc3 11.2%,#ffffe9 19.9%,#ffffec 26.6%,#ffffe8 31.4%,#ffffca 37.4%,#ffffae 39%,#ffff81 40.3%,#fff768 41.5%,#ffef51 43.1%,#ffe83c 45.9%,#ffe83d 48.8%,#ffee4d 50.7%,#fffe7e 53.9%,#ffffa9 55.7%,#ffffb6 60.1%,#ffffa6 71.5%,#fffe7e 73.1%,#ffe93e 77%,#ffc83c 78.4%,#fb4ead 81.1%,#cd32cd 81.8%,#780df2 82.8%,#760df2 83.9%,#d135ca 85%,#ff56a5 85.7%,#ffc53f 87.8%,#ffe53c 88.9%,#ffff87 90.5%,#ffffa5 91.4%,#ffffc2 93%,#ffffd4 95.8%,#ffffd8 99.9%)"></i><i style="left:554.4px;background:linear-gradient(#af24db 0%,#6a09f6 0.9%,#6908f7 2%,#c930cf 3%,#ff51a9 3.7%,#ffc53f 5.9%,#ffe63c 6.9%,#ffff8d 8.7%,#ffffae 9.8%,#ffffc7 11.4%,#ffffea 19.9%,#ffe 26.6%,#ffffea 31.6%,#ffffc7 37.8%,#ffffaf 39.2%,#fffe7e 40.6%,#fff053 43.1%,#ffeb44 44.9%,#ffe93f 46.7%,#fff053 50%,#ffff80 53%,#ffffac 55%,#ffffb8 62.4%,#ffffa8 70.6%,#ffff7f 72.6%,#ffe73c 77%,#ffc73d 78.2%,#ff54a6 80.7%,#c72fd0 81.6%,#6206f9 82.8%,#5f05fa 83.9%,#c22dd2 85%,#fc4eac 85.7%,#ffc440 87.8%,#ffe53c 88.9%,#ffff89 90.7%,#ffffab 91.7%,#ffffc3 93.1%,#ffffd9 99.9%)"></i><i style="left:560.4px;background:linear-gradient(#a2d 0%,#6708f7 0.9%,#6106f9 2%,#cc32cd 3.2%,#ff55a6 3.9%,#ffc93c 6%,#ffe93e 7.1%,#ffff80 8.9%,#ffffa1 9.8%,#ffffc3 11.5%,#ffffe9 19.9%,#ffffed 26.8%,#ffffe8 31.8%,#ffffc5 37.8%,#ffffa7 39.4%,#ffff7f 40.4%,#fff054 43.1%,#ffeb46 44.7%,#ffea42 46.5%,#fff158 50%,#ffff80 52.9%,#ffffa2 54.1%,#ffffb6 62.1%,#ffffa1 68.8%,#ffff80 70.8%,#ffe83c 76.3%,#ffc83c 77.9%,#ff7e81 79.8%,#fa4dae 80.7%,#cd32cd 81.4%,#6005fa 82.8%,#5c04fb 83.9%,#cd32cd 85.2%,#f84caf 85.7%,#ffc440 87.8%,#ffe73c 88.9%,#ffff81 90.8%,#ffffa6 91.9%,#ffffbf 93.3%,#ffffd5 99.9%)"></i><i style="left:566.5px;background:linear-gradient(#b225da 0%,#740cf3 0.9%,#6e0af5 2.1%,#ce32cc 3.2%,#ff54a6 3.9%,#ffc73d 6%,#ffe63c 7.1%,#fffe7d 8.9%,#ffffa4 9.9%,#ffffc6 11.7%,#ffffe8 19.9%,#ffffeb 26.6%,#ffffe6 31.8%,#ffffcb 37.3%,#ffffa8 39.4%,#fffe7c 40.6%,#ffed4a 44.7%,#ffeb46 46.8%,#fff158 50%,#ffff80 52.9%,#ffffa1 54.1%,#ffffb4 62.3%,#ffff9c 68.8%,#fffe7c 70.1%,#ffe73c 76.3%,#ffc83c 77.7%,#fa4dad 80.7%,#c62fd0 81.6%,#700bf4 82.8%,#6e0af5 83.9%,#c22dd2 85%,#fa4dad 85.7%,#ffc83c 88%,#ffe33c 88.9%,#fffe7d 90.8%,#ffffa3 91.9%,#ffffc0 93.5%,#ffffd4 99.9%)"></i><i style="left:572.5px;background:linear-gradient(#ae24db 0%,#6a09f6 1.1%,#6a09f6 2.1%,#cb31ce 3.2%,#ff53a7 3.9%,#ffc73d 6%,#ffe73c 7.1%,#fffe7e 8.9%,#ffff9f 9.8%,#ffffc2 11.5%,#ffffe8 19.9%,#ffffea 26.6%,#ffffe7 31.8%,#ffffd5 36.2%,#ffffbf 38.3%,#fffc77 40.8%,#ffed4a 44.7%,#ffec47 46.7%,#fff156 49.7%,#ffff7f 52.7%,#ffff9f 54.1%,#ffffac 64.8%,#ffff9e 68.8%,#fffe7d 70.1%,#ffe73c 76.3%,#ffc73d 77.7%,#ff52a8 80.5%,#ce33cc 81.4%,#6a09f6 82.8%,#6708f7 83.9%,#cd32cd 85.2%,#ff55a6 85.9%,#ffc73d 88%,#ffe23c 88.9%,#ffff81 91%,#ffffa2 91.9%,#ffffbe 93.3%,#ffffd3 99.9%)"></i><i style="left:578.6px;background:linear-gradient(#a2d 0%,#5f05fa 1.1%,#5f05fa 2.1%,#c02cd3 3.2%,#fc4eac 3.9%,#ffc63e 6%,#ffe63c 7.1%,#ffff83 8.7%,#ffffa6 9.8%,#ffffc2 11.4%,#ffffea 19.9%,#ffffed 26.8%,#ffffea 31.9%,#ffffd9 36.4%,#ffffc3 38.5%,#fffe7d 41%,#ffef50 44.7%,#ffed4c 46.5%,#fff25b 49.3%,#fffe7e 51.8%,#ffffa7 53.6%,#ffffb3 61.4%,#ffffa3 68.7%,#ffff80 70.1%,#ffe83d 76.1%,#ffc53f 77.7%,#ff7f81 79.7%,#fe4fab 80.5%,#c72fd0 81.4%,#5401fe 83%,#5502fd 84.1%,#cd32cd 85.3%,#f94cae 85.9%,#ffc73d 88%,#ffe33c 88.9%,#ffff89 90.7%,#ffffac 91.7%,#ffffc4 93.1%,#ffffd7 99.9%)"></i><i style="left:584.6px;background:linear-gradient(#a21ee1 0%,#5b04fb 1.1%,#5e05fa 2.1%,#c42ed1 3.2%,#ff51a9 3.9%,#ffc93c 6%,#ffe83c 7.1%,#ffff84 8.5%,#ffffa7 9.6%,#ffffc2 11.2%,#ffffea 19.9%,#ffffed 26.8%,#ffffe7 32.1%,#ffffc5 38.3%,#ffffa7 39.9%,#ffff7f 41%,#ffef52 44.7%,#ffee4d 46.3%,#fff35b 49.1%,#ffff80 51.6%,#ffff9d 52.7%,#ffa 54.5%,#ffffaf 64.4%,#ffffa1 68.3%,#ffff7f 69.7%,#ffe83d 76.3%,#ffc73d 77.7%,#ff7f80 79.7%,#fc4eac 80.5%,#c32ed1 81.4%,#5602fd 82.8%,#5100ff 83.9%,#9819e6 84.8%,#fd4fab 85.9%,#ffc242 87.8%,#ffe03c 88.7%,#ffe93f 89.1%,#ffff8a 90.5%,#ffffa8 91.4%,#ffffc0 92.8%,#ffffd2 95.8%,#ffffd7 99.9%)"></i><i style="left:590.7px;background:linear-gradient(#991ae5 0%,#5401fe 0.9%,#5100ff 2%,#c52ed1 3.2%,#ff52a8 3.9%,#ffc440 5.9%,#ffe73c 6.9%,#ff8 8.5%,#ffffab 9.6%,#ffffc4 11.2%,#ffffe9 19.9%,#ffffec 26.8%,#ffffe6 32.1%,#ffffc1 38.5%,#ffffa6 39.9%,#ffff7f 41%,#ffee4f 44.7%,#ffed4a 46.3%,#fff259 49%,#ffff81 51.6%,#ffff9a 52.5%,#ffffa6 54.3%,#ffffb0 57.8%,#ffffad 65.5%,#ffffa0 68.3%,#fffe7d 69.7%,#ffe73c 76.6%,#ffc83c 77.9%,#fb4ead 80.5%,#9016e9 82%,#4c00ff 82.8%,#4c00ff 83.9%,#c32ed1 85.2%,#ff52a8 85.9%,#ffca3c 88%,#ffe93f 89.1%,#ffff80 90.5%,#ffffa0 91.4%,#ffffbf 93%,#ffffd0 95.8%,#ffffd6 99.9%)"></i><i style="left:596.8px;background:linear-gradient(#9d1ce3 0%,#5a03fc 0.9%,#5903fc 2%,#ce33cc 3.2%,#f84caf 3.7%,#ffc242 5.9%,#ffe940 7.1%,#ffff8f 8.7%,#ffffb1 9.8%,#ffffcb 11.4%,#ffffea 19.9%,#ffe 26.8%,#ffffe9 32.3%,#ffffc9 38.5%,#ffffae 40.1%,#fffe7e 41.5%,#fff054 44.7%,#ffef4f 46.3%,#fff45f 48.8%,#ffff7f 50.7%,#ffffab 52.5%,#ffffb8 60.5%,#ffffa6 68.7%,#ffff7f 70.3%,#ffe73c 76.8%,#ffc73d 78.1%,#ff53a8 80.5%,#c52ed1 81.4%,#5e05fa 82.7%,#5401fe 82.8%,#5401fe 83.7%,#cb31ce 85.2%,#ff54a6 85.9%,#ffc73d 88%,#ffe83c 89.1%,#ff8 90.7%,#ffffac 91.7%,#ffffc5 93.1%,#ffffd7 99.9%)"></i><i style="left:602.8px;background:linear-gradient(#9016e9 0%,#4e00ff 0.9%,#4f00ff 2%,#cd32cd 3.2%,#f94dae 3.7%,#ffc53f 5.9%,#ffe73c 6.9%,#ffff8d 9%,#ffa 9.9%,#ffffc6 11.5%,#ffffe9 19.9%,#ffffec 26.8%,#ffffe9 32.3%,#ffffc6 38.7%,#ffffab 40.1%,#ffff7f 41.3%,#fff054 44.7%,#ffef50 46.1%,#fff45e 48.4%,#ffff7f 50.4%,#ffffa6 52%,#ffffb9 60.3%,#ffffa2 69%,#ffff7f 70.4%,#ffe83d 76.6%,#ffc440 78.1%,#fe4fab 80.5%,#ce33cc 81.2%,#5803fc 82.7%,#5000ff 83.7%,#9719e6 84.6%,#f84caf 85.7%,#ff7e81 86.4%,#ffca3c 88%,#ffe93e 89.1%,#ffff82 90.8%,#ffffa8 91.9%,#ffffc3 93.3%,#ffffd2 96.2%,#ffffd5 99.9%)"></i><i style="left:608.9px;background:linear-gradient(#8f16e9 0%,#4d00ff 0.9%,#4d00ff 2%,#9317e8 2.7%,#fb4ead 3.7%,#ffca3c 5.9%,#ffe93f 6.9%,#ffffa1 9.9%,#ffffc2 11.7%,#ffffe8 19.9%,#ffffeb 26.8%,#ffffe7 32.3%,#ffffc3 38.7%,#ffffa8 40.1%,#ffff80 41.2%,#ffef51 44.7%,#ffee4e 46.3%,#fff259 48.4%,#ffffa8 53.2%,#ffffb7 60.3%,#ffffa4 69.2%,#ffff80 70.8%,#ffe93e 76.6%,#ffc341 78.1%,#fb4dad 80.5%,#8d14eb 82%,#4e00ff 82.8%,#5301fe 83.9%,#c32ed1 85%,#ff53a8 85.7%,#ffc53f 87.6%,#ffe23c 88.5%,#ffff82 91%,#ffffa6 92.1%,#ffffc0 93.5%,#ffffd1 96.3%,#ffffd4 99.9%)"></i><i style="left:614.9px;background:linear-gradient(#9f1de2 0%,#5903fc 0.9%,#5301fe 2%,#c62fd0 3.2%,#ff52a8 3.9%,#ffc93c 6%,#ffe73c 7.1%,#ffff7f 9%,#ffffa5 10.1%,#ffffc2 11.7%,#ffffe8 19.9%,#ffffec 26.8%,#ffffe7 32.3%,#ffffc6 38.5%,#ffa 40.1%,#ffff7f 41.3%,#fff053 44.9%,#ffee4e 46.5%,#fff259 49%,#fffe7e 51.6%,#ffa 54.1%,#ffffb5 65.1%,#ffffa6 69.9%,#ffff7f 71.8%,#ffe83c 76.8%,#ffc93c 78.1%,#fc4eac 80.7%,#cd32cd 81.4%,#6607f8 82.7%,#5803fc 83%,#5903fc 83.7%,#9a1be4 84.6%,#fe50ab 85.7%,#ffc242 87.6%,#ffe03c 88.5%,#ffe83c 88.9%,#ffff87 91%,#ffa 92.1%,#ffffc1 93.5%,#ffffd6 99.9%)"></i><i style="left:621px;background:linear-gradient(#9719e6 0%,#4c00ff 0.9%,#4700ff 2%,#9317e8 2.8%,#f94cae 3.9%,#ffc63e 6%,#ffe73c 7.1%,#ffff81 9%,#ffffa6 10.1%,#ffffc2 11.7%,#ffffe9 19.9%,#ffffec 26.8%,#ffffe6 32.1%,#ffffc8 38.1%,#ffffae 39.7%,#fffb74 41.9%,#fff45f 43.6%,#ffee4f 46.5%,#fff563 50.4%,#ffff7f 52.5%,#ffffa8 54.5%,#ffffb5 63.3%,#ffffac 69.5%,#ffffa1 71.3%,#fffe7f 72.7%,#ffe83c 77%,#ffc73d 78.2%,#fd4fac 80.7%,#cb31ce 81.4%,#5201fe 82.8%,#4f00ff 83.7%,#c72fd0 85.2%,#ff53a8 85.9%,#ffc83c 88%,#ffdf3c 88.7%,#ffe83c 89.1%,#ffff84 91%,#ffffa9 92.1%,#ffffc5 93.7%,#ffffdc 99.9%)"></i><i style="left:627px;background:linear-gradient(#9719e6 0%,#4900ff 0.9%,#4600ff 2%,#8712ed 2.7%,#c32dd2 3.2%,#ff54a7 3.9%,#ffc73d 5.9%,#ffe93f 6.9%,#ffff81 9%,#ffffa5 10.1%,#ffffc1 11.7%,#ffffe9 19.9%,#ffffec 26.8%,#ffffe5 31.9%,#ffffc7 37.8%,#ffffac 39.4%,#fffe7e 40.8%,#fff055 44.9%,#ffef51 47.5%,#fff35d 50.2%,#ffff7f 53.2%,#ffffa3 54.8%,#ffffac 56.2%,#ffffb0 66.9%,#ffffa5 71.7%,#fffe7e 73.3%,#ffe93e 77.2%,#ffc73d 78.4%,#ff51a9 80.7%,#cb31ce 81.4%,#5702fd 82.7%,#4700ff 83%,#4700ff 83.7%,#8b14eb 84.6%,#c72fd0 85.2%,#ff55a5 85.9%,#ffc63e 87.8%,#ffe33c 88.7%,#ffff82 91%,#ffffa9 92.1%,#ffffc6 93.7%,#ffffdc 99.9%)"></i><i style="left:633.1px;background:linear-gradient(#ff5f9c 0%,#fe4fab 0.4%,#c930cf 1.4%,#c62fd0 2.5%,#ff51a9 3.5%,#ffc73d 6%,#ffe73c 7.3%,#ffff82 9.9%,#ffffa3 10.8%,#ffffc2 12.4%,#ffffe0 19.9%,#ffffde 30%,#ffffcd 34.6%,#ffffab 38%,#ffff7f 39.4%,#fff86a 40.4%,#ffe83c 44%,#ffe83d 49.3%,#fff45f 52.2%,#ffffa5 55.9%,#ffffb1 63.7%,#ffffa5 72.2%,#fffe7e 73.6%,#ffe73c 77.7%,#ffc440 79.3%,#fd4fab 82.3%,#cb31ce 83.4%,#cc31ce 84.4%,#ff58a3 85.5%,#ffc53f 87.8%,#ffe63c 89.1%,#ffff83 91.7%,#ffa 92.8%,#ffffc3 94.2%,#ffffd4 99.9%)"></i><i style="left:639.1px;background:linear-gradient(#ff5c9f 0%,#fa4dad 0.4%,#c32dd2 1.4%,#c02cd3 2.5%,#fe4fab 3.5%,#ffc93c 6%,#ffe83c 7.3%,#fffe7e 9.8%,#ffff9e 10.6%,#ffffc0 12.4%,#ffffde 19.9%,#ffffe0 26.8%,#ffffd0 33.2%,#ffffb9 35.8%,#ffffa6 37.3%,#ffff82 38.3%,#fff666 39.7%,#ffe83c 43.1%,#ffe83c 49.1%,#ffec46 50.7%,#fff562 53%,#ffff95 55.5%,#ffffa2 57.1%,#ffffad 66.2%,#ffff9b 72%,#fffe7e 73.1%,#ffe73c 77.7%,#ffc53f 79.3%,#ff50aa 82.3%,#cc31ce 83.4%,#ca31ce 84.4%,#ff57a4 85.5%,#ffc63e 87.8%,#ffe63c 89.1%,#ffff7f 91.7%,#ffffa0 92.6%,#ffffbf 94.2%,#ffffd3 99.9%)"></i><i style="left:645.2px;background:linear-gradient(#ff5ba0 0%,#f94dae 0.4%,#c32dd2 1.4%,#c22dd2 2.5%,#ff53a8 3.5%,#ffc63e 5.9%,#ffe83c 7.1%,#ffff81 9.6%,#ffffa7 10.6%,#ffffc3 12.2%,#ffffdf 19.9%,#ffffe2 26.8%,#ffffce 33.2%,#ffffb8 35.8%,#ffffa6 37.3%,#fffe7e 38.3%,#ffe83c 43.1%,#ffe83c 49%,#fff562 52.9%,#ffff9a 55.7%,#ffffae 60.1%,#ffffb5 65.3%,#ffa 70.1%,#ffff9b 72%,#ffff80 72.9%,#ffe83c 77.5%,#ffc93c 79.1%,#ff55a5 82.1%,#c72fd0 83.4%,#c62fd0 84.4%,#ff57a4 85.5%,#ffc83c 87.8%,#ffe83c 89.1%,#ffff80 91.5%,#ffffa7 92.6%,#ffffc1 94%,#ffffd5 99.9%)"></i><i style="left:651.2px;background:linear-gradient(#ff58a3 0%,#cc32cd 1.4%,#cd32cd 2.5%,#fe50aa 3.4%,#ffc63e 5.9%,#ffe73c 7.1%,#ffff80 9.6%,#ffffa0 10.5%,#ffffc0 12.2%,#ffffdf 19.9%,#ffffe3 26.6%,#ffffca 33.4%,#ffffb7 35.8%,#ffffa6 37.3%,#ffff7f 38.3%,#fff563 39.9%,#ffe83c 43.5%,#ffe83c 49.1%,#fff45f 52.7%,#ffff96 55.5%,#ffffab 60%,#ffffb2 65.6%,#ffff9c 71.8%,#ffff7f 72.9%,#ffe73c 77.3%,#ffc83c 78.9%,#ff51a9 82.1%,#cf33cc 83.2%,#cb31ce 84.3%,#fe4fab 85.3%,#ffc63e 87.8%,#ffe73c 89.1%,#ffff7f 91.4%,#ffffa6 92.4%,#ffffc3 94%,#ffffd4 99.9%)"></i><i style="left:657.3px;background:linear-gradient(#f94cae 0%,#c62fd0 1.1%,#c12cd3 2.1%,#ff51a9 3.4%,#ffc53f 5.9%,#ffe83d 7.3%,#ffff9e 10.5%,#ffffbe 12.2%,#ffffde 19.9%,#ffffe1 25.2%,#ffc 33.4%,#ffffb6 36%,#ffffa3 37.4%,#fffe7c 38.5%,#ffe83c 43.3%,#ffe83d 49.5%,#fff35c 52.7%,#ffff93 55.5%,#ffffa8 59.8%,#ffffaf 65.8%,#ffff9a 71.7%,#fffe7e 72.7%,#ffe93e 77.2%,#ffc83c 78.8%,#ff52a8 81.8%,#c62fd0 83%,#c22dd2 84.1%,#ff53a8 85.3%,#ffc53f 87.8%,#ffe53c 89.1%,#ffff81 91.5%,#ffffa3 92.4%,#ffffc0 94%,#ffffd5 99.9%)"></i><i style="left:663.3px;background:linear-gradient(#f94cae 0%,#c22dd2 1.1%,#be2bd4 2.1%,#fe50ab 3.4%,#ffc83c 6%,#ffe73c 7.3%,#ffff82 9.6%,#ffffa2 10.5%,#ffffc4 12.2%,#ffd 19.9%,#ffffe2 26.6%,#ffffd0 33.5%,#ffffbc 36%,#ffffa9 37.4%,#ffff81 38.5%,#fff564 40.1%,#ffe83c 43.6%,#ffe83c 49.1%,#ffec48 50.7%,#ffff7f 54.6%,#ffff98 55.5%,#ffffa5 57.3%,#ffffb2 66.3%,#ffff9f 71.3%,#ffff7f 72.6%,#ffe83d 77.2%,#ffc63e 78.8%,#ff54a6 81.6%,#bb2ad5 83.2%,#c22dd2 84.3%,#ff53a8 85.3%,#ffc440 87.8%,#ffe73c 89.2%,#ffff81 91.5%,#ffffa5 92.6%,#ffffbf 94%,#ffffd5 99.9%)"></i><i style="left:669.4px;background:linear-gradient(#fd4fab 0%,#c32dd2 1.2%,#c22dd2 2.3%,#fd4fab 3.4%,#ffc93c 6%,#ffe73c 7.3%,#ffff81 9.8%,#ffffa3 10.6%,#ffffc2 12.2%,#ffd 19.9%,#ffffe4 26.6%,#ffffd1 33.5%,#ffffbc 36%,#ffffa8 37.4%,#ffff7f 38.5%,#fff561 40.1%,#ffe83c 43.5%,#ffe83c 49%,#ffec47 50.7%,#ffff80 54.8%,#ffff9b 55.7%,#ffffb0 60.8%,#ffffad 67.1%,#ffff9e 71.1%,#fffe7e 72.4%,#ffe83d 76.8%,#ffc73d 78.6%,#ff50aa 81.8%,#bf2cd3 83.2%,#c22dd2 84.3%,#ff53a7 85.3%,#ffc63e 87.8%,#ffe63c 89.1%,#fffe7e 91.5%,#ffffa2 92.6%,#ffffbc 94%,#ffffd2 99.9%)"></i><i style="left:675.5px;background:linear-gradient(#f74bb0 0%,#b627d8 1.2%,#b627d8 2.3%,#ff54a7 3.5%,#ffc63e 5.9%,#ffe73c 7.1%,#ffff82 9.8%,#ffffa2 10.6%,#ffffc2 12.2%,#ffffe0 19.9%,#ffffe4 26.6%,#ffffd1 33.5%,#ffffbd 36%,#ffa 37.4%,#fffe7e 38.7%,#ffed49 42%,#ffe83c 43.6%,#ffe83c 49%,#ffeb46 50.4%,#ffff7f 54.5%,#ffff9d 55.7%,#ffa 57.5%,#ffffb2 66.9%,#ffffa1 71.1%,#ffff81 72.4%,#ffe83d 76.8%,#ffc53f 78.6%,#ff54a6 81.6%,#b527d8 83.2%,#b728d7 84.3%,#ff56a4 85.5%,#ffc63e 87.8%,#ffe73c 89.1%,#ffff7f 91.5%,#ffffa4 92.6%,#ffffc0 94.2%,#ffffd3 99.9%)"></i><i style="left:681.5px;background:linear-gradient(#f64ab0 0%,#ad23dc 1.2%,#ad23dc 2.3%,#fc4eac 3.5%,#ffc93c 6%,#ffe93e 7.3%,#fffe7e 9.6%,#ffffa4 10.6%,#ffffc4 12.4%,#ffd 19.9%,#ffffe2 26.6%,#ffffce 33.5%,#ffffba 36%,#ffffa8 37.4%,#ffff80 38.5%,#fff666 39.9%,#ffe83c 43.6%,#ffe83d 49%,#fff45e 51.8%,#ffff9d 55%,#ffffa3 56.1%,#ffffb2 66.9%,#ffff9f 71.5%,#ffff80 72.6%,#ffe83d 77.2%,#ffc83c 78.8%,#fe4fab 81.8%,#af24db 83.2%,#af24db 84.3%,#fd4fab 85.5%,#ffc73d 88%,#ffe73c 89.2%,#ffff80 91.7%,#ffffa0 92.6%,#ffffbe 94.2%,#ffffd2 99.9%)"></i><i style="left:687.6px;background:linear-gradient(#ff50aa 0%,#bb2ad5 1.2%,#b125da 1.6%,#b125da 2.3%,#ff51a9 3.7%,#ffc440 6%,#ffe63c 7.3%,#ffff81 9.8%,#ffffa7 10.8%,#ffffc3 12.4%,#ffffdf 19.9%,#ffffe0 26.6%,#ffffce 33.4%,#ffffb9 35.8%,#ffffa7 37.3%,#ffff80 38.3%,#fff563 39.9%,#ffe83c 43.5%,#ffe83d 48.6%,#fff562 51.6%,#ffff9e 54.3%,#ffffaf 63%,#ffffab 69.2%,#ffff9f 71.5%,#ffff7f 72.7%,#ffe93e 77.5%,#ffc83c 79.1%,#ff55a5 82%,#c32dd2 83.2%,#b828d7 84.3%,#ff55a6 85.7%,#ffc440 88%,#ffe53c 89.2%,#ffff7f 91.7%,#ffffa5 92.8%,#ffffc0 94.2%,#ffffd4 99.9%)"></i><i style="left:693.6px;background:linear-gradient(#ff5ba0 0%,#f94dae 0.4%,#c62fd0 1.4%,#c42ed1 2.5%,#ff55a5 3.7%,#ffc73d 6.2%,#ffe63c 7.5%,#ffff83 9.9%,#ffffa3 10.8%,#ffffc2 12.4%,#ffffe3 19.9%,#ffffe3 26.8%,#ffffd2 33.4%,#ffffad 37.3%,#ffff80 38.5%,#ffe83c 43.1%,#ffe83c 48.4%,#fff76a 51.6%,#ffffa7 54.1%,#ffffb8 62.8%,#ffa 70.4%,#ffff80 72.6%,#ffe83c 77.7%,#ffc53f 79.3%,#ff55a5 82.1%,#c930cf 83.4%,#c72fd0 84.4%,#ff57a4 85.7%,#ffc53f 88.2%,#ffe73c 89.6%,#fffe7e 91.7%,#ffffa6 92.8%,#ffffc5 94.4%,#ffffd7 99.9%)"></i><i style="left:699.7px;background:linear-gradient(#ff5f9d 0%,#fd4fab 0.4%,#c930cf 1.4%,#c72fd0 2.5%,#ff53a7 3.7%,#ffc63e 6.4%,#ffe83c 7.8%,#ffff81 10.5%,#ffffc1 13%,#ffffe2 19.9%,#ffffe5 26.8%,#ffffd5 33.4%,#ffffb2 37.1%,#ffff7f 38.5%,#ffe83c 42.9%,#ffe83d 48.3%,#fff76a 51.4%,#ffffab 54.1%,#ffffb7 65.3%,#ffffad 70.4%,#fffe7e 73.4%,#ffe93e 77.5%,#ffc93c 79.1%,#ff55a5 82.1%,#cb31ce 83.4%,#cb31ce 84.4%,#ff57a4 85.7%,#ffc73d 88.3%,#ffe83c 89.8%,#fffe7e 92.2%,#ffffbe 94.7%,#ffffd5 99.9%)"></i><i style="left:705.7px;background:linear-gradient(#ff6796 0%,#fe4fab 0.5%,#d537c7 1.4%,#d335c9 2.5%,#ff54a7 3.5%,#ffc53f 6.2%,#ffe63c 7.6%,#ffff7f 10.8%,#ffffa9 12.1%,#ffffc0 13.3%,#ffffde 19.9%,#ffffe2 26.8%,#ffffd0 33.2%,#ffffab 37.1%,#fffe7e 38.3%,#ffe83c 42.9%,#ffe83d 48.4%,#fff665 51.6%,#ffffa4 54.3%,#ffffae 55.7%,#ffffb2 64.6%,#ffff9f 71.5%,#ffff7f 73.3%,#ffe73c 77.9%,#ffc440 79.5%,#fe4fab 82.5%,#d638c6 83.4%,#d537c7 84.4%,#ff57a4 85.5%,#ffc63e 88.2%,#ffe73c 89.6%,#ffff7f 92.8%,#ffffa7 94%,#ffffbe 95.3%,#ffffd3 99.9%)"></i><i style="left:711.8px;background:linear-gradient(#ff5e9d 0%,#ff50aa 0.4%,#d436c8 1.4%,#d436c8 2.5%,#ff50aa 3.4%,#ffc53f 5.9%,#ffe83c 7.3%,#fffe7e 10.1%,#ffb 12.4%,#ffffdf 19.9%,#ffffe3 26.8%,#ffffcf 33.2%,#ffffad 36.9%,#fffe7d 38.3%,#ffee4e 41.5%,#ffe83c 43.6%,#ffe93f 49%,#fff665 52%,#ffff9b 54.3%,#ffffa7 55.3%,#ffffb5 63.3%,#ffffa2 69%,#ffff80 71.3%,#ffe93e 76.8%,#ffc53f 78.9%,#fe50aa 82.3%,#d436c8 83.4%,#d436c8 84.4%,#ff52a8 85.3%,#ffc63e 87.8%,#ffe53c 89.1%,#ffff82 92.2%,#ffb 94.4%,#ffffd0 97%,#ffffd6 99.9%)"></i><i style="left:717.8px;background:linear-gradient(#fd4fab 0%,#ca30cf 1.4%,#cd32cd 2.5%,#ff57a4 3.5%,#ffc63e 5.9%,#ffe73c 7.1%,#ffff83 9.9%,#ffffac 11.2%,#ffffc4 12.6%,#ffffe4 20.9%,#ffffe3 26.8%,#ffffd1 33.2%,#ffffac 36.9%,#ffff7f 38.1%,#fff768 39.7%,#ffeb45 43.6%,#ffe83c 45.8%,#ffe93e 48.3%,#ffee4e 50.2%,#fffe7e 53.6%,#ffffa4 55.2%,#ffffb8 63.7%,#ffffab 69%,#ffff80 72%,#ffe83c 76.5%,#ffc73d 78.2%,#ff54a6 81.8%,#d235c9 83%,#cd32cd 84.3%,#ff51a9 85.3%,#ffc83c 87.8%,#ffe73c 89.1%,#fffe7d 91.7%,#ffffac 93.1%,#ffffc2 94.4%,#ffffd7 99.9%)"></i><i style="left:723.9px;background:linear-gradient(#ff55a6 0%,#ca31ce 1.4%,#cb31ce 2.3%,#ff56a4 3.5%,#ffc440 6%,#ffe73c 7.5%,#fffe7e 10.6%,#ffffa5 11.9%,#ffffc0 13.5%,#ffffe1 19.9%,#ffffe2 26.6%,#ffffcd 33.2%,#ffffa4 36.9%,#fffe7e 38%,#fff664 39.7%,#ffe83c 45.6%,#ffe83c 48.4%,#ffed4b 50.6%,#ffff7f 54.3%,#ffff9e 55.5%,#ffffb1 64.6%,#ffffa0 71.8%,#fffe7e 73.1%,#ffe83d 76.8%,#ffc53f 78.8%,#ff52a8 82%,#cc31ce 83.2%,#c830cf 84.3%,#ff54a7 85.5%,#ffc73d 88.2%,#ffe83c 89.6%,#ffff7f 92.6%,#ffb 94.9%,#ffffd4 99.9%)"></i><i style="left:729.9px;background:linear-gradient(#ff54a6 0%,#c12cd3 1.2%,#be2bd4 2.5%,#ff52a9 3.7%,#ffc83c 6.6%,#ffe83d 8.2%,#ffff7f 11.4%,#ffffa7 12.6%,#ffffc3 14.2%,#ffffe0 19.9%,#ffffe3 25.4%,#ffffd6 30.7%,#ffffb7 35.7%,#ffffa5 37.1%,#fffe7e 38.1%,#ffe83c 43.5%,#ffe83c 49.1%,#fff564 53%,#ffff9e 55.9%,#ffffb1 63.9%,#ffff9f 72%,#fffe7e 73.3%,#ffe83d 77.5%,#ffc73d 79.1%,#ff51a9 82%,#bb2ad5 83.2%,#b728d7 84.3%,#fe50ab 85.7%,#ffc83c 88.5%,#ffe43c 89.8%,#ffff81 93.3%,#ffffb9 95.4%,#ffffd3 99.9%)"></i><i style="left:736px;background:linear-gradient(#fe4fab 0%,#b125da 1.4%,#b326d9 2.5%,#ff51a9 3.9%,#ffc53f 6.7%,#ffe93e 8.3%,#ffff81 10.8%,#ffffb7 12.6%,#ffffcb 14.2%,#ffffe2 19.9%,#ffffe4 24.5%,#ffd 29.3%,#ffffb9 35.7%,#ffffa8 37.1%,#fffe7d 38.3%,#ffe83c 43.3%,#ffe83c 49.3%,#fff563 53%,#ffff81 54.8%,#ffff9f 55.9%,#ffffb7 63.7%,#ffffaf 70.3%,#ffffa4 72%,#fffe7e 73.4%,#ffe83d 77.7%,#ffc83c 79.1%,#fd4fac 82%,#b426d9 83.2%,#af24db 84.3%,#ff53a8 85.9%,#ffc440 88.5%,#ffe63c 89.9%,#ffff80 92.8%,#ffffb5 94.7%,#ffffc7 96.3%,#ffffd5 99.9%)"></i><i style="left:742px;background:linear-gradient(#ff55a5 0%,#a620df 1.6%,#a41fe0 2.7%,#ff50aa 4.1%,#ffc341 6.6%,#ffe73c 8%,#ffff9b 10.6%,#ffffc5 12.8%,#ffffe3 24.3%,#ffd 29.3%,#ffffb9 35.5%,#ffffa8 36.9%,#ffff80 38%,#fff664 39.6%,#ffe83c 43.3%,#ffe83c 49.5%,#fff665 53%,#ffffa0 55.9%,#ffffb4 64.4%,#ffffa3 71.7%,#ffff80 73.1%,#ffe83d 77.9%,#ffc73d 79.3%,#ff51a9 82%,#a41fe0 83.4%,#9e1ce3 84.4%,#ff52a9 86%,#ffc73d 88.5%,#ffe63c 89.8%,#ffff8d 92.1%,#ffffbd 94%,#ffffd0 96.9%,#ffffd5 99.9%)"></i><i style="left:748.1px;background:linear-gradient(#fb4ead 0%,#a01de2 1.2%,#9217e8 1.6%,#9016e9 2.3%,#c72fd0 3.2%,#ff53a7 4.1%,#ffc440 6.4%,#ffe63c 7.6%,#ffff9a 10.3%,#ffffbe 12.2%,#ffd 19.9%,#ffffe2 26.6%,#ffffce 32.8%,#ffffb8 35.5%,#ffffa5 36.9%,#fffe7e 38%,#ffe83c 43.1%,#ffe83d 49.3%,#fff664 52.5%,#ffffa2 55.3%,#ffffb1 59.1%,#ffffb0 65.8%,#ffffa3 69.7%,#ffff7f 72%,#ffe83c 78.1%,#ffc440 79.5%,#fb4ead 82%,#a21ee1 83.2%,#9418e7 83.6%,#9317e8 84.1%,#a11ee1 84.6%,#ff54a6 86%,#ffc440 88.3%,#ffe73c 89.6%,#ffff7f 91.4%,#ffffa5 92.4%,#ffffc1 93.8%,#ffffd2 96.7%,#ffffd4 99.9%)"></i><i style="left:754.2px;background:linear-gradient(#fe4fab 0%,#a821de 1.2%,#a620df 2.3%,#ff52a8 3.7%,#ffc53f 6.2%,#ffe93f 7.6%,#ffff89 9.2%,#ffffa9 10.3%,#ffffc1 11.7%,#ffffdf 19.9%,#ffffe4 26.6%,#ffffd1 32.8%,#ffffbc 35.5%,#ffffa8 36.9%,#fffe7d 38.1%,#ffe83c 43.3%,#ffe83d 49.1%,#fff667 52.2%,#ffffa4 54.8%,#ffffb7 61.9%,#ffffa5 69.7%,#ffff7f 71.7%,#ffe83d 77.9%,#ffc93c 79.3%,#fd4fab 82%,#ab22dd 83.2%,#a2d 84.1%,#ff55a6 85.7%,#ffc53f 88.2%,#ffe53c 89.4%,#ffff89 91.2%,#ffffc2 93.5%,#ffffd4 96.3%,#ffffd7 99.9%)"></i><i style="left:760.2px;background:linear-gradient(#ff54a7 0%,#b125da 1.4%,#b025da 2.5%,#ff53a7 3.7%,#ffc93c 6.2%,#ffe93e 7.5%,#ffff81 8.9%,#ffffa2 9.8%,#ffffbf 11.4%,#ffd 19.9%,#ffffe3 26.6%,#ffffcb 33%,#ffffb5 35.7%,#ffffa5 36.9%,#fffe7e 38%,#fff561 39.6%,#ffe83c 43.1%,#ffe83c 49%,#fff460 51.8%,#ffff9f 54.5%,#ffffb1 59.3%,#ffffa4 70.8%,#fffe7e 72.9%,#ffe83c 77.9%,#ffc53f 79.3%,#fc4eac 82%,#ae24db 83.2%,#a922dd 84.1%,#ad23dc 84.4%,#ff56a5 85.7%,#ffc73d 88%,#ffe83c 89.2%,#ffff85 90.8%,#ffffa4 91.7%,#ffffbe 93.1%,#ffffd6 99.9%)"></i><i style="left:766.3px;background:linear-gradient(#ff59a2 0%,#fe4fab 0.2%,#af24db 1.4%,#ae24db 2.5%,#ff55a6 3.7%,#ffc83c 6%,#ffe93f 7.3%,#fffd79 8.5%,#ffff9f 9.6%,#ffffbf 11.4%,#ffffdc 19.9%,#ffffe0 26.6%,#ffffc9 33.2%,#ffffb3 35.7%,#ffffa0 37.1%,#ffff7f 38%,#fff45f 39.7%,#ffe83c 42.9%,#ffe83d 48.8%,#fff460 51.6%,#ffff9e 54.3%,#ffffac 58%,#ffffa5 71.3%,#ffff9d 72.6%,#fffe7e 73.8%,#ffe73c 78.1%,#ffc53f 79.5%,#ff55a6 82%,#ab22dd 83.4%,#a2d 84.3%,#ff55a5 85.7%,#ffc341 87.8%,#ffe73c 89.1%,#ffff81 90.7%,#ffffa1 91.5%,#ffffbe 93.1%,#ffffd5 99.9%)"></i><i style="left:772.3px;background:linear-gradient(#ff5c9f 0%,#f84caf 0.4%,#c22dd2 1.2%,#bf2bd4 2.3%,#ff50aa 3.4%,#ffc93c 5.9%,#ffe93e 7.1%,#ff8 8.5%,#ffa 9.6%,#ffffc3 11.2%,#ffffde 19.9%,#ffffe3 26.6%,#ffffcf 33.4%,#ffffb9 36%,#ffa 37.3%,#ffff7f 38.5%,#ffe83c 43.3%,#ffe83c 48.4%,#fff769 51.6%,#ffffa3 54.1%,#ffffb3 62.8%,#ffffa7 70.3%,#ffff7f 73.3%,#ffe93e 78.2%,#ffc53f 79.7%,#ff53a7 82.1%,#c12dd2 83.2%,#bb2ad5 84.3%,#ff57a4 85.5%,#ffc53f 87.8%,#ffe73c 89.1%,#ffff83 90.5%,#ffffa3 91.4%,#ffffc2 93%,#ffffd9 99.9%)"></i><i style="left:778.4px;background:linear-gradient(#fd4fab 0%,#a31fe0 1.4%,#a31fe0 2.3%,#ff53a7 3.7%,#ffc83c 6%,#ffe73c 7.3%,#fffe7e 10.1%,#ffff9e 11%,#ffffc4 13.1%,#ffffe4 19.9%,#ffffec 26.8%,#ffffe4 31%,#ffffc3 36.7%,#ffffab 38.3%,#fffe7e 39.7%,#ffec49 44.9%,#ffeb45 47%,#fff155 51.6%,#fffe7d 55.5%,#ffff9b 56.8%,#ffffa7 58.5%,#ffffaf 66%,#ffffa6 69.4%,#ffff7f 71.3%,#ffe83c 77.9%,#ffc63e 79.3%,#fd4fab 82%,#ac23dc 83.2%,#a620df 84.3%,#ff56a5 85.7%,#ffc341 87.8%,#ffe23c 88.9%,#ffff80 92.1%,#ffffbe 94.4%,#ffffd1 97%,#ffffd7 99.9%)"></i><i style="left:784.4px;background:linear-gradient(#fe4fab 0%,#a11ee1 1.4%,#a11ee1 2.5%,#ff53a7 3.9%,#ffc83c 6.4%,#ffe73c 7.6%,#fffe7e 10.3%,#ffffa7 11.5%,#ffffc2 13.1%,#ffffe7 19.9%,#ffffea 26.8%,#ffffe4 31.4%,#ffffc6 37.3%,#ffffaf 38.9%,#fffe7d 40.4%,#fff158 43.1%,#ffed4a 45.1%,#ffee4e 50.6%,#fffe7e 55.5%,#ffffa4 57.1%,#ffffb4 60%,#ffffb5 62.6%,#ffffa7 68.3%,#fffe7e 70.4%,#ffe93e 77.9%,#ffc63e 79.3%,#ff53a7 81.8%,#a31fe0 83.2%,#9c1be4 83.4%,#9c1ce3 84.3%,#ff53a8 85.9%,#ffc83c 88.3%,#ffe43c 89.4%,#fffe7e 92.2%,#ffffa7 93.5%,#ffffc2 94.9%,#ffffda 99.9%)"></i><i style="left:790.5px;background:linear-gradient(#f047b5 0%,#a51fe0 1.1%,#9b1be4 1.4%,#9c1be4 2.1%,#fe4fab 3.7%,#ffc93c 6.4%,#ffe73c 7.6%,#ffff80 10.1%,#ffff9b 10.8%,#ffffc3 13%,#ffffe7 19.9%,#ffffe8 26.8%,#ffffe3 31.6%,#ffffc3 37.8%,#ffffab 39.2%,#fffe7e 40.4%,#fff055 43.5%,#ffec48 45.2%,#ffec49 50%,#ffff7f 55.7%,#ffffa5 57.3%,#ffffb3 62.6%,#ffffa0 67.9%,#fffe7e 69.4%,#ffe83c 77.9%,#ffc341 79.3%,#ff54a6 81.6%,#a11ee1 83%,#9719e6 83.9%,#a821de 84.4%,#fd4fab 85.7%,#ffc93c 88.3%,#ffe03c 89.2%,#ffe93f 89.8%,#ffff7f 92.1%,#ffffbd 94.4%,#ffffd6 99.9%)"></i><i style="left:796.5px;background:linear-gradient(#e641bc 0%,#9418e7 1.1%,#9217e8 2.1%,#ff53a7 3.7%,#ffc93c 6.2%,#ffe83d 7.5%,#fffe7e 9.8%,#ffffa5 10.8%,#ffffc3 12.4%,#ffffe4 19.9%,#ffffe7 26.8%,#ffffe4 31.8%,#ffffc7 37.3%,#ffffa9 39.2%,#fffe7d 40.4%,#fff156 43.5%,#ffed4a 45.2%,#ffed4a 50%,#fff96e 54.6%,#ffff7f 56.1%,#ffffa3 57.5%,#ffffb1 60.1%,#ffffb2 64%,#ffffa4 67.9%,#ffff7f 70.8%,#ffe83c 77.5%,#ffc53f 79.1%,#fb4ead 81.6%,#9116e9 83%,#8e15ea 83.9%,#c830cf 84.8%,#ff54a6 85.7%,#ffc53f 88%,#ffe73c 89.2%,#ffff81 91.7%,#ffffa7 92.8%,#ffffc2 94.4%,#ffffd4 99.9%)"></i><i style="left:802.6px;background:linear-gradient(#ea44b8 0%,#981ae5 1.1%,#9217e8 2.1%,#d637c7 3%,#ff56a5 3.7%,#ffc83c 6%,#ffe83c 7.3%,#ffff80 9.9%,#ffffa1 10.8%,#ffffc0 12.4%,#ffffe4 19.9%,#ffffe9 26.8%,#ffffd4 35.3%,#ffffbf 37.8%,#ffffa6 39.2%,#fffd7b 40.4%,#ffed4c 45.2%,#ffec47 47.4%,#fff054 52.2%,#ffff80 56.4%,#ffffa1 57.7%,#ffffb3 64.8%,#ffffa1 70.6%,#ffff7f 72.4%,#ffe93e 77.7%,#ffc93c 79.1%,#fe4fab 81.6%,#9016e9 83%,#8c14eb 84.1%,#fb4ead 85.5%,#ffc63e 87.8%,#ffe53c 88.9%,#ffff81 91.7%,#ffffa6 92.8%,#ffffc2 94.4%,#ffffd5 99.9%)"></i><i style="left:808.6px;background:linear-gradient(#ed45b7 0%,#9116e9 1.1%,#8813ec 1.2%,#8712ed 2.1%,#d335c9 3%,#ff57a4 3.7%,#ffc63e 5.9%,#ffe83c 7.1%,#ffff82 10.1%,#ffffbd 12.4%,#ffffe4 19.9%,#ffffe7 26.8%,#ffffd3 35.3%,#ffffbf 37.8%,#ffffa6 39.2%,#fffe7e 40.3%,#ffed4b 45.2%,#ffeb46 47.5%,#fff055 52.3%,#fffd7a 56.4%,#ffff9d 58%,#ffffae 61.4%,#ffffaf 65.3%,#ffff9e 71.7%,#ffff7f 73.1%,#ffe83d 78.2%,#ffc63e 79.5%,#ff56a5 81.6%,#d135ca 82.3%,#9116e9 83%,#8b14eb 84.1%,#ff51a9 85.5%,#ffc440 87.6%,#ffe43c 88.7%,#ffff80 91.9%,#ffffa0 92.8%,#ffffbf 94.4%,#ffffd4 99.9%)"></i><i style="left:814.7px;background:linear-gradient(#e540bc 0%,#8612ed 1.1%,#8010ef 2.1%,#ce33cc 3%,#ff53a7 3.7%,#ffc53f 5.9%,#ffe83c 7.1%,#ffff81 9.9%,#ffffa0 10.8%,#ffffbe 12.4%,#ffffe4 19.9%,#ffffe6 26.8%,#ffffe2 31.6%,#ffffc2 37.8%,#ffffa9 39.2%,#fffe7d 40.4%,#fff158 43.5%,#ffee4d 45.4%,#ffed4a 50.2%,#fff054 53%,#fffd79 56.9%,#ffff9e 58.7%,#ffffa9 60.5%,#ffffaf 68.7%,#ffff9e 72.2%,#ffff80 73.3%,#ffe93e 78.1%,#ffc93c 79.3%,#fb4dad 81.6%,#8512ed 83%,#8010ef 83.9%,#fc4eac 85.5%,#ffc83c 87.8%,#ffe23c 88.7%,#ffe83c 89.1%,#ffff7f 91.9%,#ffffba 94.2%,#ffffcd 96.9%,#ffffd3 99.9%)"></i><i style="left:820.7px;background:linear-gradient(#dd3cc2 0%,#8612ed 1.1%,#8411ee 2%,#cc32cd 2.8%,#ff51a9 3.5%,#ffc93c 5.9%,#ffe73c 6.9%,#ffff7f 9.2%,#ffffa4 10.3%,#ffffc5 12.1%,#ffffe8 19.9%,#ffffe9 26.8%,#ffffe6 31.6%,#ffffc7 37.8%,#ffffaf 39.4%,#ffff83 40.6%,#fff96e 41.9%,#ffef50 45.2%,#ffed4a 47.5%,#fff25b 53%,#ffff80 56.8%,#ffffa8 58.7%,#ffffad 59.6%,#ffffb6 69.9%,#ffffa8 71.8%,#ffff7f 73.4%,#ffe73c 78.1%,#ffc83c 79.1%,#fc4eac 81.4%,#8512ed 82.8%,#7f10ef 83.9%,#cb31ce 84.8%,#ff51a9 85.5%,#ffc341 87.6%,#ffe43c 88.7%,#ffff7f 91.2%,#ffffa8 92.4%,#ffffc2 93.8%,#ffffd5 96.7%,#ffffdb 99.9%)"></i><i style="left:826.8px;background:linear-gradient(#dd3cc2 0%,#8e15ea 1.1%,#8e15ea 2%,#d134ca 2.8%,#ff56a5 3.5%,#ffc83c 5.7%,#ffe73c 6.7%,#ffff82 9%,#ffffa8 10.1%,#ffffc6 11.9%,#ffffe7 19.9%,#ffffe8 26.6%,#ffffe3 32.1%,#ffffc5 38%,#ffffb0 39.4%,#ffff7f 40.8%,#fff259 43.5%,#ffed4a 45.4%,#ffeb46 47.5%,#fff157 52%,#ffff7f 55.9%,#ffff9a 56.9%,#ffffab 58.5%,#ffffb9 67.4%,#ffffa9 71.1%,#ffff7f 72.9%,#ffe83c 77.5%,#ffc73d 78.9%,#fc4eac 81.4%,#8813ec 83%,#8712ed 83.9%,#cd32cd 84.8%,#ff53a8 85.5%,#ffc63e 87.6%,#ffe73c 88.7%,#ffff81 91%,#ffffa8 92.1%,#ffffc5 93.7%,#ffffda 99.9%)"></i><i style="left:832.9px;background:linear-gradient(#e641bb 0%,#a11ee1 1.1%,#9e1de2 2.1%,#d336c9 2.8%,#ff55a5 3.5%,#ffc53f 5.7%,#ffe83d 6.9%,#ffff9c 10.1%,#ffffbf 12.1%,#ffffe4 19.9%,#ffffe7 26.6%,#ffffe3 31.8%,#ffffc0 38%,#ffffa5 39.6%,#fffe7c 40.6%,#fff054 43.5%,#ffec47 45.4%,#ffeb44 47.5%,#fff053 52%,#fffc77 55.9%,#ffffa3 58.7%,#ffffb2 66.7%,#ffff9e 71%,#ffff80 72%,#ffe83c 77.2%,#ffc440 78.8%,#ff52a8 81.4%,#9c1be4 83%,#9b1be4 84.1%,#d235c9 84.8%,#ff55a6 85.5%,#ffc53f 87.6%,#ffe53c 88.7%,#ffff80 91.2%,#ffffa6 92.2%,#ffffc1 93.7%,#ffffd2 96.5%,#ffffd5 99.9%)"></i><i style="left:838.9px;background:linear-gradient(#ed45b6 0%,#b025da 1.1%,#ad23dc 2.3%,#ff56a5 3.5%,#ffc53f 5.7%,#ffe83c 6.9%,#ffff7f 9.6%,#ffffa3 10.6%,#ffffbf 12.2%,#ffffe3 19.9%,#ffffe7 26.8%,#ffffe3 31.9%,#ffffc2 38.1%,#ffffa9 39.6%,#ffff7f 40.6%,#fff35c 43.3%,#ffee4d 45.4%,#ffee4c 50.4%,#fffc76 56.1%,#ffff9b 57.8%,#ffffac 61.4%,#ffffb1 66.7%,#ffff9d 70.8%,#ffff7f 71.8%,#ffe83d 76.6%,#ffc83c 78.4%,#fd4fac 81.6%,#ad23dc 83%,#a922dd 84.1%,#d638c6 84.8%,#ff57a4 85.5%,#ffc63e 87.6%,#ffe63c 88.7%,#ffff80 91.4%,#ffffac 92.6%,#ffffc2 93.8%,#ffffd6 99.9%)"></i><i style="left:845px;background:linear-gradient(#ea43b9 0%,#a620df 1.2%,#a620df 2.3%,#ff51a9 3.5%,#ffc73d 5.9%,#ffe93e 7.1%,#fffe7e 9.8%,#ffffa2 10.8%,#ffffc2 12.6%,#ffffe5 19.9%,#ffffe8 26.6%,#ffffd2 36.4%,#ffffac 39.6%,#ffff80 40.8%,#ffef4f 45.4%,#ffed4a 47.5%,#fff156 51.8%,#fffe7e 55.9%,#ffffa5 58.4%,#ffffb1 66.9%,#ffffa1 70.6%,#ffff7f 71.8%,#ffe73c 76.8%,#ffc83c 78.4%,#fc4eac 81.6%,#a921de 83%,#a31ee1 84.1%,#ff51a9 85.5%,#ffc341 87.6%,#ffe83c 88.9%,#ffff7f 91.5%,#ffffa9 92.8%,#ffffc3 94.2%,#ffffd5 99.9%)"></i><i style="left:851px;background:linear-gradient(#ef47b5 0%,#a921de 1.2%,#a720df 2.3%,#ff50aa 3.5%,#ffc83c 5.9%,#ffe83d 7.1%,#ffff7f 10.1%,#ffffa3 11.2%,#ffffbf 12.8%,#ffffe5 19.9%,#ffffe8 26.6%,#ffffe1 31.9%,#ffffc5 37.6%,#ffffa8 39.6%,#fffe7d 40.8%,#fff157 43.6%,#ffed4b 45.4%,#ffec47 47.4%,#fff156 52%,#ffff7f 55.9%,#ffff9e 57.1%,#ffffa7 58.5%,#ffffaf 66.9%,#ffffa1 70.4%,#ffff80 71.7%,#ffe83c 77.2%,#ffc73d 78.8%,#ff53a8 81.6%,#a2d 83%,#9f1de2 83.4%,#9d1ce3 84.1%,#d436c8 85%,#ff56a5 85.7%,#ffc63e 87.8%,#ffe63c 88.9%,#fffe7e 91.9%,#ffffa8 93.1%,#ffffc2 94.6%,#ffffd5 99.9%)"></i><i style="left:857.1px;background:linear-gradient(#f047b4 0%,#b427d8 1.1%,#a2d 1.4%,#ad23dc 2.1%,#fb4ead 3.4%,#ff57a4 3.5%,#ffc53f 5.7%,#ffe83c 6.9%,#ffff7f 10.1%,#ffffa3 11.2%,#ffffbe 12.8%,#ffffe5 19.9%,#ffffea 26.8%,#ffffe3 31.9%,#ffffc0 38%,#ffffa5 39.6%,#fffd7a 40.8%,#ffec48 45.4%,#ffeb44 47.7%,#fff053 52.2%,#fffb75 56.1%,#ffffa0 58.4%,#ffffb3 63.9%,#ffffa0 70.4%,#fffe7e 71.8%,#ffe83d 77.3%,#ffc53f 78.9%,#ff53a7 81.6%,#b828d7 82.8%,#a620df 83.4%,#a520df 83.9%,#b728d7 84.4%,#ff54a7 85.5%,#ffc83c 87.8%,#ffe63c 88.9%,#ffff7f 92.1%,#ffffa3 93.1%,#ffffbe 94.6%,#ffffd5 99.9%)"></i><i style="left:863.1px;background:linear-gradient(#f44ab1 0%,#bc2ad5 1.1%,#bd2bd4 2.1%,#fe4fab 3.2%,#ffc440 5.7%,#ffe93e 7.1%,#fffe7e 9.8%,#ffffa7 11%,#ffffc2 12.6%,#ffffe7 19.9%,#ffffea 26.8%,#ffffd4 35.7%,#ffffab 39.2%,#fffe7d 40.6%,#fff054 43.8%,#ffec46 45.8%,#ffeb43 48.6%,#fff053 52.9%,#fffc78 57.3%,#ffffa9 60.3%,#ffffb6 64.6%,#ffffa1 70.8%,#ffff80 72%,#ffe83c 77.3%,#ffc440 78.9%,#ff54a7 81.6%,#bc2ad5 82.8%,#b728d7 83.9%,#fd4fac 85.2%,#ffc93c 87.8%,#ffe73c 89.1%,#ffff81 91.9%,#ffffa6 93%,#ffffc3 94.6%,#ffffd6 99.9%)"></i><i style="left:869.2px;background:linear-gradient(#fe50aa 0%,#bd2bd4 1.2%,#bd2bd4 2.1%,#ff52a8 3.4%,#ffc73d 5.9%,#ffe73c 7.1%,#ffff7f 9.8%,#ffffa9 11%,#ffffc5 12.6%,#ffffe7 19.9%,#ffffe8 26.8%,#ffffd4 35.5%,#ffffa9 39.2%,#ffff7f 40.4%,#fff158 43.5%,#ffec47 45.8%,#ffef50 52.2%,#fffe7c 56.9%,#ffa 60.3%,#ffffb5 65.1%,#ffff9e 71%,#fffe7e 72.2%,#ffe83c 77.3%,#ffc63e 78.9%,#ff53a7 81.8%,#c12cd3 83%,#bc2ad5 84.1%,#ff53a7 85.3%,#ffc73d 87.8%,#ffe73c 89.1%,#fffe7f 91.7%,#ffffa5 92.8%,#ffffc4 94.4%,#ffffd8 99.9%)"></i><i style="left:875.2px;background:linear-gradient(#ff57a4 0%,#c12cd3 1.2%,#c12cd3 2.3%,#ff50aa 3.4%,#ffc93c 6%,#ffe73c 7.3%,#ffff7f 9.8%,#ffffa5 10.8%,#ffffc4 12.4%,#ffffe7 19.9%,#ffffe9 26.8%,#ffffd3 35.3%,#ffffac 38.9%,#ffff81 40.1%,#fff769 41.7%,#ffed4b 44.9%,#ffeb46 47%,#fff45f 52.9%,#ffff80 55.9%,#ffffa2 57.3%,#ffffac 58.5%,#ffffb4 61.9%,#ffffaf 67.4%,#ffff9f 70.3%,#ffff7f 71.8%,#ffe83c 77.7%,#ffc73d 79.3%,#ff52a8 82.1%,#cc32cd 83.2%,#cc32cd 84.3%,#ff57a4 85.3%,#ffc63e 87.8%,#ffe63c 89.1%,#ffff84 91.7%,#ffffa9 92.8%,#ffffc6 94.4%,#ffffd8 99.9%)"></i><i style="left:881.3px;background:linear-gradient(#fe50aa 0%,#bd2bd4 1.1%,#b728d7 2.1%,#fd4fac 3.4%,#ffc83c 6%,#ffe73c 7.3%,#ffff7f 9.8%,#ffffa4 10.8%,#ffffc2 12.4%,#ffffe6 19.9%,#ffffeb 26.6%,#ffffe3 31.2%,#ffffc1 37.3%,#ffffa9 38.7%,#fffd7a 40.1%,#ffec49 44.9%,#ffed4b 49.7%,#fff96d 53.9%,#ffff80 55.3%,#ffffa1 56.8%,#ffffb2 63.2%,#ffffa0 70.1%,#ffff7f 71.5%,#ffe83d 77.9%,#ffc93c 79.3%,#ff53a8 82%,#c32dd2 83%,#bf2cd3 84.1%,#ff54a6 85.3%,#ffc440 87.8%,#ffe83c 89.2%,#fffe7c 91.5%,#ffffa9 92.8%,#ffffc5 94.4%,#ffffd4 99.9%)"></i><i style="left:887.3px;background:linear-gradient(#f54ab1 0%,#a720df 1.2%,#a520df 2.1%,#ff51a9 3.5%,#ffc53f 5.9%,#ffe83c 7.1%,#ffff82 9.9%,#ffffa3 10.8%,#ffffc1 12.4%,#ffffe5 19.9%,#ffffe8 26.8%,#ffffe3 30.9%,#ffffbf 36.9%,#ffffa7 38.3%,#fffd7a 39.7%,#ffec47 44.9%,#ffec46 49.8%,#fff86c 54.3%,#ffff9e 57.3%,#ffffad 64.4%,#ffffa0 70.4%,#ffff80 72.2%,#ffe83d 77.9%,#ffc440 79.3%,#ff50aa 81.8%,#ad23dc 83%,#a41fe0 83.4%,#a51fe0 84.1%,#ff51a9 85.5%,#ffc53f 87.8%,#ffe73c 89.1%,#ffff80 91.9%,#ffffa1 92.8%,#ffffbf 94.4%,#ffffd1 99.9%)"></i><i style="left:893.4px;background:linear-gradient(#ff52a9 0%,#a2d 1.4%,#af24db 2.5%,#ff50aa 3.5%,#ffc83c 5.9%,#ffe940 7.1%,#fffe7d 9.6%,#ffffa9 10.8%,#ffffc5 12.4%,#ffffd3 17.7%,#ffffe4 19.9%,#ffffe8 24.5%,#ffffd4 34.6%,#ffffba 37.3%,#ffffa5 38.3%,#ffff81 39.2%,#fff768 40.8%,#ffec48 44.7%,#ffec49 49.8%,#fffe7d 56.1%,#ffff9b 57.3%,#ffffb3 65.1%,#ffffa1 70.6%,#fffe7e 72.4%,#ffe83c 77.9%,#ffc73d 79.3%,#ff50aa 82%,#ae24db 83.2%,#a721de 84.3%,#d738c6 85%,#ff57a3 85.7%,#ffc53f 87.8%,#ffe83c 89.1%,#ffff80 91.9%,#ffffa0 92.8%,#ffffbf 94.4%,#ffffd4 99.9%)"></i><i style="left:899.4px;background:linear-gradient(#ff57a4 0%,#ac23dc 1.4%,#ab22dd 2.5%,#ff55a6 3.7%,#ffc341 5.9%,#ffe73c 7.1%,#fffe7d 9.4%,#ffa 10.6%,#ffffc9 12.4%,#ffffe7 19.9%,#ffffec 23.9%,#ffffe5 30.3%,#ffffcf 35.7%,#ffffb1 38%,#fffe7e 39.6%,#fff25b 42.4%,#ffed4c 44.7%,#ffec48 47%,#fff157 50.9%,#ffff80 54.8%,#ffffac 57.3%,#ffffb9 65.3%,#ffa 69.4%,#ffff80 71.7%,#ffe73c 78.1%,#ffc341 79.5%,#ff53a7 82%,#ab22dd 83.4%,#ac23dc 84.3%,#fc4eac 85.5%,#ffc440 87.8%,#ffe73c 89.1%,#ffff8b 91.7%,#ffffad 92.8%,#ffffc5 94.2%,#ffffda 99.9%)"></i><i style="left:905.5px;background:linear-gradient(#ff52a9 0%,#b326d9 1.2%,#af24db 2.3%,#ff52a8 3.5%,#ffc83c 5.9%,#ffe83c 7.1%,#ffff82 9.6%,#ffffa8 10.6%,#ffffc6 12.2%,#ffffe6 19.9%,#ffffeb 26.6%,#ffffd7 33.9%,#ffffc4 36.4%,#ffa 38%,#ffff80 39.2%,#fff25a 42.2%,#ffed4c 44.3%,#ffec47 46.7%,#fff157 50%,#ffff80 53.4%,#ffff98 54.3%,#ffffb0 56.1%,#ffffb8 65.1%,#ffffa5 69.2%,#ffff80 70.6%,#ffe93e 77.9%,#ffc83c 79.3%,#ff52a9 82%,#b828d7 83.2%,#b426d9 84.1%,#fb4eac 85.3%,#ffc341 87.6%,#ffe63c 88.9%,#ffff80 91.4%,#ffffab 92.6%,#ffffc6 94.2%,#ffffd8 99.9%)"></i><i style="left:911.6px;background:linear-gradient(#eb44b8 0%,#9518e7 1.2%,#991ae5 2.3%,#ff50aa 3.5%,#ffc341 5.7%,#ffe73c 6.9%,#fffe7e 9.6%,#ffffa4 10.6%,#ffffc3 12.2%,#ffffe4 19.9%,#ffffe7 26.8%,#ffffda 32.8%,#ffffbf 36.4%,#ffffa7 37.8%,#fffe7c 39%,#ffeb45 44%,#ffea41 46.1%,#ffed4c 48.4%,#ffff80 52.9%,#ffffa0 54.3%,#ffffa7 55.3%,#ffffb2 64.4%,#ffff9e 69.2%,#fffd7b 70.8%,#ffe83c 77.5%,#ffc440 79.1%,#ff54a7 81.6%,#9c1be4 83.2%,#9b1be4 84.1%,#ff50aa 85.5%,#ffc93c 87.8%,#ffe73c 88.9%,#ffff7f 91.5%,#ffffa3 92.6%,#ffffbd 94%,#ffffd4 99.9%)"></i><i style="left:917.6px;background:linear-gradient(#e540bc 0%,#8712ed 1.2%,#8612ed 2.3%,#fe50aa 3.7%,#ffc53f 5.9%,#ffe83c 7.1%,#fffe7e 9.8%,#ffff9f 10.6%,#ffffbf 12.2%,#ffffe1 19.9%,#ffffe5 26.6%,#ffffd3 33.9%,#ffb 36.4%,#ffff9f 37.8%,#fffd79 38.9%,#ffea43 43.8%,#ffec47 47.9%,#fff666 51.1%,#ffff92 53.6%,#ffff9d 55.2%,#ffffa9 58.4%,#ffffac 64.9%,#ffff9c 69.7%,#fffc76 72%,#ffe83c 77.5%,#ffc83c 78.9%,#fd4fac 81.6%,#8f15ea 83.2%,#8f15ea 84.1%,#d135ca 85%,#ff56a5 85.7%,#ffc83c 87.8%,#ffe73c 88.9%,#ffff81 91.7%,#ffff9c 92.4%,#ffffba 94%,#ffffd0 99.9%)"></i><i style="left:923.7px;background:linear-gradient(#ff6c91 0%,#ff52a8 0.5%,#cb31ce 1.6%,#cb31ce 2.5%,#fd4fab 3.4%,#ffc83c 5.7%,#ffe63c 6.7%,#ffff80 10.1%,#ffffa5 11.2%,#ffffc0 12.6%,#ffffeb 21.5%,#ffffe9 29.8%,#ffffd6 35.7%,#ffffc1 38.1%,#ffffa9 39.4%,#ffff80 40.4%,#fff769 41.7%,#ffec49 44.5%,#ffea42 46.1%,#ffef52 49.5%,#ffff80 52.3%,#ffff9c 53.2%,#ffffaf 55%,#ffffb8 62.6%,#ffffad 70.4%,#ffff9f 71.7%,#ffff7f 72.9%,#ffe73c 78.2%,#ffc63e 79.7%,#ff53a7 82.3%,#c22dd2 83.6%,#c32dd2 84.4%,#ff56a4 85.5%,#ffc73d 87.6%,#ffe63c 88.7%,#fffe7e 91.9%,#ffffa2 93%,#ffffbe 94.4%,#ffffd9 99.9%)"></i><i style="left:929.7px;background:linear-gradient(#ff609b 0%,#fd4fac 0.4%,#ca31ce 1.2%,#be2bd4 1.6%,#be2bd4 2.3%,#ff56a5 3.5%,#ffc53f 5.7%,#ffe73c 6.9%,#fffe7e 10.3%,#ffffbc 12.8%,#ffffe8 19.9%,#ffffe7 31.6%,#ffffd6 35.7%,#ffffbd 38.3%,#ffffa5 39.6%,#fffe7e 40.6%,#fff769 41.9%,#ffed4c 44.5%,#ffeb45 46.3%,#fff054 49.7%,#ffff81 52.5%,#ffff9c 53.4%,#ffffb0 55.2%,#ffffb1 70.4%,#ffffa0 72.2%,#ffff7f 73.4%,#ffe93e 78.1%,#ffc93c 79.5%,#ff53a8 82.1%,#c52fd0 83.2%,#bc2ad5 83.9%,#cc32cd 84.6%,#fc4eac 85.3%,#ffc83c 87.6%,#ffe53c 88.7%,#ffff7f 92.2%,#ffffbe 94.7%,#ffffd6 99.9%)"></i><i style="left:935.8px;background:linear-gradient(#ff5ba0 0%,#f74bb0 0.4%,#c12dd2 1.2%,#ba29d6 2.3%,#ff50aa 3.5%,#ffc440 6%,#ffe73c 7.5%,#ffff81 10.8%,#ffffba 13.1%,#ffffe8 19.9%,#ffffe8 30.5%,#ffffd4 35.8%,#ffffbe 38.3%,#ffffa1 39.7%,#ffff7f 40.6%,#fff769 41.9%,#ffed4b 44.5%,#ffeb45 46.3%,#fff156 49.8%,#ffff7f 52.7%,#ffff98 53.6%,#ffffad 55.5%,#ffffae 70.6%,#ff9 72.6%,#ffff7f 73.4%,#ffe83c 78.1%,#ffc83c 79.5%,#ff51a9 82.1%,#c32dd2 83.2%,#bd2bd4 84.3%,#ff54a7 85.5%,#ffc83c 88%,#ffe63c 89.2%,#fffe7d 92.4%,#ffffbe 94.9%,#ffffd2 99.9%)"></i><i style="left:941.8px;background:linear-gradient(#ff57a4 0%,#fd4fab 0.2%,#a2d 1.6%,#a922dd 2.7%,#fc4eac 3.9%,#ffc73d 6.4%,#ffe73c 7.6%,#ffff80 10.8%,#ffffa5 11.9%,#ffffbf 13.3%,#ffffea 19.9%,#ffffe6 31.8%,#ffffd8 35.8%,#ffffc4 38.3%,#ffffa8 39.7%,#ffff7f 40.8%,#fff769 42%,#ffed4a 44.7%,#ffeb44 46.5%,#fff157 50%,#ffff80 52.9%,#ffffa0 54.1%,#ffffb1 55.9%,#ffffb1 70.4%,#ffff9c 72.4%,#fffe7e 73.4%,#ffe83c 77.9%,#ffc83c 79.3%,#ff50aa 82.1%,#b627d8 83.4%,#ad23dc 84.4%,#ff51a9 85.9%,#ffc93c 88.3%,#ffe53c 89.4%,#ffff7f 92.6%,#ffa 93.8%,#ffffc3 95.3%,#ffffd4 99.9%)"></i><i style="left:947.9px;background:linear-gradient(#f047b5 0%,#7a0ef1 1.6%,#770df2 2.8%,#cb31ce 3.7%,#ff52a8 4.4%,#ffc53f 6.6%,#ffe93e 7.8%,#ffff7f 10.5%,#ffffa4 11.5%,#ffffc6 13.5%,#ffffe9 19.9%,#ffffea 26.6%,#ffffe5 32.8%,#ffffca 38%,#ffffab 39.7%,#ffff81 40.8%,#fff96e 41.9%,#fff258 43.5%,#ffeb46 46.5%,#fff158 50.4%,#fffe7e 53%,#ffffa3 54.5%,#ffffb3 56.2%,#ffffb8 67.1%,#ffffb4 69.9%,#ffffa4 71.7%,#ffff80 73.1%,#ffe83c 77.7%,#ffc63e 79.1%,#fc4eac 81.8%,#cf33cb 82.5%,#7b0ef1 83.6%,#760df2 84.6%,#ce33cc 85.7%,#ff54a6 86.4%,#ffc73d 88.5%,#ffe23c 89.4%,#fffe7e 92.4%,#ffffbe 94.9%,#ffffd8 99.9%)"></i><i style="left:953.9px;background:linear-gradient(#da3ac4 0%,#740cf3 1.4%,#6808f7 1.8%,#6808f7 2.7%,#c12dd2 3.7%,#fa4dae 4.4%,#ffc73d 6.7%,#ffe93f 8%,#fffe7d 10.3%,#ffffa3 11.4%,#ffffc4 13.1%,#ffffe9 19.9%,#ffffeb 26.8%,#ffffe9 33%,#ffffcb 38.3%,#ffffb6 39.7%,#ffff80 41.5%,#fff768 42.8%,#ffed4b 44.9%,#ffea43 46.5%,#ffef52 49.3%,#ffff81 52.3%,#ffffac 54.5%,#ffffbc 64.8%,#ffffab 69.5%,#fffe7e 72%,#ffe83c 76.6%,#ffc83c 78.4%,#fc4eac 81.4%,#c62fd0 82.3%,#770df2 83.4%,#6c09f6 83.7%,#6b09f6 84.6%,#c52ed1 85.7%,#fc4eac 86.4%,#ffc83c 88.7%,#ffe83c 89.8%,#fffe7e 92.2%,#ffffa7 93.5%,#ffffc0 94.9%,#ffffd7 99.9%)"></i><i style="left:960px;background:linear-gradient(#d436c8 0%,#710bf4 1.4%,#6908f7 2.7%,#d034cb 3.9%,#ff54a6 4.6%,#ffc93c 6.9%,#ffe83d 8.2%,#ffff7f 11%,#ffffa2 12.1%,#ffffbf 13.7%,#ffffe9 19.9%,#ffffed 26.8%,#ffffe9 32.5%,#ffffd5 36.9%,#ffffb7 39.6%,#ffff7f 41.5%,#fff564 42.9%,#ffeb46 46.3%,#fff156 49.1%,#ffff7f 51.4%,#ffff9e 52.5%,#ffffb1 54.3%,#ffffb8 64.9%,#ffffa5 69.5%,#fffe7e 71.3%,#ffe83c 76.5%,#ffc83c 78.2%,#ff7b84 80.4%,#fb4ead 81.2%,#c52ed1 82.1%,#6c09f6 83.4%,#6507f8 84.6%,#d034cb 85.9%,#ff54a6 86.6%,#ffcf3c 89.1%,#ffe93f 90.1%,#fffe7e 92.8%,#ffffba 95.1%,#ffffd4 99.9%)"></i><i style="left:966px;background:linear-gradient(#e742bb 0%,#790ef1 1.6%,#760df2 2.8%,#cf33cc 3.9%,#ff51a9 4.6%,#ffc53f 6.9%,#ffe93e 8.3%,#ffff80 11.5%,#ffffa2 12.6%,#ffffbe 14.2%,#ffffe8 19.9%,#ffffed 26.8%,#ffffe5 32.3%,#ffffca 37.3%,#ffffb6 38.7%,#fffc76 41%,#ffed4c 44.7%,#ffec48 46.3%,#fff055 49.1%,#ffff80 52.3%,#ffff9e 53.8%,#ffffac 55.5%,#ffffb7 63.9%,#ffffa4 70.6%,#fffe7e 72.6%,#ffe83c 77.2%,#ffc440 78.8%,#ff52a8 81.4%,#cb31ce 82.3%,#6d0af5 83.6%,#6c09f6 84.6%,#cb31ce 85.9%,#fe4fab 86.6%,#ffcb3c 89.1%,#ffe93e 90.3%,#ffff7f 93.3%,#ffb 95.6%,#ffffd1 99.9%)"></i><i style="left:972.1px;background:linear-gradient(#da3ac4 0%,#740cf3 1.6%,#700bf4 2.8%,#cf33cc 4.1%,#ff51a9 4.8%,#ffc53f 7.1%,#ffe73c 8.3%,#ffff8c 11.2%,#ffffb2 12.6%,#ffffc4 14%,#ffffe9 19.9%,#ffffec 26.6%,#ffffd9 34.4%,#ffffc6 36.9%,#ffffa8 38.5%,#fffe7d 39.7%,#ffed4b 44.3%,#ffeb44 46.3%,#fff055 49.8%,#fffe7e 53%,#ffff9d 54.3%,#ffffad 56.1%,#ffffb8 63.7%,#ffffa5 69.9%,#ffff81 71.8%,#ffe83d 75.9%,#ffc53f 78.1%,#fc4eac 81.2%,#ce32cd 82.1%,#710bf4 83.6%,#700bf4 84.8%,#c42ed1 85.9%,#ff54a6 86.7%,#ffb252 88.5%,#ffd23c 89.4%,#ffe83c 90.3%,#ffff80 92.8%,#ffffb1 94.6%,#ffffc3 96.2%,#ffffd3 99.9%)"></i><i style="left:978.1px;background:linear-gradient(#b527d8 0%,#4e00ff 1.6%,#4f00ff 3%,#cd32cd 4.4%,#ff51a9 5.1%,#ffc73d 7.5%,#ffe63c 8.5%,#fffb73 9.6%,#ffff94 10.5%,#ffffc1 12.8%,#ffffd2 17.6%,#ffffe8 19.9%,#ffffe9 26.6%,#ffffe2 30.7%,#ffffc2 36.5%,#ffffa9 38%,#fffc78 39.6%,#ffed4a 44.3%,#ffeb45 47%,#fff052 50.2%,#ffff80 53.9%,#ffff9b 55%,#ffffab 56.8%,#ffffb2 63%,#ffffa4 69.2%,#ffff80 71.1%,#ffe83d 75.6%,#ffc53f 77.5%,#ff807f 79.7%,#fc4eac 80.7%,#c22dd2 81.8%,#5201fe 83.6%,#5301fe 84.8%,#c830cf 86.2%,#fc4eac 86.9%,#ffca3c 89.4%,#ffea41 90.7%,#ffff85 92.1%,#ffffb8 94%,#ffc 96.7%,#ffffd3 99.9%)"></i><i style="left:984.2px;background:linear-gradient(#c72fd0 0%,#4c00ff 1.6%,#4900ff 3%,#9418e7 3.9%,#fd4fac 5.1%,#ffc341 7.5%,#ffe83c 8.7%,#fffe7d 9.6%,#ffff9c 10.5%,#ffffbc 12.1%,#ffffce 17.4%,#ffffe6 19.9%,#ffffea 26.6%,#ffffe3 30.3%,#ffffc1 36.2%,#ffffa5 37.8%,#fffe7c 39%,#fff055 42.2%,#ffec49 44.2%,#ffed4a 49%,#fff86b 53%,#ffffa8 56.8%,#ffffb2 63%,#ffffa1 70.3%,#fffe7e 72.2%,#ffe83d 76.5%,#ffc53f 78.4%,#ff7c83 80.4%,#f94dae 81.2%,#cd32cd 82%,#5301fe 83.6%,#4c00ff 84.8%,#c02cd3 86.2%,#ff53a7 87.1%,#ffcc3c 89.6%,#ffe940 90.7%,#fffd7a 91.4%,#ffffa1 92.4%,#ffffbd 93.8%,#ffffcf 96.7%,#ffffd3 99.9%)"></i><i style="left:990.3px;background:linear-gradient(#e741bb 0%,#8c14eb 1.1%,#5100ff 1.8%,#4f00ff 2.8%,#8d15ea 3.7%,#ff51aa 5.1%,#ffc73d 7.6%,#ffea42 8.9%,#fffe7d 9.6%,#ffffa3 10.6%,#ffffc1 12.2%,#ffffd3 17.6%,#ffffe7 19.9%,#ffffed 26.6%,#ffffd8 33.5%,#ffffc6 35.8%,#ffffa9 37.4%,#fffe7e 38.7%,#fff055 42%,#ffec47 44.2%,#ffeb44 46.5%,#fff259 50.9%,#ffff80 54.5%,#ffffa1 55.7%,#ffffb0 57.3%,#ffffb5 67.6%,#ffffb2 70.3%,#ffffa2 72%,#ffff7f 73.4%,#ffe73c 77.9%,#ffc341 79.3%,#ff52a8 81.6%,#cf33cc 82.3%,#5201fe 83.7%,#5100ff 84.8%,#9217e8 85.7%,#f84caf 86.9%,#ff827e 87.8%,#ffcc3c 89.6%,#ffe93e 90.7%,#ffff85 91.5%,#ffffa8 92.6%,#ffffc2 94.2%,#ffffd5 99.9%)"></i><i style="left:996.3px;background:linear-gradient(#ed45b7 0%,#8f16e9 1.1%,#5100ff 1.8%,#4900ff 2.8%,#8d15ea 3.9%,#fe50ab 5.3%,#ffc63e 7.8%,#ffe83d 9%,#ffff81 9.9%,#ffffa5 11%,#ffffc1 12.6%,#ffffd4 17.6%,#ffffe9 19.9%,#ffffec 26.6%,#ffffdc 33.5%,#ffffcb 35.8%,#ffffac 37.4%,#fffe7c 38.9%,#fff158 41.9%,#ffec49 44.2%,#ffeb44 46.5%,#fff156 50.7%,#ffff80 54.3%,#ffffa3 55.5%,#ffffb1 57.1%,#ffffb8 63.2%,#ffffad 71.7%,#ffffa2 72.7%,#fffe7f 74.2%,#ffe73c 78.1%,#ffc83c 79.3%,#ff7a85 81.1%,#f84caf 81.8%,#8c14eb 83%,#4d00ff 83.7%,#4700ff 84.8%,#8e15ea 85.9%,#cf33cb 86.6%,#ff52a8 87.3%,#ffc93c 89.8%,#ffea42 91%,#ffff84 91.9%,#ffb 94%,#ffffcf 96.9%,#ffffd6 99.9%)"></i><i style="left:1002.4px;background:linear-gradient(#f248b3 0%,#8d15ea 1.2%,#5502fd 2%,#4f00ff 3%,#9719e6 4.1%,#fc4eac 5.3%,#ffc63e 7.8%,#ffe93e 9%,#ffff85 9.9%,#ffffa8 11%,#ffffc3 12.6%,#ffffe9 19.9%,#ffffec 26.8%,#ffffe0 33%,#ffffca 36.2%,#ffffae 37.8%,#fffe7d 39.4%,#ffed4c 44.5%,#ffec47 47.7%,#fff053 50.7%,#ffff7f 54.5%,#ffffb0 57.1%,#ffffb8 64%,#ffffa8 71.7%,#ffff7f 73.8%,#ffe83c 77.7%,#ffc83c 79.1%,#ff827e 80.9%,#fb4ead 81.8%,#ca31ce 82.5%,#5502fd 83.9%,#4f00ff 85%,#8a13ec 85.9%,#fe4fab 87.3%,#ff7d82 88%,#ffcc3c 89.9%,#ffe93e 91%,#ffff83 91.9%,#ffffbe 94.2%,#ffffd7 99.9%)"></i><i style="left:1008.4px;background:linear-gradient(#ee46b6 0%,#8c14eb 1.2%,#5803fc 2%,#5100ff 3%,#8c14eb 3.9%,#ce33cc 4.6%,#ff51a9 5.3%,#ffc341 7.6%,#ffe63c 8.9%,#ffff86 9.8%,#ffffa5 10.6%,#ffffc2 12.2%,#ffffe9 19.9%,#ffffec 26.8%,#ffffe8 31.2%,#ffffc9 36.9%,#ffffb3 38.3%,#fffe7e 40.1%,#ffed4a 45.1%,#ffeb45 47.2%,#fff055 51.4%,#ffff80 55.5%,#ffffa5 57.1%,#ffffb5 58.9%,#ffffb9 67.4%,#ffffa2 71.5%,#fffe7e 72.9%,#ffe83c 77.5%,#ffc93c 78.9%,#ff53a8 81.6%,#c72fd0 82.5%,#6306f9 83.7%,#5401fe 84.1%,#5502fd 85%,#9217e8 85.9%,#f84caf 87.1%,#ff817e 88%,#ffcb3c 89.8%,#ffe73c 90.8%,#fffe7e 91.5%,#ffffa9 92.8%,#ffffc4 94.4%,#ffffd7 99.9%)"></i><i style="left:1014.5px;background:linear-gradient(#e540bc 0%,#9016e9 1.1%,#5803fc 1.8%,#4900ff 2.1%,#4800ff 3%,#9117e8 4.1%,#fa4dad 5.3%,#ff7c83 6%,#ffc93c 7.8%,#ffe73c 8.9%,#fffd7b 9.6%,#ffffa2 10.6%,#ffffc0 12.2%,#ffffd4 17.6%,#ffffe8 19.9%,#ffffea 26.8%,#ffffe7 31.4%,#ffffc7 37.4%,#ffffaf 38.9%,#fffe7e 40.3%,#fff258 43.1%,#ffec49 45.2%,#ffeb45 48.3%,#fff156 52.2%,#ffff7f 56.2%,#ffff9e 57.3%,#ffffb0 59.1%,#ffffb6 66.3%,#ffffb1 69.7%,#ffffa2 71.5%,#ffff7f 73.1%,#ffe93e 77.5%,#ffc73d 78.9%,#ff807f 80.7%,#f94dae 81.6%,#c930cf 82.3%,#5401fe 83.7%,#4700ff 84.1%,#4700ff 85%,#9518e7 86%,#ff50aa 87.3%,#ff7f80 88%,#ffcb3c 89.8%,#ffe93e 90.8%,#fffe7e 91.5%,#ffffa4 92.6%,#ffffbe 94%,#ffffd2 96.9%,#ffffd6 99.9%)"></i><i style="left:1020.5px;background:linear-gradient(#f248b3 0%,#c72fd0 0.7%,#6005fa 2.1%,#5d04fb 3.2%,#cb31ce 4.6%,#ff51a9 5.3%,#ffc73d 7.6%,#ffe53c 8.7%,#fffe7e 9.6%,#ffffa2 10.6%,#ffffbf 12.2%,#ffffd2 17.4%,#ffffe6 19.9%,#ffffeb 26.8%,#ffffe6 31.6%,#ffffc2 37.8%,#ffffa5 39.2%,#fffe7d 40.3%,#fff055 43.3%,#ffec48 45.2%,#ffeb45 47.4%,#fff157 51.8%,#ffff7f 56.1%,#ffff9f 57.3%,#ffffae 58.7%,#ffffb7 63.3%,#ffffad 70.8%,#ffff9a 72.6%,#ffff80 73.4%,#ffe83c 77.3%,#ffc93c 78.8%,#ff53a7 81.6%,#cd32cd 82.5%,#5903fc 84.1%,#5602fd 85.2%,#9317e8 86%,#fd4fab 87.3%,#ff7e81 88%,#ffcd3c 89.8%,#ffe53c 90.7%,#ffeb45 90.8%,#fffe7e 91.5%,#ffff9e 92.4%,#ffffbd 94%,#ffffd6 99.9%)"></i><i style="left:1026.6px;background:linear-gradient(#ff53a7 0%,#c830cf 1.1%,#8010ef 2.3%,#8311ee 3.4%,#8b14eb 3.5%,#d436c8 4.4%,#ff53a7 5.1%,#ffc83c 7.6%,#ffe83d 8.9%,#ffff89 9.9%,#ffffa6 10.8%,#ffffc2 12.4%,#ffffe8 19.9%,#ffffec 26.8%,#ffffd9 35.1%,#ffffc7 37.6%,#ffa 39.2%,#fffe7e 40.4%,#ffee4d 45.1%,#ffec48 47.2%,#fff259 51.4%,#ffff7f 55.3%,#ffffa1 56.8%,#ffffaf 58%,#ffb 63.7%,#ffffa9 70.8%,#ffff7f 72.9%,#ffe83c 77.3%,#ffc93c 78.9%,#fb4ead 82.1%,#8813ec 84.1%,#8512ed 85.2%,#c930cf 86.2%,#ff54a7 87.1%,#ffc63e 89.6%,#ffe83c 90.8%,#ffff86 91.9%,#ffb 94%,#ffffd7 99.9%)"></i><i style="left:1032.6px;background:linear-gradient(#ff6c91 0%,#fa4dae 0.7%,#ad23dc 2.1%,#a620df 3.4%,#ff54a6 5%,#ffc83c 7.6%,#ffe63c 8.9%,#ffff84 9.9%,#ffffa4 10.8%,#ffffc1 12.4%,#ffffd5 17.7%,#ffffe7 19.9%,#ffffec 26.8%,#ffffe7 31.4%,#ffffc5 37.6%,#ffffa9 39%,#ffff7f 40.1%,#fff259 42.9%,#ffed4b 44.9%,#ffeb46 47%,#fff053 50.7%,#fffd7a 54.3%,#ffffa2 56.2%,#ffffaf 58%,#ffffb7 67.2%,#ffffa1 71.3%,#ffff7f 72.7%,#ffe73c 77.9%,#ffc83c 79.5%,#ff51a9 82.7%,#b828d7 84.1%,#b025da 85.2%,#ff51a9 86.7%,#ffc440 89.4%,#ffe63c 90.8%,#fffd7a 91.7%,#ffffb8 94%,#ffffcf 96.9%,#ffffd6 99.9%)"></i><i style="left:1038.7px;background:linear-gradient(#ff738b 0%,#f94dae 0.9%,#b728d7 2.1%,#af24db 3.4%,#fe4fab 4.8%,#ffc440 7.5%,#ffe73c 8.9%,#ffff83 9.8%,#ffffa3 10.6%,#ffffc1 12.2%,#ffffe7 19.9%,#ffffed 26.8%,#ffffe6 32.1%,#ffffc7 37.6%,#ffffad 39%,#ffff7f 40.3%,#fff156 42.9%,#ffec47 44.7%,#ffea42 46.7%,#ffef50 49.8%,#ffff7f 53.4%,#ffffa1 55%,#ffffb1 56.8%,#ffb 67.2%,#ffffa7 72%,#ffff81 73.8%,#ffe93e 78.1%,#ffc73d 79.7%,#ff54a6 82.7%,#b828d7 84.1%,#b025da 85.2%,#c02cd3 85.7%,#ff50aa 86.7%,#ffc53f 89.4%,#ffe83c 90.8%,#fffe7c 91.5%,#ffffa9 92.8%,#ffffc3 94.4%,#ffffd8 99.9%)"></i><i style="left:1044.7px;background:linear-gradient(#ff7787 0%,#fd4fab 0.9%,#bc2ad5 2.1%,#b426d9 3.4%,#ff52a9 4.8%,#ffc53f 7.5%,#ffe73c 8.9%,#ffff90 10.3%,#ffffc2 12.4%,#ffffe9 19.9%,#ffffec 23.8%,#ffffe8 31.6%,#ffffd8 36%,#ffffb0 39.2%,#ffff7f 40.6%,#fff666 41.9%,#ffeb45 44.5%,#ffe83d 46.3%,#ffef51 50%,#fffe7e 52.9%,#ffffa1 54.3%,#ffffaf 55.7%,#ffb 63.3%,#ffa 71.8%,#ffff7f 74%,#ffe73c 78.2%,#ffc53f 79.8%,#fd4fab 82.8%,#bc2ad5 84.1%,#b426d9 85.3%,#ff51a9 86.7%,#ffc440 89.4%,#ffe73c 90.8%,#fffc78 91.7%,#ffffb0 93.3%,#ffffc8 94.9%,#ffffd7 99.9%)"></i><i style="left:1050.8px;background:linear-gradient(#ff738b 0%,#f94cae 0.9%,#af24db 2.3%,#ac23dc 3.4%,#fe4fab 4.8%,#ffc83c 7.5%,#ffe73c 8.7%,#ffff94 11%,#ffffbf 13%,#ffffea 19.9%,#ffffec 23.1%,#ffffe7 31.8%,#ffffd6 36.2%,#ffffbe 38.7%,#fff86b 41.9%,#ffe83c 45.6%,#ffe83d 47.9%,#ffef50 50.4%,#ffff81 53.6%,#ffffa1 54.8%,#ffffb0 56.2%,#ffffb9 63.2%,#ffffa9 70.3%,#ffff80 72.6%,#ffe73c 77.9%,#ffc440 79.7%,#ff53a7 82.7%,#b828d7 84.1%,#ae24db 85.3%,#ff50aa 86.7%,#ffc63e 89.4%,#ffe53c 90.7%,#ffff81 92.6%,#ffffbc 94.7%,#ffffd3 99.9%)"></i><i style="left:1056.8px;background:linear-gradient(#ff6796 0%,#fe4fab 0.5%,#a921de 2.1%,#a921de 3.4%,#ff53a7 4.8%,#ffc440 7.3%,#ffe73c 8.7%,#ffff93 11%,#ffffba 12.8%,#ffffea 19.9%,#ffffec 23.1%,#ffffe7 32.3%,#ffffd8 36.4%,#ffffc2 38.9%,#ffffab 40.1%,#ffff7f 41.3%,#fff156 43.6%,#ffe940 46.8%,#fff156 50.9%,#fffe7e 53.8%,#ffffa4 55.2%,#ffffb4 56.8%,#ffffb9 63.2%,#ffffb0 69.5%,#ffffa1 71%,#fffe7e 72.4%,#ffe83c 77.3%,#ffc73d 79.1%,#ff53a7 82.3%,#ae24db 83.9%,#a821de 85.2%,#ff55a6 86.7%,#ffc440 89.2%,#ffe73c 90.7%,#ffff8e 92.8%,#ffffbe 94.7%,#ffffd6 99.9%)"></i><i style="left:1062.9px;background:linear-gradient(#ff6b92 0%,#fa4dae 0.7%,#b025da 2.1%,#ab22dd 3.2%,#ff52a9 4.8%,#ffc73d 7.5%,#ffe83c 8.9%,#fffe7e 10.1%,#ffffa3 11.2%,#ffffc0 12.8%,#ffffe9 19.9%,#ffffed 23.9%,#ffffe6 31.8%,#ffffd4 36.4%,#ffb 38.9%,#ffff7f 41%,#fff664 42.6%,#ffee4d 44.9%,#ffec47 46.8%,#fff258 50.9%,#ffff81 54.1%,#ffffa3 55.3%,#ffffb4 57.1%,#ffffb6 69.5%,#ffffa5 71.3%,#ffff80 72.7%,#ffe83c 77.5%,#ffc63e 79.3%,#ff51a9 82.5%,#b125da 84.1%,#ae24db 85.2%,#ff55a6 86.7%,#ffc83c 89.4%,#ffe63c 90.7%,#ffff83 92.1%,#ffffa8 93.1%,#ffffc3 94.7%,#ffffd6 99.9%)"></i><i style="left:1069px;background:linear-gradient(#ff7b84 0%,#ff51a9 0.9%,#b426d9 2.3%,#af24db 3.2%,#ff51a9 4.4%,#ffc440 6.4%,#ffe63c 7.5%,#ffff81 10.5%,#ffffab 11.7%,#ffffc5 13.3%,#ffffeb 19.9%,#ffffed 26.6%,#ffffe6 32.1%,#ffffc6 37.4%,#ffffac 38.9%,#ffff7f 40.1%,#fff157 42.9%,#ffec47 44.9%,#ffea42 46.8%,#fff156 51.1%,#fffe7e 54.5%,#ffffa1 55.7%,#ffffb4 57.5%,#ffb 66.7%,#ffffa5 70.8%,#ffff80 72.4%,#ffe83c 78.1%,#ffc63e 79.7%,#ff54a7 82.7%,#b426d9 84.3%,#b225da 85.2%,#ff53a7 86.4%,#ffc93c 88.5%,#ffe73c 89.6%,#fffe7e 92.4%,#ffffa4 93.5%,#ffffc2 95.1%,#ffffd6 99.9%)"></i><i style="left:1075px;background:linear-gradient(#ff817f 0%,#fd4fac 1.1%,#ad23dc 2.7%,#b125da 3.5%,#fd4fab 4.4%,#ffc53f 6.4%,#ffe73c 7.5%,#ffff7f 10.3%,#ffa 11.5%,#ffffc7 13.3%,#ffffeb 19.9%,#ffe 26.6%,#ffffe8 31%,#ffffc7 37.3%,#ffffab 38.9%,#ffff7f 40.1%,#fff155 42.9%,#ffec47 44.7%,#ffea43 46.7%,#fff156 50.9%,#fffe7e 54.3%,#ffffa0 55.5%,#ffffb3 57.3%,#ffffbf 66.3%,#ffffb8 69.9%,#ffffa6 71.7%,#ffff81 73.1%,#ffe73c 78.4%,#ffc73d 80%,#fc4eac 83%,#b929d6 84.3%,#b326d9 85.3%,#ff50aa 86.4%,#ffc93c 88.5%,#ffe83c 89.6%,#ffff80 92.4%,#ffffa7 93.5%,#ffffc5 95.1%,#ffffd9 99.9%)"></i><i style="left:1081.1px;background:linear-gradient(#ff867a 0%,#f94dae 1.2%,#b326d9 2.5%,#b226d9 3.4%,#ff50aa 4.4%,#ffc242 6.4%,#ffe83d 7.6%,#fffe7e 10.5%,#ffffa8 11.7%,#ffffc4 13.3%,#ffffe9 19.9%,#ffffec 26.6%,#ffffd8 34.6%,#ffffc5 37.1%,#ffffa7 38.7%,#ffff7f 39.7%,#fff054 42.8%,#ffeb46 44.7%,#ffea42 46.8%,#ffef52 50.9%,#ffff80 54.6%,#ffffa0 55.9%,#ffffb1 57.7%,#ffffbe 65.8%,#ffffb5 69.5%,#ffffa7 71.1%,#ffff80 72.9%,#ffe93e 78.8%,#ffc93c 80.2%,#ff52a9 83%,#b929d6 84.3%,#b426d9 85.3%,#ff53a7 86.4%,#ffc440 88.3%,#ffe63c 89.4%,#ffff7f 92.4%,#ffffa4 93.5%,#ffffc2 95.1%,#ffffd7 99.9%)"></i><i style="left:1087.1px;background:linear-gradient(#ff827e 0%,#f84caf 1.1%,#9b1be4 2.5%,#981ae5 3.4%,#ff51a9 4.6%,#ffc63e 6.6%,#ffe73c 7.6%,#ffff7f 10.5%,#ffffa5 11.5%,#ffffc2 13.1%,#ffffe9 19.9%,#ffffec 24.8%,#ffffd9 34.8%,#ffffc2 37.3%,#ffffa5 38.7%,#fffe7e 39.7%,#fff769 41%,#ffea43 44.9%,#ffe93e 47%,#ffef51 51.3%,#fffe7e 55%,#ffffa4 56.6%,#ffffb1 57.8%,#ffffbe 64.6%,#ffffae 71.1%,#fffe7e 73.6%,#ffe83c 78.8%,#ffc73d 80.2%,#ff50aa 82.8%,#a01de2 84.3%,#9a1be4 85.3%,#cc32cd 85.9%,#ff57a4 86.6%,#ffc341 88.3%,#ffe83c 89.4%,#ffff7f 92.2%,#ffffa8 93.5%,#ffffc0 94.9%,#ffffd7 99.9%)"></i><i style="left:1093.2px;background:linear-gradient(#ff7b83 0%,#ff50aa 0.7%,#8612ed 2.3%,#8110ef 3.2%,#ce33cc 4.1%,#fc4eac 4.6%,#ffc73d 6.6%,#ffe83d 7.6%,#ffff80 10.5%,#ffffa4 11.5%,#ffffc1 13.1%,#ffffea 19.9%,#ffffeb 26.6%,#ffd 33.4%,#ffffc3 37.1%,#ffffa9 38.5%,#fffe7e 39.7%,#ffee4e 42.9%,#ffe93e 44.9%,#ffe83c 49.3%,#ffed4b 51.8%,#ffff7f 56.1%,#ffff9f 57.3%,#ffffb0 59.1%,#ffffb9 67.8%,#ffffb2 70.6%,#ffffa0 72.2%,#ffff7f 73.4%,#ffe83c 78.6%,#ffc440 80.2%,#fb4eac 82.7%,#8712ed 84.3%,#8311ee 85.2%,#ff50aa 86.6%,#ffc93c 88.5%,#ffe73c 89.4%,#ffff82 92.2%,#ffffa7 93.3%,#ffffc0 94.7%,#ffffd6 99.9%)"></i><i style="left:1099.2px;background:linear-gradient(#ff7886 0%,#fb4ead 0.7%,#8d15ea 2.1%,#7c0ff0 2.5%,#7c0ff0 2.8%,#8211ee 3.4%,#fd4fac 4.6%,#ffc93c 6.6%,#ffe83c 7.5%,#ffff7f 9.9%,#ffffa4 11%,#ffffc4 12.8%,#ffffeb 19.9%,#ffffec 26.6%,#ffffe0 32.6%,#ffffc5 37.1%,#ffffa7 38.7%,#ffff80 39.7%,#ffe83c 44.5%,#ffe83d 50.2%,#fffe7e 55.7%,#ffffa1 57.3%,#ffffb0 59.1%,#ffffb7 67.6%,#ffffb0 70.4%,#ffff9e 72%,#fffe7e 73.3%,#ffe83c 78.8%,#ffc53f 80.2%,#ff54a7 82.5%,#d336c9 83.2%,#7d0ff0 84.3%,#780df2 85.2%,#cb31ce 86%,#fa4dae 86.6%,#ffc73d 88.5%,#ffe63c 89.4%,#fffe7e 91.9%,#ffffa8 93.1%,#ffffbd 94.4%,#ffffd7 99.9%)"></i><i style="left:1105.3px;background:linear-gradient(#ff7a85 0%,#fb4ead 0.7%,#c72fd0 1.4%,#7c0ff0 2.3%,#760df2 3.2%,#ca31ce 4.1%,#fa4dae 4.6%,#ffc83c 6.6%,#ffe63c 7.5%,#fffe7d 9.8%,#ffffa2 10.8%,#ffffc4 12.6%,#ffffd6 17.9%,#ffffea 19.9%,#ffffeb 26.6%,#ffffd8 34.6%,#ffffc3 37.3%,#ffffa7 38.7%,#ffff7f 39.7%,#ffed4c 42.8%,#ffe83c 44.3%,#ffe83d 49.7%,#fff665 53.4%,#ffffa3 56.2%,#ffffb3 58%,#ffffb6 60.5%,#ffffb5 67.9%,#ffffa8 72%,#ffff7f 74.3%,#ffe83d 78.9%,#ffc83c 80.2%,#ff54a7 82.5%,#d134ca 83.2%,#8311ee 84.1%,#750cf3 84.4%,#760df2 85%,#9116e9 85.5%,#fc4eac 86.6%,#ffc83c 88.5%,#ffe73c 89.4%,#fffe7e 91.7%,#ffffa4 92.8%,#ffffc1 94.4%,#ffffd3 99.9%)"></i><i style="left:1111.3px;background:linear-gradient(#ff7d82 0%,#fd4fab 0.7%,#8813ec 2.1%,#6e0af5 2.7%,#6e0af5 3.2%,#8d14eb 3.7%,#fc4eac 4.8%,#ffc242 6.6%,#ffe83c 7.6%,#ffff82 10.3%,#ffff9e 11%,#ffffbc 12.6%,#ffffd0 17.9%,#ffffe7 19.9%,#ffffea 23.4%,#ffffd3 34.9%,#ffffbf 37.3%,#ffffa2 38.7%,#fffc78 39.9%,#ffee4f 42.4%,#ffe83c 44.3%,#ffe83d 49.8%,#fff460 53.2%,#ffff80 55%,#ffff9b 55.9%,#ffa 57.1%,#ffffb0 60.7%,#ffffa8 72.6%,#ffff9a 74%,#fffe7e 75%,#ffe93e 78.9%,#ffc341 80.4%,#fa4dad 82.7%,#8612ed 84.1%,#700bf4 84.6%,#700bf4 85%,#9418e7 85.7%,#ff53a8 86.7%,#ffc63e 88.5%,#ffe63c 89.4%,#ffff7f 92.1%,#ffffa0 93%,#ffffc0 94.6%,#ffffd0 99.9%)"></i><i style="left:1117.4px;background:linear-gradient(#ff7f80 0%,#ff53a7 0.7%,#f64bb0 0.9%,#760df2 2.5%,#6d0af5 3.4%,#d335c9 4.4%,#ff56a5 5%,#ffc341 6.6%,#ffe93d 7.6%,#ffff7f 10.1%,#ffff9f 11%,#ffffc0 12.8%,#ffffd2 17.9%,#ffffe8 19.9%,#ffffeb 26.3%,#ffffd7 34.8%,#ffffc4 37.3%,#ffffa6 38.9%,#fffe7e 39.9%,#fff767 41.2%,#ffe93e 45.1%,#ffe940 49.3%,#fff666 53.2%,#ffff7f 54.8%,#ffffa0 56.1%,#ffffb0 57.7%,#ffffb6 61%,#ffffaf 72.7%,#ffff9e 74.3%,#ffff7f 75.4%,#ffe63c 79.1%,#ffc440 80.4%,#ff53a8 82.7%,#d134ca 83.4%,#760df2 84.4%,#700bf4 85.3%,#c62fd0 86.2%,#fb4ead 86.7%,#ffc73d 88.5%,#ffe83c 89.4%,#ffff7f 92.1%,#ffffa0 93%,#ffffc0 94.6%,#ffffd6 99.9%)"></i><i style="left:1123.4px;background:linear-gradient(#ff7e81 0%,#fd4fac 0.7%,#8010ef 2.1%,#6d0af5 2.5%,#6a09f6 3%,#8110ef 3.5%,#be2bd4 4.1%,#ff54a7 4.8%,#ffc83c 6.6%,#ffe73c 7.5%,#ffff80 10.3%,#ffffa0 11.2%,#ffffbe 12.8%,#ffffe8 19.9%,#ffffeb 26.8%,#ffd 33.5%,#ffffc1 37.4%,#ffffa5 38.9%,#fffd7b 40.1%,#fff052 42.9%,#ffea43 44.9%,#ffe93e 46.8%,#ffef51 50.9%,#fffe7e 54.6%,#ffff9e 55.9%,#ffffae 57.5%,#ffffb6 69.4%,#ffffb1 72.6%,#ffff9d 74.3%,#fffe7e 75.4%,#ffe83c 79.1%,#ffc63e 80.4%,#ff56a5 82.5%,#d034cb 83.2%,#7f10ef 84.1%,#6f0af5 84.6%,#740cf3 85.2%,#8c14eb 85.5%,#fd4fac 86.6%,#ffc440 88.3%,#ffe43c 89.2%,#ffff7f 92.2%,#ffff9f 93.1%,#ffffbd 94.7%,#ffffd3 99.9%)"></i><i style="left:1129.5px;background:linear-gradient(#ff7589 0%,#fe4fab 0.5%,#7f10ef 2%,#6f0af5 2.3%,#6f0af5 2.8%,#7a0ef1 3.2%,#c72fd0 3.9%,#ff55a5 4.6%,#ffc242 6.4%,#ffe73c 7.5%,#ffff80 10.3%,#ffffa0 11.2%,#ffffbe 12.8%,#ffffe8 19.9%,#ffffeb 26.8%,#ffffe7 31%,#ffffd3 35.1%,#ffffb9 37.6%,#fffc77 40.1%,#ffec49 44.7%,#ffeb46 49%,#ffef4f 50.9%,#fffd7a 54.6%,#ffffa2 56.6%,#ffffae 58.2%,#ffffb7 69.2%,#ffffb1 72.4%,#ffff9f 74%,#ffff81 75%,#ffe83d 78.9%,#ffc341 80.4%,#f94dae 82.5%,#7a0ef1 83.9%,#700bf4 84.1%,#6e0af5 84.8%,#8f15ea 85.3%,#f94cae 86.4%,#ffc440 88.3%,#ffe33c 89.2%,#fffe7e 92.1%,#ffffa2 93.1%,#ffffbd 94.6%,#ffffd5 99.9%)"></i><i style="left:1135.5px;background:linear-gradient(#ff7589 0%,#ff52a8 0.5%,#f54ab1 0.7%,#8c14eb 2%,#700bf4 2.8%,#8d14eb 3.5%,#f94cae 4.6%,#ffc63e 6.6%,#ffe93d 7.6%,#fffe7e 9.8%,#ffffa3 10.8%,#ffffc3 12.6%,#ffffd7 17.7%,#ffffea 19.9%,#ffffed 26.6%,#ffffd6 34.8%,#ffffc0 37.1%,#ffff7f 39.6%,#fff96e 40.8%,#ffed4c 44.7%,#ffeb46 46.8%,#ffed4c 49.8%,#fff666 53.6%,#fffe7e 55.7%,#ffffa9 57.7%,#ffffb8 59.4%,#ffffb7 72%,#ffffa5 73.8%,#ffff81 75%,#ffe83c 78.9%,#ffc73d 80.2%,#ff51a9 82.5%,#8813ec 83.9%,#6d0af5 84.8%,#8c14eb 85.5%,#f84caf 86.6%,#ffc73d 88.5%,#ffe63c 89.4%,#ffff82 91.7%,#ffffa8 92.8%,#ffffc2 94.2%,#ffffda 99.9%)"></i><i style="left:1141.6px;background:linear-gradient(#ff7985 0%,#f94cae 0.7%,#c22dd2 1.4%,#730cf3 2.3%,#6908f7 3.2%,#d335c9 4.3%,#ff56a5 4.8%,#ffc341 6.4%,#ffe83c 7.5%,#ffff7f 9.6%,#ffffa4 10.6%,#ffffc2 12.4%,#ffffea 19.9%,#ffffec 26.6%,#ffffd7 33.9%,#ffffc5 36.2%,#ffa 37.8%,#fffe7d 39.2%,#ffed4a 44.7%,#ffeb45 47.2%,#fff155 51.8%,#ffff7f 56.1%,#ffffa4 57.5%,#ffffb2 58.7%,#ffb 62.4%,#ffffb0 72.2%,#ffff9e 73.8%,#ffff7f 74.9%,#ffe83c 78.9%,#ffc83c 80.2%,#ff53a7 82.5%,#cf33cc 83.2%,#7f10ef 84.1%,#6a09f6 84.6%,#6b09f6 85.2%,#8311ee 85.5%,#f94caf 86.6%,#ffc440 88.3%,#ffe03c 89.1%,#ffe93e 89.4%,#ffff80 91.5%,#ffffa6 92.6%,#ffffc0 94%,#ffffd3 99.9%)"></i><i style="left:1147.6px;background:linear-gradient(#ff7d82 0%,#fe4fab 0.7%,#c930cf 1.4%,#7b0ef1 2.3%,#750cf3 3.2%,#ca31ce 4.1%,#fb4dad 4.6%,#ffc242 6.4%,#ffe63c 7.5%,#fffe7d 9.6%,#ffffa1 10.6%,#ffffbf 12.2%,#ffffd5 17.6%,#ffffe9 19.9%,#ffffeb 26.6%,#ffffd6 33.5%,#ffffc3 35.8%,#ffffa6 37.4%,#fffd79 38.9%,#ffeb46 44.5%,#ffea42 46.8%,#fff053 51.3%,#ffff80 55.7%,#ffa 57.8%,#ffffb4 61.7%,#ffffa9 72.2%,#ffff96 74%,#ffff80 74.7%,#ffe83d 78.9%,#ffc440 80.4%,#fc4eac 82.7%,#c930cf 83.4%,#7b0ef1 84.4%,#7d0ff0 85.2%,#8712ed 85.3%,#d336c9 86%,#ff53a7 86.6%,#ffc53f 88.3%,#ffdf3c 89.1%,#ffe940 89.6%,#ffff7f 91.7%,#ffffa1 92.6%,#ffffbd 94%,#ffffd0 99.9%)"></i><i style="left:1153.7px;background:linear-gradient(#ff8080 0%,#ff53a7 0.7%,#f64bb0 0.9%,#8712ed 2.3%,#8211ee 3%,#c42ed1 3.9%,#ff55a6 4.6%,#ffc440 6.4%,#ffe63c 7.5%,#ffff80 9.9%,#ffffa0 10.8%,#ffffbf 12.4%,#ffffd4 17.7%,#ffffe7 19.9%,#ffffea 26.6%,#ffffd8 33.4%,#ffffc2 35.8%,#ffffa7 37.3%,#ffff7f 38.3%,#ffec48 44.2%,#ffea42 46.7%,#fff052 51.1%,#fffe7e 55.2%,#ffffa1 56.6%,#ffffaf 58.2%,#ffffb4 64.4%,#ffffae 72.4%,#ffff9a 74.2%,#ffff7f 75%,#ffe83d 79.1%,#ffc73d 80.4%,#ff51a9 82.7%,#9016e9 84.1%,#8311ee 84.4%,#8211ee 85%,#c72fd0 85.9%,#ff55a6 86.6%,#ffc341 88.3%,#ffdd3c 89.1%,#ffe93e 89.6%,#ffff81 91.9%,#ffffa2 92.8%,#ffffbe 94.2%,#ffffd2 99.9%)"></i><i style="left:1159.8px;background:linear-gradient(#ff738b 0%,#ff51a9 0.5%,#f44ab1 0.7%,#9217e8 2%,#780df2 2.5%,#7b0ef1 3.2%,#8612ed 3.4%,#d637c7 4.1%,#ff56a4 4.6%,#ffc83c 6.4%,#ffe93f 7.5%,#ffff82 10.1%,#ffffa1 11%,#ffffc1 12.8%,#ffffe6 19.9%,#ffffec 26.6%,#ffffd7 33.9%,#ffffbe 36.4%,#ffff7f 38.7%,#fff96f 39.9%,#ffee4e 44%,#ffeb46 46.5%,#fff157 51.1%,#ffff80 54.5%,#ffffa4 55.9%,#ffffb5 57.7%,#ffffb5 72.4%,#ffffa1 74.3%,#fffe7e 75.6%,#ffe83c 78.9%,#ffc63e 80.2%,#ff52a8 82.5%,#cf33cc 83.2%,#7f10ef 84.1%,#760df2 84.3%,#730cf3 85%,#d134ca 86%,#ff52a8 86.6%,#ffc63e 88.3%,#ffe03c 89.1%,#ffe83d 89.4%,#ffff7f 91.9%,#ffffa9 93.1%,#ffffbf 94.4%,#ffffd4 99.9%)"></i><i style="left:1165.8px;background:linear-gradient(#ff7589 0%,#f84caf 0.7%,#7c0ff0 2.3%,#7a0ef1 3.2%,#cd32cd 4.1%,#fb4ead 4.6%,#ffc73d 6.6%,#ffe83d 7.6%,#ffff80 10.5%,#ffffa0 11.4%,#ffffbd 13%,#ffffe6 19.9%,#ffffec 26.8%,#ffffdc 33%,#ffffc2 36.4%,#ffffa8 37.8%,#fffc78 39.4%,#ffec48 44.2%,#ffeb44 46.5%,#fff053 50.2%,#ffff7f 53.8%,#ffffa4 55.2%,#ffffb3 56.9%,#ffffb4 68.8%,#ffffaf 72.6%,#ffffa0 74.3%,#fffe7e 75.6%,#ffe73c 78.9%,#ffc440 80.2%,#ff53a8 82.5%,#d134ca 83.2%,#790ef1 84.3%,#770df2 85.2%,#cd32cd 86%,#fc4eac 86.6%,#ffc93c 88.5%,#ffe73c 89.4%,#ffff80 92.4%,#ffffba 94.7%,#ffffd3 99.9%)"></i><i style="left:1171.9px;background:linear-gradient(#ff8080 0%,#fc4eac 0.9%,#9619e6 2.3%,#9116e9 3.2%,#ff52a8 4.6%,#ffc63e 6.6%,#ffe73c 7.6%,#ffff81 10.8%,#ffff9d 11.5%,#ffffbc 13.1%,#ffffe6 19.9%,#ffffeb 26.6%,#ffffd3 35.1%,#ffb 37.3%,#fffc78 39.6%,#fff052 42.4%,#ffeb46 44.3%,#ffea43 46.3%,#fff156 50%,#ffff7f 53.4%,#ffff9c 54.5%,#ffffac 56.1%,#ffffb5 63.2%,#ffffab 72.7%,#ffff98 74.5%,#fffe7e 75.4%,#ffe83c 78.9%,#ffc83c 80.2%,#ff52a8 82.7%,#8e15ea 84.3%,#8b14eb 85.2%,#c72fd0 85.9%,#ff53a7 86.6%,#ffc83c 88.5%,#ffe53c 89.4%,#fffe7e 92.6%,#ffffba 94.9%,#ffffd2 99.9%)"></i><i style="left:1177.9px;background:linear-gradient(#ff827e 0%,#ff51a9 0.9%,#9c1be4 2.3%,#9719e6 3.2%,#ca31ce 3.9%,#ff53a7 4.6%,#ffc53f 6.6%,#ffe73c 7.6%,#ffff7f 10.5%,#ffffa4 11.5%,#ffffc2 13.1%,#ffffe9 19.9%,#ffffed 26.3%,#ffffd9 34.9%,#ffffc1 37.4%,#ffff7f 39.9%,#fff25a 42.8%,#ffed4a 45.1%,#ffed4c 48.1%,#fff259 49.8%,#ffff80 52.9%,#ffffa1 54.1%,#ffffb1 55.7%,#ffffba 63%,#ffffb1 72.7%,#ffff9f 74.3%,#ffff80 75.4%,#ffe83d 78.9%,#ffc440 80.4%,#fc4eac 82.8%,#9819e6 84.3%,#9518e7 84.6%,#9a1ae5 85.3%,#cd32cd 85.9%,#ff56a4 86.6%,#ffc83c 88.5%,#ffe43c 89.4%,#fffe7d 92.2%,#ffffa6 93.5%,#ffffc0 94.9%,#ffffd5 99.9%)"></i><i style="left:1184px;background:linear-gradient(#ff847c 0%,#f84caf 1.1%,#9d1ce3 2.3%,#9217e8 3.2%,#9c1be4 3.5%,#fc4eac 4.6%,#ffc53f 6.6%,#ffe83c 7.6%,#ffff7f 10.3%,#ffffa4 11.4%,#ffffc1 13%,#ffffea 19.9%,#ffffed 26.6%,#ffffe0 33%,#ffffc4 37.3%,#ffffa8 38.9%,#fffe7d 40.1%,#fff259 42.8%,#ffec49 45.1%,#ffed49 48.1%,#fff157 49.8%,#fffe7e 52.7%,#ffff9f 53.9%,#ffffb1 55.7%,#ffffb8 68.5%,#ffffb3 72.2%,#ffffa3 73.8%,#fffe7e 75.2%,#ffe73c 78.9%,#ffc341 80.4%,#fe50ab 82.8%,#9c1be4 84.3%,#9518e7 85.2%,#ff52a8 86.6%,#ffc63e 88.5%,#ffe83c 89.6%,#ffff81 92.2%,#ffffa7 93.3%,#ffffc0 94.7%,#ffffd7 99.9%)"></i><i style="left:1190px;background:linear-gradient(#ff7e81 0%,#fc4eac 0.9%,#9d1ce3 2.3%,#9317e8 3.2%,#fe4fab 4.6%,#ffc53f 6.6%,#ffe73c 7.6%,#ffff81 10.3%,#ffffa8 11.4%,#ffffc4 13%,#ffffe8 19.9%,#ffffec 26.6%,#ffffd9 34.8%,#ffffc6 37.3%,#ffffa6 38.9%,#fffe7e 39.9%,#fff156 42.8%,#ffec49 44.5%,#ffeb45 46.5%,#fff158 50%,#ffff7f 53%,#ffff9c 54.1%,#ffffaf 55.9%,#ffb 68.3%,#ffffb1 72%,#ffff9e 73.6%,#ffff81 74.7%,#ffe73c 78.8%,#ffc53f 80.2%,#fb4eac 82.8%,#a01de2 84.3%,#981ae5 85.2%,#cb31ce 85.9%,#ff54a7 86.6%,#ffc63e 88.5%,#ffe83c 89.6%,#ffff82 92.2%,#ffffa8 93.3%,#ffffc1 94.7%,#ffffd7 99.9%)"></i><i style="left:1196.1px;background:linear-gradient(#ff7d82 0%,#f94dae 0.9%,#991ae5 2.3%,#9016e9 3.2%,#fb4eac 4.6%,#ffc93c 6.7%,#ffe93e 7.8%,#fffe7e 10.1%,#ffffab 11.4%,#ffffc6 13%,#ffffe8 19.9%,#ffe 26.6%,#ffffdb 34.6%,#ffffc9 37.1%,#ffffad 38.7%,#ffff80 39.9%,#fff259 42.8%,#ffed4c 44.5%,#ffec47 46.5%,#fff156 50.2%,#ffff7f 53.4%,#ffffa7 55%,#ffffb7 56.8%,#ffb 68.5%,#ffffb4 71.8%,#ffffa0 73.6%,#ffff81 74.7%,#ffe73c 78.8%,#ffc63e 80.2%,#fe4fab 82.8%,#a11ee1 84.3%,#991ae5 85.2%,#cb31ce 85.9%,#ff53a7 86.6%,#ffc53f 88.5%,#ffe73c 89.6%,#fffe7e 92.1%,#ffffa9 93.3%,#ffffc1 94.7%,#ffffd8 99.9%)"></i><i style="left:1202.1px;background:linear-gradient(#ff847c 0%,#fe4fab 1.1%,#af24db 2.3%,#a620df 3.4%,#ff50aa 4.6%,#ffc53f 6.7%,#ffe63c 7.8%,#fffe7d 10.1%,#ffa 11.4%,#ffffc7 13.1%,#ffffe8 19.9%,#ffe 26.6%,#ffffdc 34.6%,#ffffcb 37.1%,#ffffae 38.7%,#fffe7e 40.1%,#ffed4c 44.5%,#ffed4c 48.6%,#fff258 50.7%,#ffff7f 53.9%,#ffffa7 55.5%,#ffffb7 57.3%,#ffffba 68.5%,#ffffb5 71.8%,#ffffa6 73.4%,#ffff80 74.9%,#ffe83c 78.8%,#ffc83c 80.2%,#ff51a9 83%,#b426d9 84.3%,#ab22dd 85.3%,#ff54a6 86.6%,#ffc83c 88.7%,#ffe73c 89.8%,#fffe7e 92.1%,#ffa 93.3%,#ffffc6 94.9%,#ffffd8 99.9%)"></i><i style="left:1208.2px;background:linear-gradient(#ff857b 0%,#ff51a9 1.1%,#b527d8 2.3%,#b226d9 3.4%,#fd4fab 4.4%,#ffc242 6.6%,#ffe73c 7.8%,#ffff7f 10.3%,#ffa 11.5%,#ffffc4 13.1%,#ffffe8 19.9%,#ffffed 24.7%,#ffffe6 30.9%,#ffc 37.1%,#ffffb0 38.7%,#ffff82 39.9%,#fff96d 41.2%,#ffee4d 44.5%,#ffec47 46.7%,#ffee4d 49.3%,#fff96d 53%,#ffff82 54.6%,#ffffa5 56.1%,#ffffb7 57.8%,#ffffb7 71.7%,#ffffa7 73.4%,#ffff80 74.9%,#ffe93e 78.8%,#ffc53f 80.4%,#ff56a5 83%,#bf2cd3 84.3%,#bc2ad5 85.3%,#ff55a6 86.4%,#ffc440 88.5%,#ffe73c 89.8%,#ffff7f 92.2%,#ffffa9 93.5%,#ffffc1 94.9%,#ffffd6 99.9%)"></i><i style="left:1214.2px;background:linear-gradient(#ff827e 0%,#ff54a6 0.9%,#c52ed1 2.1%,#ca30cf 3%,#ff57a4 3.9%,#ffc63e 6%,#ffe83c 7.3%,#ffff7f 10.5%,#ffffa3 11.5%,#ffffc0 13.1%,#ffffe4 19.9%,#ffffe9 26.6%,#ffffda 33.4%,#ffffc0 37.3%,#ffffa6 38.9%,#ffff7f 39.9%,#fff768 41.3%,#ffea42 45.6%,#ffec49 52.7%,#fffb74 57.3%,#ffffa3 60.8%,#ffffaf 66.5%,#ffffa0 72.2%,#ffff80 73.4%,#ffe83d 78.9%,#ffc83c 80.4%,#ff53a7 82.8%,#c12cd3 83.9%,#c02cd3 84.8%,#ff54a6 85.9%,#ffc73d 88%,#ffe63c 89.1%,#ffff7f 92.4%,#ffffa3 93.5%,#ffffbd 94.9%,#ffffd1 99.9%)"></i><i style="left:1220.3px;background:linear-gradient(#ff807f 0%,#fc4eac 0.9%,#ae24db 2.1%,#b326d9 3%,#ff51a9 4.1%,#ffc83c 6.4%,#ffe83d 7.6%,#ffff7f 10.3%,#ffffa5 11.4%,#ffffc2 13%,#ffffe2 19.9%,#ffffe7 25.9%,#ffffd0 34.9%,#ffffa4 38.5%,#fffe7e 39.6%,#fff562 41.2%,#ffe83c 44.9%,#ffe93e 50%,#ffed4a 52.5%,#ffff80 57.1%,#ffff9d 58.2%,#ffffa8 59.8%,#ffffaf 68.3%,#ffff9d 72.2%,#ffff80 73.3%,#ffe83d 79.1%,#ffc341 80.5%,#fe4fab 82.8%,#b125da 84.1%,#b527d8 85%,#ff53a7 86%,#ffc53f 88.2%,#ffe83c 89.4%,#ffff82 92.2%,#ffffa6 93.3%,#ffffc0 94.7%,#ffffd0 99.9%)"></i><i style="left:1226.3px;background:linear-gradient(#ff7886 0%,#f94cae 0.7%,#8f15ea 2.1%,#9719e6 3%,#ff52a9 4.3%,#ffc93c 6.4%,#ffe73c 7.5%,#fffe7e 9.8%,#ffffab 11%,#ffffc7 12.6%,#ffffe7 19.9%,#ffffe7 22.5%,#ffffe3 30.5%,#ffffd5 34.6%,#ffffad 38.3%,#ffff81 39.6%,#fff769 41%,#ffe940 45.1%,#ffe940 50%,#ffef4f 52.5%,#ffff7f 56.6%,#ffffa7 58.2%,#ffffaf 59.6%,#ffffb6 68.5%,#ffffa7 72.2%,#ffff81 73.6%,#ffe83c 79.1%,#ffc63e 80.4%,#ff56a5 82.5%,#d235c9 83.2%,#9116e9 84.1%,#9217e8 84.8%,#9b1be4 85%,#cd32cd 85.5%,#ff55a6 86.2%,#ffc440 88.2%,#ffe53c 89.2%,#ffff7f 91.7%,#ffffac 93%,#ffffc6 94.4%,#ffffd7 99.9%)"></i><i style="left:1232.4px;background:linear-gradient(#ff7b84 0%,#fc4eac 0.7%,#9c1be4 2%,#9c1be4 2.8%,#ce33cc 3.4%,#ff55a5 4.1%,#ffc63e 6%,#ffe83c 7.1%,#ffff80 9.6%,#ffffac 10.8%,#ffffc7 12.4%,#ffffe9 20.9%,#ffffe5 30.5%,#ffffd8 34.4%,#ffffb1 38.1%,#ffff82 39.6%,#fff86c 41%,#ffec46 44.9%,#ffe93f 47.2%,#fff156 53.2%,#ffff80 57.1%,#ffffa9 58.9%,#ffffb7 64.2%,#ffffa7 72.2%,#fffe7e 73.8%,#ffe83c 79.3%,#ffc93c 80.4%,#fc4eac 82.7%,#9e1ce3 83.9%,#9e1ce3 84.6%,#fa4dad 85.9%,#ffc73d 88%,#ffe43c 88.9%,#ffff81 91.5%,#ffffae 92.8%,#ffffc6 94.2%,#ffffd8 99.9%)"></i><i style="left:1238.5px;background:linear-gradient(#ff807f 0%,#fe50aa 0.9%,#bc2ad5 2%,#b627d8 2.8%,#fc4eac 3.9%,#ffc53f 6%,#ffe63c 7.1%,#fffe7c 9.4%,#ffffa8 10.6%,#ffffc4 12.2%,#ffffe7 19.9%,#ffffe5 30.5%,#ffffd8 34.4%,#ffffc0 37.1%,#ffffab 38.3%,#ffff7f 39.6%,#fff86a 41%,#ffeb45 44.9%,#ffe83c 46.8%,#ffee4e 53.2%,#ffff80 57.8%,#ffffa6 59.3%,#ffffb6 63.7%,#ffffb2 69%,#ffffa2 72.4%,#ffff80 73.6%,#ffe73c 79.1%,#ffc83c 80.4%,#ff52a9 82.8%,#c22dd2 83.9%,#bd2bd4 84.6%,#d034cb 85.2%,#ff53a7 85.9%,#ffc83c 88%,#ffe83c 89.1%,#fffe7d 91.4%,#ffffa8 92.6%,#ffffc4 94.2%,#ffffd7 99.9%)"></i><i style="left:1244.5px;background:linear-gradient(#ff7f80 0%,#fd4fab 0.9%,#ab22dd 2.1%,#ac23dc 2.8%,#b125da 3.2%,#fa4dae 4.1%,#ff57a3 4.3%,#ffc73d 6.2%,#ffe83c 7.3%,#fffe7d 9.4%,#ffffa9 10.6%,#ffffc5 12.2%,#ffffe6 19.9%,#ffffe7 26.6%,#ffffdc 33.4%,#ffffc9 36.2%,#ffa 38.3%,#fffe7e 39.6%,#fff767 41%,#ffe83c 45.6%,#ffe83c 50.7%,#ffec47 52.9%,#ffff7f 57.7%,#ffffa2 59.3%,#ffffa8 60.1%,#ffffb2 68.7%,#ffffa3 72.6%,#ffff80 73.8%,#ffe83d 78.9%,#ffc53f 80.4%,#ff52a8 82.8%,#b527d8 84.1%,#b527d8 85%,#ff52a8 86%,#ffc242 88%,#ffe43c 89.1%,#ffff80 91.5%,#ffffa5 92.6%,#ffffbe 94%,#ffffd8 99.9%)"></i><i style="left:1250.6px;background:linear-gradient(#ff807f 0%,#fd4fab 0.9%,#b225da 2.1%,#b728d7 3%,#ff54a6 4.1%,#ffc63e 6.2%,#ffe53c 7.3%,#ffff81 9.6%,#ffffa1 10.5%,#ffffc0 12.2%,#ffffe6 19.9%,#ffffe7 26.6%,#ffffd6 34.6%,#ffffc3 37.1%,#ffffab 38.5%,#ffff7f 39.7%,#fff769 41%,#ffe83c 45.4%,#ffe83d 51.1%,#fff86c 56.6%,#ffffa3 60%,#ffffb5 67.9%,#ffffa3 72.6%,#ffff80 73.8%,#ffe83c 79.1%,#ffc341 80.5%,#ff52a8 82.8%,#bf2bd4 83.9%,#ba29d6 84.8%,#fc4eac 85.9%,#ffc83c 88.2%,#ffe63c 89.2%,#ffff7f 91.4%,#ffffa4 92.4%,#ffffc2 94%,#ffffd7 99.9%)"></i><i style="left:1256.6px;background:linear-gradient(#ff837d 0%,#fe4fab 1.1%,#ce33cc 2%,#cd32cd 2.8%,#ff56a5 3.9%,#ffc93c 6.2%,#ffe63c 7.3%,#fffe7d 9.4%,#ffffa2 10.5%,#ffffc1 12.2%,#ffffe6 19.9%,#ffffe9 26.8%,#ffffe1 31.9%,#ffffc3 36.9%,#ffffad 38.3%,#fffe7e 39.7%,#ffef50 43.3%,#ffea41 45.4%,#ffea42 51.4%,#fff96e 57.5%,#ffffa5 61%,#ffffb9 68.8%,#ffffa3 72.7%,#ffff7f 74%,#ffe83d 78.8%,#ffc63e 80.4%,#ff51a9 83%,#d135ca 83.9%,#d034cb 84.8%,#fe4fab 85.7%,#ffc341 88%,#ffe63c 89.2%,#ffff7f 91.4%,#ffffa5 92.4%,#ffffc3 94%,#ffffd8 99.9%)"></i><i style="left:1262.7px;background:linear-gradient(#ff847c 0%,#fb4ead 1.2%,#d134ca 2.1%,#d034cb 3%,#ff50aa 3.9%,#ffc93c 6.2%,#ffe73c 7.3%,#fffe7e 9.6%,#ffffa4 10.6%,#ffffc2 12.2%,#ffffe5 19.9%,#ffffe8 26.8%,#ffffd4 34.4%,#ffffa6 38.1%,#fffe7d 39.4%,#fff155 42.8%,#ffea43 45.4%,#ffed4c 52.3%,#ffff80 57.8%,#ffffa9 61%,#ffffb4 68.8%,#ffffa2 72.9%,#fffe7e 74.2%,#ffe83c 78.6%,#ffc63e 80.2%,#ff50aa 83.2%,#d738c6 84.1%,#d738c6 85%,#ff57a4 85.9%,#ffc341 88%,#ffe73c 89.2%,#ffff82 91.7%,#ffffa3 92.6%,#ffffc3 94.2%,#ffffd7 99.9%)"></i><i style="left:1268.7px;background:linear-gradient(#ff8879 0%,#fb4ead 1.4%,#dd3cc2 2.1%,#dc3bc2 3%,#ff58a3 3.9%,#ffc93c 6.2%,#ffe73c 7.3%,#fffe7e 9.8%,#ffffa2 10.8%,#ffffbf 12.4%,#ffffe4 19.9%,#ffffe7 26.6%,#ffffd4 34.2%,#ffffba 36.7%,#fffc78 39.2%,#ffeb44 44.7%,#ffe93f 47%,#ffee4e 51.4%,#fffb74 55.3%,#ffff9f 57.7%,#ffffaf 64.8%,#ffffa0 71.1%,#ffff80 73.1%,#ffe83c 78.4%,#ffc93c 80%,#ff54a7 83.2%,#df3dc0 84.1%,#df3dc0 85%,#ff53a7 85.7%,#ffc341 88%,#ffe73c 89.2%,#ffff7f 91.7%,#ffffa5 92.8%,#ffffc1 94.2%,#ffffd6 99.9%)"></i><i style="left:1274.8px;background:linear-gradient(#ff8978 0%,#ff50aa 1.6%,#f148b4 2%,#f148b4 3%,#ff50aa 3.4%,#ffc83c 6%,#ffe93e 7.3%,#fffe7e 9.8%,#ffffa2 10.8%,#ffffbf 12.4%,#ffffe6 19.9%,#ffffe8 26.6%,#ffffd9 33.9%,#ffffc8 36%,#ffffa7 38%,#fffd7b 39.2%,#ffef52 42.4%,#ffea43 44.5%,#ffea42 49.3%,#fff667 53.6%,#ffff7f 55.3%,#ffff9e 56.6%,#ffffb2 63.9%,#ffffa0 70.6%,#ffff7f 72%,#ffe83d 78.1%,#ffc83c 79.8%,#ff50aa 83.4%,#eb44b8 83.9%,#eb44b8 85%,#ff55a5 85.5%,#ffc83c 88%,#ffe53c 89.1%,#ffff81 91.7%,#ffffa7 92.8%,#ffffc4 94.4%,#ffffd7 99.9%)"></i><i style="left:1280.8px;background:linear-gradient(#ff7f81 0%,#ff51a9 1.2%,#eb44b8 2%,#ea43b9 2.8%,#ff51aa 3.4%,#ffc341 5.9%,#ffe73c 7.1%,#fffe7e 9.9%,#ffffa2 11%,#ffffbe 12.6%,#ffffe5 19.9%,#ffffe8 26.6%,#ffffd7 34.1%,#ffffc5 36.5%,#ffffae 38%,#ffff80 39.2%,#fff76a 40.4%,#ffe940 44.5%,#ffe83c 47.5%,#ffee4e 51.1%,#ffff7f 55%,#ffff9c 56.1%,#ffffa7 57.7%,#ffffb1 66.7%,#ffffa2 70.6%,#ffff81 71.8%,#ffe83c 77.5%,#ffc53f 79.5%,#fd4fac 83%,#e33fbe 83.7%,#e13ebf 84.8%,#ff55a6 85.5%,#ffca3c 88%,#ffe63c 89.1%,#ffff80 91.9%,#ffffa6 93%,#ffffc3 94.6%,#ffffd5 99.9%)"></i><i style="left:1286.9px;background:linear-gradient(#ff7a84 0%,#ff51a9 1.2%,#f248b3 1.6%,#ee46b6 2.8%,#ff54a7 3.4%,#ffc53f 6%,#ffe73c 7.5%,#ffff81 10.1%,#ffffa7 11.2%,#ffffc3 12.8%,#ffffe5 19.9%,#ffffe9 26.6%,#ffffd7 34.2%,#ffffc5 36.9%,#ffffae 38.3%,#ffff80 39.6%,#ffee4c 42.6%,#ffe83c 44.3%,#ffe83d 49.1%,#fff769 53.2%,#ffffa5 55.9%,#ffffb3 60%,#ffffb2 67.2%,#ffffa5 70.8%,#ffff7f 72.6%,#ffe83d 77.2%,#ffc73d 79.1%,#fd4fac 83%,#e943b9 83.6%,#e842ba 84.8%,#ff51a9 85.3%,#ffc63e 88%,#ffe53c 89.2%,#ffff80 91.9%,#ffffa7 93%,#ffffc3 94.6%,#ffffd7 99.9%)"></i><i style="left:1292.9px;background:linear-gradient(#ff7c83 0%,#ff52a8 1.2%,#f64ab0 1.6%,#f349b2 2.8%,#ff50aa 3.2%,#ffc83c 6.2%,#ffe83d 7.6%,#ffff7f 10.1%,#ffffa5 11.2%,#ffffc3 12.8%,#ffffe6 19.9%,#ffffe9 26.6%,#ffffda 33.4%,#ffffc0 37.1%,#ffffa9 38.5%,#fffe7e 39.7%,#ffe83c 44.5%,#ffe83d 49.7%,#fff86c 53.9%,#ffffa7 56.9%,#ffffb4 60.8%,#ffffb2 67.6%,#ffffa0 71.5%,#fffe7e 72.7%,#ffe93e 77.2%,#ffc83c 79.1%,#ff52a8 83%,#f047b5 83.6%,#ef46b5 84.6%,#ff56a5 85.3%,#ffc93c 88.2%,#ffe83c 89.4%,#ffff80 91.9%,#ffffae 93.1%,#ffffc6 94.6%,#ffffd8 99.9%)"></i><i style="left:1299px;background:linear-gradient(#ff7a85 0%,#ff51a9 1.1%,#e33fbd 2%,#e13ebf 2.8%,#ff50aa 3.5%,#ffc341 6%,#ffe73c 7.5%,#ffff80 10.5%,#ffff9b 11.2%,#ffb 12.8%,#ffffe3 19.9%,#ffffe2 30.7%,#ffffd3 34.6%,#ffffb9 37.3%,#ffffa2 38.5%,#fffc78 39.7%,#ffe83c 44.9%,#ffe83c 49.1%,#ffec49 51.8%,#fff666 55%,#ffff9b 58%,#ffffab 64.4%,#ffffa9 67.6%,#ff9 70.8%,#fffd7a 72.2%,#ffe83d 77.3%,#ffc83c 79.3%,#ff52a9 82.8%,#dd3bc2 83.9%,#dc3bc2 84.6%,#fd4fab 85.5%,#ffc63e 88%,#ffe73c 89.2%,#ffff82 92.2%,#ffffa3 93.1%,#ffffc1 94.7%,#ffffd5 99.9%)"></i><i style="left:1305px;background:linear-gradient(#ff7985 0%,#ff50aa 1.1%,#dc3bc2 2%,#db3ac3 3%,#ff50aa 3.7%,#ffc83c 6.2%,#ffe73c 7.5%,#fffe7e 10.1%,#ffff9e 11%,#ffffbc 12.6%,#ffffd2 17.9%,#ffffe4 19.9%,#ffffe7 26.6%,#ffffd6 34.6%,#ffffc2 37.1%,#ffffa9 38.5%,#ffff7f 39.6%,#fff769 41%,#ffe83c 46.3%,#ffef52 52.5%,#fffd7a 56.4%,#ffff9f 58.4%,#ffffb1 65.6%,#ffff9b 70.8%,#fffe7e 72%,#ffe83c 77.5%,#ffc83c 79.3%,#fe4fab 82.8%,#d537c7 83.9%,#d537c7 85%,#ff58a3 85.9%,#ffc93c 88.2%,#ffe63c 89.2%,#fffe7e 91.9%,#ffffa3 93%,#ffffc0 94.6%,#ffffd4 99.9%)"></i><i style="left:1311.1px;background:linear-gradient(#ff7688 0%,#ff51a9 1.1%,#e440bd 1.8%,#e23ebf 3%,#ff54a7 3.7%,#ffc53f 6.2%,#ffe73c 7.5%,#fffe7e 9.8%,#ffffa5 10.8%,#ffffc5 12.6%,#ffffe6 19.9%,#ffffe9 26.3%,#ffffda 33.7%,#ffffc2 36.9%,#ffffa8 38.5%,#ffff80 39.6%,#fff769 41%,#ffe83c 45.6%,#ffe83c 49%,#ffee4f 52.2%,#ffff80 56.4%,#ffff9f 57.5%,#ffa 59.1%,#ffffb5 65.8%,#ffffa1 71%,#fffe7e 72.4%,#ffe73c 77.2%,#ffc53f 79.1%,#ff52a8 82.8%,#e03ec0 83.7%,#df3dc0 85%,#ff54a7 85.7%,#ffc63e 88.2%,#ffe73c 89.4%,#ffff82 91.9%,#ffffa7 93%,#ffffc1 94.4%,#ffffd6 99.9%)"></i><i style="left:1317.2px;background:linear-gradient(#ff6f8e 0%,#ff50aa 0.9%,#e03dc0 1.8%,#e03dc0 3%,#ff54a6 3.7%,#ffca3c 6.2%,#ffe73c 7.3%,#ffff7f 9.8%,#ffffab 11%,#ffffc4 12.4%,#ffffe5 19.9%,#ffffe4 30.5%,#ffffd5 34.6%,#ffffa9 38.3%,#ffff7f 39.6%,#fff768 41%,#ffe83d 45.4%,#ffe83c 48.3%,#ffee4e 52.2%,#fffe7e 56.4%,#ffffa2 58%,#ffffb4 64.2%,#ffffa3 69.7%,#ffff80 71.5%,#ffe83c 76.8%,#ffc93c 78.8%,#ff52a8 82.7%,#dd3cc2 83.7%,#dc3bc2 84.8%,#ff56a5 85.7%,#ffc440 88%,#ffe73c 89.2%,#ffff81 91.9%,#ffffa1 92.8%,#ffffc0 94.4%,#ffffd5 99.9%)"></i><i style="left:1323.2px;background:linear-gradient(#ff6399 0%,#fe50ab 0.5%,#ce33cc 1.8%,#ce33cc 3%,#ff55a6 3.9%,#ffc341 6%,#ffe83c 7.3%,#fffe7e 9.8%,#ffffa9 11%,#ffffc6 12.6%,#ffffd5 17.9%,#ffffe5 19.9%,#ffffe7 26.8%,#ffffd7 34.6%,#ffffc4 37.1%,#ffffad 38.5%,#ffff80 39.7%,#fff76a 41.2%,#ffeb44 44.9%,#ffe83c 47.4%,#ffea42 50.6%,#fff054 53.2%,#ffff80 57.3%,#ffffa4 59.1%,#ffffb2 61.7%,#ffffb3 66.7%,#ffff9d 69.5%,#fffe7d 70.8%,#ffe83c 76.8%,#ffc53f 78.8%,#ff54a7 82.3%,#cf33cc 83.7%,#ce33cc 84.8%,#ff57a4 85.9%,#ffc341 88%,#ffe83c 89.2%,#ffff81 91.9%,#ffffa6 93%,#ffffbf 94.4%,#ffffd4 99.9%)"></i><i style="left:1329.3px;background:linear-gradient(#ff6498 0%,#ff50aa 0.5%,#d235c9 1.6%,#cd32cd 2.8%,#ff57a4 3.9%,#ffc341 6%,#ffe73c 7.3%,#ffff83 10.1%,#ffffa9 11.2%,#ffffc5 12.8%,#ffffd4 17.9%,#ffffe5 19.9%,#ffffe9 24.1%,#ffffd8 34.6%,#ffffc6 37.1%,#ffffaf 38.5%,#fffe7e 39.9%,#ffee4f 43.1%,#ffe83c 45.2%,#ffe83d 51.1%,#fffd7a 57.8%,#ffff9f 59.6%,#ffffb2 62.4%,#ffffb5 65.3%,#ffffa4 69.4%,#ffff7f 71.5%,#ffe73c 77%,#ffc83c 78.8%,#ff50aa 82.5%,#d637c7 83.6%,#d135ca 84.6%,#ff51a9 85.7%,#ffc440 88%,#ffe73c 89.2%,#ffff80 92.1%,#ffffa5 93.1%,#ffffc0 94.6%,#ffffd5 99.9%)"></i><i style="left:1335.3px;background:linear-gradient(#ff6b92 0%,#fe4fab 0.7%,#d839c5 1.6%,#d436c8 2.8%,#ff55a5 3.7%,#ffc53f 6%,#ffe83c 7.3%,#ffff81 10.1%,#ffffa6 11.2%,#ffffc2 12.8%,#ffffe7 19.9%,#ffffea 26.8%,#ffffd8 34.8%,#ffffaf 38.5%,#ffff7f 39.9%,#ffee4f 43.1%,#ffe83d 45.2%,#ffea41 51.1%,#fff86c 56.2%,#ffffa1 59.6%,#ffffb3 65.3%,#ffffa6 68.7%,#ffff7f 71.3%,#ffe83d 77.3%,#ffc83c 79.1%,#fd4fab 82.7%,#d838c5 83.6%,#d436c8 84.6%,#ff57a3 85.7%,#ffc83c 88%,#ffe53c 89.1%,#fffe7e 91.9%,#ffffa8 93.1%,#ffffc3 94.7%,#ffffd6 99.9%)"></i><i style="left:1341.4px;background:linear-gradient(#ff748a 0%,#fc4eac 0.9%,#d135ca 1.8%,#cc32cd 3%,#ff53a7 3.9%,#ffc93c 6.2%,#ffe83c 7.3%,#ffff81 9.9%,#ffffab 11.2%,#ffffc5 12.8%,#ffffe8 19.9%,#ffffe5 30.7%,#ffffd9 34.8%,#ffffc3 37.4%,#ffffae 38.7%,#ffff7f 40.1%,#ffef51 43.1%,#ffea41 45.1%,#ffe83c 47.4%,#ffee4e 52%,#fffe7e 56.2%,#ffffa8 58.7%,#ffffb6 66%,#ffffa9 68.7%,#fffe7e 70.8%,#ffe83c 77.7%,#ffc83c 79.5%,#ff55a6 82.7%,#d336c9 83.7%,#ce33cc 84.8%,#fd4fac 85.7%,#ffc63e 88%,#ffe53c 89.1%,#ffff7f 91.7%,#ffffaf 93.1%,#ffffc5 94.6%,#ffffd9 99.9%)"></i><i style="left:1347.4px;background:linear-gradient(#ff7a85 0%,#fe4fab 0.9%,#c42ed1 2%,#c12dd2 3%,#fd4fac 3.9%,#ffc440 6%,#ffe83d 7.3%,#ffff80 9.9%,#ffffa6 11%,#ffffc3 12.6%,#ffffe5 19.9%,#ffffe8 26.6%,#ffffd4 34.8%,#ffffc2 37.3%,#ffffa8 38.9%,#ffff80 39.9%,#ffef51 42.9%,#ffe93f 45.1%,#ffe83c 48.3%,#ffed4a 51.3%,#ffff80 55.5%,#ffffa5 57.8%,#ffffb3 66.3%,#ffffa9 69.7%,#fffe7e 72.6%,#ffe83d 78.1%,#ffc63e 79.8%,#ff50aa 82.8%,#cb31ce 83.9%,#cb31ce 85%,#ff56a5 85.9%,#ffc73d 88%,#ffe63c 89.1%,#ffff7f 91.9%,#ffffa4 93%,#ffffc1 94.6%,#ffffd6 99.9%)"></i><i style="left:1353.5px;background:linear-gradient(#ff6b92 0%,#ff51a9 0.5%,#b025da 2%,#b024db 2.8%,#fd4fab 3.9%,#ffc53f 5.9%,#ffe73c 6.9%,#ffff81 9.9%,#ffffa6 11%,#ffffc2 12.6%,#ffffd3 17.9%,#ffffe4 19.9%,#ffffe8 26.6%,#ffffe0 31.2%,#ffffbd 37.4%,#ffffa6 38.9%,#ffff7f 39.9%,#fff564 41.3%,#ffe83c 44.9%,#ffe83c 49.3%,#fff35d 52.5%,#ffff9d 56.1%,#ffffb2 63.2%,#ffffa3 72.2%,#ffff7f 73.8%,#ffe73c 77.9%,#ffc83c 79.5%,#ff52a8 82.5%,#b728d7 83.9%,#b828d7 84.8%,#ff55a6 85.9%,#ffc63e 87.8%,#ffe63c 88.9%,#fffe7e 91.9%,#ffffbe 94.4%,#ffffd1 97%,#ffffd4 99.9%)"></i><i style="left:1359.5px;background:linear-gradient(#df3dc0 0%,#5502fd 1.8%,#4b00ff 2.1%,#4c00ff 3%,#bf2cd3 4.1%,#ff53a7 4.8%,#ffc341 6.6%,#ffe83d 7.6%,#ffff82 9.8%,#ffa 10.8%,#ffffc7 12.4%,#ffffe6 21.3%,#ffffe2 31.9%,#ffffd4 36%,#ffffad 39.7%,#ffff82 41%,#fff86c 42.2%,#ffef50 44.7%,#ffed49 46.5%,#fff25b 50%,#ffff7f 52.7%,#ffffa1 53.9%,#ffffac 55.7%,#ffffb5 59.8%,#ffffb2 71%,#ffffa2 72.9%,#ffff7f 74.2%,#ffe73c 77.2%,#ffc83c 78.8%,#ff53a7 81.4%,#c62fd0 82.3%,#5100ff 83.7%,#4a00ff 84.8%,#9a1ae5 85.7%,#f74bb0 86.6%,#ff57a4 86.7%,#ffc53f 88.5%,#ffe53c 89.4%,#ffff81 91.7%,#ffffa7 92.8%,#ffffc3 94.4%,#ffffd6 99.9%)"></i><i style="left:1365.6px;background:linear-gradient(#e33fbe 0%,#5a03fc 1.8%,#5100ff 2%,#5100ff 3%,#c22dd2 4.1%,#ff54a7 4.8%,#ffc93c 6.7%,#ffe73c 7.6%,#ffff80 9.9%,#ffffa7 11%,#ffffc7 12.8%,#ffffe0 19.9%,#ffffe4 25.5%,#ffffd1 36.4%,#ffffac 39.9%,#ffff82 41.2%,#fff86c 42.4%,#ffef50 44.9%,#ffec49 46.7%,#fff258 50%,#ffff7f 52.7%,#ffffa3 53.9%,#ffffae 55.5%,#ffffad 71.7%,#ffff9e 73.4%,#ffff81 74.3%,#ffe83c 77.2%,#ffc73d 78.8%,#ff51a9 81.4%,#c62fd0 82.3%,#5602fd 83.7%,#4f00ff 84.8%,#8b14eb 85.5%,#f84caf 86.6%,#ffc341 88.5%,#ffe33c 89.4%,#ffff7f 91.9%,#ffffa3 93%,#ffffc0 94.6%,#ffffd5 99.9%)"></i><i style="left:1371.6px;background:linear-gradient(#f047b4 0%,#9719e6 1.1%,#4c00ff 2%,#4800ff 3%,#8d15ea 3.7%,#fe4fab 4.8%,#ffc93c 6.7%,#ffe73c 7.6%,#ffff7f 10.1%,#ffffa5 11.2%,#ffffc2 12.8%,#ffffde 19.9%,#ffffe4 26.8%,#ffffd0 36.5%,#ffffa6 40.3%,#fffd7b 41.5%,#ffee4e 45.1%,#ffed4b 46.7%,#fff25a 50%,#ffff80 52.9%,#ffff9b 53.8%,#ffffa7 55.5%,#ffffac 68.5%,#ffff9d 73.4%,#ffff7f 74.5%,#ffe73c 78.2%,#ffc53f 79.5%,#ff52a8 81.8%,#ce33cc 82.5%,#4e00ff 83.9%,#4800ff 84.8%,#8f15ea 85.7%,#fe4fab 86.7%,#ffc93c 88.7%,#ffe93d 89.8%,#ffff81 92.2%,#ffffa1 93.1%,#ffffbd 94.6%,#ffffd4 99.9%)"></i><i style="left:1377.7px;background:linear-gradient(#f449b2 0%,#8a13ec 1.2%,#4600ff 2.1%,#5100ff 3.2%,#cc32cd 4.3%,#fe4fab 4.8%,#ffc242 6.6%,#ffe83c 7.6%,#ffff7f 9.9%,#ffffa4 11%,#ffffc2 12.8%,#ffffe3 19.9%,#ffffe8 26.8%,#ffffe1 32.5%,#ffffc2 38.7%,#ffffaf 40.1%,#fffe7d 41.5%,#ffee4f 45.1%,#ffed4b 46.7%,#fff35c 49.7%,#ffff7f 52.3%,#ffffa2 53.8%,#ffffa9 55.2%,#ffffb3 68.1%,#ffff9f 73.6%,#fffe7e 74.9%,#ffe83d 78.2%,#ffc83c 79.5%,#ff7a85 81.2%,#f94cae 82%,#c32dd2 82.7%,#5301fe 83.9%,#4c00ff 85%,#9016e9 85.7%,#ff51aa 86.7%,#ffca3c 88.7%,#ffe83c 89.6%,#ffff82 91.9%,#ffffa7 93%,#ffffc1 94.4%,#ffffd7 99.9%)"></i><i style="left:1383.7px;background:linear-gradient(#f349b3 0%,#991ae5 1.1%,#4c00ff 2%,#4700ff 2.8%,#5602fd 3.2%,#9317e8 3.7%,#f74baf 4.6%,#ffc242 6.4%,#ffe83c 7.5%,#fffe7f 9.6%,#ffffa4 10.6%,#ffffc4 12.4%,#ffffe4 19.9%,#ffffea 26.8%,#ffffe4 32.3%,#ffffc7 38.3%,#ffffb1 39.9%,#ffff7f 41.3%,#fff96e 42.2%,#ffee4f 44.7%,#ffed49 45.9%,#fff35d 49.7%,#fffe7e 51.8%,#ffffa8 53.6%,#ffffb8 67.9%,#ffffa6 73.6%,#ffff7f 75%,#ffe93f 78.1%,#ffc93c 79.3%,#fc4eac 81.8%,#9719e6 83%,#4d00ff 83.9%,#4b00ff 84.8%,#9c1be4 85.7%,#fd4fab 86.6%,#ffc53f 88.3%,#ffe53c 89.2%,#ffff8f 91.7%,#ffffc3 93.8%,#ffffd8 99.9%)"></i><i style="left:1389.8px;background:linear-gradient(#e541bc 0%,#5803fc 1.6%,#40f 2%,#4100ff 2.7%,#4a00ff 3%,#8311ee 3.5%,#f94cae 4.6%,#ffc83c 6.6%,#ffe93f 7.6%,#ffff8c 9.8%,#ffffa9 10.6%,#ffffc5 12.2%,#ffffe5 19.9%,#ffffe8 26.6%,#ffffe2 32.1%,#ffffc5 38.1%,#ffffb1 39.7%,#ffff80 41.2%,#fffa70 42%,#ffef51 44.5%,#ffed4a 46.3%,#fff45e 49.5%,#fffe7e 51.6%,#ffffa5 53%,#ffffaf 54.6%,#ffffb7 63.7%,#ffffad 71.7%,#ffff9f 73.6%,#fffe7d 74.9%,#ffe83c 78.1%,#ffc63e 79.3%,#ff53a8 81.6%,#cd32cd 82.3%,#5a03fc 83.6%,#4600ff 83.9%,#40f 84.6%,#4e00ff 85%,#8813ec 85.5%,#fc4eac 86.6%,#ff867a 87.3%,#ffd03c 88.7%,#ffe940 89.6%,#fffe7e 91.4%,#ffffad 92.6%,#ffffc8 94.2%,#ffffd8 99.9%)"></i><i style="left:1395.9px;background:linear-gradient(#e440bd 0%,#9518e7 0.9%,#4a00ff 1.8%,#4b00ff 2.8%,#9217e8 3.5%,#fd4fab 4.6%,#ffc53f 6.6%,#ffe83c 7.6%,#ffff7f 9.6%,#ffffa6 10.6%,#ffffc5 12.4%,#ffffe4 19.9%,#ffffe6 26.6%,#ffffe0 31.9%,#ffffbf 38%,#ffffad 39.4%,#ffff7f 40.8%,#fffa71 41.7%,#fff053 44.3%,#ffed4b 46.1%,#fff25a 49.3%,#ffff7f 51.8%,#ffff9e 52.9%,#ffffa9 54.6%,#ffffb3 63.2%,#ffffac 71.1%,#ffffa2 72.9%,#fffe7e 74.3%,#ffe73c 78.1%,#ffc440 79.3%,#ff50aa 81.6%,#cc31ce 82.3%,#5a03fc 83.6%,#4d00ff 83.7%,#4b00ff 84.6%,#9418e7 85.5%,#fc4eac 86.6%,#ffcb3c 88.7%,#ffea41 89.8%,#fffe7e 91.5%,#ffffa4 92.6%,#ffffc1 94.2%,#ffffd5 99.9%)"></i><i style="left:1401.9px;background:linear-gradient(#ee46b6 0%,#9317e8 1.1%,#5602fd 1.8%,#4e00ff 2.8%,#bc2ad5 3.9%,#ff51a9 4.6%,#ffc93c 6.6%,#ffe83c 7.5%,#ffff82 9.8%,#ffffa8 10.8%,#ffffc4 12.4%,#ffffe3 19.9%,#ffffe3 26.6%,#ffffd2 35.7%,#ffffab 39.2%,#ffff80 40.4%,#fff96e 41.5%,#ffef50 44.3%,#ffed4b 45.9%,#fff25b 49.1%,#ffff80 51.6%,#ffff9f 52.9%,#ffffb1 59.1%,#ffffb3 66%,#ffffa4 72%,#fffe7e 73.8%,#ffe83d 78.1%,#ffc63e 79.3%,#ff52a9 81.6%,#ce32cd 82.3%,#5000ff 83.7%,#4d00ff 84.6%,#c02cd3 85.9%,#ff54a7 86.6%,#ffc341 88.3%,#ffe33c 89.2%,#ffff81 91.7%,#ffffa6 92.8%,#ffffc2 94.4%,#ffffd4 99.9%)"></i><i style="left:1408px;background:linear-gradient(#eb44b8 0%,#8e15ea 1.1%,#5000ff 1.8%,#4000ff 2.1%,#4100ff 2.8%,#5201fe 3.2%,#8f16e9 3.7%,#f54ab1 4.6%,#ff57a4 4.8%,#ffca3c 6.6%,#ffe83c 7.5%,#fffe7d 9.8%,#ffffa2 10.8%,#ffffc3 12.6%,#ffffe1 19.9%,#ffffe3 26.6%,#ffffd2 35.3%,#ffffc0 37.8%,#ffffab 39.2%,#fffe7e 40.4%,#ffee4d 44.5%,#ffed4a 46.1%,#fff35c 49.1%,#ffff7f 51.4%,#ffffa2 52.7%,#ffffab 54.3%,#ffffaf 66.7%,#ffffa0 72%,#ffff81 73.3%,#ffe83c 77.9%,#ffc341 79.3%,#fd4fab 81.6%,#c830cf 82.3%,#5803fc 83.6%,#4000ff 83.9%,#3f00ff 84.8%,#5301fe 85.2%,#9117e8 85.7%,#f64ab1 86.6%,#ff57a3 86.7%,#ffc93c 88.5%,#ffe93f 89.6%,#ffff82 91.9%,#ffffa2 92.8%,#ffffc1 94.4%,#ffffd3 99.9%)"></i><i style="left:1414px;background:linear-gradient(#eb44b8 0%,#8c14eb 1.1%,#4d00ff 1.8%,#3600ff 2.1%,#3600ff 3%,#4f00ff 3.4%,#9217e8 3.9%,#fd4fab 4.8%,#ffca3c 6.6%,#ffe83c 7.5%,#ffff7f 9.9%,#ffffa4 11%,#ffffc1 12.6%,#ffffe2 19.9%,#ffffe5 26.6%,#ffffde 31.8%,#ffffc0 38%,#ffffab 39.4%,#fffe7e 40.6%,#ffed4b 44.5%,#ffec49 46.3%,#fff259 49.1%,#ffff80 51.8%,#ffffa0 52.9%,#ffffac 54.5%,#ffffb4 58.9%,#ffffa2 72.4%,#ffff80 73.8%,#ffe73c 77.9%,#ffc83c 79.1%,#ff7c83 80.9%,#fb4ead 81.6%,#c42ed1 82.3%,#5201fe 83.6%,#2f00ff 84.1%,#2f00ff 85%,#4b00ff 85.3%,#8c14eb 85.9%,#f74baf 86.7%,#ff7b84 87.3%,#ffcd3c 88.7%,#ffe83c 89.6%,#ffff7f 91.9%,#ffffa6 93%,#ffffc3 94.6%,#ffffd2 99.9%)"></i><i style="left:1420.1px;background:linear-gradient(#e540bc 0%,#5b04fb 1.6%,#4500ff 2.1%,#4500ff 2.7%,#5c04fb 3.2%,#8311ee 3.5%,#f74bb0 4.6%,#ff58a3 4.8%,#ffc73d 6.6%,#ffe93e 7.6%,#ffff7f 9.9%,#ffffa4 11%,#ffffc1 12.6%,#ffffe2 19.9%,#ffffe7 26.6%,#ffffdf 31.9%,#ffffc0 38.1%,#ffffab 39.6%,#fffe7d 40.8%,#fff259 43.1%,#ffee4c 44.7%,#ffed4a 46.3%,#fff259 49.3%,#ffff7f 52%,#ffff9d 53%,#ffa 54.8%,#ffffb1 65.1%,#ffff9e 72.9%,#ffff80 74%,#ffe83c 77.9%,#ffc73d 79.1%,#fb4ead 81.6%,#c52ed1 82.3%,#5502fd 83.6%,#4100ff 84.1%,#4100ff 84.6%,#4f00ff 85%,#8211ee 85.5%,#f64bb0 86.6%,#ff837d 87.3%,#ffce3c 88.7%,#ffe93f 89.6%,#ffff81 91.9%,#ffffa7 93%,#ffffc1 94.4%,#ffffd4 99.9%)"></i><i style="left:1426.1px;background:linear-gradient(#e13ebf 0%,#5a03fc 1.6%,#4c00ff 2%,#4d00ff 2.7%,#9719e6 3.5%,#ff52a8 4.6%,#ffc73d 6.6%,#ffe93e 7.6%,#ffff81 9.9%,#ffffa1 10.8%,#ffffc0 12.6%,#ffffe0 19.9%,#ffffe6 26.8%,#ffffdf 31.9%,#ffffbf 38%,#ffa 39.4%,#fffd7b 40.8%,#fff35c 42.9%,#ffee4f 44.7%,#fff259 49.1%,#ffff80 52%,#ffff9c 53%,#ffffa6 54.5%,#ffffaf 64.9%,#ffff9d 72.7%,#ffff80 73.8%,#ffe83d 77.9%,#ffc83c 79.1%,#fc4eac 81.6%,#c62fd0 82.3%,#5602fd 83.6%,#4a00ff 83.9%,#4a00ff 84.6%,#9618e7 85.5%,#ff52a8 86.6%,#ffcf3c 88.7%,#ffe940 89.6%,#ffff7f 91.7%,#ffffa4 92.8%,#ffffc2 94.4%,#ffffd5 99.9%)"></i><i style="left:1432.2px;background:linear-gradient(#e842ba 0%,#8a13ec 1.1%,#4d00ff 1.8%,#4300ff 2%,#4300ff 2.8%,#9217e8 3.7%,#ff50aa 4.8%,#ffc73d 6.7%,#ffe73c 7.8%,#ffff7f 9.8%,#ffff9f 10.6%,#ffffc1 12.4%,#ffffe0 19.9%,#ffffe5 26.6%,#ffffd2 35.5%,#ffffab 39%,#ffff7f 40.3%,#fffa70 41.2%,#ffef51 44.3%,#ffee4d 46.1%,#fff25b 49%,#ffff7f 51.4%,#ffffa0 52.7%,#ffffa9 54.1%,#ffffaf 65.3%,#ffffa0 72.7%,#fffe7e 74%,#ffe83c 78.1%,#ffc63e 79.3%,#fd4fab 81.6%,#c52fd0 82.3%,#5100ff 83.6%,#3b00ff 83.9%,#3c00ff 84.8%,#5401fe 85.2%,#8f15ea 85.7%,#ff51a9 86.7%,#ffc93c 88.7%,#ffe83d 89.8%,#ffff80 91.7%,#ffffa5 92.8%,#ffffbf 94.2%,#ffffd6 99.9%)"></i><i style="left:1438.2px;background:linear-gradient(#e641bb 0%,#8b14eb 1.1%,#4f00ff 1.8%,#4600ff 2.8%,#9116e9 3.7%,#fb4ead 4.8%,#ffc242 6.7%,#ffe53c 7.8%,#ffff86 9.8%,#ffffa5 10.6%,#ffffc3 12.2%,#ffffe2 19.9%,#ffffe7 25%,#ffffd5 35.1%,#ffa 39%,#ffff82 40.1%,#fff96d 41.3%,#fff35c 42.9%,#ffee4e 45.9%,#fff45f 49.3%,#ffff80 51.4%,#ffffa5 52.9%,#ffffad 54.1%,#ffffb5 64.8%,#ffffac 71.3%,#ffffa1 73.1%,#ffff7f 74.3%,#ffe73c 77.9%,#ffc83c 79.1%,#ff50aa 81.6%,#cd32cd 82.3%,#5201fe 83.7%,#4c00ff 84.8%,#c42ed1 86%,#ff55a6 86.7%,#ffce3c 88.9%,#ffe83c 89.8%,#ff8 91.7%,#ffffa6 92.6%,#ffffc0 94%,#ffffd6 99.9%)"></i><i style="left:1444.3px;background:linear-gradient(#f248b3 0%,#bf2cd3 0.7%,#5b04fb 2%,#5a03fc 2.8%,#8f16e9 3.5%,#f94dae 4.6%,#ffc242 6.6%,#ffe73c 7.6%,#ffff87 9.6%,#ffa 10.6%,#ffffc4 12.2%,#ffffe4 19.9%,#ffffe7 25.5%,#ffffd3 35.3%,#ffffab 39%,#ffff80 40.3%,#fff86c 41.5%,#ffef51 44.3%,#ffee4c 46.1%,#fff35e 49.7%,#ffff81 52%,#ffffa6 53.4%,#ffffb2 55.2%,#ffffb8 65.3%,#ffffaf 71.3%,#ffffa2 73.3%,#ffff7f 74.5%,#ffe93e 77.7%,#ffc83c 79.1%,#fd4fac 81.8%,#ce32cd 82.5%,#6607f8 83.7%,#5b04fb 83.9%,#5a03fc 84.8%,#bb2ad5 85.9%,#fc4eac 86.6%,#ffc440 88.5%,#ffe83c 89.6%,#ffff87 91.5%,#ffffa6 92.4%,#ffffc3 94%,#ffffd8 99.9%)"></i><i style="left:1450.3px;background:linear-gradient(#ee46b6 0%,#c830cf 0.5%,#5e05fa 1.8%,#5502fd 2%,#5301fe 2.8%,#8f15ea 3.5%,#f94dae 4.6%,#ffc341 6.6%,#ffe73c 7.6%,#fffe7c 9.4%,#ffffa2 10.5%,#ffffc0 12.1%,#ffffe2 19.9%,#ffffe5 26.6%,#ffffd0 35.5%,#ffffa6 39.2%,#fffd7b 40.4%,#ffed4a 44.5%,#ffeb46 46.3%,#fff156 49.5%,#ffff7f 52.3%,#ffffa0 53.6%,#ffffac 55.2%,#ffffad 67.6%,#ffff96 73.3%,#fffe7e 74.2%,#ffe83c 77.9%,#ffc341 79.3%,#ff817e 80.9%,#f94cae 81.8%,#c52ed1 82.5%,#5702fd 83.7%,#4d00ff 84.8%,#8c14eb 85.5%,#f94cae 86.6%,#ffcb3c 88.7%,#ffea41 89.8%,#fffe7c 91.4%,#ffffbc 93.8%,#ffffd5 99.9%)"></i><i style="left:1456.4px;background:linear-gradient(#df3dc0 0%,#5502fd 1.8%,#5401fe 2.8%,#c32dd2 3.9%,#ff53a7 4.6%,#ffc83c 6.6%,#ffe83d 7.6%,#ffff9f 10.5%,#ffffbf 12.1%,#ffffe0 19.9%,#ffffe1 26.6%,#ffffcf 35.5%,#ffffa2 39.2%,#ffff7f 40.1%,#fff666 41.5%,#ffec48 44.5%,#ffeb45 46.3%,#fff053 49%,#ffff7f 52.2%,#ffff95 53%,#ffffa3 54.8%,#ffffa8 66.3%,#ffff92 73.1%,#ffe83c 77.5%,#ffc63e 78.9%,#ff53a7 81.4%,#c42ed1 82.3%,#5c04fb 83.6%,#5100ff 83.7%,#5000ff 84.6%,#8a13ec 85.3%,#f84caf 86.4%,#ff817e 87.1%,#ffcb3c 88.5%,#ffea41 89.6%,#ffff9d 92.4%,#ffffbc 94%,#ffffcf 99.9%)"></i><i style="left:1462.4px;background:linear-gradient(#ef46b5 0%,#700bf4 1.8%,#6708f7 2.1%,#6808f7 2.8%,#c930cf 3.9%,#ff57a4 4.6%,#ffca3c 6.6%,#ffe93f 7.6%,#ffff9c 10.6%,#ffffc3 12.6%,#ffffdf 19.9%,#ffffe3 26.8%,#ffffdf 31.4%,#ffffc9 36.2%,#ffffa4 39.2%,#ffff80 40.1%,#fff86a 41.3%,#ffee4c 44.3%,#ffec47 46.1%,#fff055 49%,#ffff80 51.8%,#ffff96 52.5%,#ffffa2 54.3%,#ffffaf 66.5%,#ffff97 72.9%,#ffe83c 77.5%,#ffc73d 78.9%,#ff50aa 81.6%,#8f15ea 83.2%,#6507f8 84.1%,#6a09f6 84.8%,#8110ef 85.2%,#fd4fab 86.4%,#ffc53f 88.3%,#ffe33c 89.2%,#ffff80 91.9%,#ffffb9 94%,#ffffcb 96.7%,#ffffd0 99.9%)"></i><i style="left:1468.5px;background:linear-gradient(#f248b3 0%,#710bf4 2%,#6f0af5 3%,#c22dd2 3.9%,#ff52a8 4.6%,#ffc73d 6.6%,#ffe93f 7.6%,#fffe7e 10.1%,#ffff9e 11%,#ffffc3 13%,#ffffe1 19.9%,#ffffe7 26.8%,#ffffe2 31.6%,#ffffc2 37.8%,#ffffaf 39.2%,#ffff82 40.4%,#fff86c 41.7%,#ffef50 44.3%,#ffed4a 45.9%,#fff259 49.1%,#ffff80 51.6%,#ffff9e 52.7%,#ffa 54.3%,#ffffb4 66.3%,#ffffa0 71.8%,#fffe7e 73.4%,#ffe83c 77%,#ffc53f 78.8%,#ff52a8 81.6%,#cf33cc 82.5%,#6e0af5 83.9%,#6e0af5 85%,#c42ed1 85.9%,#ff53a7 86.6%,#ffc73d 88.5%,#ffe53c 89.4%,#ffff7f 92.1%,#ffffa9 93.3%,#ffffc0 94.6%,#ffffd6 99.9%)"></i><i style="left:1474.6px;background:linear-gradient(#e03dc0 0%,#6808f7 1.8%,#6708f7 3%,#c12cd3 3.9%,#ff51a9 4.6%,#ffc73d 6.6%,#ffe940 7.6%,#ffff81 10.1%,#ffffab 11.4%,#ffffc4 13%,#ffffe4 19.9%,#ffffe7 26.8%,#ffffe3 32.5%,#ffffca 38%,#ffffb5 39.6%,#fffe7e 41.3%,#fff96f 42.2%,#fff055 44.3%,#ffee4d 46.1%,#fff35c 49.1%,#ffff80 51.3%,#ffffa5 52.7%,#ffffb1 54.5%,#ffffb8 58.9%,#ffffb1 69.4%,#ffffa5 71.3%,#fffe7e 72.9%,#ffe83c 76.8%,#ffc63e 78.4%,#ff827d 80.4%,#fa4dad 81.4%,#c62fd0 82.3%,#6106f9 83.7%,#5e05fa 84.8%,#bc2ad5 85.9%,#fd4fab 86.6%,#ffc53f 88.5%,#ffe33c 89.4%,#ffff82 92.1%,#ffffad 93.3%,#ffffc4 94.7%,#ffffd8 99.9%)"></i><i style="left:1480.6px;background:linear-gradient(#e842ba 0%,#9317e8 1.1%,#5a03fc 1.8%,#5100ff 2%,#5000ff 2.8%,#8d14eb 3.5%,#fc4eac 4.6%,#ffc83c 6.6%,#ffe93f 7.6%,#ffff82 10.1%,#ffffa6 11.2%,#ffffc1 12.8%,#ffffe2 19.9%,#ffffe6 24.5%,#ffffe3 32.8%,#ffffd3 36.9%,#ffffaf 40.3%,#ffff80 41.7%,#fff460 43.5%,#ffed4c 46.3%,#fff35c 49%,#ffff7f 50.9%,#ffffa3 52.2%,#ffffaf 53.8%,#ffffad 69.4%,#ffffa6 71.1%,#fffb75 74.7%,#ffe93e 77.3%,#ffc63e 78.9%,#ff8080 80.7%,#fa4dae 81.6%,#ca30cf 82.3%,#5502fd 83.7%,#4f00ff 84.8%,#ba29d6 85.9%,#fe50ab 86.6%,#ffc83c 88.5%,#ffe03c 89.2%,#ffe93e 89.6%,#ffff80 92.1%,#ffffa5 93.1%,#ffffbe 94.6%,#ffffd7 99.9%)"></i><i style="left:1486.7px;background:linear-gradient(#ee46b6 0%,#8f15ea 1.1%,#4f00ff 1.8%,#40f 2%,#4300ff 2.8%,#9618e7 3.7%,#d436c8 4.3%,#ff56a5 4.8%,#ffc63e 6.6%,#ffe83c 7.6%,#fffe7e 10.1%,#ffffa3 11.2%,#ffffc0 12.8%,#ffffe3 19.9%,#ffffe6 24.3%,#ffffe3 32.8%,#ffffd5 36.7%,#ffffaf 40.3%,#ffff81 41.7%,#fff45e 43.6%,#ffed4b 46.3%,#fff45f 49.3%,#fffe7e 51.1%,#ff9 52%,#ffffaf 53.8%,#ffffaf 71.7%,#ffffa7 73.4%,#ffff95 74.5%,#ffe63c 78.2%,#ffc341 79.5%,#ff55a6 81.6%,#ce33cc 82.3%,#5903fc 83.6%,#4200ff 83.9%,#4200ff 84.8%,#8612ed 85.5%,#fa4dad 86.6%,#ffc83c 88.5%,#ffe83d 89.6%,#ffff81 92.2%,#ffffad 93.7%,#ffffc4 95.3%,#ffffd9 99.9%)"></i><i style="left:1492.7px;background:linear-gradient(#e742bb 0%,#8712ed 1.1%,#4a00ff 1.8%,#4500ff 2.8%,#981ae5 3.7%,#ff51a9 4.8%,#ffc63e 6.7%,#ffe83c 7.8%,#ffff94 10.5%,#ffb 12.2%,#ffffe1 19.9%,#ffffe4 25.4%,#ffffd4 36.4%,#ffffac 40.1%,#ffff80 41.3%,#fff86c 42.4%,#ffef50 44.9%,#ffed4a 46.5%,#fff35c 49.7%,#ffff80 52%,#ffffa1 53.2%,#ffa 54.6%,#ffffb4 63%,#ffffaf 71%,#ffffa4 72.7%,#ffff7f 74.3%,#ffe93f 78.1%,#ffc73d 79.3%,#fe4fab 81.6%,#c62fd0 82.3%,#5100ff 83.6%,#4300ff 83.9%,#40f 84.6%,#5301fe 85%,#8a13ec 85.5%,#f64bb0 86.6%,#ff7f80 87.3%,#ffcd3c 88.9%,#ffea41 89.9%,#ffff81 92.1%,#ffffb8 94%,#ffffce 96.7%,#ffffd7 99.9%)"></i><i style="left:1498.8px;background:linear-gradient(#e842ba 0%,#8913ec 1.1%,#4d00ff 1.8%,#4200ff 2.8%,#8d15ea 3.7%,#fc4eac 4.8%,#ffc73d 6.7%,#ffe83c 7.8%,#ffff9b 10.5%,#ffffbf 12.4%,#ffffe0 19.9%,#ffffe3 25.2%,#ffffcd 36.5%,#ffffb6 39%,#ffffa1 40.3%,#fffe7e 41.2%,#fff96d 42%,#ffed4c 45.1%,#ffec48 46.7%,#fff155 49.5%,#fffe7e 52.3%,#ffff9a 53.4%,#ffffa1 54.8%,#ffffab 67.2%,#ffff98 72.6%,#ffff7f 73.4%,#ffe83d 77.7%,#ffc73d 79.1%,#ff53a7 81.4%,#ce33cc 82.1%,#8b14eb 82.8%,#4f00ff 83.6%,#3d00ff 84.1%,#4000ff 84.8%,#5702fd 85.2%,#bc2ad5 86%,#ff51a9 86.7%,#ffcd3c 88.9%,#ffe93f 89.9%,#fffd7b 91.7%,#ffffb8 94%,#ffffcb 96.7%,#ffffd2 99.9%)"></i><i style="left:1504.8px;background:linear-gradient(#e33fbd 0%,#6206f9 1.6%,#5903fc 1.8%,#5c04fb 2.8%,#c02cd3 3.9%,#f94dae 4.6%,#ffc53f 6.9%,#ffe83d 8.2%,#ffff8b 10.1%,#ffffac 11.2%,#ffffc6 12.8%,#ffffe6 19.9%,#ffffeb 26.6%,#ffffe4 33.4%,#ffffc8 38.3%,#ffffb3 39.7%,#fffb73 42%,#fff156 44.5%,#ffee4f 46.3%,#fff561 49.3%,#ffff7f 51.3%,#ffffa7 52.7%,#ffffb3 54.5%,#ffffb2 71.5%,#ffffa6 73.3%,#ffff80 74.5%,#ffe83c 77.7%,#ffc93c 78.9%,#fa4dad 81.6%,#cb31ce 82.3%,#6306f9 83.6%,#5d04fb 84.6%,#c32dd2 85.9%,#fb4eac 86.6%,#ffc83c 88.9%,#ffe73c 89.9%,#ffff81 91.7%,#ffffaf 93.1%,#ffffc6 94.7%,#ffffd9 99.9%)"></i><i style="left:1510.9px;background:linear-gradient(#ea43b9 0%,#9116e9 1.1%,#5903fc 1.8%,#5803fc 2.8%,#c930cf 4.1%,#ff52a8 4.8%,#ffc341 6.9%,#ffe93f 8.3%,#ffff9b 11.2%,#ffffc1 13.1%,#ffffe6 19.9%,#ffffe9 26.6%,#ffffe5 31.8%,#ffffd4 36%,#ffffab 39.4%,#fffe7c 40.8%,#ffef50 44.7%,#ffed4c 46.5%,#fff25a 49.1%,#fffe7e 51.6%,#ffff9c 52.7%,#ffa 54.5%,#ffffb3 66.3%,#ffffa0 73.1%,#ffff7f 74.3%,#ffe73c 77.9%,#ffc93c 79.1%,#ff53a7 81.6%,#c32dd2 82.5%,#5b04fb 83.7%,#5903fc 84.8%,#cd32cd 86%,#ff54a6 86.7%,#ffcd3c 89.1%,#ffe93f 90.1%,#ffff82 92.2%,#ffffbc 94.6%,#ffffd5 99.9%)"></i><i style="left:1516.9px;background:linear-gradient(#f148b4 0%,#cc31ce 0.5%,#6106f9 1.8%,#5d04fb 2.8%,#ce32cd 4.1%,#ff55a5 4.8%,#ffc83c 6.9%,#ffe73c 8%,#ffff81 10.5%,#ffffa7 11.5%,#ffffc4 13.1%,#ffffe9 19.9%,#ffffea 22.4%,#ffffe3 31.2%,#ffffd3 35.5%,#ffffb1 38.9%,#fffe7e 40.4%,#fff96e 41.5%,#fff053 44.2%,#ffee4d 46.1%,#fff35c 49.1%,#fffe7e 51.6%,#ffff9e 52.9%,#ffffa8 54.5%,#ffffb7 66.3%,#ffffaf 71.7%,#ffffa3 73.4%,#ffff7f 74.7%,#ffe83c 78.1%,#ffc73d 79.3%,#fb4dad 81.8%,#c830cf 82.5%,#5c04fb 83.7%,#5a03fc 84.8%,#ce32cd 86%,#f74baf 86.6%,#ff7c83 87.3%,#ffc93c 88.9%,#ffe83c 89.9%,#ffff7f 92.2%,#ffffa4 93.3%,#ffffc2 94.9%,#ffffd5 99.9%)"></i><i style="left:1523px;background:linear-gradient(#eb44b8 0%,#8d14eb 1.1%,#4f00ff 1.8%,#4d00ff 2.8%,#9d1ce3 3.7%,#fe4fab 4.8%,#ffc63e 6.9%,#ffe73c 8%,#ffff7f 10.1%,#ffffa5 11.2%,#ffffc3 12.8%,#ffffe7 19.9%,#ffffe9 23.2%,#ffffe3 31%,#ffffd5 35.1%,#ffffae 38.7%,#ffff7f 40.1%,#fff970 41.2%,#ffef52 44.2%,#ffed4c 45.9%,#fff35c 49.3%,#ffff80 51.8%,#ffff9e 52.9%,#ffa 54.6%,#ffffb5 63.3%,#ffffaf 71.8%,#ffffa3 73.6%,#ffff7f 74.9%,#ffe83c 78.1%,#ffc63e 79.3%,#ff51a9 81.6%,#cc32cd 82.3%,#4e00ff 83.7%,#4d00ff 84.6%,#8f15ea 85.5%,#ff51a9 86.7%,#ffcc3c 89.1%,#ffea41 90.1%,#ffff85 92.2%,#ffa 93.3%,#ffffc1 94.6%,#ffffd6 99.9%)"></i><i style="left:1529px;background:linear-gradient(#ec45b7 0%,#991ae5 0.9%,#5502fd 1.6%,#4c00ff 2.7%,#9317e8 3.5%,#ff51a9 4.8%,#ffc341 6.9%,#ffe83d 8.2%,#ffff9e 10.8%,#ffffc3 12.8%,#ffffe6 19.9%,#ffffe9 26.6%,#ffffd4 34.9%,#ffa 38.3%,#fffe7c 39.7%,#ffef52 44.2%,#ffef50 47.7%,#fff259 49.3%,#fffe7e 52%,#ffff9d 53%,#ffa 54.8%,#ffffb1 67.9%,#ffff9e 73.6%,#ffff80 74.7%,#ffe93e 78.2%,#ffc73d 79.5%,#ff54a6 81.6%,#cb31ce 82.3%,#5000ff 83.6%,#4a00ff 84.6%,#9317e8 85.5%,#ff52a8 86.7%,#ffcb3c 89.1%,#ffe93e 90.1%,#ffff86 92.1%,#ffffc2 94.4%,#ffffd7 99.9%)"></i><i style="left:1535.1px;background:linear-gradient(#f64bb0 0%,#cd32cd 0.5%,#6607f8 1.6%,#5e05fa 2.7%,#d034cb 4.1%,#ff53a8 4.8%,#ffc440 7.1%,#ffe73c 8.3%,#ffff87 9.9%,#ffffa7 10.8%,#ffffc3 12.4%,#ffffe8 19.9%,#ffffea 25%,#ffffd4 34.6%,#ffffbe 37.1%,#ffffa7 38.3%,#ffff80 39.4%,#fff96f 40.6%,#fff35e 42.6%,#fff054 45.9%,#fff667 50.2%,#ffff81 52.2%,#ffff9c 53%,#ffffab 55%,#ffffae 72%,#ffffa2 73.8%,#ffff7f 75%,#ffe93f 78.4%,#ffc53f 79.7%,#ff51a9 81.8%,#c72fd0 82.5%,#6005fa 83.6%,#5a03fc 84.6%,#cf33cb 86%,#ff53a8 86.7%,#ffcc3c 89.2%,#ffe83d 90.3%,#ffff84 91.7%,#ffffa9 92.8%,#ffffc3 94.2%,#ffffd9 99.9%)"></i><i style="left:1541.1px;background:linear-gradient(#ff50aa 0%,#c830cf 0.7%,#740cf3 1.6%,#6b09f6 2.7%,#c830cf 3.9%,#ff55a5 4.8%,#ffc53f 7.1%,#ffe73c 8.3%,#ff8 9.8%,#ffffac 10.8%,#ffffc3 12.2%,#ffffe7 19.9%,#ffffea 23.9%,#ffffd6 34.2%,#ffffae 38%,#ffff80 39.4%,#fffa72 40.4%,#fff055 43.8%,#ffee4f 45.9%,#fff35e 49.3%,#fffe7e 52%,#ffff9c 53%,#ffffa9 54.8%,#ffffb4 68.1%,#ffffad 72.2%,#ffff9d 74.2%,#fffe7e 75.2%,#ffe73c 78.6%,#ffc83c 79.7%,#fa4dad 82%,#c22dd2 82.7%,#710bf4 83.6%,#6b09f6 84.6%,#cc32cd 85.9%,#fd4fab 86.6%,#ffcd3c 89.2%,#ffe83c 90.3%,#fffe7e 91.5%,#ffa 92.8%,#ffffc3 94.4%,#ffffd7 99.9%)"></i><i style="left:1547.2px;background:linear-gradient(#e943b9 0%,#9719e6 0.9%,#5803fc 1.6%,#5a03fc 2.7%,#c62fd0 3.9%,#fa4dae 4.6%,#ffc83c 7.1%,#ffe63c 8.2%,#ff8 9.8%,#ffffa7 10.6%,#ffffc3 12.2%,#ffffe4 19.9%,#ffffe9 25.4%,#ffffd3 34.2%,#ffa 37.8%,#fffe7d 39.2%,#ffef52 44%,#ffee4d 45.9%,#fff25a 49.1%,#fffe7e 52%,#ffff9f 53.2%,#ffffa9 54.8%,#ffffb4 67.9%,#ffff9e 73.6%,#fffe7e 74.9%,#ffe93e 78.2%,#ffc63e 79.5%,#ff54a6 81.6%,#cd32cd 82.3%,#6808f7 83.4%,#5f05fa 83.6%,#6005fa 84.4%,#d034cb 85.9%,#ff52a8 86.6%,#ffca3c 89.1%,#ffea41 90.3%,#ffff7f 91.5%,#ffffa6 92.6%,#ffffbf 94%,#ffffd1 96.9%,#ffffd5 99.9%)"></i><i style="left:1553.3px;background:linear-gradient(#e33fbe 0%,#9016e9 0.9%,#5301fe 1.6%,#5201fe 2.7%,#c12cd3 3.9%,#f94cae 4.6%,#ffc440 6.9%,#ffe83d 8.2%,#ffff86 9.6%,#ffa 10.6%,#ffffc6 12.2%,#ffffe5 19.9%,#ffffea 26.6%,#ffffd6 33.9%,#ffffc1 36.4%,#ffffa8 38%,#fffe7e 39.2%,#fff054 44%,#ffef50 46.1%,#fff35e 49.3%,#ffff7f 52%,#ffffa4 53.4%,#ffffad 55%,#ffffb3 67.6%,#ffffa3 72.9%,#ffff81 74.3%,#ffe83c 78.2%,#ffc341 79.5%,#ff51a9 81.6%,#ca31ce 82.3%,#6507f8 83.4%,#5702fd 83.7%,#5803fc 84.4%,#9518e7 85.3%,#fd4fac 86.6%,#ffcb3c 89.1%,#ffe83c 90.1%,#ffff85 91.5%,#ffffa9 92.6%,#ffffc2 94%,#ffffd5 99.9%)"></i><i style="left:1559.3px;background:linear-gradient(#f74baf 0%,#7a0ef1 1.6%,#760df2 2.8%,#d034cb 3.9%,#ff51a9 4.6%,#ffc341 6.9%,#ffe63c 8.2%,#ffff89 9.6%,#ffffad 10.6%,#ffffc8 12.2%,#ffffe6 19.9%,#ffffeb 26.8%,#ffffe4 30.7%,#ffffc6 36.5%,#ffffae 38.1%,#fffe7e 39.7%,#fff460 42.6%,#ffee4f 45.8%,#fff460 49.7%,#ffff7f 52.2%,#ffffa5 53.6%,#ffffaf 55.2%,#ffffb3 66.9%,#ffffa5 71.8%,#ffff7f 73.6%,#ffe83d 78.1%,#ffc53f 79.5%,#ff54a7 81.8%,#d335c9 82.5%,#790ef1 83.6%,#750cf3 84.6%,#c72fd0 85.7%,#fa4dae 86.4%,#ff817e 87.3%,#ffcc3c 89.1%,#ffe73c 90.1%,#ffff86 91.5%,#ffffa5 92.4%,#ffffc2 94%,#ffffd5 99.9%)"></i><i style="left:1565.4px;background:linear-gradient(#fa4dae 0%,#8712ed 1.6%,#7e0ff0 2.8%,#cd32cd 3.9%,#ff55a5 4.8%,#ffc83c 7.3%,#ffe93f 8.5%,#ffff85 9.6%,#ffffa6 10.5%,#ffffc4 12.1%,#ffffe4 19.9%,#ffffe9 26.8%,#ffffd5 34.6%,#ffffc2 37.1%,#ffa 38.7%,#fffe7d 40.1%,#fff054 44.3%,#ffee4f 46.3%,#fff35c 49.7%,#ffff80 52.5%,#ffffa0 53.6%,#ffffae 55.3%,#ffffae 68.3%,#ffffa4 71%,#ffff80 72.6%,#ffe73c 77.9%,#ffc440 79.3%,#ff54a6 81.8%,#cd32cd 82.7%,#8712ed 83.6%,#8311ee 84.6%,#cb31ce 85.7%,#ff55a5 86.6%,#ffc73d 89.1%,#ffd63c 89.6%,#ffe73c 90.3%,#ffff7f 91.4%,#ffffa5 92.4%,#ffffbf 93.8%,#ffffd1 96.7%,#ffffd6 99.9%)"></i><i style="left:1571.4px;background:linear-gradient(#e23fbe 0%,#8512ed 1.2%,#710bf4 1.8%,#710bf4 2.5%,#9518e7 3.2%,#fd4fab 4.6%,#ffc341 7.1%,#ffe53c 8.3%,#ffff86 9.4%,#ffffa9 10.5%,#ffffc2 11.9%,#ffffe5 19.9%,#ffffea 26.8%,#ffffe3 31.4%,#ffffc1 37.6%,#ffa 39%,#fffe7f 40.3%,#fff055 44.3%,#fff25b 49%,#ffff7f 52%,#ffffa1 53.6%,#ffffb5 59.8%,#ffffa1 70.6%,#ffff7f 72%,#ffe83d 77.3%,#ffc93c 78.8%,#ff55a6 81.4%,#cd32cd 82.3%,#8813ec 83.2%,#780df2 83.7%,#780df2 84.3%,#9116e9 85%,#fa4dad 86.4%,#ffb54f 88.5%,#ffd23c 89.4%,#ffe73c 90.3%,#ffff7f 91.2%,#ffffac 92.4%,#ffffc4 94%,#ffffd8 99.9%)"></i><i style="left:1577.5px;background:linear-gradient(#de3cc1 0%,#8311ee 1.2%,#760df2 1.6%,#760df2 2.5%,#cb31ce 3.7%,#ff55a6 4.6%,#ffc63e 7.1%,#ffe53c 8.3%,#ffff80 9.2%,#ffffa4 10.3%,#ffffbf 11.9%,#ffffe6 19.9%,#ffffe9 26.8%,#ffffd6 35.5%,#ffffae 39%,#ffff83 40.3%,#fffa71 41.3%,#ffee4f 45.9%,#fff35d 49%,#ffff80 51.3%,#ffff9e 52.5%,#ffffb4 60%,#ffffb0 65.6%,#ffff9e 70.4%,#ffff7f 71.7%,#ffe83c 77.2%,#ffc83c 78.6%,#fd4fab 81.4%,#8512ed 83.2%,#7a0ef1 83.6%,#7a0ef1 84.3%,#8913ec 84.8%,#fd4fab 86.4%,#ffb74d 88.5%,#ffd33c 89.4%,#ffe93e 90.3%,#fffe7e 91%,#ffffac 92.2%,#ffffc5 93.8%,#ffffd7 99.9%)"></i><i style="left:1583.5px;background:linear-gradient(#ee46b6 0%,#8d15ea 1.6%,#9217e8 2.8%,#ff51a9 4.4%,#ffc63e 7.1%,#ffe93e 8.5%,#ffff82 9.4%,#ffffa1 10.3%,#ffffbf 11.9%,#ffffe5 19.9%,#ffffe8 26.8%,#ffffd1 36.2%,#ffa 39.2%,#fffe7e 40.4%,#fff86d 41.5%,#ffee4c 45.8%,#fff25b 48.6%,#ffff7f 50.7%,#ffffa1 52%,#ffffb3 61.4%,#ffff9f 70.4%,#ffff7f 71.7%,#ffe73c 77.2%,#ffc53f 78.8%,#fc4eac 81.8%,#9016e9 83.6%,#8e15ea 84.8%,#fb4eac 86.4%,#ffc73d 89.1%,#ffe63c 90.3%,#ff8 91.4%,#ffffa7 92.2%,#ffffc1 93.7%,#ffffd8 99.9%)"></i><i style="left:1589.6px;background:linear-gradient(#e33fbe 0%,#8512ed 1.6%,#8a13ec 2.8%,#fb4ead 4.4%,#ffc440 7.1%,#ffe83c 8.5%,#fffd79 9.2%,#ffffa0 10.3%,#ffffc1 11.9%,#ffffe4 19.9%,#ffffe6 26.8%,#ffffd2 36%,#ffffb8 38.5%,#ffff7f 40.4%,#fff86c 41.5%,#ffee4f 44.5%,#ffed4b 45.9%,#fff25a 48.4%,#ffff7f 50.7%,#ffff9b 51.6%,#ffffa8 53.4%,#ffffad 65.3%,#ffff9c 70.4%,#ffff7f 71.5%,#ffe73c 76.8%,#ffc63e 78.4%,#ff51a9 81.4%,#8a13ec 83.4%,#8512ed 84.6%,#fa4dad 86.4%,#ffba4a 88.7%,#ffd43c 89.6%,#ffe93e 90.5%,#fffd7c 91.2%,#ffffa2 92.2%,#ffffc1 93.8%,#ffffd1 96.5%,#ffffd3 99.9%)"></i><i style="left:1595.6px;background:linear-gradient(#e13ebf 0%,#8010ef 1.6%,#8010ef 2.8%,#d134ca 3.9%,#ff50aa 4.6%,#ffc53f 7.1%,#ffe73c 8.3%,#ffff82 9.2%,#ffffa7 10.3%,#ffffc4 11.9%,#ffffe6 19.9%,#ffffe7 26.6%,#ffffe5 32.1%,#ffffd5 36.2%,#ffffab 39.7%,#ffff7f 41%,#ffef52 44.7%,#ffee4f 46.1%,#fff35c 48.4%,#fffe7e 50.6%,#ffffa1 51.8%,#ffffae 53.6%,#ffffb0 64.9%,#ffff9e 69.9%,#ffff80 71.1%,#ffe73c 76.6%,#ffc53f 78.2%,#ff51a9 81.2%,#c72fd0 82.3%,#8211ee 83.4%,#7b0ef1 84.6%,#c32dd2 85.7%,#ff51a9 86.6%,#ffb351 88.5%,#ffd03c 89.4%,#ffe73c 90.3%,#ffff82 91.2%,#ffffa7 92.2%,#ffffc1 93.7%,#ffffd2 99.9%)"></i><i style="left:1601.7px;background:linear-gradient(#e943b9 0%,#9a1ae5 1.4%,#9217e8 2.7%,#cb31ce 3.5%,#ff54a6 4.4%,#ffc63e 6.9%,#ffe63c 8.2%,#ffff8b 9.4%,#ffffa8 10.3%,#ffffc4 11.9%,#ffffe5 19.9%,#ffffe9 26.6%,#ffffd5 36.5%,#ffffbf 39%,#ffffa7 40.3%,#ffff7f 41.3%,#fff055 44.7%,#fff053 46.3%,#fff561 48.6%,#fffe7e 50.6%,#ffffa5 52%,#ffffaf 53.6%,#ffffb2 64.9%,#ffff9e 69.7%,#fffe7d 71%,#ffe83d 76.6%,#ffc83c 78.2%,#ff51a9 81.4%,#9317e8 83.4%,#8b14eb 84.4%,#9c1be4 85%,#ff50aa 86.4%,#ffc440 88.9%,#ffe43c 90.1%,#ffff7f 91.2%,#ffffa5 92.2%,#ffffbf 93.7%,#ffffd4 99.9%)"></i><i style="left:1607.7px;background:linear-gradient(#eb44b8 0%,#981ae5 1.4%,#9317e8 2.7%,#fe4fab 4.3%,#ffc440 6.7%,#ffe83d 8.2%,#ffff85 9.8%,#ffffa4 10.6%,#ffffc1 12.2%,#ffffe2 19.9%,#ffffe6 26.8%,#ffffd0 36.9%,#ffffb6 39.4%,#fff86c 42.4%,#ffef51 45.2%,#fff259 48.8%,#ffff80 51.8%,#ffffa2 53.8%,#ffffaf 58%,#ffffad 64.9%,#ffff98 69.7%,#fffc76 71.1%,#ffe83c 76.8%,#ffc63e 78.6%,#fd4fac 81.6%,#9719e6 83.4%,#9317e8 84.4%,#ff51a9 86.2%,#ffc440 88.7%,#ffe43c 89.9%,#fffe7c 91.5%,#ffffb8 93.8%,#ffc 96.7%,#ffffd2 99.9%)"></i><i style="left:1613.8px;background:linear-gradient(#f84caf 0%,#9f1de2 1.6%,#a01de2 2.8%,#ff54a6 4.4%,#ffc63e 7.1%,#ffe73c 8.5%,#fffe7e 10.6%,#ffffb0 12.2%,#ffffc5 13.8%,#ffffe3 19.9%,#ffffe8 26.6%,#ffffe2 33%,#ffffd0 37.3%,#ffffb7 39.7%,#fffe7d 41.9%,#ffee4e 45.2%,#fff054 48.3%,#ffffa0 53.6%,#ffffb1 61.2%,#ffff9f 69.7%,#fffb75 72.2%,#ffe83c 77.2%,#ffc83c 78.8%,#ff51a9 81.8%,#a41fe0 83.4%,#a01de2 84.6%,#ff50aa 86.2%,#ffc440 88.9%,#ffe23c 90.1%,#fffe7e 92.6%,#ffffaf 94.2%,#ffffc8 96.3%,#ffffd3 99.9%)"></i><i style="left:1619.8px;background:linear-gradient(#ff54a7 0%,#bd2bd4 1.4%,#bc2ad5 2.8%,#ff55a5 4.3%,#ffc73d 7.3%,#ffe83c 8.9%,#ffff7f 11.7%,#ffffaf 13.3%,#ffffc3 14.7%,#ffffe5 19.9%,#ffffea 26.8%,#ffffe4 33.5%,#ffffd2 37.6%,#ffffba 40.1%,#ffffa1 41.3%,#fffe7e 42.2%,#ffef4f 45.1%,#fff052 47.4%,#ffff9c 51.1%,#ffffa4 52.3%,#ffffb1 64.6%,#ffff9c 71.1%,#ffff80 72.2%,#ffe83c 77%,#ffc73d 78.8%,#ff53a8 82%,#bb2ad5 83.4%,#ba29d6 84.6%,#fe4fab 86%,#ffc83c 89.2%,#ffe63c 90.7%,#fffe7e 93.7%,#ffffb8 95.8%,#ffffd2 99.9%)"></i><i style="left:1625.9px;background:linear-gradient(#fe4fab 0%,#b728d7 1.4%,#b728d7 2.7%,#fe50aa 4.1%,#ffc73d 7.1%,#ffe93f 8.7%,#fffe7e 11.2%,#ffffa8 12.8%,#ffffc1 14.7%,#ffffe4 19.9%,#ffffe8 26.8%,#ffffe1 33%,#ffffcd 37.6%,#ffffb1 40.1%,#fffe7d 41.9%,#ffee4c 45.1%,#fff155 47.9%,#ffff95 51.1%,#ffff9d 52.3%,#ffffaf 64.8%,#ffff96 71.1%,#fffe7c 72.2%,#ffe83c 77%,#ffc73d 78.8%,#ff51a9 82%,#bb2ad5 83.4%,#bc2ad5 84.6%,#ff53a7 86%,#ffc63e 89.1%,#ffe83c 90.7%,#ffff7f 93.3%,#ffffaf 95.1%,#ffffc3 96.9%,#ffffce 99.9%)"></i><i style="left:1632px;background:linear-gradient(#fd4fab 0%,#b628d7 1.4%,#b728d7 2.7%,#ff54a7 4.1%,#ffc83c 6.9%,#ffe83c 8.3%,#ffff7f 10.1%,#ffffa0 11%,#ffffc1 12.8%,#ffffe3 19.9%,#ffffe8 26.8%,#ffffdf 33%,#ffffc3 38.3%,#ffa 40.1%,#fffa70 42%,#ffee4e 44.9%,#fff156 47.7%,#ffff98 51.1%,#ffffa2 52.5%,#ffffb0 65.1%,#ffff9b 71.3%,#ffe83d 77%,#ffc83c 78.8%,#ff54a6 82%,#c02cd3 83.4%,#bf2cd3 84.6%,#ff51a9 85.9%,#ffc53f 88.7%,#ffe63c 90.1%,#ffff7f 92.1%,#ffffa4 93.1%,#ffffbe 94.6%,#ffffd2 99.9%)"></i><i style="left:1638px;background:linear-gradient(#fe4fab 0%,#a2d 1.6%,#ab23dc 2.8%,#fe4fab 4.1%,#ffc93c 6.7%,#ffe73c 8%,#ffff7f 9.9%,#ffffa5 11%,#ffffc2 12.6%,#ffffe4 19.9%,#ffffea 26.8%,#ffffd5 36.2%,#ffb 38.9%,#fff96e 42%,#fff053 44.9%,#fff25a 47.9%,#ffff7f 50.9%,#ffffa3 53%,#ffa 54.6%,#ffffaf 66.3%,#ffffa0 71.5%,#ffff80 73.1%,#ffe73c 77.2%,#ffc73d 78.8%,#ff50aa 82%,#b025da 83.6%,#b024db 84.6%,#ff53a7 86%,#ffc440 88.5%,#ffe73c 89.9%,#fffe7e 91.9%,#ffffa4 93%,#ffffbe 94.4%,#ffffd5 99.9%)"></i><i style="left:1644.1px;background:linear-gradient(#fe4fab 0%,#9116e9 1.6%,#8c14eb 2.7%,#ca30cf 3.5%,#ff55a6 4.4%,#ffc440 6.7%,#ffe83d 8.2%,#ffff9c 11%,#ffffbf 12.8%,#ffffe6 19.9%,#ffffe9 26.8%,#ffffe3 32.3%,#ffffd3 36.2%,#ffffbc 38.7%,#fff86b 42%,#ffef51 44.9%,#fff25a 48.8%,#fffe7e 51.4%,#ffffa0 53%,#ffffa5 53.9%,#ffffae 65.1%,#ffffa2 71.5%,#fffe7e 73.6%,#ffe83d 77.5%,#ffc53f 79.1%,#ff51a9 81.8%,#8c14eb 83.6%,#8d14eb 84.6%,#fd4fab 86.2%,#ffc73d 88.7%,#ffe43c 89.8%,#ffff81 92.1%,#ffffa6 93.1%,#ffffc0 94.6%,#ffffd4 99.9%)"></i><i style="left:1650.1px;background:linear-gradient(#af24db 0%,#40f 0.9%,#2100ff 1.2%,#1800ef 1.4%,#1700ee 2.3%,#1e00fe 2.5%,#6005fa 3.2%,#c62fd0 4.1%,#f94dae 4.6%,#ffc83c 6.7%,#ffe83c 8%,#ffff9b 10.8%,#ffffbd 12.6%,#ffffd3 17.9%,#ffffe7 19.9%,#ffffeb 26.8%,#ffffe6 32.8%,#ffffc4 39%,#ffa 40.4%,#ffff82 41.5%,#fff86c 42.6%,#fff054 44.7%,#ffee4f 46.1%,#fff461 48.8%,#ffffa2 52%,#ffffb7 53.8%,#ffffb8 72%,#ffff97 74.3%,#ffe93e 78.1%,#ffc73d 79.3%,#ff7887 80.7%,#f74baf 81.2%,#be2bd4 81.8%,#5100ff 82.7%,#1e00ff 83.2%,#1800f0 83.4%,#1900f2 84.3%,#2300ff 84.4%,#5301fe 85%,#cd32cd 86%,#fe4fab 86.6%,#ffc83c 88.7%,#ffe93f 90.1%,#ffff9d 92.8%,#ffffbd 94.4%,#ffffd6 99.9%)"></i><i style="left:1656.2px;background:linear-gradient(#bd2ad5 0%,#5201fe 0.9%,#20f 1.4%,#20f 2.3%,#5702fd 3%,#8d15ea 3.5%,#f64bb0 4.6%,#ff7d82 5.3%,#ffc83c 6.9%,#ffe73c 8.2%,#ffff9d 11%,#ffffbe 12.8%,#ffffe7 19.9%,#ffffec 26.8%,#ffffe7 33%,#ffffc5 39.2%,#ffffab 40.6%,#fff86b 42.8%,#ffef50 44.7%,#ffed4b 45.9%,#fff35b 48.1%,#ffffa1 50.9%,#ffffb8 52.7%,#ffffb8 72.6%,#ffff96 74.9%,#ffe83c 78.2%,#ffc242 79.5%,#ff50aa 81.2%,#c930cf 81.8%,#5b04fb 82.7%,#1c00fb 83.4%,#1d00fc 84.3%,#5301fe 85%,#8a13ec 85.5%,#f44ab1 86.6%,#ff54a6 86.7%,#ff7b83 87.3%,#ffcc3c 89.1%,#ffe83c 90.3%,#fffe7c 92.1%,#ffffa1 93.1%,#ffffbd 94.6%,#ffffd3 99.9%)"></i><i style="left:1662.2px;background:linear-gradient(#d336c9 0%,#4c00ff 1.2%,#2f00ff 1.8%,#30f 2.5%,#5502fd 3%,#8b14eb 3.5%,#d637c7 4.3%,#ff53a7 4.8%,#ffc83c 6.9%,#ffe93e 8.2%,#ffff7f 10.3%,#ffffa4 11.4%,#ffffc3 13.1%,#ffffe8 19.9%,#ffffed 26.8%,#ffffe6 33.2%,#ffffc7 39.4%,#ffffa8 41%,#fff769 42.9%,#ffed4c 44.7%,#ffea43 46.1%,#ffee4d 47.9%,#fffe7d 50.4%,#ffa 52.2%,#ffffb9 53.9%,#ffffbf 64.2%,#ffffb5 73.1%,#ffff98 75.2%,#ffe73c 78.4%,#ffc83c 79.5%,#ff54a7 81.4%,#be2bd4 82.1%,#5903fc 83%,#3200ff 83.6%,#2d00ff 84.3%,#5201fe 85%,#8712ed 85.5%,#ff50aa 86.7%,#ffcb3c 89.1%,#ffe93f 90.3%,#ffff83 92.4%,#ffffa4 93.3%,#ffffbf 94.7%,#ffffd4 99.9%)"></i><i style="left:1668.3px;background:linear-gradient(#d335c9 0%,#4b00ff 1.2%,#3000ff 1.8%,#30f 2.5%,#5401fe 3%,#8813ec 3.5%,#fe4fab 4.8%,#ffc341 6.9%,#ffe73c 8.2%,#ffff7f 10.6%,#ffffa5 11.7%,#ffffc3 13.3%,#ffffe9 19.9%,#ffffed 26.8%,#ffffe6 33.4%,#ffffc4 39.6%,#ffffa9 41%,#ffff81 42%,#fff053 44%,#ffe83d 46.3%,#ffee4e 49%,#ffff80 51.4%,#ffff9e 52.5%,#ffffb6 54.3%,#ffffbd 63.7%,#ffffb3 73.6%,#ffff97 75.6%,#ffe93d 78.4%,#ffca3c 79.5%,#ff817e 80.9%,#f74baf 81.6%,#9b1be4 82.5%,#4e00ff 83.2%,#3400ff 83.7%,#30f 84.3%,#5803fc 85%,#8b14eb 85.5%,#fe50aa 86.7%,#ffca3c 89.1%,#ffe93f 90.3%,#ffff82 92.6%,#ffffa7 93.7%,#ffffbe 94.9%,#ffffd3 99.9%)"></i><i style="left:1674.3px;background:linear-gradient(#d336c9 0%,#5201fe 1.2%,#4600ff 1.4%,#4800ff 2.5%,#c12dd2 3.9%,#ff54a7 4.8%,#ffc440 7.1%,#ffe93e 8.5%,#ffff80 10.8%,#ffffa1 11.7%,#ffffc6 13.7%,#ffffe7 19.9%,#ffffed 26.8%,#ffffe0 35.3%,#ffffc5 39.4%,#ffffa9 41%,#ffff82 42%,#fff053 44%,#ffe83c 46.3%,#ffee4f 49.1%,#ffff7f 51.4%,#ffff9e 52.5%,#ffffb7 54.3%,#ffffc0 59.4%,#ffffb7 73.8%,#ffff9f 75.6%,#ffff86 76.5%,#ffe940 78.2%,#ffc242 79.5%,#ff51aa 81.4%,#c12cd3 82.1%,#5201fe 83.2%,#4800ff 83.4%,#4800ff 84.3%,#9317e8 85.3%,#f84caf 86.6%,#ff817e 87.5%,#ffca3c 89.2%,#ffe83d 90.5%,#ffff7f 92.8%,#ffffa4 93.8%,#ffffbf 95.3%,#ffffd5 99.9%)"></i><i style="left:1680.4px;background:linear-gradient(#e03dc0 0%,#5502fd 1.4%,#4c00ff 2.5%,#8a13ec 3.4%,#ff50aa 4.8%,#ffc83c 7.3%,#ffe83c 8.5%,#ffff82 11.2%,#ffffa2 12.1%,#ffffc3 13.8%,#ffffe7 19.9%,#ffffec 26.8%,#ffffde 35.5%,#ffffc7 39%,#ffa 40.6%,#fff563 42.9%,#ffeb44 44.9%,#ffe83c 46.1%,#ffee4e 49.1%,#ffff80 51.4%,#ffff9f 52.5%,#ffffb7 54.3%,#ffffbe 67.6%,#ffffb6 74%,#ffffa0 75.6%,#ffff87 76.5%,#ffe940 78.2%,#ffc440 79.5%,#f84caf 81.6%,#9117e8 82.7%,#4e00ff 83.4%,#4600ff 84.4%,#9518e7 85.5%,#fd4fac 86.7%,#ff7d82 87.5%,#ffc93c 89.2%,#ffe83d 90.5%,#ffff80 93.1%,#ffffbc 95.4%,#ffffd4 99.9%)"></i><i style="left:1686.4px;background:linear-gradient(#d637c7 0%,#8e15ea 0.7%,#4c00ff 1.4%,#40f 2.5%,#9418e7 3.5%,#fe50ab 4.8%,#ffc440 7.1%,#ffe83d 8.5%,#ffff7f 11.4%,#ffffa5 12.4%,#ffffc2 14%,#ffffe8 19.9%,#ffffeb 26.8%,#ffffe5 32.6%,#ffffca 38.1%,#ffffb5 39.6%,#ffff80 41.2%,#fff157 43.1%,#ffe83d 46.3%,#fff053 49.3%,#ffff80 51.6%,#ffffa2 52.9%,#ffffb7 54.6%,#ffffb9 73.6%,#ffffa1 75.4%,#ffff87 76.3%,#ffe83d 78.1%,#ffc53f 79.3%,#ff50aa 81.4%,#c32dd2 82.1%,#5803fc 83.2%,#4300ff 83.6%,#4200ff 84.4%,#9418e7 85.5%,#ff51a9 86.7%,#ffc93c 89.1%,#ffea41 90.3%,#fffe7e 93.1%,#ffffa6 94.4%,#ffffc1 96%,#ffffd2 99.9%)"></i><i style="left:1692.5px;background:linear-gradient(#d839c5 0%,#6106f9 1.4%,#6206f9 2.5%,#c32ed1 3.7%,#ff51a9 4.6%,#ffc93c 7.3%,#ffe93e 8.7%,#fffe7e 11.5%,#ffffa3 12.6%,#ffffbf 14.2%,#ffffe7 19.9%,#ffffec 26.8%,#ffffe6 31.8%,#ffffc5 37.6%,#ffffad 39%,#ffff82 40.3%,#fff561 41.9%,#ffeb44 44.2%,#ffe83c 45.8%,#ffea42 47.9%,#ffef51 49.3%,#fffe7e 51.8%,#ffffa0 53%,#ffffb7 54.8%,#ffffbe 69%,#ffffb7 73.4%,#ffffa1 75%,#fffd79 76.5%,#ffe83c 77.9%,#ffc63e 79.1%,#ff51a9 81.4%,#cd32cd 82.1%,#6c09f6 83.2%,#6507f8 84.4%,#c830cf 85.7%,#ff54a6 86.6%,#ffc83c 89.1%,#ffe940 90.5%,#ffff7f 93.3%,#ffffa4 94.4%,#ffffc1 96%,#ffffd3 99.9%)"></i><i style="left:1698.5px;background:linear-gradient(#de3cc1 0%,#770df2 1.2%,#6708f7 1.6%,#6607f8 2.5%,#c930cf 3.9%,#ff54a7 4.8%,#ffc53f 7.3%,#ffe73c 8.7%,#ffff81 11.7%,#ffffa1 12.6%,#ffffc0 14.2%,#ffffe8 19.9%,#ffffec 26.6%,#ffffe3 32.3%,#ffffc2 37.4%,#ffffa3 39%,#ffff80 39.9%,#fff666 41.3%,#ffeb44 44.2%,#ffe83d 45.9%,#ffef51 49.3%,#ffff81 52.2%,#ffff9b 53%,#ffffb1 54.6%,#ffffba 63.7%,#ffffb4 73.3%,#ffff95 75.2%,#ffe83d 77.7%,#ffc83c 78.9%,#fe4fab 81.4%,#cc32cd 82.1%,#6e0af5 83.2%,#5f05fa 83.6%,#5e05fa 84.4%,#c72fd0 85.9%,#f84caf 86.6%,#ff807f 87.5%,#ffc93c 89.2%,#ffe83c 90.5%,#ffff80 93.5%,#ffffa1 94.4%,#ffffbd 95.8%,#ffffcf 99.9%)"></i><i style="left:1704.6px;background:linear-gradient(#d637c7 0%,#5b04fb 1.4%,#5201fe 1.6%,#5100ff 2.7%,#c72fd0 4.1%,#fa4dad 4.8%,#ffc73d 7.3%,#ffe83c 8.5%,#ffff82 11.2%,#ffffab 12.4%,#ffffc4 13.8%,#ffffea 19.9%,#ffffec 24.7%,#ffffd9 35.1%,#ffffc3 37.6%,#ffffac 38.9%,#ffff80 40.1%,#fff96e 41.2%,#ffed4c 44.2%,#ffeb44 45.9%,#fff156 49.1%,#ffff80 51.6%,#ffffa3 52.9%,#ffffb9 54.6%,#ffffba 72.6%,#ffff9c 74.9%,#ffe73c 77.7%,#ffc341 78.9%,#fe4fab 81.2%,#cb31ce 82%,#4e00ff 83.4%,#4800ff 84.4%,#9418e7 85.5%,#fd4fab 86.7%,#ff7e81 87.5%,#ffca3c 89.2%,#ffe83c 90.3%,#ffff82 93.1%,#ffffa6 94.2%,#ffffbf 95.6%,#ffffd2 99.9%)"></i><i style="left:1710.7px;background:linear-gradient(#d436c8 0%,#5d04fb 1.4%,#5a03fc 2.5%,#ca31ce 3.9%,#fb4ead 4.6%,#ffc440 7.1%,#ffe93f 8.5%,#ffff80 10.8%,#ffffa6 11.9%,#ffffc6 13.7%,#ffffe9 19.9%,#ffffed 26.6%,#ffd 34.2%,#ffc 36.7%,#ffffb3 38.3%,#fffb73 40.6%,#fff259 42.8%,#ffed4a 45.8%,#fff45e 49.1%,#ffff81 51.3%,#ffffa4 52.5%,#ffffbc 54.5%,#ffffb9 72%,#ffff9d 74.3%,#ffe940 77.5%,#ffc93c 78.8%,#ff50aa 81.2%,#cc32cd 82%,#5f05fa 83.2%,#5602fd 83.4%,#5502fd 84.4%,#c930cf 85.9%,#fb4ead 86.6%,#ff837d 87.5%,#ffca3c 89.2%,#ffe93e 90.5%,#ffff7f 92.8%,#ffffa9 94%,#ffffbf 95.3%,#ffffd4 99.9%)"></i><i style="left:1716.7px;background:linear-gradient(#d034cb 0%,#6908f7 1.2%,#6507f8 2.5%,#cc31ce 3.7%,#fc4eac 4.4%,#ffc440 6.9%,#ffe83c 8.3%,#ffff81 10.6%,#ffffa1 11.5%,#ffffc4 13.3%,#ffffe8 19.9%,#ffffed 26.6%,#ffd 33.7%,#ffc 36.2%,#ffffb3 37.8%,#ffff80 39.4%,#fffb73 40.3%,#fff055 43.3%,#ffee4e 45.6%,#fff561 48.8%,#ffff7f 50.7%,#ffffa6 52.2%,#ffffbd 54.1%,#ffb 71.5%,#ffff9b 73.8%,#ffff7f 74.7%,#ffe63c 77.3%,#ffc83c 78.6%,#fc4eac 81.2%,#cc32cd 82%,#6306f9 83.2%,#5d04fb 84.4%,#c42ed1 85.7%,#ff53a7 86.6%,#ff8779 87.5%,#ffcc3c 89.2%,#ffe940 90.5%,#ffff82 92.6%,#ffffa3 93.5%,#ffffc2 95.1%,#ffffd6 99.9%)"></i><i style="left:1722.8px;background:linear-gradient(#cf33cc 0%,#6306f9 1.4%,#6005fa 2.5%,#c32dd2 3.7%,#ff54a6 4.6%,#ffc53f 6.9%,#ffe73c 8.2%,#fffe7e 10.3%,#ffffa4 11.4%,#ffffc5 13.1%,#ffffea 19.9%,#ffffed 26.6%,#ffd 33.7%,#ffffca 36.2%,#ffffaf 37.8%,#ffff83 39%,#fffb73 40.1%,#fff053 43.5%,#ffee4d 45.4%,#fff35d 48.4%,#fffe7e 50.6%,#ffffa5 52%,#ffffba 53.8%,#ffffc2 63.5%,#ffffba 71%,#ffff9a 73.3%,#ffe83c 77%,#ffc73d 78.4%,#ff51a9 81.1%,#c42ed1 82%,#5f05fa 83.2%,#5702fd 83.4%,#5401fe 84.4%,#cb31ce 85.9%,#ff50aa 86.6%,#ffcb3c 89.1%,#ffe83c 90.1%,#ffff82 92.2%,#ffffad 93.5%,#ffffc6 95.1%,#ffffd7 99.9%)"></i><i style="left:1728.8px;background:linear-gradient(#ce32cd 0%,#6e0af5 1.2%,#6306f9 1.6%,#6106f9 2.5%,#d034cb 3.9%,#ff52a8 4.6%,#ffc440 6.9%,#ffe83c 8.2%,#fffe7c 9.9%,#ffffa4 11%,#ffffc5 12.8%,#ffffec 19.9%,#ffffec 26.6%,#ffffe0 33%,#ffc 36.4%,#ffffb7 37.8%,#fffc77 40.3%,#fff155 43.5%,#ffee4e 45.6%,#fff35d 48.4%,#fffe7e 50.6%,#ffffa1 51.8%,#ffffba 53.6%,#ffffbc 70.4%,#ffffa0 72.7%,#ffff7f 73.8%,#ffe83c 76.8%,#ffc83c 78.2%,#ff7f80 80.2%,#fc4eac 81.1%,#c32dd2 82%,#6306f9 83.2%,#5b04fb 84.4%,#d034cb 85.9%,#ff54a6 86.6%,#ffc83c 88.9%,#ffea41 90.1%,#ffff7f 91.9%,#ffffae 93.3%,#ffffc3 94.7%,#ffffd9 99.9%)"></i><i style="left:1734.9px;background:linear-gradient(#be2bd4 0%,#6005fa 1.2%,#5903fc 2.5%,#d034cb 3.9%,#ff54a7 4.6%,#ffc73d 6.9%,#ffe93f 8.2%,#ffff81 9.9%,#ffffa2 10.8%,#ffffc3 12.6%,#ffffeb 21.1%,#ffffe7 30.9%,#ffffd8 35.1%,#ffffc1 37.6%,#ffff82 39.9%,#fff96e 41.2%,#fff055 43.8%,#ffef50 45.8%,#fff86d 49.5%,#ffff9f 51.6%,#ffffba 53.6%,#ffffb9 69.9%,#ffffa5 71.7%,#ffff7f 73.1%,#ffe83c 76.6%,#ffc93c 78.1%,#ff54a7 80.9%,#ce32cd 81.8%,#6206f9 83.2%,#5d04fb 84.4%,#c52ed1 85.7%,#f94dae 86.4%,#ffc83c 88.9%,#ffe940 90.1%,#ff8 92.1%,#ffffa7 93%,#ffffc0 94.4%,#ffffd7 99.9%)"></i><i style="left:1740.9px;background:linear-gradient(#ae24db 0%,#4700ff 1.4%,#4c00ff 2.7%,#8e15ea 3.4%,#ff50aa 4.6%,#ffc53f 6.7%,#ffe93f 8%,#ffff9f 10.6%,#ffffc2 12.4%,#ffffd5 17.7%,#ffffe9 19.9%,#ffffea 26.6%,#ffffd7 35.5%,#ffffc2 37.8%,#ffffa9 39%,#ffff81 40.1%,#fff86c 41.3%,#ffef52 44%,#ffee4d 45.8%,#fff45e 48.6%,#ffff80 50.7%,#ffff9d 51.8%,#ffffb4 53.6%,#ffffbe 60.5%,#ffffb5 69.4%,#ffffa2 71.1%,#ffff80 72.4%,#ffe83d 76.5%,#ffc73d 78.1%,#ff807f 80%,#fe4fab 80.9%,#c52ed1 81.8%,#5602fd 83.2%,#4c00ff 83.4%,#4900ff 84.4%,#8c14eb 85.3%,#fb4ead 86.6%,#ffc83c 88.9%,#ffea41 90.1%,#fffe7c 91.7%,#ffffa0 92.8%,#ffffbc 94.2%,#ffffd3 99.9%)"></i><i style="left:1747px;background:linear-gradient(#b728d7 0%,#4e00ff 1.4%,#4d00ff 2.7%,#c42ed1 3.9%,#fe4fab 4.6%,#ffc440 6.7%,#ffe93f 8%,#ffff8d 9.8%,#ffffab 10.6%,#ffffc6 12.2%,#ffffe8 19.9%,#ffe 26.6%,#ffffdf 34.9%,#ffc 37.8%,#ffffb4 39.2%,#fffb73 41.5%,#fff055 44.2%,#ffee4e 45.9%,#fff45e 48.6%,#ffff7f 50.6%,#ffffa4 51.8%,#ffb 53.6%,#ffffc5 61.6%,#ffffbf 69.4%,#ffa 71.3%,#ffff7f 72.9%,#ffe93e 76.6%,#ffc83c 78.1%,#ff817e 80%,#ff50aa 80.9%,#c52ed1 81.8%,#5602fd 83.2%,#4a00ff 83.4%,#4700ff 84.4%,#8a13ec 85.3%,#fc4eac 86.6%,#ffcb3c 88.9%,#ffe940 89.9%,#ffff85 91.5%,#ffffac 92.8%,#ffffc4 94.4%,#ffffd4 99.9%)"></i><i style="left:1753px;background:linear-gradient(#a921de 0%,#5401fe 1.1%,#4700ff 1.4%,#4600ff 2.3%,#9619e6 3.4%,#cc32cd 3.9%,#ff55a6 4.6%,#ffc53f 6.7%,#ffe83c 8%,#ffff87 9.8%,#ffffab 10.8%,#ffffc6 12.4%,#ffffe8 19.9%,#ffffed 26.8%,#ffffe7 32.3%,#ffffca 38.1%,#ffffb4 39.6%,#fffc76 41.7%,#fff156 44.3%,#ffee4f 45.9%,#fff35e 48.6%,#ffff7f 50.6%,#ffffa3 51.8%,#ffffb9 53.6%,#ffffc3 61.4%,#ffffbd 69.9%,#ffffa0 72.2%,#ffff81 73.3%,#ffe83d 76.6%,#ffc83c 78.1%,#ff53a8 80.7%,#c62fd0 81.6%,#5201fe 83%,#4500ff 84.1%,#5702fd 84.6%,#8813ec 85.2%,#fa4dae 86.4%,#ffc83c 88.7%,#ffe73c 89.8%,#ffff83 91.5%,#ffffac 92.8%,#ffffc4 94.4%,#ffffd4 99.9%)"></i><i style="left:1759.1px;background:linear-gradient(#8d15ea 0%,#5100ff 0.7%,#3800ff 1.1%,#2e00ff 1.4%,#2f00ff 2.3%,#5602fd 2.8%,#8b14eb 3.4%,#d738c6 4.1%,#ff55a6 4.6%,#ffc83c 6.7%,#ffe83d 8%,#fffe7d 9.8%,#ffffa4 10.8%,#ffffc5 12.6%,#ffffd6 17.7%,#ffffe8 19.9%,#ffffec 26.6%,#ffffe5 32.6%,#ffffc9 38.7%,#ffffb2 40.1%,#ffff81 41.5%,#fff970 42.4%,#fff053 44.5%,#ffed4c 46.1%,#fff35d 48.6%,#ffff9f 51.6%,#ffffb4 53.4%,#ffffbe 61.7%,#ffffb9 70.4%,#ffffa1 72.2%,#fffe7e 73.4%,#ffe83c 76.6%,#ffc73d 78.1%,#ff54a6 80.5%,#c12dd2 81.4%,#5201fe 82.7%,#3200ff 83.2%,#3000ff 84.1%,#4a00ff 84.6%,#8f15ea 85.3%,#f64bb0 86.4%,#ff7d82 87.1%,#ffc93c 88.7%,#ffe93f 89.9%,#ffff85 91.9%,#ffffa4 92.8%,#ffffbe 94.2%,#ffffd5 99.9%)"></i><i style="left:1765.1px;background:linear-gradient(#a921de 0%,#4500ff 1.2%,#4300ff 2.5%,#9719e6 3.4%,#f94dae 4.4%,#ff7e81 5.1%,#ffc83c 6.7%,#ffe83c 8%,#ffff80 10.1%,#ffffa1 11%,#ffffc1 12.6%,#ffffd4 17.9%,#ffffe8 19.9%,#ffffec 24.7%,#ffffe5 32.8%,#ffffd4 37.8%,#ffffaf 40.6%,#ffff83 41.9%,#fff86b 42.9%,#ffee4c 45.9%,#fff35c 48.3%,#ffff9f 51.1%,#ffffb5 52.9%,#ffffc0 65.1%,#ffffb7 70.1%,#ffff9e 72%,#ffff81 73.1%,#ffe73c 76.8%,#ffc440 78.2%,#ff50aa 80.7%,#ce33cc 81.4%,#5602fd 82.8%,#3e00ff 83.2%,#3c00ff 84.3%,#4f00ff 84.6%,#9418e7 85.3%,#f84caf 86.4%,#ff7e81 87.1%,#ffc83c 88.7%,#ffe83d 89.9%,#fffe7c 91.9%,#ffb 94.4%,#ffffd5 99.9%)"></i><i style="left:1771.2px;background:linear-gradient(#bf2cd3 0%,#5e05fa 1.2%,#5803fc 2.5%,#cf33cc 3.7%,#ff56a5 4.4%,#ffc63e 6.6%,#ffe93e 7.8%,#ffff80 10.1%,#ffffa7 11.2%,#ffffc5 12.8%,#ffffe8 19.9%,#ffffeb 26.6%,#ffffe5 33.5%,#ffffca 39.6%,#ffffad 41.2%,#fff86c 43.3%,#ffee4f 46.1%,#fff45f 48.1%,#ffffa1 50.6%,#ffffba 52.3%,#ffffc1 63.5%,#ffffb8 70.1%,#ffffa0 72%,#ffff7f 73.3%,#ffe73c 77%,#ffc83c 78.2%,#ff53a8 80.9%,#c830cf 81.8%,#5803fc 83.2%,#5301fe 84.3%,#cc32cd 85.7%,#ff54a6 86.4%,#ffcd3c 88.7%,#ffe940 89.8%,#ffff81 92.1%,#ffffa0 93%,#ffffbe 94.6%,#ffffd5 99.9%)"></i><i style="left:1777.2px;background:linear-gradient(#b929d6 0%,#4900ff 1.4%,#4700ff 2.5%,#9518e7 3.4%,#fb4ead 4.4%,#ffc73d 6.6%,#ffe83c 7.6%,#ffff80 10.1%,#ffffa7 11.2%,#ffffc6 13%,#ffffe7 19.9%,#ffffec 26.6%,#ffffe6 33.7%,#ffc 39.9%,#ffffae 41.5%,#fffa70 43.3%,#fff054 45.1%,#ffee4e 46.1%,#fff45e 48.1%,#ffffa2 50.7%,#ffffba 52.5%,#ffffc2 61.6%,#ffffb8 70.6%,#ffff98 72.9%,#ffe73c 77%,#ffc440 78.4%,#ff54a6 80.9%,#c830cf 81.8%,#5201fe 83.2%,#4900ff 83.4%,#4700ff 84.4%,#991ae5 85.3%,#ff50aa 86.4%,#ffc93c 88.5%,#ffe93f 89.6%,#ffff80 92.1%,#ffffa8 93.3%,#ffffc0 94.9%,#ffffd5 99.9%)"></i><i style="left:1783.3px;background:linear-gradient(#bd2bd4 0%,#4f00ff 1.2%,#3a00ff 1.6%,#3900ff 2.5%,#4d00ff 2.8%,#981ae5 3.5%,#d436c8 4.1%,#ff55a5 4.6%,#ffc93c 6.6%,#ffe83c 7.6%,#ffff80 10.5%,#ffffa1 11.4%,#ffffbe 13%,#ffffe7 19.9%,#ffffeb 26.8%,#ffffe4 33.5%,#ffffcb 38.9%,#ffa 41.2%,#fff769 43.3%,#ffee4d 46.1%,#fff35c 48.3%,#ffff9b 50.9%,#ffffb4 52.7%,#ffffbf 60%,#ffffb6 71.1%,#ffff98 73.3%,#ffe73c 77.2%,#ffc63e 78.6%,#fc4eac 81.1%,#c830cf 81.8%,#5903fc 83%,#3900ff 83.6%,#3a00ff 84.4%,#5301fe 84.8%,#8d15ea 85.3%,#ff50aa 86.4%,#ffc83c 88.3%,#ffe93e 89.4%,#ffff80 92.4%,#ffff9f 93.3%,#ffffb8 94.7%,#ffffd4 99.9%)"></i><i style="left:1789.4px;background:linear-gradient(#be2bd4 0%,#4600ff 1.2%,#3200ff 1.6%,#3500ff 2.5%,#4e00ff 2.8%,#8813ec 3.4%,#fa4dae 4.4%,#ffc440 6.4%,#ffe83d 7.6%,#fffe7e 10.6%,#ffff9e 11.5%,#ffffbd 13.1%,#ffffe6 19.9%,#ffffeb 26.8%,#ffffe6 32.6%,#ffffd0 37.3%,#ffffb2 39.7%,#fffe7d 41.5%,#fff259 43.5%,#ffed4a 45.1%,#fff156 48.3%,#ffff95 51.1%,#ffffb1 52.9%,#ffffbc 60.3%,#ffffb1 71.7%,#ffff80 74.2%,#ffe83d 77.5%,#ffc63e 78.9%,#ff7e81 80.5%,#fa4dae 81.2%,#be2bd4 82%,#5502fd 83%,#3500ff 83.6%,#3500ff 84.3%,#5502fd 84.8%,#8f16e9 85.3%,#ff51a9 86.4%,#ffc83c 88.3%,#ffe83c 89.4%,#ffff7f 92.6%,#ffffa0 93.5%,#ffb 94.9%,#ffffd2 99.9%)"></i><i style="left:1795.4px;background:linear-gradient(#ff8779 0%,#ff50aa 1.2%,#d436c8 2.1%,#d235c9 3%,#ff55a6 4.1%,#ffc93c 6.6%,#ffe83c 7.8%,#fffe7d 10.3%,#ffffa2 11.4%,#ffffbf 13.1%,#ffd 19.9%,#ffffe0 26.6%,#ffffd8 32.3%,#ffffb9 38.7%,#ffa 40.1%,#fffe7d 41.3%,#fff053 43.5%,#ffe93e 46.3%,#fff155 49.8%,#ffff8f 52.7%,#ffffa8 54.5%,#ffffb2 65.8%,#ffa 72%,#ffff9e 73.8%,#ffff80 74.9%,#ffe83d 78.8%,#ffc440 80.4%,#ff52a8 83.2%,#d738c6 84.1%,#d537c7 85%,#fd4fab 85.9%,#ffc440 88.3%,#ffe63c 89.6%,#ffff80 92.2%,#ffffa9 93.5%,#ffffbf 95.1%,#ffffd2 99.9%)"></i><i style="left:1801.5px;background:linear-gradient(#ff847c 0%,#ff50aa 1.1%,#d436c8 2%,#d235ca 2.8%,#ff53a8 3.9%,#ffc93c 6.6%,#ffe73c 7.8%,#ffff81 10.6%,#ffa 11.9%,#ffffbd 13.1%,#ffffde 21.6%,#ffffdc 30.3%,#ffffcb 36.2%,#ffffac 39.9%,#fff769 42%,#ffe83c 44.9%,#ffe93e 49%,#fffe7d 52.9%,#ffa 54.8%,#ffffb3 64.4%,#ffffa0 73.8%,#ffff80 75%,#ffe83c 78.9%,#ffc63e 80.4%,#ff52a8 83%,#d738c6 83.9%,#d537c7 84.8%,#ff57a4 85.9%,#ffc440 88.3%,#ffe83c 89.8%,#ffff81 92.6%,#ffffa9 93.8%,#ffffba 94.9%,#ffffcf 99.9%)"></i><i style="left:1807.5px;background:linear-gradient(#ff8978 0%,#fd4fab 1.2%,#dc3bc2 2.1%,#e13ebf 3%,#ff54a7 3.7%,#ffc83c 6.6%,#ffe83c 8%,#fffe7e 10.8%,#ffffa6 12.1%,#ffffc1 13.8%,#ffffde 19.9%,#ffffdf 26.6%,#ffffda 32.1%,#ffffb9 38.5%,#ffffac 39.7%,#fffe7e 41%,#ffe83c 43.8%,#ffdd3c 46.8%,#ffe83c 50%,#fff667 52.7%,#ffff9e 54.8%,#ffffae 56.4%,#ffffb6 64.4%,#ffff9e 74%,#ffff7f 75.2%,#ffe83c 79.1%,#ffc73d 80.5%,#ff50aa 83.2%,#dd3bc2 83.9%,#db3bc3 84.8%,#ff51a9 85.7%,#ffc63e 88.5%,#ffe73c 89.9%,#ffff7f 93%,#ffffa9 94.2%,#ffffbd 95.4%,#ffffcf 99.9%)"></i><i style="left:1813.6px;background:linear-gradient(#ff8e73 0%,#fc4eac 1.4%,#de3cc1 2.1%,#e23fbe 3.2%,#fe4fab 3.7%,#ffc73d 6.7%,#ffe73c 8.2%,#ffff7f 11.2%,#ffffa9 12.4%,#ffffc2 14%,#ffffde 19.9%,#ffffe2 26.6%,#ffffd5 33.7%,#ffffb8 38.3%,#ffffa6 39.7%,#fffe7c 40.8%,#ffe73c 43.3%,#ffd93c 46.8%,#ffe83c 50.9%,#fffe7d 54.3%,#ffffa7 55.9%,#ffffb0 57.7%,#ffffb3 64.9%,#ffffb0 69.9%,#ffff9e 74.3%,#ffff7f 75.6%,#ffe73c 79.3%,#ffc341 80.7%,#ff54a6 83.2%,#dc3bc3 83.9%,#d939c5 85%,#ff51aa 85.9%,#ffc63e 88.7%,#ffe73c 90.1%,#ffff7f 93.1%,#ffa 94.4%,#ffffc2 96%,#ffffd3 99.9%)"></i><i style="left:1819.6px;background:linear-gradient(#ff8f73 0%,#fe4fab 1.4%,#e641bb 2%,#e540bc 2.8%,#ff54a7 3.7%,#ffc63e 6.7%,#ffe83d 8.3%,#fffe7e 11.4%,#ffffa3 12.4%,#ffffbe 14%,#ffffdc 19.9%,#ffffe2 26.3%,#ffffd3 33.9%,#ffffb3 38.1%,#ffffa1 39.6%,#ffff7f 40.4%,#ffe73c 43.1%,#ffd53c 47%,#ffe83c 51.6%,#ffff7f 54.8%,#ffff9e 55.9%,#ffffab 57.5%,#ffffb2 68.8%,#ffff9c 74.9%,#ffff81 75.9%,#ffe73c 79.3%,#ffc83c 80.5%,#ff55a5 83.2%,#e33fbd 83.9%,#e03ebf 84.8%,#fe50aa 85.7%,#ffc93c 88.9%,#ffe83c 90.3%,#ffff80 93.3%,#ffffab 94.6%,#ffffc2 96%,#ffffd4 99.9%)"></i><i style="left:1825.7px;background:linear-gradient(#ff9072 0%,#fb4ead 1.6%,#ef46b5 2%,#ef46b5 2.8%,#ff56a5 3.5%,#ffc440 6.6%,#ffe73c 8.2%,#ffff81 11.5%,#ffffa6 12.6%,#ffffbf 14.2%,#ffffdf 19.9%,#ffffe1 23.9%,#ffffd9 31.6%,#ffffb6 38%,#ffffa5 39.4%,#fffe7d 40.4%,#ffe63c 42.9%,#ffd23c 47%,#ffe83c 52.2%,#ffff80 55.2%,#ffffa5 56.6%,#ffffb5 65.8%,#ffffa2 75.2%,#ffff7f 76.5%,#ffe93e 79.1%,#ffc73d 80.5%,#ff52a8 83.4%,#ed45b7 83.9%,#ec44b8 84.8%,#ff54a7 85.5%,#ffc83c 88.7%,#ffe63c 90.1%,#ffff80 93.3%,#ffffae 94.7%,#ffffc4 96.2%,#ffffd4 99.9%)"></i><i style="left:1831.7px;background:linear-gradient(#ff936f 0%,#ff52a9 1.6%,#ee46b6 2.1%,#ee46b6 3%,#ff50aa 3.5%,#ffc53f 6.7%,#ffe73c 8.3%,#fffe7e 11.2%,#ffff9d 12.1%,#ffffc2 14.2%,#ffffdf 19.9%,#ffffe1 26.6%,#ffffd0 34.9%,#ffffb2 38.7%,#fffe7c 40.3%,#ffe73c 42.4%,#ffd23c 44.9%,#ffcd3c 47%,#ffe83c 52.5%,#fffe7d 55.2%,#ffffa7 56.6%,#ffffb9 65.8%,#ffffa5 75.4%,#ffff81 76.6%,#ffe83c 79.1%,#ffc63e 80.5%,#fb4ead 83.6%,#ec44b8 83.9%,#ea44b8 85%,#ff56a5 85.7%,#ffc73d 88.7%,#ffe63c 90.1%,#ffff81 93%,#ffffb3 94.6%,#ffffc8 96.2%,#ffffd5 99.9%)"></i><i style="left:1837.8px;background:linear-gradient(#ff9072 0%,#ff51a9 1.6%,#f248b3 2.1%,#f148b3 3%,#ff53a7 3.5%,#ffc93c 6.9%,#ffe63c 8.3%,#fffe7e 10.6%,#ffffa2 11.7%,#ffffc3 13.7%,#ffffde 19.9%,#ffffe2 26.8%,#ffffd0 34.4%,#ffffb2 38.3%,#fffe7d 39.9%,#ffe73c 42%,#ffcf3c 44.7%,#ffc93c 47%,#ffce3c 49.7%,#ffe73c 52.9%,#ffff81 55.5%,#ffffa8 56.9%,#ffffb8 62.1%,#ffffba 70.3%,#ffffa4 75.6%,#ffff7f 76.8%,#ffe83c 78.8%,#ffc53f 80.4%,#fc4eac 83.6%,#f148b4 83.9%,#f047b4 84.8%,#ff55a6 85.5%,#ffc73d 88.7%,#ffe63c 90.1%,#fffe7d 92.4%,#ffffb1 94%,#ffffc7 95.6%,#ffffd5 99.9%)"></i><i style="left:1843.8px;background:linear-gradient(#ff9171 0%,#ff55a6 1.8%,#ff55a6 3%,#ffc83c 6.6%,#ffe83c 8.2%,#ffff80 10.5%,#ffffa0 11.4%,#ffffbe 13.1%,#ffffdc 19.9%,#ffffdf 26.6%,#ffffcf 34.1%,#ffffaf 38%,#ffff7f 39.4%,#ffe73c 41.7%,#ffcf3c 44.3%,#ffc83c 46.8%,#ffce3c 49.7%,#ffe73c 52.9%,#ffff82 55.5%,#ffffa4 56.9%,#ffffb4 65.3%,#ffffaf 73.1%,#ffffa4 75%,#fffd7b 76.6%,#ffe83c 78.6%,#ffc73d 80.2%,#ff57a4 83.6%,#ff54a6 84.8%,#ffc83c 88.5%,#ffe83c 90.1%,#ffff81 92.4%,#ffffa2 93.3%,#ffffbe 94.9%,#ffffcf 99.9%)"></i><i style="left:1849.9px;background:linear-gradient(#ff946e 0%,#ff609c 1.8%,#ff629a 3%,#ffc93c 6.4%,#ffe73c 8%,#ffff7f 10.5%,#ffff9f 11.4%,#ffb 13%,#ffffd8 19.9%,#ffffde 26.1%,#ffffce 33.5%,#ffffad 37.4%,#fffe7d 38.9%,#ffe73c 41.3%,#ffd03c 44%,#ffca3c 46.7%,#ffe83c 52.2%,#ffff9e 56.2%,#ffffae 65.5%,#ffffa0 74.5%,#fffe7e 75.9%,#ffe73c 78.8%,#ffc63e 80.4%,#ff619a 83.6%,#ff609c 84.8%,#ffc93c 88.3%,#ffe63c 89.8%,#fffe7e 92.2%,#ffffa3 93.3%,#ffb 94.7%,#ffffd0 99.9%)"></i><i style="left:1855.9px;background:linear-gradient(#ff8978 0%,#ff56a5 1.6%,#ff59a2 2.8%,#ffc83c 6.2%,#ffe83c 7.8%,#ffff82 10.5%,#ffffa3 11.4%,#ffffbf 13%,#ffffda 19.9%,#ffffdf 24.8%,#ffffce 32.8%,#ffffb4 36%,#ffffac 36.7%,#fffe7d 38.1%,#ffe73c 41%,#ffcd3c 46.3%,#ffe83c 51.6%,#ffff9c 55.5%,#ffffb1 65.5%,#ffff9f 73.3%,#ffe83d 78.4%,#ffc83c 80%,#ff5aa1 83.4%,#ff57a4 84.6%,#ffc83c 88.2%,#ffe63c 89.6%,#ffff7f 92.2%,#ffffa3 93.3%,#ffb 94.7%,#ffffd3 99.9%)"></i><i style="left:1862px;background:linear-gradient(#ff847c 0%,#ff52a8 1.4%,#fe4fab 2.7%,#ffc63e 6%,#ffe73c 7.5%,#fffe7e 10.1%,#ffa 11.4%,#ffffc3 13%,#ffffde 19.9%,#ffffe2 24.3%,#ffffcf 32.6%,#ffffb0 36.4%,#ffff80 37.8%,#ffe73c 40.8%,#ffd23c 45.9%,#ffe73c 50.9%,#ffff80 53.8%,#ffffa2 55%,#ffffb8 64.2%,#ffffa4 72.6%,#ffff7f 74.2%,#ffe83c 77.9%,#ffc83c 79.7%,#fe50ab 83.4%,#fc4eac 84.6%,#ffc63e 88%,#ffe63c 89.4%,#ffff7f 92.2%,#ffffa3 93.3%,#ffffbf 94.9%,#ffffd5 99.9%)"></i><i style="left:1868.1px;background:linear-gradient(#ff847c 0%,#ff54a6 1.4%,#ff51a9 2.7%,#ffc83c 6%,#ffe83c 7.5%,#fffe7e 10.1%,#ffffaf 11.5%,#ffffc7 13.1%,#ffffe1 19.9%,#ffffe3 26.3%,#ffffd0 32.6%,#ffffb4 36.4%,#ffff80 38%,#ffe83c 41%,#ffd63c 45.9%,#ffe83c 50.6%,#fffe7d 53.4%,#ffffa6 54.8%,#ffffb8 63.7%,#ffffa6 72.4%,#ffff81 73.8%,#ffe73c 77.9%,#ffc83c 79.5%,#ff50aa 83.4%,#fe4fab 84.6%,#ffc93c 88%,#ffe83d 89.4%,#fffe7e 92.1%,#ffffb1 93.7%,#ffffc6 95.1%,#ffffd6 99.9%)"></i><i style="left:1874.1px;background:linear-gradient(#ff817e 0%,#fe50aa 1.4%,#fc4eac 2.7%,#ffc53f 6%,#ffe83c 7.6%,#ffff7f 10.5%,#ffffa6 11.5%,#ffffc2 13.1%,#ffffdf 19.9%,#ffffe0 26.8%,#ffffce 33.2%,#ffffad 36.7%,#fffe7d 38.1%,#ffe83c 41.3%,#ffd83c 46.1%,#ffe83c 50.6%,#ffff7f 53.9%,#ffffa2 55.3%,#ffffb3 63.9%,#ffffa2 72.4%,#ffff80 73.6%,#ffe73c 77.9%,#ffc73d 79.5%,#fe50aa 83.2%,#f94cae 84.6%,#ffc73d 88%,#ffe73c 89.4%,#fffe7e 92.2%,#ffffac 93.7%,#ffffc1 95.1%,#ffffd4 99.9%)"></i><i style="left:1880.2px;background:linear-gradient(#ff857b 0%,#ff59a2 1.4%,#ff57a4 2.7%,#ffc73d 6%,#ffe73c 7.6%,#ffff81 10.6%,#ffff9e 11.4%,#ffffbd 13%,#ffd 21.5%,#ffd 26.8%,#ffc 33.2%,#ffffa7 36.9%,#ffff80 38%,#ffe73c 41.7%,#ffda3c 46.1%,#ffe83d 50.6%,#ffff81 54.3%,#ffff9b 55.3%,#ffffad 59.3%,#ffffb0 63.9%,#ffff9f 72.4%,#fffe7e 73.6%,#ffe83c 77.9%,#ffc63e 79.7%,#ff58a3 83.4%,#ff57a3 84.6%,#ffc440 87.8%,#ffe73c 89.4%,#ffff7f 92.4%,#ffff9f 93.3%,#ffffba 94.9%,#ffffd2 99.9%)"></i><i style="left:1886.2px;background:linear-gradient(#ff847c 0%,#ff5ba0 1.4%,#ff59a2 2.7%,#ffca3c 5.9%,#ffe83c 7.3%,#ffff81 10.3%,#ffffa7 11.4%,#ffffc1 13%,#ffffdc 19.9%,#ffffde 26.6%,#ffffcd 33%,#ffffac 36.7%,#fffe7d 38.1%,#ffe83c 42%,#ffdd3c 45.9%,#ffe83c 49.8%,#fff562 52.3%,#ffffa0 55%,#ffffb1 60.3%,#ffffa8 70.3%,#ffff80 72.9%,#ffe93e 77.5%,#ffc83c 79.5%,#ff609c 83.2%,#ff5aa1 84.6%,#ffca3c 87.8%,#ffe83c 89.2%,#ffff80 92.2%,#ffffa0 93.1%,#ffb 94.7%,#ffffd2 99.9%)"></i><i style="left:1892.3px;background:linear-gradient(#ff7887 0%,#fb4ead 1.4%,#fc4eac 2.7%,#ffc53f 5.5%,#ffe63c 6.7%,#ffff82 9.8%,#ffffac 11%,#ffffc2 12.4%,#ffffdf 19.9%,#ffffde 28.9%,#ffffbf 35.3%,#ffffb2 36.7%,#fffe7e 38.3%,#ffe83c 42.6%,#ffdf3c 45.9%,#ffe83c 49.3%,#fff562 51.8%,#ffffa7 54.5%,#ffffb7 61.4%,#ffffa9 69.4%,#ffff80 71.5%,#ffe83d 77.2%,#ffc63e 79.1%,#ff52a8 83.2%,#fc4eac 84.4%,#ffc53f 87.5%,#ffe63c 88.7%,#fffe7e 91.5%,#ffffb0 93.1%,#ffffc5 94.7%,#ffffd5 99.9%)"></i><i style="left:1898.3px;background:linear-gradient(#ff718d 0%,#fe50ab 1.1%,#f449b2 1.4%,#f64bb0 2.7%,#ff50aa 2.8%,#ffc83c 5.5%,#ffe63c 6.6%,#ffff80 9.4%,#ffffab 10.6%,#ffffc4 12.2%,#ffd 19.9%,#ffffe0 26.8%,#ffffcf 33%,#ffffb1 36.7%,#fffe7d 38.3%,#ffe83c 43.3%,#ffe83c 48.6%,#fff86a 52%,#ffffa9 54.6%,#ffffb5 61.9%,#ffffa7 69.4%,#ffff81 71%,#ffe73c 77%,#ffc93c 78.8%,#ff51a9 83%,#f64bb0 83.4%,#f64ab1 84.4%,#ff52a8 84.8%,#ffc93c 87.5%,#ffe63c 88.5%,#fffe7e 91.2%,#ffffb5 93%,#ffffc7 94.4%,#ffffd6 99.9%)"></i><i style="left:1904.4px;background:linear-gradient(#ff6697 0%,#ff52a8 0.5%,#e742bb 1.2%,#e541bc 2.5%,#fd4fab 3%,#ffc341 5.5%,#ffe73c 6.7%,#fffe7e 9.4%,#ffffa9 10.6%,#ffffbf 12.1%,#ffffdb 19.9%,#ffffde 26.8%,#ffffcf 33%,#ffffab 36.9%,#ffff7f 38.1%,#ffef52 41.5%,#ffe83c 44%,#ffe83c 47.7%,#ffee4e 50%,#ffff80 53.2%,#ffffa5 54.6%,#ffffb2 61.9%,#ffffa4 68.5%,#ffff80 70.3%,#ffe83d 76.8%,#ffc93c 78.6%,#ff51a9 82.5%,#e842ba 83.2%,#e641bc 84.3%,#ff53a7 85%,#ffc63e 87.5%,#ffe83d 88.7%,#ffff81 91.4%,#ffffa6 92.4%,#ffffbe 94%,#ffffd4 99.9%)"></i><i style="left:1910.4px;background:linear-gradient(#ff56a5 0%,#d436c8 1.2%,#d738c6 2.5%,#ff50aa 3.2%,#ffc53f 5.7%,#ffe93e 7.1%,#ffff80 9.6%,#ffffa5 10.6%,#ffffbf 12.2%,#ffffe1 21.3%,#ffffd2 33.2%,#ffffad 36.9%,#ffff81 38.1%,#fff76a 39.7%,#ffec48 43.5%,#ffe93f 45.8%,#fff155 50%,#ffff7f 52.9%,#ffffa5 54.5%,#ffffb3 57.5%,#ffffb5 61.6%,#ffa 68.5%,#ffff80 71%,#ffe83d 76.8%,#ffc73d 78.6%,#ff51a9 82.1%,#d839c5 83.2%,#d839c5 84.3%,#ff55a6 85.2%,#ffc93c 87.6%,#ffe53c 88.7%,#ffff7f 91.4%,#ffffa8 92.6%,#ffffbe 94%,#ffffd6 99.9%)"></i><i style="left:1916.5px;background:linear-gradient(#fe4fab 0%,#bf2cd3 1.4%,#c02cd3 2.5%,#ff57a3 3.5%,#ffc63e 5.7%,#ffe73c 6.9%,#fffe7e 9.6%,#ffffa9 10.8%,#ffffc2 12.4%,#ffffe3 21.6%,#ffffd1 33.2%,#ffffab 37.1%,#ffff82 38.1%,#fff769 39.7%,#ffec48 43.5%,#ffeb44 45.8%,#fff258 49.7%,#ffff80 52.5%,#ffffa3 53.8%,#ffffad 55.3%,#ffffb1 69%,#ffffa7 70.6%,#ffff7f 72.2%,#ffe73c 77%,#ffc83c 78.6%,#fe4fab 82%,#c32ed1 83.2%,#bf2cd3 84.4%,#fd4fab 85.3%,#ffc83c 87.6%,#ffe63c 88.7%,#ffff7f 91.5%,#ffffa9 92.8%,#ffffbe 94.2%,#ffffd6 99.9%)"></i><i style="left:1922.5px;background:linear-gradient(#ff50aa 0%,#b427d8 1.4%,#b226d9 2.5%,#ff50aa 3.5%,#ffc53f 5.7%,#ffe83c 6.9%,#fffe7e 9.8%,#ffffa5 10.8%,#ffffc0 12.4%,#ffffdf 22%,#ffc 33.4%,#ffa 37.1%,#ffff83 38.1%,#fff86b 39.7%,#ffec49 44.2%,#ffec48 45.9%,#fff25b 49.7%,#ffff80 52.7%,#ffffa1 53.9%,#ffffab 55.5%,#ffffab 69%,#ffff9e 71%,#fffe7e 72.2%,#ffe83c 77%,#ffc63e 78.8%,#ff52a9 81.8%,#ae24db 83.4%,#af24db 84.4%,#ff52a8 85.5%,#ffc73d 87.6%,#ffe53c 88.7%,#fffe7d 91.7%,#ffffa2 92.8%,#ffffbc 94.4%,#ffffd2 99.9%)"></i><i style="left:1928.6px;background:linear-gradient(#ff52a8 0%,#bb2ad5 1.2%,#b627d8 2.3%,#ff52a8 3.5%,#ffc63e 5.9%,#ffe83c 7.1%,#fffe7e 9.8%,#ffffa9 11%,#ffffc2 12.6%,#ffffdf 23.1%,#ffffd9 30%,#ffffc8 34.6%,#ffffb6 37.1%,#ffff7f 39.4%,#fff86b 41%,#ffed4b 45.9%,#fff45e 50%,#ffff80 52.9%,#ffffa2 54.1%,#ffffae 55.9%,#ffffb4 63.2%,#ffffac 69.4%,#ffffa0 71.3%,#ffff7f 72.7%,#ffe83d 77.3%,#ffc440 79.1%,#ff50aa 82%,#ba29d6 83.2%,#b627d8 84.3%,#ff53a7 85.5%,#ffc73d 87.8%,#ffe83c 89.1%,#ffff80 91.9%,#ffffa5 93%,#ffffbd 94.4%,#ffffd3 99.9%)"></i><i style="left:1934.6px;background:linear-gradient(#fe4fab 0%,#b125da 1.2%,#af24db 2.3%,#fe50aa 3.5%,#ffc93c 6%,#ffe93f 7.3%,#ffff81 9.9%,#ffffad 11.2%,#ffffc4 12.8%,#ffd 19.9%,#ffffe0 26.6%,#ffffc2 37.1%,#ffffb7 38.5%,#ffff81 40.6%,#fff768 42.2%,#ffee4d 46.3%,#fff35d 49.8%,#ffff80 52.5%,#ffffa4 53.9%,#ffffb0 55.7%,#ffffb2 70.4%,#ffffa6 72.2%,#ffff80 73.8%,#ffe83d 77.7%,#ffc440 79.3%,#ff51a9 82%,#b627d8 83.2%,#b426d9 84.3%,#ff52a8 85.5%,#ffc83c 88%,#ffe83c 89.2%,#fffe7d 91.9%,#ffffa7 93.1%,#ffffbd 94.6%,#ffffd5 99.9%)"></i></div>
<svg width="2151" height="1362" viewBox="0 0 2151 1362">
<path transform="scale(2.4)" fill="none" stroke="#000" stroke-width=".88" stroke-linecap="square" d="M82 152h3v-1h1v-1l1 -1h1v1h1v1h1v1l1 1h1v1h1l1 -1h1l2 -2h1v2h1v1l2 2h1v1l2 -1h1v1h1v1l1 1v1h1v1h1l1 1h1l1 -1h1v1l2 3v1h1v1h1v1h1l2 -2h1v-1l1 -1h1v-2l1 -1v-1l1 -1v-1l3 3h1l1 1v-1h1v-1l1 -1v-1l1 -1h1v-1h4v-2h1v-2h1v-2h1v-1l2 -2M82 170v1h1v1l2 2v-1l1 -1v-1h1v-1h1v1l1 1v1l1 1h1v1l1 1h1l1 1h2v-1h2v1h1v1h1v1h1l1 1h1v-1l1 -1v-1h1l1 1v1h1v2h1v1h1v2h1v1h1l1 1h1v-1h1v-1h1v-1v1h3l2 1l1 -1h1v-2h1v-1h1v-1h1v-1h1l1 -1h1v1h1v1l1 1h1v-2h1v-1h1v-1h2l3 -3h1v-1h1v-1h3M82 184v1h1v1l2 3v-1h1v-1l1 -1h1l1 1h1v2h1v1h1v1h6v1l1 1v1h2l1 1l1 -1h1v-1l1 -1v1h1v2l1 1v1h1v1h2l1 1h2l1 -1h1l3 -2h4l3 -2h4l1 1l1 -1h1v-1l1 -1l1 1h1l1 -1v-1h1v-1l2 -2v-1h1v-1h1v1l2 2M143 268h-1l-1 1h-2l-1 -1h-10l-1 1h-4v-1h-16l-2 1l-1 -1h-12l-2 1h-3l-2 -1l-1 1h-2M82 201h4l1 -1h3v1h2v1h1l1 1h1v1h4l1 1h1l1 1h2l3 2l3 -1l2 1h1v-1h1l1 -1h2v-1h1v1h2v1l3 -2h5l1 1h4l2 -2h1v-1l1 -1v-1h4v1l1 1v1h1M143 266h-59l-2 1M82 212h1l3 -2h2l1 -1h1l1 1h1v1h2l1 1h1l3 2h3l3 1h8l1 -1h3l1 -1h2l1 1h2l1 1h4l2 -1h2v-1h3l1 -1h4v1h1l1 1h1M143 263h-8l-1 1h-45l-2 -1l-2 1h-3M82 221h2v-1h1l2 -1h3l2 2h7l1 1v-1h2v-1h3l1 1h8l1 -1h6v1h2l2 1l2 -1h3l1 -1h1v-1h2v1h7l1 1h1M143 261h-16l-1 1h-6l-2 1h-13l-3 -1h-5v-1h-4l-1 -1l-2 1l-2 -1h-6M82 230h3v-1h3l1 -1h12v-1h5l1 1h4l1 1h1v-1h1v-1h1v-1h4l1 -1l1 1h10l2 -2l1 1h4l2 1h2v1h1v1M143 257h-15l-3 2h-5l-2 1h-3l-1 1h-12l-3 -2h-4v-1h-1l-1 -1h-1l-2 -1h-8M120 234v-1v1h2l1 1l1 -1h2l2 1h3l1 -1h1v-1v1h1v1l1 1v1h1l1 1v1h1v1h1v1l1 1v2h1v1l1 1v4l-1 1h-1l-2 2h-3l-2 1h-6l-1 1h-6l-1 1h-12l-2 -1h-4l-1 -1h-3l-1 -1h-1l-2 -2h-4l-1 -1v-6h1v-1l1 -1h2l1 -1h2l1 -1v-1h2l2 -1h1l2 -2h2l2 -1h3l3 1v-1h1v-1h6M82 244h1l1 1v1h1v3l-2 2h-1M114 241h2l1 1h1l2 -1l2 1h1l3 2h1l1 1v4h-1v2h-6l-1 1h-7l-2 -1h-3l-1 -1v-1h-1v-5h3l1 -1l4 -1v-1M133 244v1h1v3h-1v1h-1v-5h1M143 141l1 -1v-1h1v-1h1v1h1v1h1v1h3v-1l2 -2v1h1v2h1v3h4l1 1v1h1l1 1v1h1l3 3l2 -1h3l2 -1l1 1v1h1l1 1h4l1 1v-2h1v-2h1v-2h1v2h1v1l1 1h3l1 -1h1l1 -1h1v-1h1v-1h1v-1h1v-1l2 -3v-1h1v1l1 1v1h1v-1h1v-4l1 -1v-4l1 -1M143 168v-1l1 -1v-2h1v-2h1l2 2h1l1 1h1v-1l1 -1v-1h1v-1v1l1 1v3h1v3h2v-1h1v-1l2 2h1v1h1v1h1v1h5l1 1v1h1v2h1l1 -1v-1h1v-1l4 -1l1 -1h1v1l2 2v-2h1v-2l1 -1v-2l1 1v1h1v1l1 1h1l1 1h1l1 -1h1v-1h1v-1h1v-2h2v-1h1l1 -1v-1h1v-1h1v2h1v2h1v1v-1l1 -1v-4h1v-4h1M143 190v-1l1 -1v-2l1 -1v-3l1 1v1h1v1h1v1h1v1h1v1h1v-2h1v-2h1v-1v1h1v2h1v2h1l1 -1h1v-1v1h1v1h1v1h2l1 1l3 -1h2l1 1h1v1h1v-1l1 -1h1v-1h3v-1h1v-1h2v1h1v1h1l2 -3v-2v1h1v1l2 3l2 -2h3l2 -2h1l1 1h2l1 -1h1v2h1v3h1v1v-1h1v-3h1v-5h1M204 268h-1l-1 -1h-2l-1 1h-1l-2 -1h-9l-1 -1h-1v1h-1l-1 1l-2 -1l-2 1h-29l-1 -1h-2l-1 1h-1l-2 -1M143 208v-1h1v-1h1v-1h2l1 1l2 -1h3v1h1l1 1h1v-1h1v-1l3 -2h6v-1h1v-1h4v-1h1v-1h3l1 -1h3v1h3l1 -1h1v1h1v1h3l1 -1h3l2 2h1l3 3h1v1h1v1h2l1 -1h1M204 266l-3 -1h-14l-1 -1l-5 2h-31l-1 -1h-2l-1 -1h-1l-1 1h-1M143 220h5l1 -1h1v-1l2 2v1h1v1h1l1 1h2l1 -1h1v-1h2v-2h1v-1l1 -1v-1h1v-1l1 -1v-1h1v-1h1l1 -1h4l1 -1h4v-1h3l1 1v-1h1l1 -1h1l1 1h4l2 -1v1h1v1h1v1h1v1h1v2h1v1l1 1v1h1v1h1v1h5M204 263h-5l-1 1h-5l-2 -1h-3l-1 -1h-3l-3 2h-7l-1 -1h-2l-2 1h-12l-1 1l-3 -1h-4l-3 -2h-1l-1 1h-1M143 228h6v1h1v2h1l1 1v1h2l3 -2h2l1 -1h1v-1h1v-1l1 -1v-1h1v-2h1v-2h1v-1h2v-1h7l1 1h3l1 -1h1l2 -1h3l3 2h2l2 1h1v2h1v2h1v1h5l1 -1h2M204 260h-3l-2 1h-6l-2 -1h-1l-1 -1h-2l-1 -1h-3v1h-1l-1 1h-10l-3 1h-3l-1 1h-3l-3 1h-5l-3 -1l-1 -1h-2l-1 -1h-1l-2 1M143 234h4l1 -1v1h1v2l1 1v1l1 1h1v1l1 1v-1h1v-1h2v-1h1v-1h1l1 -1h3v-1h1v-1h1v-2h1v-2h1v-1h2v-1h1v-1h1l1 -1l1 1h1l2 2h2l1 1h5l3 -2h2l2 1h1v1h1v2l1 1v1h2l1 -1l2 1h1l2 -2h3M204 255h-5l-1 1h-6l-1 -1h-1l-1 -1h-2l-1 -1h-3l-1 1h-1v1h-5l-1 1h-9v1h-2v1h-1l-1 1h-5l-1 1h-1l-1 -1h-2l-1 -1h-1v-1h-1l-1 -1l-2 1h-1l-2 -1M168 239v-1l1 1h3l2 2h1v1l1 1v2h1v1h-1v3h-1l-2 2h-13l-2 -1h-2l-2 -2v-5h1l1 -1h7l2 -2v-1h3M143 242l1 1v6h-1M196 242v1h1v5h-1v1h-1l-1 -1v-1h-1v-3h1v-1h1l1 -1M186 243v1h1v3l-1 1v1h-3v-2h-1v-2h1v-2h3M204 129v-3h1v-2l1 -1v-1l2 1h1l1 1h1l1 1v1h1v1l1 1v-2h1v-1l1 -1v-1l3 -1v2h1v3h1v4h1v1l1 1v1h2l1 -1l1 1h2v-1l1 -1v-2h1v-2l1 1v2h1v4l1 1v1v-1h1l3 -3v-1l3 -2l1 1v1h1v2h1v1l1 -1v-1h1v-2l1 -1v1l2 3h1l1 -1h1v-2h1v-3h1v-2h1v-2h1v-3h1v3h1v3l1 1v2v-1h1v-3h1v-2h1v-1h1v-2h1v-1M204 169v-3h1v-5l1 -1v-2l2 -2h1l1 1v1h1v1l2 3v2h1v-1h1v-3h1v-2l1 -1v-1h1v-1l1 -1v3h1v3l1 1v2l1 1v1l2 3l1 -1v-1h1v-1l3 3v-2h1v-2h1v-4l1 1v2l1 1v1h1v1l1 -1h1v-1h4l1 -1h1v2l1 1v1l1 1v1v-1h1v-2h1v-2l1 -1v2l1 1v1l2 2h2l1 -1v-1l2 -3v-2h1v-2l1 -1v3l1 1v3h1v1h1v-1h1v-2h2l1 -1M264 267l-2 1l-3 -1v1h-1l-1 1h-3l-1 -1h-7l-2 -1h-2l-2 1h-7l-1 1h-1l-1 -1h-4l-2 -1h-3v1h-1l-1 1h-2l-1 -1h-12M204 189h1v-1h1v-1h1v-2h1v-1l1 -1v1h1l1 1v1h1v1h1v1h1l2 -2v-1h1v-2h1v-2l1 -1v2h1v2l1 1v2h1v1l1 1h6v-2h1v-3h1v-3l1 1v1h1v1l1 1l2 -2v-1l3 2h3v3h1v2h2v-1h1v-1h2l1 1l4 -1v-1h1l3 -3v2h1v1h1v1h1l1 1h1l2 1M264 266h-2l-3 -1v1h-13l-2 -1h-2l-3 1h-13l-2 -1h-3v1h-17M204 206h2v1v-1h1l1 -1h1v-1l1 -1v-1h1v-1l1 1v2h1v1l1 1h3v-1h1v-1h4l1 -1h1l1 1h1v2h3v1v-1h1v-1h1v-2h1l1 -1h1v-1h1v-2h1v-1h1v1l1 1v2l1 1v2h4l1 -1h1v-1l1 -1h1v-1h2v-1h1v-1h1v-1h1v1h1v1l1 1v1l1 -1h2v1h1v1h1v1h2l3 2M264 264h-3l-2 -1h-2l-1 1h-14v-1l-3 1h-13l-2 -1h-3l-1 1h-16M204 219v-1h1v-1h1l3 -2l1 1h1v1l1 1v1h1v2h1l2 -2h1l1 -1h1v-1l1 -1h1v-1h1v-1h2v-1v1l1 1v1h1v1h3l1 1h2v-1h1v-1h1v-1h1v-1h2v2h1v2h1v1h1v1h1v1h1v-2h1l2 -2v-1h1v-1h1v-1h1v-1h1v-1l2 -1h1v2h1v1h1v1l2 2v1h1l1 1h5l1 1M264 262v-1h-8l-1 1h-19l-1 -1h-2l-2 1h-3l-2 -1h-1l-1 -1h-4v1h-11l-3 -1l-1 1h-1v1M204 232h1l1 -1h2l1 -1l2 1h2l1 1v-1l1 -1v-1h1v-1h2l1 -1v-1h1v-1h1v-1h2l2 2h1v1h1l1 1h1v1h1l1 1v1h1l1 1v1h1v1h1l1 1h1v-1h1v-1h1v-1l2 -2v-1h1l2 -2h1l1 1h1v2h1v2h1v2l3 -2v-1l2 -3v-1l2 2h1v1h1l1 1h1l3 -2h1v-1M264 256l-1 -1h-7l-1 1h-1l-2 1h-3l-1 1h-9l-1 1h-3l-1 -1h-1l-2 -1l-1 1h-2v-1h-2v-1h-1v-1h-1v-1h-4v1h-1v1h-2v1h-6l-1 -1h-2l-2 -1h-2M224 238l1 1h1v1h6v1h2v1h3l1 -1h6l1 1v2l1 1l-1 1v2l-1 1h-1l-1 -1l-1 1h-4l-1 -1v1h-3v1h-3l-1 -1h-1l-1 1h-1l-2 -1h-3l-1 -1h-1v-2l-1 -1h1v-2h1v-2h1l1 -1v-1h1v-1h1M211 241l4 1v2l1 1h-1v3l-4 1l-1 -1v-1h-1v-4h1v-1l1 -1M264 118h4l2 2v2l1 1v2l1 1h2l1 -1v-2l1 -1v-3h1v-1v1h1l1 1h1v-1l1 -1v-2h1v-1v2h1v4h1v2h1l2 -2v1h1v1l2 2v1h1v1h1v2h1l1 1v1h1v-2l1 -1v-1l2 -3v-4h1v-5h1v-1v5h1v7h1v3v-2h1v-4l1 -1v-5h1v-1v1h1v1h1v1h1v2h1v2h1v1h1v1l1 1h1v-1l1 -1v-1h1v-3l1 -1v-3l1 -1v-4v1h1v5h1v4h1v3h1v3l1 1v3l1 -1v-1l1 -1v-2h1v-1M264 169l2 -2v-1h2v1h1l1 1v1h1v1l1 1v2h1v2h1v2h1v-1h1l2 -2h1v-1h1v-3h1v-3h1v-1v1l1 1v2l1 1v1h1v-1h1v-2h1v-2h1v-1l1 -1v-1h1l3 3h1l1 1h1v1h2v-1h1v-1h1v1l1 1v1h1v1v-2h1v-5l1 -1v-6l1 -1v-1v4h1v5h1v4l1 1v1h1v1h2l4 -4v-3h1v-5h1v-3v1h1v5h1v4h1v2l1 1v1h1v1h1v-2l1 -1v-4h1v-2M264 192l4 -1l1 -1h2l3 3v1h2l1 -1h3l2 -2h3v-2h1v-2h1v-1l3 -3v1h1l1 1v1h1v1h1v1h1v1h1v1l1 1h1l1 -1h1v1h1v2h1v1l2 -2v-2h1v-1v3h1v3h1v1l1 -1v-1h1v-1l2 -2h1l2 -2h1v-1h1v-2h1v-2v1h1v2h1v2l1 1v1h1l1 1l1 -1v-1h1v-1l1 -1v-1M325 268h-1l-2 -1l-2 1h-1l-1 1h-1l-1 -1h-9l-1 1h-2l-1 -1h-4l-2 -1h-5l-1 1h-14l-3 -1l-2 1h-8M264 209h1v-1h1v-1l1 -1h1v-1h1v-1h2v-1h1l1 1h1v1h3v1h1v1h1v1h1v1h2v1h2l1 -1v-2h1v-2h1v-2h1v-2l1 -1v-2h1v1l2 3v2h1l1 1h1v1h1v1h1v1l1 -1h4v-1h1v-1h1v-1h1l1 1v1l4 1l1 -1h1l3 -3l1 1h1v1l1 1v1h1v2l1 1v1v-1h1v-1h1l1 -1v-2h1v-2h1v-1M325 267l-1 -1h-18l-1 1h-3l-2 -1h-35l-1 1M264 228v-1h1v-1l1 -1v-1h1v-1l1 -1v-1h1v-1h1l1 -1h1l2 2h1l3 2h4l2 -2h1v-1h1v-1h1v-1h3v1h1v1h1v1h1l1 1h1v1h1v1h2l1 -1h1v-1h1v-1h1v-1h1v-2h1v-2h3v1h1v1l1 1v1l3 2v-1h1v-1h1v-1l1 -1v1h1l1 1v1h1v3h1v2h1v1v-1h1v-1h1v-1h1v-2h1v-1l1 -1v-1M325 265h-13l-1 -1h-5l-1 1h-6l-1 -1h-2l-1 -1h-5l-1 1h-3l-1 1h-6l-2 -1h-8l-2 1h-3M264 241l1 -1v-1h1v-1h1v-1h1v-1h1v-1h1v-1h1l1 -1v1h1l1 1l3 1h2l3 -2v1h1v1h1v1h1l2 2h1l1 -1h1v-1h1v-1h4l1 1h1l1 1v1h1v2h2l1 1v2v-2l1 -1v-2l1 -1v-1h1v-2h1v-4h1v-2l1 1v2h1v1l1 1v1h1v2h1v2h1v1h1v1l1 1v2v-1h1l1 -1v-1h1v-2h2l1 -1h2l2 2M325 262l-3 -2v1h-2l-1 1h-1v1h-1l-1 -1h-1v-1h-1l-2 -2h-1l-1 -1l-2 1h-1l-2 2v1h-2l-1 1l-1 -1h-1l-1 -1h-1v-1h-1l-1 -1h-4l-2 -1l-1 1h-1v1h-1l-3 2v-1h-2l-3 -1h-7l-1 1h-3v1h-2l-1 -1h-1M325 132v-1l1 -1v-1h1v-2h1v-3l1 -1v-2l1 -1v-1v1l1 1v2h1v2h1v-1h1l1 -1h1v-1h1l1 -1v2h1v1h1v1v-1h1v-1l1 -1v-1h1v2h1v3h1v1h1l1 1h1l1 -1v-1h1v-1l1 -1v-3h1v-5h1v-1v2l1 1v2h1v1h3l1 -1h1l1 -1h1v-1h1v-1v2h1v2h1v1h3l2 1h3v1h1v1h1v1h1l1 -1l4 -1v2h1v2l1 1v-2l1 -1v-7l1 -1v-4h1v-1M325 164l3 -3v-2h1v-3l1 -1v-1v2h1v4l1 1v3h1l2 1v-1h1v-2h1v-1l1 -1v1h1v1h1l1 -1v-1h1v-1l1 -1v2l1 1v1h1v1l1 1h1v1h1v-1h1l1 -1v-2h1v-3l1 -1v-3h1v-1v3l1 1v3l1 1v2h8v-1h1v-2h1v-1l1 -1h1v-1h2l1 1h3v2h1v2l1 1v2h6v2h1v2h1v1v-1h1v-3h1v-4h1M325 192l1 -1h1v-1h1v-2l1 -1v-2l1 -1v-1v1l2 3v1h1v-1l1 -1h1v-1h3l1 -1h2l1 -1h1v1h1v1h1v1h1v1h1l1 1v-1h1l2 -2v-1h1v-1h1v2l1 1v3h1v2h1l1 1h1v-1h1l2 -2h1v-1h1v-1v1h1l1 1h1l2 -2v-1h1v-2h1v-2l2 2h1v1l1 1v1h1v1h3v1h2v1h1v1h3l1 1v1h1M386 269h-1l-2 -1h-8l-1 1h-3l-1 -1h-3l-2 -1l-2 1l-2 -1h-6l-1 1h-4l-2 -1l-3 1h-18l-1 1h-1M325 203l1 1h2v-1h1v-1h1v-1l1 1h1v1h3v-1h1v-1h1l1 -1l1 1h4l1 1v1h1l1 1h1v1l1 1l2 -1h1v-1h1l1 -1v1h1v2h1v1h3l1 1h2l2 -1v1l2 3v1h1v-1h1v-1h1v-2h1v-3h1v-2h2l1 -1v1h1v1h4l1 1h1v1h3l1 1v1l2 2M386 267h-16l-1 -1h-6l-3 -1h-5l-2 1h-10v1l-3 -1h-11l-2 1h-2M325 228v-1h1v-1l1 -1v-1h2l2 -2v-1l1 -1v-1h3v1l1 1v1h1v2h1v2h1v2l1 1v2v-2l1 -1v-5l1 -1v-4l1 -1h2v1h1v4l1 1v3h1l2 2v-1h1v-2h1v-1h1v-1h1v-1l1 -1h5v1h1v1h1v1h1l2 2h2l1 -1h1v-1h2v-1h1v-1h1l1 -1h5v2h1v1h3v1h1v1l1 1v2h1M386 266h-5l-3 -1h-10l-1 -1h-3l-1 -1h-13v1h-5l-2 1h-3l-1 -1h-9l-1 1h-2l-2 1M325 241l1 -1h1v-1h2l1 1h1l1 1v1l1 -1v-2h1l1 -1v1h1l1 1v1h1l1 1v1h1v1h2v1h2v-1h1v-1h1l2 -1v-1h1l2 -2h1l1 -1v1h1v1h1v1h1l1 1v1l1 1v2v-3l1 -1h1v-1h1v-2h1v-1h1l1 -1h7v1h1v1l1 1v1h2v2h1v-1h2v-1h1v-1h1v-1h4v1h1v3h1M386 263h-6l-3 -2h-2l-1 1h-4v-1h-3v-1h-2l-2 -1h-2l-3 -2l-3 2l-2 -1v1h-1l-1 1h-1v1h-2v1h-8l-1 -1h-1v-1h-2v-1h-2l-1 1h-1l-2 1h-1l-1 1h-1v1h-1l-1 1M325 243v14M350 246v5v-5M386 102v2h1v2l1 1v1l1 -1v-2h1v-2l1 -1v1h1v1h1v2h1v5l1 1v4l1 1v-4h1v-5h1v-4h1v-6l1 -1v-5l1 -1v3h1v7h1v5v-2h1v-13l1 -1v-16h1v-4l2 2v4h1v10h1v9h1v5h1v5l1 1v3h1l2 -2l1 1v1h1v2h1v1h1v1h1v-2h1v-5l1 -1v-6h3l1 1v1h1v1h1l2 1l2 -2h3v-1l1 -1v-4l1 -1v-3h1v-1v6h1v8l1 1v4h3v1h1l1 1M386 148v6h1v4l1 1v1l1 -1v-2h1v-5h1v-1v1h1v1l1 1v2h1v5h1v3l1 1v-3h1v-3l1 -1v-3v1h1v2h1v4h1v6l1 1v4h1v2h1l1 1h1v1v-1h3v-6h1v-2h1v-2h1v-2l1 -1v-1l1 -1v-2h1v-2l1 -1l1 1v1h1v1l1 1v2h1v3h1v1v-1h1v-2h1v-5h1v2h1v1h1v1v-2l1 -1v-4l1 -1v-5l1 -1v6h1v3l1 1v1h1v-1h1v-1h1v1l2 3v1v-3h1v-7l1 -1v-6l1 -1v-1v5h1v3l1 1v2l1 1v1l1 1v1l2 2h1v1M386 200v-3h1v-1l1 -1v-1h1v-3h1v-2h1v-1l2 -2v1h1v3l1 1v3h1v1v-4h1v-4l1 -1v-3v1l1 1v3l1 1v2h1v1v-1h1v-1h1v-1l1 1v1h1v1h1v2l1 1v3h1v3l1 -1v-2h1v-3h1v-2l1 -1v-1l1 -1v-1h1v-3l1 -1v-2l1 -1l1 1v2l1 1v2h1v2h1v2h1v1h2v-1h1v3l2 3v2h1v1h1v3l1 1v-1h2v-1l2 -3h1l3 -2v-4l1 -1v-4h1v-1v2h1v3h1v3h1v1l1 1v1h1v-1h1v-2h1v-1M446 269h-6l-1 1h-1v-1h-15l-2 -1h-3l-1 1h-3l-1 -1h-5l-2 1l-3 -1v1h-3l-2 1v-1h-12M386 219v-1h1v-1l2 -2h1l1 -1l1 1h1v1h3v-2h1v-3h1v-2h1v1l1 1h1v-1l1 -1v-2l1 -1v-2h1v2h1l1 1v2h1v2l1 1v1h1l1 -1h1v-2l1 -1v-2h1v-2l3 -3h2l1 1v3h1v2l1 1v1h1v1h1v1h1v2l1 1v1h1v1h1l1 1h1v-1l2 -2v-1h1v-1l2 -3v1h1l1 1h1l2 1v1h1v1h1v1h1l1 1h3M446 268h-7l-2 -1h-35l-1 1h-15M386 230l1 -1h2l2 -1v1h1l1 1v1h1v1l2 3v-1h1v-2h1v-1h5v-1h1l2 -1v1l2 3v1h1v1l2 2v-2h1v-4h1v-3h1l1 1h1v1h1v1h1v2h3l1 1h2v-1l1 -1v-1h1l4 -4v-1h1v-1v1h2v1h1v1l1 1v1h1v1h3v1l1 1v1h2v-1h1v-2h2v-1h1v-1M446 266h-7l-3 -2h-4l-3 2h-5l-1 -1h-2l-1 -1h-2l-2 -1v1h-4v1h-7l-2 -1l-2 1h-1l-1 1h-1v1h-2l-1 -1h-9M386 245h3v1h1v1l1 1v-1l1 -1h1v-1l3 3l1 -1h2v2h1v10l-1 1h-3l-3 1l-2 -1l-1 1h-4M446 261h-10l-2 -1l-1 1h-8l-1 -1h-6l-1 -1h-1v-3v2l-1 1h-2l-1 1h-7l-2 -2v-2l-1 -1l1 -1v-3l2 -3v-2h2l1 1h1l3 2h1v1l2 2v2h1v1v-2h1v-2l1 -1v-1h3l3 -1l1 -1h1v-1h1l1 -1v-1h2l3 -2h2v1h1v1h1l1 1v1h4l2 -1l2 1M446 118h1v1h1l1 1h2v-1h1v-2l1 -1v-3l1 -1v-1v3h1v2l1 1v2h1l1 1h1v2h1v2h1v1l1 -1v-1h1v-2h1v-1h1l1 -1h1v-1l2 -3h1l1 1h1v1l1 1v1h1v1l1 -1v-1h1v-1h1v1l2 2v1l1 -1h3l1 1h1l1 -1h3v1h1v1h1v1l1 1v-2h1v-2h1v-2l1 1v1h1v1l1 1l1 -1h1v-1l1 1h1v1l3 3v1h1v3l1 1v4l1 1v1M446 165l1 -1h1v-1h1l1 -1h1v-1h1v-6l1 -1v-3l1 -1v-1v1h1v1h1v1v-1h1v-7h1v-10h1v-1v5h1v14h1v9h4v-1h1v-1h1v-3h1v-5h1v-2v1l1 1v2l1 1v1l2 2v1h1v1v-1h1v-2l1 -1v-1h1v-1v1l1 1v1h1v2l1 1h1v1h1l2 1h1l1 1h1l1 -1v-1h1v-2v1h1v2l2 3v-2h1v-2h1v-1h1v2l1 1v2l1 1l2 -2v-1l1 -1h1v-1h2v1h1v1h1v4l1 1v5h1v2M446 196h1v-1l2 -2h1l1 1v-1h1v-5h1v-7h1v-2v1l2 3v1h1l2 -1v3l1 1v4h1v3h1v-3h1v-2h1v-2h1v-1l1 -1v-2h2l1 -1v1l1 1v1l1 1v1h1v1h3v-2h1v-2l1 -1v2h1v1l2 2v1h1l1 1v1h1v1h1v1l2 -3v-2l1 -1v-1l1 -1v-1h1v-1l1 1v1h1v1l1 1v-1l1 -1v-2l1 -1v-1h1v2h1v3h1v1v-1h4l1 1v-1h1v-1h1v-1l1 1v4h1v3l1 1v1M507 269h-30v1l-1 -1h-6l-1 1l-1 -1h-9v1l-1 -1h-3l-1 1l-1 -1h-7M446 215h1v1h1v1h1v1l1 1v1h1v1h1v-1h1v-2l1 -1h1v1h2v-3h1v-1h1v-1v1h1l3 2h2v-1l1 -1v-1h1v-1h1v-1h4l3 -2h1l1 -1l2 1h1v1h1v1h1v1l2 3v1h1l1 1v2h1v-3h1v-3h1v-2h3l1 -1v-1l1 -1v-1v1h1v4l1 1v6h1v1v-1h1v-2l2 -2v-1l1 -1v-2l1 -1v-1l2 1h1v3l1 1v4l1 1v1M507 268h-16l-2 1l-2 -1h-5l-3 -1l-1 1h-32M446 230h2l1 -1l1 1h2l1 -1h1v-1h1v-1l1 -1h1l2 -2v1h1v1h1v2l1 1h2v1h1l1 1h2v-1h1l1 -1h2v-1h1v-1h1l3 -2h2v1h1v1l2 2v1h1v2h1v1h3v1h1v1l1 1h1l1 -1h2l1 -1h4l1 -1h3l3 -2h2M507 267l-3 -1h-11l-1 1h-8l-2 -1h-3l-2 1h-23l-3 -1l-2 1l-1 -1h-2M446 242l1 -1h3l2 -2h1v-1l3 -3v-1h2l1 -1v2h1v1l2 2v1h1v1l1 1h2l2 1h1l1 1h2v1h1v1l3 2v1h3l2 -2h1l2 -2h7l1 -1h6l1 -1h3l2 1l3 -2M507 264h-16l-1 1h-1l-1 -1h-9l-1 1h-1v1h-1v-1l-1 -1h-1l-1 -1h-1v-1h-3l-1 1h-17l-1 1h-4M454 248v1h1v1l1 1v4h-1v2l-4 1h-3l-1 -1v-2l-1 -1v-2h1v-2h1l1 -1h4l1 -1M507 258h-8v-1h-1v-3h-1v-1l1 -1v-2l1 -1h2l1 1h3l2 -1M507 134v1h1v2h1v2h3l1 -1v-1l1 -1v-1h1v-1h2v-1l2 1h1l2 -2v1h1v1h1v1h1v-1l1 -1v-1h1v-1h1v1l1 1v1h1v2h1v2l1 1v1h1v-1h1v-1h1l1 1h1v1v-1h1v-1h1v-1l2 -2v-1h1v-2v1l1 1v5l1 1v4h1v1v-2l1 -1v-4h1v-4l1 1v1h1v2h1v3h1v3h1v3l1 -1v-4h1v-4l1 -1v-2v1h1v2h1v1h1v2h1v2l1 1v1v-1h1v-1l1 -1v-1h1l2 -2v-3h1v-5l1 -1v-6h1M507 161v2l1 1v2l1 1v4h1l1 1h1l1 -1h1v-1h1v-3l1 -1v-2l1 -1v-1v1h1v1l1 1v1h1v-1l2 -2v-1v1l1 1v2h1v2h2v-1h1v-1l1 1v2h1v2l2 2v1h4v1l1 1v2h1v2h8v-1h1v-3l1 -1v-4h1v2h1v1l2 2h1v1v-1h1v-2l1 -1v-3h1v-1h1v1l1 1v1h1v2h1v2h3l2 -3v-2l1 -1v-2l1 -1v-2l1 -1v-3l1 -1M507 186v1h1v1h1v1h2v1h2l1 -1h1v-1h1v-1l1 -1h1l1 1h1v-1h1v-1l1 -1l1 1v1h1v2l4 1v1h1v1h1v1h1l1 1h1v-1h1v-1h1v2h1v3h1v2l2 -1h1v-1h1l1 -1v-1h1l1 1h2v-1h2v2h1v1l2 2h2v-2l1 -1v-2h1v-2h1l1 -1h1v2h1v1h1v1h3v-1l2 -2v-1h1v-1h1v-1l1 -1M513 270v-1h-2v1M520 270v-1h-1v1M526 270v-1h-2v1M546 270v-1h-16v1h-1M554 270v-1h-5v1M565 270l-1 -1h-6v1M507 207v2h1v2h1v2h1v-3h1v-3l1 -1v-1l1 1h5l1 -1h4l1 1h2l1 -1l3 2h2l3 -1v1l2 2h8l2 1h1v1h1l1 1h1l1 -1h2l2 2v1h1v2h1v-3h1v-2h5v1h2v-1h1v-1l1 -1M568 268h-61M507 229h1v-1l2 -2h1l1 -1h1v-1h2l2 -2v1l2 3v2h1v1h1v1h1v1l2 2v1h4v-1l1 -1h1v-2l1 -1v-2l1 -1v-2h4l1 -1h1v-1h1v-1l1 -1v1h1v1h1v1h1v1h1v1l1 1v-1h1v-1h1v-1h2l1 -1l2 1h1v1l1 1v2h1v1l2 2v2l1 -1v-1l2 -2v-1h1v-1h1v-1h1l1 1h1v1l1 1v1h1v4l1 1M568 267h-61M507 239h6v-1h1v-1h1l2 2h1l3 2h5l1 1l2 -1h3v-1h3l1 -1h1l2 -2v-1h2l1 1h3l2 1l2 -2h1l1 -1v-1h3v1h1v1h2v1h3l3 -2v1h2v1h1v1l1 1h1M568 265l-3 1l-2 -1h-3l-3 1l-2 -1h-30l-3 1l-2 -1h-3l-2 1l-3 -1h-5M507 248h8l1 -1l4 -1l2 1h1l3 2h9l2 -1h1v-1l1 -1v-1h2v1h2l3 2h2v-1h1v-1h1l3 -2h3l1 -1h1v1h1v1h1v1h1v1h1v2h4l1 -1h1M568 264h-61M524 254h7v1l1 1v3l-2 2h-5v-1h-3v-2h-1l1 -1v-1l1 -1v-1h1M507 254h4l1 -1v1h2v2h1v4h-1v1h-7M568 261h-2l-1 1l-1 -1h-23l-1 -1v-6h1v-1h1v-1l2 1h6l1 -1h9l1 1h7M568 106v-1l2 -3v-1h1v-1h1v-1h2v1h3l3 -2v1h1l1 1v1h1v1l1 1v1h1v1l1 -1v-1l1 -1v-1h1v-1v1l1 1v2h1v1l4 1l1 1h3v-1h2v-1h1v-1l1 -1v-1h1v-1h1v-1h1v-1h1v2h1v3h1v1h3l1 1h1v1l1 1v1h4v-2h1v-2l1 -1v-1l2 -2h1v-2h1v-4h1v-6h1v-1v4l1 1v5h1v2M568 137v6l1 1v2l1 1v1l2 1h1v-2h1v-1l3 -3h1v-1l1 -1v-1h1v-1l1 1v2l1 1v3l1 1h2v-1h1v-5h1v-3l1 -1v2h1v5h1v4h1l1 1h1l1 1v1h2v-1h1v-1h1v-2h1v-1h2v1l2 3v1h3v3h1v2h1v1l1 -1h1v-1h1v-1h1v-1l2 -3v-3l1 -1v-3l1 -1v1l3 3h2v2h1v2l1 1v1l1 1v1l2 3v-6h1v-6l1 -1v-2M568 195v-2l2 -2h2l1 -1v1h2v1v-1h1v-2l1 -1v-1l1 -1v-1h1v-1l1 -1v-2v1l1 1v1h1v1l1 1v-1h1v-1h1v-3h1v-3h1v-3h1v-1v1l2 2v1h1v1l1 1v2h1v1l1 1h2l2 -2v-1h1v-2h1v-2l1 1v1h1v2l4 1v2h1v2h1v1l1 -1h2l2 2v-1h1v-1l3 -3v-1h1v-1l2 2v1h1v1h1l1 1h1v1h1v1h1v-1l1 -1v-2h1v-4M628 269h-3l-2 -1l-1 1h-7l-2 -1h-6l-1 1h-1l-2 -1h-5l-3 1l-2 -1h-4l-1 1l-3 -2h-2l-3 1h-5l-1 1h-6M568 211v1h1v2h1v2h1v2l1 1v2h1v-3l1 -1v-3h1v-2h4v1h1v1h1v1l2 2h2l2 -2v-1h1v-1l1 -1v-1h1v-1l2 1h3l1 1h1v1h1v1h1v2h1v2h1l1 -1h1v-1h1v-2h1v-2h3l1 1v1l1 1v1h1v-1h1v-1l1 -1v-2h1v-4h1v-5h1v-1v2h1v2h1v1l1 -1v-1h1l1 -1v2h1v2l1 1v1l2 3v2h1v-1l2 -3v-1M628 267h-2l-3 -1l-2 1h-8l-1 -1h-1v-1l-2 1h-8l-1 1h-7l-1 -1h-10l-2 -1l-1 1h-3l-1 1h-7M568 239v1l1 1h1v1h3v-1l1 -1v-1h1v-3h1v-2l1 -1v-2l3 -3v-1l2 2h7l1 -1h1v2h1v2h1v2h1v1l1 1v1l1 -1v-1h1v-1h1v-1h1l1 1h1v-1h1l1 -1h3l2 -1h2l1 -1v2l1 1v1l1 1v1h1v2h1v3h2l1 -1v-1h1v-3h1v-1h1v1h1v1l1 1v3h1l1 1h1v-2l1 -1v-3l1 -1v-3M628 262l-2 2h-2l-1 -1l-2 1h-8l-1 -1v-1h-1v-1h-1l-2 2h-3l-1 -1h-6v1h-1l-1 1h-1l-1 -1h-1l-1 -1v-1h-2l-2 -1h-1v1h-4v1v-1h-2l-1 -1l-1 1h-2v1h-1v1h-1l-1 1h-6M568 248h2v1h4l1 1v7h-1v2h-1v1l-3 -1h-2M621 253v6h-2v-1l1 -1v-3l1 -1M628 109h1l2 -2v1h1l1 1h3v-1h1v-3h1v-3l1 1v1l1 1v1h1v1h2l2 2h1l1 1h1v1l3 -3v-1v1h1l1 1h1v2h1v2h1v1h3v4h1v3h1v2v-1l1 -1v-2h1v-3h1v1l2 3v1l1 -1v-1h1v-2l1 -1v3h1v2h1v2l2 -2h1v-2l1 -1v-3l1 -1v-3h1l1 -1h1v-1h1v-1l2 -3v-3l2 -3v2h1v3h1v4l1 1h2M628 158v-1h1v-2h1v-2h1v-1l2 -2v-1l1 1v1h1v1l1 1v-2l1 -1v-4h1v-4h1v3l1 1v2l1 1h2v-1v1h1v1h1v1h1v1l2 3v2h1v-2l1 -1v-2h1v-1h1v-1h1l1 -1v4l1 1v3h1v2h1v-1h1l1 -1v3l1 1v2h1v2v-1h1v-1h1v-2h1v1l1 1v1h2v-1l2 -3v1h2v1l1 -1h1v-1l1 -1v2l1 1v3h1v2v-1h1v-3h1v-3l1 -1v-1l3 -3v-4l1 -1v-4l1 -1v-1h1l1 1h1v-1h2v-1M689 267l-3 1h-10l-1 1h-10l-1 -1h-3l-1 1h-8l-1 -1h-10l-1 1h-2l-2 -2h-8M628 193h1v-1l2 -2l1 1h2v-1l1 -1v-1h1v-2l1 -1v-3l1 -1v-3l2 2v1h1v3h1v3h1v4h2v1l1 1l1 -1h1l4 -4v-2h1v-2h1v1l4 4h1v4h1v2l1 1v1l3 -2h2l1 -1h2v-1v1l2 2h1v-1h1v-1h1v-1v1l1 1v1h1v2l1 -1v-1l1 -1v-2h1v-1v1h1l1 1h1l2 2v-1l1 -1h1v-1h1v-5h1v-5h1v-2M689 266h-8l-1 1h-2l-2 1h-10l-2 -1h-3l-1 1h-4l-2 -1h-3l-1 -1h-12l-2 -2h-5l-2 1h-1M628 212h1v-1h1v-1h1v-1h2v-1l1 1h1v1h1l2 -2v-1h1v1h1v1h4v1h1v1h3v1l1 -1h1l2 -2h2l2 2h2l1 -1v1h2v1h1l1 1h2l1 -1h2l1 -1h2l1 1h1v1l2 2v1h1v1l1 -1v-2h1v-2l2 -2h1v-1l1 1v1h1v1h1v1v-1h1v-1l1 -1v-1h3M689 263v1h-8l-3 2h-5l-2 -1l-2 1h-1l-2 -1h-5l-1 1h-5l-3 -2h-12l-2 -1h-1l-1 -1h-5l-2 1h-1M628 224h4l1 -1h6l1 1h1v1h1l1 1l1 -1h1v-1h2l1 -1h1v-1h1v-1h4v1l1 1v1h1v1h3l1 -1h1v-1h2l1 -1h3v-1h1l1 -1v1h1v1h1v1h1l1 1h1v1h1v1h2v-1h1v-1l1 -1v-1h1v-1h1v-1l1 1h1l2 2v1h1v1h1l1 1h1M689 257v1h-1v1h-1v2h-8v1h-2l-1 1h-2l-3 -1l-2 1l-2 -1h-6l-2 1h-3l-1 -1v-1h-1v-1h-11v-1h-2v-1h-5l-2 -2h-2v1h-1l-2 2h-1M668 232h3l1 1h1l3 3h7l2 2h1v1h1v2h1v3h1v3h-1v3h-1v1h-1v1h-2l-2 2h-2l-1 -1v1h-1l-2 2h-1l-1 -1l-2 1h-3v1l-1 -1h-2l-1 -1h-2l-1 -1h-2v1h-1v1h-4v-1l-1 -1h-2l-1 -1l-2 1h-1l-3 -2h-2v-1h-2v-1h-3v-1h-1v-6h1v-1h1v-1h1l3 -2h1l1 -1v-1h1l1 -1h3v-1h1v-1h1l1 -1h1v1h1l1 1h3l2 -1h3l2 -2h2M628 240h3v1h1v1h1v1h1v2l1 1l-1 1v1l-2 2h-1l-1 1h-2M668 242l1 -1v1h1l1 1h1l2 3v1h-1l-1 1h-1v1l-1 1h-4v-1h-1v-5l2 -2h1M658 244l1 -1v6h-2v-4h1v-1M689 106l1 1v1h1v1h1v-1l1 -1v-1h1v-1l2 2h1v2h1v2h1v2v-1h1v-1h1v-2h1v1h1v1h1l1 1v1h1v1h1v1l2 2v1h3v1l1 1v1h1v1l1 -1v-1l1 -1v-1h1v-1v1l1 1h1v1h1l1 1h1l2 -2h2l1 -1v1h1v1h1v1l1 -1h2v-1h1v-1l1 -1v-1h1v-1h1v-1h1v-1h1v-1l1 -1v-1h1l1 -1h4v2l1 1v2l1 1v2h1v2h1v2h1M689 133v2h1v4h1v4h1v-1h1l1 -1v-1l1 -1v-3h1v-2h1v2h1v3h1v2v-1h1v-1l1 -1v-2h1v3h1v3l1 1v2v-1h1v-1h1v-1h1v2h1v3h1v2l3 -2v2h1v1l1 1h2l1 -1v2h1v2h1v2h1v1l1 1h1v-1h1v-1l1 -1v-1h3v1h1v1h2v-3h1v-2l1 -1v-1h1v-1h1v-1l1 -1v-1h1v-1l1 -1v-1h1l1 -1h1v2h1v2l1 1v1v-2h1v-2l2 -3v3h1v2h1v1l2 2h1M750 269h-2l-1 -1l-1 1h-9l-3 -1h-3l-1 -1h-1l-1 1l-4 1h-6l-1 -1h-3l-5 -2l-2 1h-1l-1 -1h-7v1h-1v1h-1l-2 -1h-4v1h-1M689 164v2l1 1v4l1 1v3l2 -2v-2h1v-3h1v-4h1v-3h1v3h1v5l1 1v2v-1h1v-2h1v-2h1v3l1 1v3l1 1v1h1v-1l2 -2v1l1 1v2h1v2v-1h1v-2l1 -1v-1h1v1l2 3v1l1 1h2v1h1v1l2 3v2l1 1v2h2v-1h1v-1l1 1h5v-2l1 -1v-3h1v-3l1 -1v-3h1v-2h4l1 1h1v1h1v2h1v1v-2l1 -1v-3h1v-5l1 -1v6h1v3l1 1v1h3M750 267h-16l-2 -1h-6l-2 1h-5l-1 -1h-4l-2 -1h-6l-1 -1h-2l-1 -1h-3v1h-1l-1 1h-3l-3 -1l-1 1h-1M689 202l1 1h2l1 -1l4 -1v2l2 2v-1h1v-3h1v-3h1v2l1 1v1l1 1v1h1v1h1v1h1v3l1 1v3h1v2v-1h1v-2h1v-1h1v-2h1v-1h1l1 -1v-2h1v-1l1 -1v-1l1 -1h1v-1l3 3l2 1h1l2 2h1l1 1h1v1h1l1 1h1v2h1v2h1l1 1v1h1v1h1l1 -1h3l1 -1h2v-1l1 -1h1v-1h1v-2h1v-2h1M750 264h-2l-1 -1h-2l-2 1h-9l-1 -1h-5l-1 1h-9l-1 -1h-3l-1 -1h-2l-1 -1h-1l-1 1h-1v1l-1 -1v-1h-1v-1h-1l-1 -1h-4v1h-1v1h-1v2l-1 -1h-2l-2 -1h-1l-1 1h-1M689 225v1h2v1h1v2h1v2h1v1l1 1v1h1v1h1v-6h1v-4h1v-1l1 -1v-1h1v-1l1 -1l1 1h2v1l1 1h1v1h5v-2h1v-1l1 -1v-1h1v-1h1v-1h1v-1h1v-2h1v-1h1v1h1l3 3v1h1l1 1h1l2 -2h1v1h1l1 1v1h1v1l1 1v1h1v1l1 1v1h1v1h1l1 1h1v1h2v1l1 -1h1v-1h1l2 -1l1 1v1l1 1v1h1M750 259h-1l-1 1h-4v-1h-4l-1 -1v1h-1l-1 1l-2 -1h-2l-1 -1h-3v1h-1l-1 1h-3l-1 -1h-2l-1 -1h-2l-1 -1h-4l-1 -1l-3 1h-3v-1l-1 -1v-1h-1v-1l-2 -2h-3v1h-1v1h-1v1h-1v-1h-1v-1l-2 -2h-1v-1h-1v-1h-1v-2h-1M714 229h8l2 1h1l1 1h3l1 1h2v1l3 3h1v1h1v1l1 1v6l-2 2v1h-1v1h-2l-1 1h-4v1h-4l-2 -1h-3l-2 1h-3l-1 -1h-4l-1 -1h-1v-1h-1v-1h-1v-1h-1l-2 -2v-5h1v-1h1v-1h1v-1l1 -1v-1h3v-1h2l1 -1v-1h1v-1h1v-1M750 140h1v-1h1v-1h3v-1l1 -1v-1h1v-1h1l1 1h1v1h1l1 1v1h1l1 1h1v1h1v1h1v2h1v1h1l1 1v-1h2v-1l1 1v1h1v1h1v1h3v-1h1v-1h1v-1h3l2 2h1v2h1v1l1 1v-1h2l1 1v1l1 1v1h1v-1l1 -1v-1l3 -3v-1h1v-2h1v-3h1v-2l1 1h2v1h1v1h1v1h1v1h1l1 1v-1h1v-1h1v-1M750 171v-1l2 -2h3v-2h1v-2l1 -1v-1l1 1v1h1v1l2 3v2l1 1v1l2 -2v-1h1v2h1v2h1v1h2l1 1l1 -1h2v1h1v1h1v1l1 1v1h1v1h1v-2h1v-2l2 -2h2l2 1v1h1l1 1v1h1v-1h1v-1h1v1h1v3h1v2h1v-1h1v-1l2 -2v-1h1v-1h1v-2l1 -1v-3h1v-2l3 3h3v2h1v2h1v-1h1v-2l1 -1v-1M750 191h1l3 -2h1v-1l2 -3v-1h1l2 1v1h1v1l1 1v1l3 -2v1h1l1 1h1v1h1v1h2l2 2h1v1h2l1 1h8l1 1h3v-1h1v1h1v1h1v1h1l2 -2h1l1 -1h1v-1l1 -1v-2h1v-1h3v1h1v1h1v1l2 3v2l1 1v-1l1 -1v-1h1v-1M810 269h-1v-1h-5v1h-1v1h-3v-1h-1v-1h-4l-2 -1h-1l-1 1v1h-2l-1 -1h-11l-2 1h-4l-1 -1h-11l-1 1h-1l-2 -2l-3 1l-2 -1M750 208h2l2 -1h1v-1l1 -1v-1h1v-2h1l1 -1h1v-1h1l1 -1h1l1 1h1l4 4h4v1h1l1 1h4l3 2h3l3 -2h2v1h1l1 1h3l1 1h2l2 -2h1v1h1v1h1v1h1v1h1v1h1v1h1v1h2v-1h1v-1M810 266h-6l-1 1h-3l-1 -1h-8l-1 1l-2 -1h-10l-1 -1l-2 1h-14l-1 -1l-3 1l-2 -1l-3 1l-2 -1M750 218h7l1 -1h2v-1l1 -1v-1h1v-1h1v1h1v1h1v1h2v1l1 -1h1l3 -2h4l1 1h4l1 1h7l1 1l1 -1h3l3 2h6v1h1l1 1h1v1h1l3 2M810 264l-2 1h-7l-1 -1h-5l-2 1h-13l-2 -1h-6l-2 -1h-3l-2 1h-15M750 226h1v-1l4 -1v1h1v1h1l2 2h1v1h1l1 1h1l1 -1h1v-1h1v-1h1v-1h1l2 -2h1v-1h1v-1h2l1 -1h5l1 1h5l2 1h5l1 1h2l2 1h2l1 1h1v1l4 1v1h1v1h1l1 1h1M810 263h-5l-2 -1h-4l-1 -1h-3l-1 1h-1v1l-3 -1h-10l-1 -1h-3l-1 1l-3 -2h-13l-1 1h-6l-2 1M750 238h1l2 -2h1l1 -1v1l1 1v2h1v2h1l1 1v1l3 2v1l1 -1v-2l2 -1v-2l1 -1v-1l1 -1v-1h1v-1h1v-1h1l1 -1v-1h1v-1h2l1 -1h3l2 -1l1 1h9l3 1h3l2 1l2 2h1v1h1v1h2v1h1v2h1l1 1v1h1l2 1M810 255h-1l-1 1h-2l-1 1h-4l-1 1h-5l-1 1h-12l-2 -2h-6v-1h-2v-1h-2l-2 1h-1l-1 -1h-1l-2 -1h-2l-1 -1h-3l-1 1h-1l-2 2v1h-1v1l-1 -1h-1v-1M810 248l-1 1h-4l-1 1h-1v1h-2l-1 1h-1l-1 1h-2l-1 1h-3l-1 -1h-1l-2 -1h-1l-2 1h-3v-1h-1v-1h-3l-1 -1l-1 1h-2v-1l-1 -1l-4 -1v-1l-1 -1h-1v-4h5l1 -1h1l1 -1h2l3 -2h8l2 -1h4l1 -1l1 1h1v1h1l1 1h1v1h1l1 1h2l1 1l4 1l1 1M795 242l1 1v5l-1 1l-1 -1v-5l1 -1"/>
<path transform="scale(2.4)" fill="none" stroke="#000" stroke-width=".88" stroke-linecap="square" d="M143 310l-2 1h-1l-1 -1h-4l-2 -1h-1l-1 -1h-2l-1 1l-3 -2l-1 1h-2l-1 1h-2v-1h-6l-1 1h-1l-2 2h-5v1h-1v1h-3l-2 2h-1l-2 -2h-1l-2 -1h-3l-3 -2h-3v1h-1M82 379l2 1h3l3 -1v1h1l1 1l4 -4v-1h1v-1h4l1 -1h1l2 1v-1h1l1 -1h1l2 1l2 -1h5l3 -3l1 1h1v1h1v1l2 3h1l1 -1h1v1h1v1h1v1l1 -1h2l1 1h1v1h1l1 1h2l1 -1l1 1h2M143 406h-1v1h-1v1l-4 1v1h-1v1h-4v-1h-1v-1h-1l-1 1v1h-1v1l-3 -2v1h-1v1h-1v1h-1l-2 2h-3l-1 1h-4v1h-1l-1 1h-1l-2 2l-1 -1h-2v1h-1l-1 1l-1 -1h-1v-1l-1 1h-2v-1h-1v-1h-1v-1h-3l-1 -1h-2v-2l-1 -1v-1l-3 -3h-1v1h-1l-1 1M82 456h1v2h1v1l1 1h5l1 1h1v1h1v1h1l1 1l1 -1h4v-1h1v-1h1v-1h3l1 -1v-1h1v-1h1l2 -2v-1l2 -2v-1l3 -1l1 1h2v-1h1v-1l1 -1h1v-1h1v-1h4v1h1l2 2v1l1 1h2l1 -1v1h2l2 2h1l3 3v1h1v1l1 1M143 502l-1 1h-3l-1 -1h-5l-1 -1h-2v-1v1h-3l-1 -1h-2l-1 1h-4l-1 -1h-1l-2 1h-3l-3 2h-4l-2 2h-1l-1 1h-2v1h-1v1h-1l-1 -1v-1l-4 -1h-3l-1 -1h-1v-1h-1l-1 -1l-1 1h-2v1M143 305h-4l-1 -1h-5l-1 -1h-2l-1 -1h-5l-3 -2h-2v1h-4l-1 1h-1l-3 2h-7l-1 1l-2 -1h-1l-2 -2v1h-4l-1 -1l-1 1h-9v1M102 384h3l1 1h1l2 1h5v1h1v1h1v1l1 1v1h3v4h-1v3h-1v1l-1 1v1h-1l-1 1h-3v2h-1v1l-1 1h-2l-1 1l-1 -1h-1l-1 1v1h-1v1h-1l-2 -2v-1h-4l-1 -1l-1 1h-2l-1 -1v-1l-2 -2v-3h-1v-3h-1v-4h1v-1l1 -1h2l1 1l2 -2h1v-1h1v-1h1v-1h2l1 1v-1h1v-1l1 -1M82 468h2l1 1h5l1 1l4 1h3l1 -1h6l1 -1h4l1 -1h1v-1l1 -1h1l1 -1h3v-1h1v-1h7v-1l1 -1h1l2 2h5v1h1l2 2h2v1h2v1h1M143 497h-1l-2 1l-1 -1h-1v-1h-7v-1h-2l-1 -1h-5l-1 -1h-2v-1v1h-4l-1 1h-1l-3 2h-8l-1 1h-2l-1 -1h-6l-1 -1h-6l-1 1h-3M143 301h-6l-2 -1h-3l-2 -1h-5l-1 -1h-1l-3 -2l-1 1h-2l-2 1h-3l-2 1h-6l-1 1h-3l-1 -1h-1v-1h-1l-1 1h-12l-2 1M82 472h8v1h5l1 1h2l1 -1h12l1 -1h1v-1h2v-1h3l2 -2h3l2 -1h1l1 -1h1l1 1h4l1 1h2l1 1h1l2 1h1l1 1h1M143 494h-3l-1 -1h-6l-2 -1h-1l-1 -1h-5l-3 -2h-2l-2 1h-3l-1 1h-9l-1 1h-3l-1 -1h-3l-1 1h-1l-2 -1h-5l-2 1h-3M143 298h-2l-1 1v-1h-5l-2 -1h-4l-1 -1h-1l-2 1v-1h-2v-1h-1l-1 -1h-17v1h-1v1h-4l-1 -1h-1l-1 1h-9l-2 1h-3M82 474h3l2 1h5l2 1h3v1l1 -1h4l2 1h6l1 -1h2l1 -1l4 -1l1 -1h1l2 -2h3l1 -1h3l1 1l3 -1l1 1h2l1 1h4l1 1h1M143 491h-5v-1h-6l-2 -1h-5l-1 -1h-2l-2 -2h-6l-1 1h-1l-2 -1h-4l-3 2h-7l-1 1h-3l-1 -1h-4l-1 1h-4M90 286h0M93 286h7l2 1h1v4h-1l-2 1h-4v1h-8l-1 1h-4l-1 1M115 286h1v1h1v3l-1 1h-2v-1h-1v-2l1 -1v-1h1M143 296h-6l-2 -1h-5l-2 -1h-4l-1 -1h-1l-2 -2h-2v-5h1M82 476h1l1 1h4l2 1h6l1 1h5l1 1v3l-1 1h-5l-2 2h-4l-1 -1l-2 1h-3v1h-3M143 489h-3l-1 -1h-7l-1 -1h-2l-1 -1l-3 1l-1 -1h-1v-1h-2v-1h-1l-1 -1h-2l-2 -1h-1h1v-2l1 -1h2v-1h1l4 -4h2l1 -1h3l1 1l1 -1h3l1 1h6l1 1h1M82 286h1l1 1h5v3l-1 1h-4l-1 1h-1M92 287l1 1h1v2h-3v-2l1 -1M143 294h-5l-1 -1h-7l-2 -1h-4v-1h-2v-1h-1v-4h1M82 479h5l1 1h1v1h-1v2h-2l-1 1h-3M92 480h1v3h-2v-3h1M143 486h-8v-1l-2 1l-5 -2h-1l-2 1l-2 -2h-1l-1 -1v-3h1v-1h1v-1h2l2 -1h1l1 1h2v-1h1l1 -1v1h9l1 1M140 286h3M143 292h-3l-2 -1h-3v-1h-2l-3 1v-4h1l1 -1h2l1 1h1l2 -1h2M143 484h-5l-2 -1h-5v-4h1v-1h2v1h4v-1h5M203 307h-3l-1 -1h-8v1l-1 -1h-5l-2 -1h-5l-1 1h-5l-2 1h-1l-1 1l-3 -3l-2 1h-4l-1 1l-2 -1h-1l-2 1h-2l-1 1h-3l-1 1h-1l-1 -1h-1M143 385l2 -2h4l1 -1h4l1 -1h2l1 -1v1h4l1 -1h1l1 -1h1v-1h1l1 -1h2l1 1h2v1v-1h1l1 -1h1l1 1h1l1 1h1l1 1v1h1v2h1v1l1 1v1h1l1 1h2v-1h2v-1h1l1 1h1v2h1v1l2 2v4v-1h-1l-1 -1h-1v-2h-3l-1 1h-1v1h-1v2l-1 1h-1v2h-1v2h-1v1h-1v1h-1v1h-2v1h-1v1h-1v1l-1 1v1h-3v1h-1v1l-2 2v1l-1 1v2h-1v1l-3 -3v1h-1v1h-7l-1 -1h-1v-1l-5 -5v-1h-1v-1l-1 -1v-1h-1l-1 -1v-1h-1v-1h-1v-1h-1v-2M143 454l1 -1l4 -1v1h1v2l1 1v1h2l1 1l1 -1h1v-1h1l2 -2h2l1 -1h5v-1l1 -1v-1l1 -1h1v-1h1v-1h1v-1h1v-1h1v-3h1v-3h1v-4h2v1h2l1 1h1l1 1h1l1 1v3l1 1v1h1v1l1 1h1v1v-1h1l2 -2v1l2 2v1h1l1 1h1v1h1v1h3l1 -1v1h2M203 500h-2l-3 -2h-6v1h-4l-1 -1h-11v1h-1l-1 -1h-2l-2 1h-1l-1 1l-2 -2h-7l-1 1h-5l-3 2l-2 -1l-1 1h-4M203 302l-2 -1h-1l-1 1h-1l-1 -1h-3l-1 1l-1 -1h-3l-1 -1l-2 1h-10l-1 1l-1 -1h-15l-1 1l-3 -2v1h-9l-1 1l-1 -1h-1M168 389v1l1 1v2l1 1l-1 1v4l-1 1v2l-4 -4h-1v-3l1 -1v-2h1v-2h2l1 -1M143 467h1l1 -1h4l1 1l3 -1v1h1l1 1v1l1 -1h5v-1h2l2 -1h3l2 -1h1l2 1v-1h1l1 -1v-1h3l1 -1v-1h1l1 -1l2 1h1l2 -1l7 1v1h2v1l1 1h2l3 1l1 1h1M203 494h-6l-1 -1h-1l-2 1h-2l-2 -1h-4l-2 1l-2 -1h-4l-1 1h-1l-1 -1h-10l-1 1l-1 -1h-2l-1 1h-2l-1 -1h-9l-1 1h-3M203 299h-12l-1 -1h-13l-1 1h-1l-1 -1h-15l-1 1v-1h-5v1l-1 -1h-3l-1 1h-5M143 470l2 -1h5l4 1v1h7l1 -1h4l2 -1h5l1 -1h2l1 -1h2l3 -2h2l2 -1h5l1 1h1l1 1h1v1h1l2 1h3l1 1h1M203 491h-3l-2 1l-1 -1h-24l-3 -1h-5l-1 1h-7l-1 -1h-1l-1 1h-11M203 297h-12l-2 -1h-4l-2 1l-2 -1h-4l-2 1l-1 -1h-21v1h-10M143 472l2 -1h3l2 1h3l1 1h7l1 -1h8l3 -1h2v-1h3l1 -1h2l1 -1h4l2 -1l3 1h3v1h1l1 1h2l2 1h3v1M203 489h-2l-3 1l-2 -1h-21l-2 -1h-4l-1 1l-1 -1h-4l-3 1h-2l-1 -1h-3l-1 1h-10M203 295h-2l-2 1h-2l-1 -1h-22l-1 -1h-3l-2 1l-2 -1h-3l-3 1l-2 -1h-4l-1 1h-8l-2 1M143 473h7l4 1l1 1h5l2 -1h11v-1h2v-1h3l2 -1h3v-1h9l1 1h2l1 1h3l2 1h2M203 488h-10l-2 -1h-5l-2 1h-2l-1 -1h-14l-2 -1l-2 1h-5l-2 -1h-1l-1 1h-6l-2 1h-3M203 294h-20l-1 -1h-9l-3 -1v1h-4v-1h-1l-2 1h-4l-1 -1h-3l-1 1l-4 1h-7M143 475h10v1h1l1 1h4l1 -1h13l1 -1h1v-1h3l2 -1h6l1 -1h5l1 1h3l2 1h3l1 1h1M203 486h-2l-3 1l-2 -1h-21l-1 -1h-4l-2 1l-1 -1h-10l-2 -1v1h-1l-1 1h-10M153 286h15M168 286h6M203 292l-2 1h-5l-3 -1h-18v-1h-6l-1 1l-3 -2l-1 1h-6l-3 -1v1h-1l-1 1h-1l-2 1l-2 -1h-3l-1 1h-1M143 476h3l2 1h5l1 1h1v1h3l2 -1h5v1l1 -1h7l1 -1h1v-1h5l1 -1h6l1 -1h4l1 1h3l2 1h5v1M203 485h-15l-2 -1l-2 1h-2l-1 -1h-6l-1 -1h-4l-1 1h-2v-1h-6l-1 1l-1 -1h-5v1h-1l-2 1h-2l-1 -1l-2 1h-3M143 286h2M145 286h7l1 1h1v3h-1l-1 1h-9v1M202 286h1M168 287l1 1v2h-2v-2l1 -1M203 291h-21l-1 -1h-6l-1 -1v-2h1v-1h5M143 478h8l2 1h1v3l-1 1h-2l-1 1v-1h-4l-1 1h-2M168 480h1v2l-1 1v-1h-1v-2h1M203 483h-1l-1 1h-5l-2 -1h-10l-1 1v-1h-2l-3 -1l-3 1v-1h-1v-3h1v-1h5v-1h3l3 1v-1h2l1 -1h2l2 1h8l1 1h1M187 286h4v3l-3 1l-1 -1v-3M199 286h2l1 1v3h-7v-3h3l1 -1M143 287h3v2l-1 1h-2M190 478h1l1 1v2l-1 1h-3v-3l2 -1M200 479h2v3h-8v-3h6M143 479h3v3h-3M264 306h-5l-3 1l-1 -1h-3l-1 -1h-8l-1 1h-8l-2 -1h-9l-1 1h-3l-1 1v-1h-2l-3 -1l-1 1h-6v1h-3M203 381h2l1 -1h1l3 -2h2l1 1l2 -1h2l1 -1h3l1 1h4l2 1h1l2 2l2 -1h8l1 1h1v1l1 1v-1l1 -1h1v-1v1h2v1h12l1 -1h2l1 -1M264 411h-1l-1 -1h-1v-1h-1v-1h-1l-2 -2h-1l-2 -2h-4v1h-1l-1 1h-1v1h-2v-1h-2v1h-1v1h-1v1h-2v1l-2 -1h-3l-2 1h-1v1h-1v1l-1 1v1h-1v-1l-1 -1v-1h-1v-1l-3 -1l-1 1h-4v1h-1l-1 1h-3v-1h-1v-1l-1 -1h-4l-2 2h-1l-1 1M203 452l1 1h1l1 1v1h1v1h1l2 2h1v1h1v1l1 1h1l2 -2h1l1 -1h2l1 1l1 -1h2l2 -2h4v1h1v1v-1l1 -1v-1h1v-2h1v-1h1v-2l1 -1h2l1 1l1 -1h2v1h1v1h1v-1l1 -1v-1h1v-1l3 3h3l2 1h1l3 3v1h1l1 1h1l3 2M264 499h-3l-2 -1l-3 1h-2l-1 -1h-7l-1 -1h-2l-1 1h-1v1h-5l-1 -1h-3l-1 -1l-3 1h-2l-3 -1v1h-2l-2 1h-1l-1 -1h-5l-1 1l-2 -1h-1l-1 1h-4M264 301h-3l-1 1h-3v-1h-4l-2 1h-2l-2 -1h-1l-1 1h-11l-3 -1l-3 1l-2 -1l-3 1l-2 -1h-18M223 389h3l1 1h1l1 1v1l2 3h-1v4l-2 3v-1l-2 -2h-1v-1h-1l-1 -1v1h-2l-1 -1v-2h-1v-2h1v-1l3 -3M203 467h5l1 1h3l1 1l1 -1h1v-1h12l1 -1h5v-1h1l1 -1h9l2 1h10l1 1h5l1 1h1M264 494h-7v-1h-2l-1 1h-4l-1 1l-1 -1h-7l-2 1h-1l-1 -1h-21l-2 -1h-1l-2 1h-1l-1 -1h-1l-2 1h-3M264 299h-4l-1 1h-1v-1h-13l-1 1l-2 -1h-2l-1 1l-2 -1h-29l-2 -1l-2 1h-1M203 470h5l2 1h5l1 -1h12v-1h6v-1h5l2 -1h3l1 1h12l2 1h4l1 1M264 491l-3 1h-3v-1h-4v1h-6l-2 -1l-1 1h-14l-3 -1h-24l-1 1M264 297h-3l-2 1h-1l-1 -1h-12l-1 1l-3 -1h-13l-2 -1l-3 1h-20M203 472h5l2 1h5l1 -1h2l3 1h2l3 -1h5l1 -1h3l1 -1h10l2 1h5l1 -1l1 1h7l2 1M264 490h-6l-1 -1h-2l-1 1h-6l-2 -1l-1 1h-14l-3 -1h-15l-2 1l-2 -1h-4l-1 1h-1M264 296h-7l-1 -1l-2 1l-3 -1l-1 1h-3l-1 -1v1h-12l-3 -1h-18l-2 1l-3 -1h-2l-1 1h-2M203 474l1 -1h3l1 1h12l1 1h2l8 -2h4l1 -1l3 1l2 -1h5l3 1h3l2 -1l2 1h7l1 1M264 488h-7l-1 -1l-1 1h-11v1l-1 -1h-15l-1 -1h-2l-2 1l-2 -1h-3l-1 1h-14M264 294h-3l-2 1l-1 -1h-27l-1 -1h-12l-2 1h-12l-1 1M203 475h2l1 -1v1h1l1 1h21l2 -1h3l2 -1l3 1l1 -1h9l2 1l1 -1h4l2 1h2l1 -1l1 1h2M264 487h-6l-1 -1h-2l-1 1l-3 -1l-2 1h-8l-2 -1h-1l-2 1h-2l-3 -1h-4l-1 -1l-1 1h-10l-2 1h-2l-2 -1h-3l-1 1h-2M215 286h14M264 293h-7l-1 -1l-1 1h-3l-1 -1l-1 1h-10l-1 -1l-2 1h-2l-1 -1h-6v-1h-4l-1 1h-7l-2 1h-4l-2 -1h-2l-1 1h-2v1M203 476h4l1 1h6l1 1h2l1 -1l1 1h9l2 -1h2l1 -1h3l3 1l1 -1h18l1 1l1 -1h3l1 1M264 485h-18l-2 1h-3l-1 -1h-10l-1 -1h-2l-1 -1l-1 1h-7l-2 1h-10l-1 1h-2M207 286h1v1l2 -1h5v1h4v1h1v1l-3 2h-3l-1 1l-2 -1h-6l-1 1h-1M255 286h9M203 286h2M264 292h-5l-1 -1h-4v1l-1 -1h-9l-3 1v-1h-10l-1 -1h-1v-3h1l1 -1h6l2 1v-1h14M203 478h1l1 -1h1l1 1h1v1h3l2 -1h1l2 2l1 -1h2l1 1h1v1h-1v1l-2 1h-3l-2 1h-8l-1 1h-1M264 484h-5l-2 -1h-2l-1 1l-2 -1h-1l-2 1h-9l-1 -1h-2l-1 1h-2l-2 -1h-4v-2l-1 -1l1 -1h3l1 -1h4l2 1h1l1 -1h13l1 -1l1 1h9M253 287h2v3h-3v-3h1M213 287h1v3h-3v-2l2 -1M203 287h1l1 -1h1l1 1v2l-1 1h-1l-1 1h-1M264 290h-6v-2l1 -1h5M253 479h1l1 1v2h-3v-2l1 -1M203 479h2l1 -1v1h1v1h1v1l-1 1h-1l-3 2M213 480h1v2l-1 1l-2 -1v-1l1 -1h1M246 480h3v2h-4v-2h1M264 483l-4 -1v-2l1 -1l3 1M324 305h-2l-1 1h-6v1h-1l-1 1h-2l-2 1v1h-1v1h-1v1h-3v-1h-1v-1h-1v-1h-1v-1h-3v1l-1 1v1h-3l-3 -3h-18l-2 -1l-1 1h-3l-1 1v-1h-2M264 379v-1h1v-1h1v-1h1l2 -2l1 1h5l1 1h3l2 -1l1 1h3l1 -1h3l1 1h2l2 -1h2l1 -1l1 1h2l1 -1h4l1 1h2l1 -1h6l2 1l1 -1h3l2 2h1M324 409h-2l-2 2h-2l-1 -1l-1 1h-2l-2 2h-2l-1 1h-5v-1h-1l-1 -1h-1v-1h-2v-1l-1 1h-2v-1l-2 -2h-1l-1 1h-3l-2 2h-2l-2 2h-1v1h-2l-1 -1l-3 1h-2l-2 -1h-1l-2 1h-3v-1l-1 -1v-1h-1v-1M264 458h1l3 -2h2l1 1l1 -1h4l3 -1h2v-1l1 1h1v1h2l1 -1l1 1h3l1 -1h1v2h1v1l1 1l1 -1v-1l2 -3v-1h1v-2h1v-1v1h1v3l2 3l2 -1l1 1h5l1 -1h1v-1h1v-2h1v-2l1 1v1h1v1l1 1v1h1l1 1h1v1h1v1h1v-1h1v-2l1 -1v-2M324 497l-2 1h-6l-2 2h-2l-1 1h-2v1h-1v1l-1 1v1h-1l-1 -1h-1v-1h-1l-2 -2h-1l-1 -1v1h-1v1h-1v1h-3l-2 -2h-2l-1 -1l-1 1h-3l-1 -1h-1l-1 1h-1l-2 -1h-9l-1 1h-3l-2 -1M324 301l-2 1h-3l-1 1h-6v1h-3l-2 1h-1v-1h-1l-3 -2h-2l-1 -1v1h-1l-1 1h-2l-1 1l-2 -1h-2l-1 -1h-21l-2 1l-2 -1M264 389l1 -1h2v-1l2 -2v1h1v1h1v1h1v-1h1v-1h2v1h1v1h3l1 -1h2l2 1h1l1 -1h3l1 -1h7v1h1v2h1v2h1v2h1v1l-1 1v3h-1v1h-1l-1 1h-1v-1h-1v-1h-1v-1l-1 1h-1v1h-6v1h-2l-2 1h-1l-2 -1l-1 1h-4v1v-1h-2v-1h-3l-1 1h-4v-1M324 398l-1 1h-1l-2 1h-3l-3 1h-4l-1 1l-1 -1h-1v-1l-2 1h-1v-1h-1v-5h-1v-2h1v-2h1v-3h1v-1h1l1 -1l2 1l3 -1h2l3 1l1 -1h4l1 1h1M264 468l2 -1h10l2 -1h2l1 -1h1v1h3l1 1h1l2 1h1l1 -1h3l3 2v-3h1v-1h4l1 1h1v1h3l1 1h13l1 1h2M324 494h-5l-1 1h-1l-2 1h-5l-1 1h-2l-2 -1h-2l-3 -2h-2v1h-1v1h-7l-1 -1h-4l-1 -1h-3l-2 1h-3l-2 -1h-6l-1 1h-1l-2 -1M324 299h-3l-2 1h-5l-2 1h-7v-1h-2l-1 -1h-5l-1 1h-10l-1 -1h-18l-1 1l-2 -1M264 471h9l1 -1h6l1 -1h1l2 1h1l1 1h9l1 1h1v-1h1v-1l1 -1h3l2 2h8l2 1l2 -1h4l1 1h3M324 492h-8l-1 1h-11l-1 -1h-1l-2 -1h-2l-1 1h-1l-2 1h-3l-1 -1h-6l-3 -1l-2 1h-3l-2 -1l-3 1l-1 -1h-2l-2 1l-2 -1M324 296l-1 1h-6l-2 1h-3v1h-5l-1 -1h-2l-1 -1h-7l-1 1h-4l-2 -1h-25M264 474h5l2 -1h4l1 -1l2 1h1l2 -1h3l1 1h3l1 1h8l2 -2h3l1 1h1v1l1 -1h3l1 1h8l2 -1l1 1h4M324 489l-2 1h-8v1h-9l-1 -1h-2v-1h-4l-1 1h-12l-1 -1h-11l-2 1l-1 -1h-2l-2 1l-2 -1M324 295h-2l-2 1h-3v-1l-1 1h-3l-1 1l-3 -1h-5l-1 -1h-7l-1 1h-9l-2 -1h-15l-3 1l-2 -1M264 476h10l1 -1h11l1 1h8l2 1v-1h1l1 -1h4l1 1h1l2 -1l1 1h10l1 -1l1 1h4M324 487l-2 1h-8v1h-7l-2 -1h-3v-1h-5l-1 1h-13l-2 -1h-2l-3 1l-2 -1l-2 1h-1l-2 -1l-2 1h-1l-2 -1M278 286h2M288 286h8l1 1v-1h3M302 286h4M308 286h4M316 286h3M320 286h4M264 286h11M324 293h-3l-1 1h-2l-1 -1l-2 1h-1l-1 1h-3l-1 -1h-3l-2 -1h-9l-1 1h-8l-1 -1h-17l-2 1l-1 -1h-1M264 478h11v-1h11l1 1h2v1v-1h5v1h3l1 -1l4 -1v1h4l1 -1l2 1h3l2 -1l2 1h1l2 -1l1 1h4M324 486h-4l-1 1v-1h-4l-1 1h-7l-2 -1h-3v-1l-2 1h-2l-1 -1h-1l-1 1h-14l-2 -1l-2 1h-1l-2 -1l-1 1h-9M276 287v-1l1 1h1v1h1v3h-5v-3h1v-1h1M286 287h1l1 1h6l1 1v2l-1 1l-2 -1h-1l-1 1h-6l-3 -1h-2v-3h1l1 -1h5M264 288h9v3h-2l-2 1h-3l-1 -1h-1M324 291h-2l-1 1h-3l-1 -1l-1 1h-2l-1 1h-3l-1 -1h-3l-2 -1h-4l-1 1v-4h6l1 -1h2l1 1l4 -1l1 -1l3 2l2 -1h1l1 1h2l1 -1M276 479h1l2 1l7 -1l1 1h1v1h3l1 -1v1h2v3h-13l-1 -1h-3l-1 1l-1 -1h-1v-2l2 -2M264 481h9v2l-1 1h-8M299 481h2h-1v2l-1 1v-3M324 484h-3l-1 1h-1l-1 -1h-3l-1 1h-1l-1 1h-1l-1 -1h-1l-2 -1h-4v-1h-1v-2h1l1 -1h2l1 -1l1 1h2l2 -1h3l1 1h1l2 -1l1 1h4M385 309v-1h-6l-2 -1l-2 1h-15v1h-2l-1 1v-1h-2l-1 -1h-4l-1 -1h-2l-1 -1h-2l-2 2h-1l-1 1h-3l-1 -1h-5v1h-1l-1 1h-2l-1 -1h-2M324 377h1v1h1v1h1l1 1h14l1 1h1v1l3 -2h3l1 1h5l1 -1h8l1 -1h1l2 -1h2l1 -1h1l2 1h3v-1h2l1 -1h3l1 -1M385 409h-4l-1 1h-1v1h-1l-1 1v1h-1v2h-1v2h-1l-1 1h-1v-1h-1v-1h-1v-1h-3v1h-1l-1 1v1h-1v1l-1 1v3h-1v1v-1l-1 -1v-1h-1v-1h-1v-1l-1 -1h-1v-1h-1v-1h-2l-1 1v1h-1v1h-3v-1h-1l-3 -2h-1v2h-1v2h-1v1l-1 -1h-1l-2 -2h-4v-1h-1l-1 -1h-8M324 453h1l1 -1h1v-1h1v-1h1v-2h2v-1h1v1h1v4h1v2h1v1h1v1h2l1 1h3l2 1h1v-1l3 -3h7l1 -1h2l1 1h4l2 1v-1h1v-1h4v1h1v1h1v1l1 -1h1v-1h1l1 -1h1l1 -1v-1h1v-1h1l1 1h2v1l1 1h1v1M385 501h-1l-2 -1h-4l-1 -1l-2 2h-6l-2 -1l-2 1h-6l-1 1h-1l-1 -1h-1v-1h-4l-1 -1h-4l-1 -1h-1v1h-1v1l-1 1h-5l-3 -1l-2 1h-1l-1 1h-3l-1 -1h-2M385 302h-3l-2 -1l-1 1h-4l-3 -1l-1 1l-4 1l-2 -1h-5l-2 -1h-1l-2 1h-1l-2 -1h-1l-1 1l-1 -1h-6l-1 1h-8l-1 1h-3l-1 1v-1h-2l-2 -1h-1M324 468h8l1 -1h2v1h2v1h3l2 -1h3l1 -1h1l1 -1h2l1 -1h2l1 1h2l1 1h3l2 -1l2 1h1l1 1h1v1l1 -1h9v1l1 -1h2l1 -1h4M385 494h-8l-2 1l-2 -1h-1l-2 1h-3l-2 -1h-1l-1 1h-1l-2 -1h-2l-1 1l-1 -1h-9l-2 -1h-1l-1 1h-1v1l-1 -1h-5l-2 1h-2l-1 1h-3l-1 -1h-1l-1 -1h-1M385 299h-38l-2 -1h-1l-1 1h-7l-2 1h-7l-1 -1h-2M324 471h10v-1l1 1h2v1h3l1 -1h5l1 -1h3l1 -1h2l2 1h1l1 1l3 -1h2l4 1l1 1h1l1 -1h6l2 1l1 -1h4v-1l2 1h1M385 491h-1l-2 1l-1 -1h-4l-2 1l-3 -1l-2 1h-3l-2 -1h-7l-1 1l-2 -1h-12l-1 1l-2 -1h-4l-1 1h-3l-1 1h-3l-1 -1h-1l-1 -1h-1M385 297h-4l-1 -1l-1 1h-15l-2 -1l-2 1h-13l-3 -1l-1 1h-11l-1 1h-4l-1 -1h-2M324 473h1l2 1l2 -1h7l1 1h2l2 -1h5l1 -1h8l1 1h9l1 1h2l1 -1h2l1 1h6l2 -1h5M385 489h-1l-2 1l-1 -1h-4l-2 1l-3 -1l-2 1l-2 -1h-10l-1 1l-2 -1h-19l-1 1h-4l-1 1h-1l-2 -1h-1l-1 -1h-1M385 296l-3 -1h-19l-1 -1l-2 1h-23l-2 1h-9l-1 -1h-1M324 475l1 1h3l1 -1h15l3 -1h8v1h10v1h2v1l1 -1h1v-1h1l2 1h7l1 -1h5M385 488h-4l-1 -1l-3 1h-8l-1 -1h-2l-1 1l-2 -1h-3l-2 1h-5l-1 -1h-2l-3 1l-3 -1l-2 1h-3l-2 -1l-1 1h-6l-1 1l-1 -1h-4M326 286h2M362 286h1M365 286h3M372 286h7M385 294h-3l-1 -1h-3l-1 1h-2l-2 -1h-2l-1 1l-1 -1h-4v1v-1h-2l-1 -1l-1 1h-5l-1 1l-1 -1h-11l-1 1h-3l-2 -1l-3 1h-8l-1 -1h-1M324 477l3 1l2 -1h3l2 -1l2 1h4l2 -1h5l3 1h15v1h1l1 1l1 -1h1v-1h2l1 1h7l1 -1h5M385 486h-16l-1 -1h-2l-1 1h-1l-1 -1h-3l-1 1h-28l-1 1h-3l-1 -1h-2M324 287h6l1 -1h18l1 1h2l2 -1h1l1 1h2l1 -1h1l1 1h1v3l-1 1h-2l-2 1h-5l-2 -1l-3 1h-23M364 287h1l1 1h1v3h-2v1l-3 -2v-2l2 -1M385 292h-4l-1 -1l-2 1h-8l-1 -1h-1v-4h1v-1h1l1 1h4l2 1l1 -1h2l1 -1h4M324 479l3 1l1 -1h4l1 -1h3l1 1h2l1 -1h8l2 1h11l1 1h4v3h-1v1l-2 -1h-3v1h-2l-1 1l-2 -1h-13l-3 1l-1 -1h-2l-2 1l-1 -1h-2l-1 1h-3l-2 -1h-1M385 484l-3 1l-1 -1h-5l-1 1l-2 -1h-4v-1h-1v-3h1v-1h2l1 1h1l2 -1l1 1h3l3 -2h1l2 1M339 288l3 -1h2l1 1v2h-3l-1 1h-2l-1 -1v-2h1M385 291h-3v-3h3M341 480h5v2l-1 1h-7v-2l1 -1h2M334 480h1v1h1v2h-2l-1 -1l1 -1v-1M382 481v-1l1 1v2h-1v-2M445 309h-2l-1 1h-3l-3 -2h-18v1l-2 -1h-7l-1 1h-1v1l-1 1v1h-4v-1h-1l-3 -2h-1l-2 2h-5l-3 -3l-1 1h-1M385 380h1l1 1h1l1 -1h1l2 1h6v1l1 1h1v1v-1h1l1 -1v-1h1l3 -3h1l1 -1h2l1 -1h4v-1v1h3v1h1l1 1h1v1h1v1h1l2 -1h1l2 1h3v-1h3v1h1v1h1l2 -1v1h1l1 1h3l1 -1h1M445 412h-3l-1 -1h-3l-3 -3v2h-1v2h-1v1h-1l-1 1h-1v1h-1v1h-1v1h-6v-1h-1v-1l-2 -2h-1v-1l-2 1h-6l-2 -2v-1h-3v-1h-1v-1h-1v-1l-1 -1h-2l-1 1v1h-1v2h-3l-2 -1h-3l-1 -1h-4M385 455v1h1l1 1v1l3 -1h6l1 -1h1v-1l1 -1v-2h1v-1l2 2h1v2h1v1h1v1v-1h1v-3h1v-1h2l1 1h1v1l1 1v1h1v1h1v1h1v1h3l1 -1h1v-1h1v-1h1l1 -1v1h1v1l1 1h1l3 -2h1v-1l1 1h2v1l2 3v1l1 -1v-1l1 -1v-1h1v-1h1l1 -1h3l1 1h1v1M445 501h-2l-2 2h-2l-2 -2h-1l-1 -1l-1 1h-6v-1l-3 1l-2 -1h-3v1h-4l-1 -1h-4l-1 1h-2v1h-1v1h-1v1h-1v1l-2 -1h-1v-1h-2v-1h-3l-1 1h-3l-1 -1l-1 1h-1l-1 -1h-1v-1h-3M445 306h-26l-1 1l-1 -1h-8l-1 -1h-5l-1 -1h-5v-1h-6l-3 -2h-3v1M438 391v-1v1l1 1v1h1v1l1 1v1h-1v1h-1v1h-1v1v-1h-1v-6l1 -1M385 469h5l1 -1h5l1 -1h1v-1l2 -2l1 1h1v1h3v-1h1v-2h1l1 -1l1 1h1v1h1v1h1v2l1 1h2v1l1 -1h3l1 -1h7v-1h1l1 1h1v1h3l2 1h3v-1h2v-1h1l1 -1h1l2 2M445 498h-7v1h-3l-1 -1h-2l-1 1h-1l-1 -1h-6l-3 1h-3l-2 -1h-7v-1h-6l-1 -1h-6l-4 -1l-3 -2h-1l-1 1h-1M445 303h-1l-1 -1l-3 1h-17v1l-1 -1h-3l-1 1h-1l-1 -1h-7l-1 -1h-5l-2 -1h-5l-1 -1h-3l-1 -1h-1l-2 -1h-2l-1 1M385 472h7l2 -1h4v-1l1 -1v-1h2v1h1v1h3l1 -1v-1h1v-1l1 -1v1h2v1h1v1h1v1l1 1h2v1l1 -1h6l1 -1h5l1 1h1l2 1h4l1 1h1l2 -2h4l1 1M445 495h-7l-3 1l-2 -1l-2 1h-16v-1h-7l-2 -1h-6l-1 -1h-5l-2 -1h-1l-1 -1h-5M445 301l-2 -1h-5l-3 1l-2 -1l-1 1h-14v1l-1 -1h-8l-1 -1h-2l-1 -1h-8l-1 -1h-4l-1 -1h-2l-2 -1l-2 1M385 475l2 -1h8v-1h3l1 -1v-1h2l1 1h1l1 1h1l1 -1v-1h1v-1h3v1h1v1h1v1h2l1 1l3 -1h11l3 2h5l1 1v-1h1l1 -1h5v1M445 493h-1l-1 -1l-1 1h-16l-1 1v-1h-5l-2 1l-2 -1h-8v-1h-6l-2 -1h-6l-1 -1h-2l-1 -1h-5M437 286h1M445 299v-1h-11l-1 1h-14l-1 1l-2 -1h-8l-1 -1h-2v-1l-2 1h-1l-2 -1h-5l-1 -1h-2l-2 -1h-5M385 476l2 1l1 -1h7l2 -1h1l2 -2l1 1h2l1 1h1l1 -1v-1h1l1 -1l2 1h1v1h1v1h1l2 1l3 -1l2 1l1 -1h7l1 1h1l3 2l1 -1h2l1 1h1l1 -1h1v-1h4l1 1M445 491h-2v-1l-1 1h-13l-1 1h-11l-2 -1h-8l-2 -1h-8l-1 -1h-2l-1 -1h-2l-1 -1h-3l-2 1M429 286h2l1 1h5l1 1l2 -2h3l2 1M385 286l2 1l1 -1h6M445 297l-1 -1h-3l-1 1l-2 -1h-3l-2 1h-5l-2 1h-4l-2 -1l-1 1h-3l-1 -1h-8l-1 -1h-10l-1 -1h-1v-1h-2l-1 -1h-6M385 478l2 1l1 -1h4v1l1 -1h2v-1h2l1 -1h6v1h1l1 -1h1v-1l1 -1l2 1h1v1h1l1 1h9l1 -1l2 1h3l1 1h1v1h1l1 1h2l1 -1h1l1 1h2v-1h6M445 489l-2 -1h-1l-1 1h-12v1h-14l-2 -1l-3 1l-5 -2h-1l-1 1l-1 -1h-7v-1h-1l-1 -1h-8M412 286h7l1 1l1 -1h4l2 1h1l1 1h2l2 2l1 -1h2l1 1h1l1 -1h6M385 288l2 1v2h-2M445 295l-1 -1h-3l-1 1l-2 -1h-4l-1 1h-4l-1 1h-13v-1l-2 1h-4l-1 -1h-2v-1h-2l-1 1l-1 -1h-6l-3 -2h-3l-2 -1v-3h1l1 -1l1 1h3v-1h1l1 -1h8l1 1l1 -1h1M385 480v1h3l2 -2v1h1l1 1v2l-1 1h-3v-1h-1v-1v2h-2M445 487l-2 -1l-2 1h-11l-1 1h-1v1h-3l-2 -1h-4l-1 1l-1 -1h-9v-1h-6l-2 -1l-2 1h-1l-1 -1h-1l-1 -1h-1v-4l2 -2h2l1 -1h6l1 1l1 -1h1v-1h4v1h3l1 1l2 -1h1l1 1h2l1 -1h3v1h3v1h1l3 2h2l1 -1h1v1h1l1 1l2 -2h4l1 1M410 286l1 1h2l1 1h3l1 -1v1h2v1l3 -2l1 1h2l1 1h1l1 1h1v3h-1l-1 1h-1l-2 1h-2l-2 -1h-2l-1 1h-1l-1 -1h-8l-3 -2l-2 1h-2l-1 -1l-1 1h-2l-1 -1h-1v-3l1 -1h8l1 1l1 -1h1v-1h1l2 -1M408 479h3l1 1h6l1 1h2l1 -1h3l1 1h2v1h1v4h-1v1h-6l-2 -1l-1 1h-2l-1 -1h-9l-1 -1h-2l-1 1h-1l-1 -1h-5l-1 -1v-3h2v-1h6l1 1h2l2 -2M410 288l2 1h2v3l-4 1l-1 -1h-1v-3l2 -1M416 289h2l1 1v3h-2l-1 -1v-3M422 289h1l1 1h1v3h-3v-2h-1l1 -1v-1M409 481h2l2 1v2h1l-4 1l-1 -1v-3M416 482l2 -1v1h1v3l-1 1l-3 -2v-1h1v-1M422 482h3l1 1v2l-1 1l-2 -1h-1v-3M506 310l-2 -1h-7l-1 1l-2 -1h-1l-1 1h-1v1l-4 -1l-1 -1h-3l-1 -1h-8l-3 2h-1l-1 -1h-6l-1 -1h-3v1h-1v1h-8l-1 -1h-2v1h-2M445 379h2l1 1l3 -2h4v1l1 -1h3l1 1h1l1 -1h4l1 1h2l1 -1h5l1 -1h1v-1h2l1 -1h3l1 1h2v1h4v1h2v1h1v1l3 -2l2 1h8M506 414h-1v-1h-2v-1h-2v-1h-2v-1h-4v-1h-3l-2 2h-3l-1 1h-1v1h-1v1h-1v1h-1l-1 1h-3l-1 1h-1v1l-1 -1v-1h-1l-2 -2h-2l-2 -1l-1 1h-1v1l-2 -1h-4v2h-1v1l-1 1h-1v-1l-2 -2h-1v-1h-1l-1 -1h-6v1h-1M445 453h1v2h1v1l1 1h2l2 -1h1v1h1v1h1v1l1 -1h1v-1l1 -1l1 1h1v1h1v1h1v1l1 1h3v1h1l1 1h1v-1h1v-1h2l1 1l2 -1h4l2 -1v1h1l1 1h1l2 1l2 -1h4l1 1l2 -2h1v-1l1 1h3l1 -1v1h5M506 502h-14l-1 1h-3l-1 -1h-1v-1h-7l-1 -1h-2l-2 1h-2v1h-1v1l-1 -1h-1v-1h-2l-1 1h-1l-1 -1h-3v-1l-3 2h-1l-2 -1v1h-7l-2 1h-1M506 303h-1l-2 1h-2l-1 -1h-15l-1 -1h-1l-1 1h-3v-1h-1l-1 1h-16v-1l-2 1h-14M461 389h3l2 1v1h1v3h1v2h-1v4l-1 1v1h-2l-1 -1h-1l-1 1h-1l-1 1h-1v1v-1h-1v-3h-1v-2l-1 -1v-4h1v-1h1v-1h1v-1h1l2 -1M445 468h2l3 2h11v1h12l3 -1l1 1h7l2 -1l2 1h2l1 -1l1 1h2l2 -1h8l2 1M506 496h-7l-1 -1l-1 1h-3l-1 -1l-2 1h-3l-2 -1h-3l-1 1h-2l-2 -2v1h-11l-1 1l-3 -1h-2l-3 1l-2 -1h-6l-1 1h-4M506 301h-20l-2 -1h-2v1h-2l-1 -1h-1l-2 1h-2l-1 -1h-2l-1 1h-8l-1 -1l-3 1h-6l-2 -1h-5M445 472h3v1h2v1l3 -1h9l1 1h8l1 -1h3l1 1l1 -1h2l1 1h3l1 -1h5l2 1h2l3 -1h4l1 1l2 -1l3 1M506 493h-2l-1 1l-2 -1h-17l-1 -1v1h-4l-1 -1l-1 1h-32M506 299h-20l-1 -1h-3l-1 1h-1l-1 -1h-1l-2 1h-23l-2 -1h-1l-2 1l-2 -1h-1M445 475h3l1 1h8l1 -1l2 1h12l1 -1l1 1h11l1 -1l2 1h10v-1l1 1h7M506 491h-3l-2 1l-1 -1h-3l-1 1l-1 -1h-14v1l-1 -1h-4v1l-1 -1h-8l-1 1l-2 -1h-19M445 286h1M449 286h7M464 286h7M475 286h1M479 286h4M488 286h9M500 286h6M506 297h-3l-1 1h-2l-2 -1l-2 1l-3 -1h-5l-2 1l-1 -1h-3l-1 1h-1l-1 -1h-1l-2 1h-1l-1 -1h-3l-2 1h-6l-2 -1h-16M445 477h3l1 1h6l3 -1h5l2 1h4l2 -1h3l2 1l2 -1l2 1h2l1 -1h5l2 1h7l1 -1l1 1h7M506 490h-21l-2 -1l-1 1h-2l-2 -1l-1 1h-24l-3 -1l-2 1l-2 -1h-1M445 288l2 -1h1l1 1h4l2 -1h16l1 -1h2l1 1h1l2 -1l2 1h3l2 -1h1l2 1h6l2 1l1 -1h4l1 1h4M506 296h-2l-1 -1v1h-19l-1 -1v1h-7v1l-1 -1h-6l-1 1h-2l-2 -1h-12l-2 -1v1h-3l-2 -1M445 479l3 1h6l1 -1h25l1 1l1 -1h7l2 1h5l2 -1l2 1h6M506 488h-4l-1 1l-1 -1h-3l-1 1l-1 -1h-8l-1 1l-1 -1h-4v1l-1 -1h-3l-1 1h-1l-1 -1h-4l-2 1h-3l-2 -1h-1l-1 1l-3 -1h-13M445 290h1l2 -1l1 1h4l1 -1h2l1 -1h3l1 1v-1h4l1 1h2v-1h8v1v-1h4l1 1l1 -1h6v1h13l2 1h3M506 294h-4l-1 1h-1l-1 -1h-1l-2 1h-1l-2 -1h-2l-3 1h-3l-1 -1h-1l-2 1h-7l-1 -1h-1l-1 1h-3l-2 1l-2 -1h-9l-1 -1h-8l-1 -1M445 482h4l1 1h1l1 -1h2l1 -1h8v-1v1h7l1 -1h2l2 1h2l1 -1l1 1h11l1 1l2 -1l3 1l2 -1h1l1 1h2l1 1h3M506 486h-3l-1 1h-3l-1 -1l-1 1h-20l-1 1h-1l-1 -1h-4l-2 1h-3l-1 -1h-11l-1 -1h-2l-2 1l-1 -1h-2M473 289l1 1h3l1 -1l3 2l2 -1h5l1 1v2h-3v1l-1 -1h-7l-2 1h-1l-1 -1h-4l-1 1h-5l-1 -1h-8v-2h1l1 -1h13l1 -1h2M471 482h4l1 1l1 -1h2l1 1h2l1 -1h3l2 1h2v2h-2v1h-4l-1 -1l-2 1h-5v1l-3 -2l-1 1h-5l-1 1l-1 -1h-10v-3h2l1 -1l2 1h1l2 -1l2 1h3l2 -1h1M566 308h-1l-1 1l-1 -1h-3l-1 1h-3l-2 -1h-8l-2 2h-3v-1h-1l-1 -1l-2 1h-2l-1 -1h-8l-2 -1l-2 1h-1l-2 -1l-2 1h-5l-3 2h-3M506 380l1 -1v-1h16l1 1v-1h2l1 -1h2l1 -1h2l1 1h3l3 2l1 -1h1v-1l3 1h2v1v-1h7l1 1h12M566 412v1h-1v1l-2 2h-2v1h-1v1h-1v1l-1 1v1h-1v2h-1l-2 -2h-1v-1l-1 -1h-1v-1h-6v1h-1v1l-1 -1v-1h-1l-1 -1v-1h-1v-2l-1 -1v-1l-1 1h-1v1h-1v1l-2 -1l-2 2h-1l-3 3v1l-1 1v3h-1v1v-1h-1l-1 -1h-1v-1l-1 -1h-1v-1l-1 1h-4v-1h-1v-1h-1v-1h-3l-2 2h-1v1h-1v2l-1 1v1M506 459v-1h1l1 -1h2l1 1h9l1 1l1 -1h2l1 1h4v-1l1 -1v-2h1v-1h2l1 1v-1h3v1l2 2v-1h1l3 -3h1l2 2h3v-1l2 -2v-1h3v1h1v1h1v1h1v-1l2 -3v-1v1l1 1h1v1l1 1v2h1v1l1 1v1h1l1 1M566 501h-1l-1 1l-3 -2v1h-4l-1 1l-1 -1h-10l-1 1h-3v-1h-2v-1l-3 2v-1h-2v-1l-2 1h-4l-2 -1h-12l-2 1h-2v1h-1l-1 1l-2 -1M566 301h-1l-1 1h-13l-2 1h-12l-1 -1h-10l-2 1h-1l-2 -1h-8l-1 1h-4l-1 -1h-1M536 389h3l3 2h2v2h1v1l1 1h1v-2l1 -1v-2h1v-1v1l1 1v4l1 1l-1 1v3l-1 1v1h-1v-2h-1v-2h-1v-1v1h-2v1h-1v2h-1v1h-2v-1h-2v-1h-1v-2h-1v-1h-1l-1 -1v-1h-1h1v-1l2 -3v-2M511 390v1h1v5h1l-1 1v5h-1v2v-1h-1v-4l-1 -1v-7h1l1 -1M521 391h1v1h1v1l1 1v1h1v2h1v1h-1v3h-1v2h-1v1l-1 1h-2l-1 -1h-1v-3l-1 -1v-2h-1v-2h1l1 -1h1v-2h1v-2h1M556 391h1v1h1v4h1v1h-1v5l-1 1v2l-1 1v-1h-1l-2 -3v-7l1 -1v-1l1 -1v-1h1M566 401h-1l-1 -1v-1h-1v-1h-2v-1l-1 -1v-1h1v-1l1 -1h2v-1l2 -2M506 470l1 1h11l1 -1v1h5l1 -1h2l1 -1h4l1 -1h1l2 -2h1l2 1h8v-1h2v-1l1 1h2l2 -1v1h2v1h3l1 1h1v1h3v-1h2M566 493v1h-1l-1 1h-20v-1l-1 1h-7l-2 -1l-3 1h-12l-2 -1h-3l-1 1h-5l-2 -1M566 299h-2l-3 1h-2l-3 -1l-2 1l-3 -1l-2 1h-11l-1 -1h-6l-2 1h-11l-1 -1h-2l-1 1h-2l-1 1l-1 -1h-2l-1 -1h-1M506 474h11l2 -1l2 1h3l2 -1h6l2 -1h1v-1h7l2 1l1 -1h3l1 -1h4l1 -1v1h1l1 1h3l1 1l4 1l2 -2M566 491l-2 1h-47l-1 -1l-1 1h-2l-2 1l-2 -1h-3M566 297l-2 1h-5l-3 -1l-1 1h-2l-2 -1l-1 1h-7l-2 -1h-10l-1 1h-13l-1 -1l-1 1h-7l-2 -1M506 476h26l2 -1h1v-1h7l2 1l1 -1h4l1 -1h6v1h3l1 1h5v-1h1M566 490h-52l-2 1h-2l-2 -1h-2M506 286h5M515 286h20M538 286h2M566 296h-8l-2 -1v1h-4l-1 -1v1h-8l-1 -1h-11l-1 1h-16l-3 1l-1 -1h-4M506 478h5l3 -1l1 1h16v1v-1h3l1 -1h1v-1l1 1h12l1 -1h7l2 1h6l1 -1M566 488h-12v1l-1 -1h-24v1l-1 -1h-5l-2 1h-2l-1 -1h-3l-1 1h-6v-1h-2M506 288l2 -1h3l2 -1h1l1 1h9l1 1h5l1 1h3v-1h4l1 1v-1h10l3 -2h3l1 1h8l1 -1h1M566 294h-8l-1 -1h-1l-2 2l-1 -1h-10l-1 -1h-11l-1 1h-1v1l-2 -1h-4l-1 1h-4l-1 -1h-2l-1 1h-4l-2 -1h-2M506 480h5l1 -1h3l1 1h9l1 1h1l2 -1v1h5l2 -2l1 1h1v1h1l1 -1h10v-1h9l2 1h3l2 -2M566 487h-5l-2 -1h-4l-1 1l-2 -1h-6l-2 1l-3 -2h-2l-2 1h-7l-1 1l-2 -1h-2l-1 1h-6l-1 -1h-1l-1 1h-1v1l-3 -1h-3l-2 -1M513 288h2l1 1h8l1 1v2h-1l-1 1h-6l-1 -1l-1 1h-1v1l-3 -1h-3l-1 -1h-1v-2l2 -1h3l1 -1h1M554 289h1v3l-1 1h-1v-1h-1v-2l1 -1h1M528 290h1v3h-1v-3M566 293h-4l-1 -1h-2v-1h1v-1h1l2 -1h2l1 -1M553 482h2l-1 1l1 1h-1v1h-1v-3M506 482l7 -1l1 -1v1h2v1h8l1 1v1l-1 1h-1l-2 1h-3v-1h-1l-1 -1v1h-1v1h-5l-2 -1h-2M566 485h-4v-3h2l1 -1h1M513 290l1 -1v3h-2v-2h1M513 482h1v3h-1v-2h-1l1 -1M627 308h-4l-1 1h-10l-1 -1h-5l-1 -1h-3l-1 1h-7l-2 1l-2 -1h-9l-2 -1l-1 1h-2l-2 1h-3l-1 -1h-4M566 381h2v1h5l1 1l2 -1h4l2 -1h1l1 -1h6l1 1h3l4 -1l1 -1h1l1 1h3l3 -1h4l1 1h1l1 1h1v1h1v1h7v-1h1v-1l3 1M627 408h-2l-1 1v-1l-2 -2h-1l-1 -1h-4v1h-3l-1 1h-3l-1 1h-4l-1 -1h-1v-1h-5v1h-1l-1 1h-1l-2 -1h-3v-1h-4v1h-7l-1 1h-2l-3 2l-3 -2l-3 2M566 458h1v1h1l1 1h5l1 1h3l1 1v-1h1l1 -1l4 -1v-1h1v-1h2l1 1h2v1h2l1 -1h3l2 1h1l1 1h4v-1h1v-1h2l1 1l1 -1h3l2 -2h2v-1v1h1v3h1v3h2l1 -1h1v-2h1v-2l3 1M627 501h-4l-1 1h-3l-1 -1h-3l-1 1h-2v-1h-2l-1 -1l-2 1l-2 -1h-6l-1 1h-12l-2 -1h-4l-1 -1l-3 2h-2v1h-3v-1h-2v-1l-2 1h-1M627 303h-1l-2 1l-1 -1h-22l-1 1h-1l-1 -1h-18l-1 -1l-1 1h-12M566 468h1v-1l1 -1h2l1 1v1h1l1 1h6l1 -1h4l3 1v-1h11l1 1l3 -2l1 1h1v1v-1h3l1 -1h3l1 1v-1l1 -1h1v-1l2 1h1l1 1h1v1h1l2 1l2 -1h2l1 -1M627 496h-2l-1 1v-1h-3l-1 -1h-1l-2 1h-1l-2 -1l-2 1l-2 -1h-2l-1 1h-4l-1 -1v1h-5v-1h-5l-2 1h-1l-2 -1h-3l-1 1h-2l-1 -1h-3l-2 1h-6l-3 -1M627 301h-7l-1 -1l-1 1h-7l-2 -1l-1 1h-8l-1 1v-1h-2v-1l-1 1h-3l-1 -1h-8v1h-4l-1 -1l-2 1h-11M566 471h1l2 -2l2 2h1l1 1h2l2 -1h31l1 -1h1l1 1h1l2 -2h3v1h1v1h2l2 1l1 -1h4M627 493h-1l-2 1l-1 -1h-22l-2 1l-1 -1h-16v1l-1 -1h-2v-1l-1 1h-4v1l-1 -1h-7M627 299h-15l-2 -1h-1l-2 1h-6l-2 1l-1 -1h-32M566 474l1 -1h1v-1h2v1h1l1 1h7l2 -1h2l1 1h3v-1h9l1 1h2l1 -1h3l1 1l2 -1h7l1 -1h3l1 1h1v1h3l2 -1h3M627 492h-3l-2 -1h-21l-1 1h-1l-2 -1h-5v1h-3l-1 -1h-5l-1 1l-1 -1h-5l-2 1l-2 -1h-6M627 298h-5l-3 -1h-15l-2 1h-4l-1 -1h-3l-2 1h-3l-2 -1h-10l-2 1h-6l-3 -1M566 476l1 -1h1v-1h2v1h2v1h6l1 -1h23l2 1h1l1 -1h7l1 -1h3l1 1h9M627 490h-15l-2 -1h-1l-2 1h-41M627 297l-2 -1h-24l-2 1l-1 -1h-23l-1 1l-1 -1h-7M566 477h1l1 -1h2l1 1h1l2 1l3 -1h30l2 -1h1l1 1h2l1 -1h4l1 1h5l3 -1M627 489h-5l-2 -1h-1l-2 1h-3v-1h-7v1h-3l-1 -1h-2l-1 1h-3l-1 -1h-2l-2 1h-3l-2 -1h-3l-2 1l-3 -1l-2 1h-11M566 286h9l2 1l1 -1h25l1 1l1 -1h6v1h2l1 -1h13M627 295h-15l-2 -1h-1l-2 1h-10l-3 -1v1h-28M566 479l1 -1h4l1 1h7l2 -1h4l2 1v-1h14l1 1h3l1 -1h4l1 1h2l1 -1h5v1l2 -1h6M627 488h-1l-1 -1h-1l-2 1l-2 -1h-19l-1 1h-2l-1 -1h-4v1h-5l-1 -1h-10l-2 1h-2l-1 -1h-6M566 288h2l1 -1l1 1h9l3 -1l2 1h4l1 -1l1 1h3l1 -1h1l1 1h2l1 -1l2 1h5l1 -1l2 1h2l1 1h1l1 -1h7l1 -1l2 1h3M627 294h-8l-1 -1h-16l-2 1h-2l-1 -1h-4l-1 1h-4l-1 -1h-6l-2 1h-13M566 480h6l2 1h3l2 -1h22v1h4l1 -1h4v1h2v1v-1h3l1 -1h11M627 487l-1 -1h-13l-1 -1h-3l-1 1h-8l-1 1l-1 -1h-3l-1 -1v1h-1l-1 1h-3l-1 -1h-13l-1 1l-1 -1h-7M589 289h2l1 1l1 -1h2l2 1l1 -1h3v3l-1 1h-1l-2 -1h-4l-1 1h-4l-1 -1v-2l1 -1h1M579 289h6l1 1v2h-5l-2 1h-1l-1 -1v-2l2 -1M607 289l1 1v2h-2v-2l1 -1M566 290l3 -1l1 1v2h-4M572 290l2 -1l1 1h1v2l-1 1h-2l-1 -1v-2M627 293h-1l-1 -1h-7v-2h1l2 -1h6M589 481h1l2 1h2v2h-1v1l-1 1h-3l-1 -1h-1v-1h-5l-2 1h-3v-2l1 -1h9l2 -1M598 481h2v1h1v2l-1 1h-4v-1h-1v-2h2l1 -1M606 482h2v2h-3v-2h1M566 482h5v2h-2l-1 1h-2M572 482h3l1 1v2h-4v-3M627 486l-3 -2l-1 1h-4l-1 -1v-2h2l2 -1h1l1 1l1 -1h2M688 309h-4v-1h-2l-3 3v1h-1v1l-1 1v-1h-1l-2 -2v-1h-1v-2h-3v-1h-1l-1 -1h-1l-2 2l-2 -1h-14l-2 1h-8l-2 1h-3l-1 1h-2l-1 -1h-1l-1 -1h-1M627 383h1v-1h1v-1h2v-1h4l2 -2h2l1 -1l1 1h2l2 -1h1l1 -1l3 2h2v1h4l1 1h8v1h1l1 1h5l3 2h3v-1h1l1 -1h3l1 -1h4M688 405h-1v1h-1v1l-1 1v-1h-1v-3l-1 -1v-2h-1v1l-2 2h-1v-1h-1v-1h-1l-1 1h-1v1h-1v2l-2 3v-1l-1 -1v-1h-1v-1l-1 -1h-1v-1h-1v1h-1l-1 1h-1l-1 -1h-2l-1 1l-2 1h-1v1h-1v1h-1v1l-1 -1h-3l-1 -1h-1l-2 1l-2 -1l-3 1l-2 -1l-3 1l-2 -2h-1l-1 1h-2l-1 -1h-2l-1 -1M627 461h1v-1h1l1 -1l2 1h1l1 1h7l1 1l2 -1h3v-1h2l1 -1v-1h1l1 -1v-1h1l2 -2h2l1 -1h3l1 1l3 -2h3l1 -1h4v1l1 1v1h1v1h3v-1h3v2h1v2h1v-1h1v-1h1v-1v1h1v2h1v2h1M688 501h-2l-1 1l-1 -1h-3v1h-1v1h-1v2h-1v1l-1 1v-1h-1v-1h-1v-1l-2 -2v-1h-2l-1 -1h-1v-1h-3l-1 1h-3l-1 -1h-5l-1 1h-13l-2 1h-3l-2 1h-4l-1 -1h-2v-1h-1M688 304h-6l-1 1h-4v1h-2v1v-1h-1v-1h-1v-1h-3l-3 1h-15l-1 -1h-3l-1 1l-2 -1l-1 1h-4v-1h-8l-2 1l-2 -1h-1M627 468h1l1 -1h1v1h2v1l1 -1h3l1 1h3l2 1h3v-1h1l1 -1l1 1h2l1 -1h4v-1h2l2 -1h4l2 -2l1 1h4l1 1h1v1l2 -1h10l1 1h1l2 2M688 496h-1l-2 1l-2 -1l-1 1h-1l-1 1h-2l-1 1l-1 -1h-2l-1 -1h-8l-2 1h-1l-2 -1h-21l-2 -1l-2 1l-2 -1h-2l-1 1h-1l-1 -1h-1M688 301h-7l-1 1h-4l-1 1l-1 -1h-1v-1h-4l-2 1h-16l-1 -1h-1l-1 1h-11l-2 -1h-3l-2 1h-1l-1 -1h-1M627 471h2l1 -1v1h1l1 1l1 -1h3l1 1h9l1 -1h1l2 1l2 -1h3l1 -1h7v-1h8l1 1h13l1 1h2M688 494h-3v-1h-3l-1 1l-4 1h-2l-1 -1h-18l-1 1l-2 -1h-9l-2 1l-2 -1h-13M688 299h-3l-2 -1h-1l-1 1h-4l-1 1h-2l-1 -1h-6l-1 1h-2l-2 -1l-2 1l-3 -1l-1 1h-4l-2 -1h-1l-2 1l-2 -1l-2 1h-2l-1 -1l-3 1l-2 -1h-3l-2 1l-2 -1h-1M627 473h4l1 1l2 -1h2l1 1h9l1 -1h1l1 1h3l4 -1l1 -1h1l2 1h3v-1h1l1 -1l2 1h4l1 1h15l1 1M688 491h-7l-1 1h-6l-1 -1h-3l-1 1h-41l-1 -1M688 297h-4l-1 -1h-1l-1 1h-5l-1 1l-2 -1h-4l-2 1h-3l-2 -1l-2 1h-9l-1 -1l-1 1h-21l-1 -1M627 475h3l2 1h1l2 -1h2l2 1h7l1 -1h1l1 1h4l2 -1h1l1 -1h1l2 1h3v-1h8l1 1h8l2 1h1l1 -1h2l1 1h1M688 489l-3 1l-1 -1h-1v-1h-1l-1 1h-1v1l-2 -1h-1l-1 1h-2l-2 -1l-2 1h-26l-2 1l-2 -1h-13M642 286h1M675 286h4M681 286h3M686 286h2M688 295h-4l-1 -1h-1l-1 1h-2l-2 -1v1h-8l-1 1h-5l-1 -1l-1 1h-18l-1 1l-1 -1h-3l-1 1l-1 -1h-9M627 477h15l3 1v-1h1l1 -1l1 1h8v-1h3l1 1h3l1 -1h3v1l3 -1l5 2h4l1 -1l1 1h3l1 -1h3M688 488h-3l-1 -1h-1v-1h-1l-1 1h-5l-1 1h-20v1l-1 -1h-4l-3 1l-1 -1h-2l-2 1h-12l-2 -1h-1M627 286h5v1l1 -1h8l1 1h3v-1h5l2 1h3v-1h5l2 1l1 -1h4v1l2 -1h1l2 1h3v1h4v-1h2v1h2l1 -1h4M688 293l-3 1v-1h-1l-1 -1h-1l-2 1h-1l-1 -1h-1l-1 1h-3l-1 1v-1h-3l-1 1h-4l-1 -1h-1l-2 1h-4l-1 1l-2 -1h-3l-2 1h-1l-2 -1h-1l-2 1l-2 -1l-1 1h-10l-2 -1M627 479v-1h3l2 1h3l1 -1h3l1 1h5l1 -1h3l1 1h5l1 -1h3l3 2l2 -2h3v1h6l1 1h2l1 1h1l1 -1h2l1 1v3l-1 1h-2l-2 -1v1h-2l-1 1h-6l-1 1h-2l-1 -1h-8l-1 1l-2 -1h-2l-1 1h-4l-1 -1l-2 1h-4l-2 1l-2 -1h-8M688 486h-4v-1h-1v-4l2 -2h3M627 288h1l2 -1v1h16v-1h2l1 1h2l1 1h3v-1h1l1 -1h1v1h2v1h1v3h-4l-2 1l-2 -1h-1l-2 1h-5v-1l-2 1h-5l-1 1l-1 -1h-9M664 288h2l1 1v3l-2 1l-1 -1h-1v-3l1 -1M685 289v1l1 1l-1 1v-3M665 480l1 1h2l1 1v2h-1v1h-4l-1 -1v-3h1l1 -1M627 480h3l2 1l3 -1h5l2 1h3l1 -1h1v-1l3 2h6v-1h2l1 1h2v3l-1 1l-2 -1h-1l-2 1h-1l-2 -1l-1 1h-8l-1 1l-2 -1l-1 1h-10l-2 -1M688 484h-1v-1l-1 -1v-1h2M647 288h1v1h1v1l-2 2l-1 -1v-2l1 -1M629 289h1v3h-1v-3M636 289h3v2l-1 1h-2v-3M637 481h1l1 1v2h-1l-1 1l-1 -1v-2l1 -1M647 481h1v2l-1 1v-3M748 311l-2 -1h-2l-3 -2h-1l-1 1h-2l-1 -1h-5l-1 -1l-2 1h-2l-1 1l-1 -1h-2l-1 1h-1l-2 1h-2l-1 1h-4v1h-1l-1 1h-2l-1 -1h-4v-1h-4l-2 -1h-1l-1 -1h-5l-1 -1M688 383h4l1 1h7l1 -1h2v-1h1v-1h2v-1h1v-1h5l1 1v-1h1v-1h2l2 -1h3v1h1v1h5v1h1l1 1h1v1h3l1 1h2l2 1h1v1h5l1 -1h1v-1h1v-1l1 -1M748 404h-1v-1h-2l-2 -1h-1l-1 -1h-2l-1 1h-1l-3 2h-13l-1 1l-1 -1h-2l-3 2h-3v1h-1l-1 1h-2v-1h-1l-1 -1h-1l-1 1l-1 -1h-4v1l-1 -1h-2v-1l-1 -1v-1h-1v-2l-1 1h-1l-1 1h-1v1l-1 1v1M688 461h1l2 2h2l2 1h1l1 1h8l1 -1h2v-1h5l2 -2h1l1 -1h1l3 -2h2l1 -1v-1h1v-1h3v1h1l1 1h7l1 -1l1 1h1v1h3v1h2l1 1l1 -1h1M748 503h-1l-1 -1h-4v-1h-3l-1 1l-1 -1h-4v-1h-5v1h-2l-1 1v-1h-4l-1 1h-3l-1 1h-4l-2 2h-3l-1 -1h-6v-1h-3l-2 -1h-5l-1 -1h-1M748 303h-9l-1 1h-8l-2 -1l-2 1h-4l-2 1l-2 -1l-1 1h-7v1h-3l-1 -1h-9l-1 -1h-4l-2 1l-2 -2M708 391v1l1 1v2h-1v2v-1h-1v-1l-1 -1v-1h1v-2h1M700 393l3 1l-1 1h-1v1h-1l-2 -2h1l1 -1M688 468l2 1h4l1 1l2 -1h6l1 -1h5l1 -1l3 1l2 -1h1l1 -1h4l2 -1h6l1 1l2 -1h3l2 1h8v1h1l2 1M748 496l-1 -1h-6l-1 1h-4l-1 1v-1h-8l-1 1h-1l-2 -1l-3 1h-3l-1 1h-2l-1 -1h-3l-1 1h-2l-1 -1h-4l-1 1h-2l-1 -1h-9v-1h-1M748 300h-2l-2 1h-3v-1l-1 1h-17l-3 1l-2 -1l-2 1h-19l-2 -1h-7M688 471h1l1 1l2 -1h1l1 1h9v-1h6l1 -1h7l1 -1h5l2 -1h4l1 1l2 -1h3v1h9l1 1h1l1 1h1M748 493h-1l-1 -1l-2 1h-7l-2 1l-1 -1h-2l-2 1h-13l-2 1l-2 -1l-3 1h-2l-2 -1h-3l-2 1h-1l-2 -1h-8l-1 -1h-1M748 298h-3l-2 1l-2 -1h-1l-2 1h-16l-2 1l-1 -1h-4l-2 1h-15l-3 -1h-7M688 473h5l1 1h2l1 -1h2l1 1h3v-1h10l2 -1h5l3 -1h16l2 1l2 -1l1 1h2l1 1h1M748 491h-11l-2 1l-1 -1h-2l-2 1h-5l-2 -1l-2 1h-31l-1 -1h-1M748 297h-16l-2 1l-2 -1l-3 1l-2 -1l-2 1h-1l-2 -1l-3 1h-25l-2 -1M688 474l2 1h4l1 1h1l1 -1h12l1 -1h10l3 -1h16l2 1l2 -1l1 1h4M748 489h-10l-1 1h-3l-1 -1l-1 1h-19l-2 1h-1l-2 -1h-3l-2 1h-1l-2 -1h-12M748 296h-7v-1h-3l-1 1h-19v-1l-1 1h-4l-3 1l-1 -1h-5l-1 1l-2 -1h-4l-2 1l-1 -1h-6M688 476h6l1 1h1l1 -1h2l1 1h3l1 -1h2l2 1l1 -1h10l1 -1h12l1 -1h2l2 1h6l2 1h3M748 488h-12l-1 1v-1h-4l-1 1h-5v-1h-4l-1 1l-1 -1h-3l-1 1h-6l-1 -1h-3l-1 1h-14l-1 -1h-1M693 286h4M698 286h7M705 286h12M718 286h4M748 294l-2 1h-3l-1 -1h-5l-2 1l-2 -1h-3l-2 1l-3 -1h-4l-1 1v-1h-6l-1 1h-3l-1 -1h-3l-1 1h-4l-1 -1l-2 1h-10M688 477h5l1 1h22l2 -1h13l1 -1h5l1 1h10M748 487h-7l-2 -1h-1l-1 1h-3l-1 -1l-2 1h-6l-2 -1h-1l-1 1h-9l-2 1l-2 -2l-4 1l-1 1h-1l-1 -1h-4l-1 1h-1l-2 -1l-3 1l-1 -1h-1M734 286h4v1h3v-1h7M688 286h5l2 1l2 -1h1l1 1h8l1 1l2 -1h13l2 -1h4l1 1h1v-1h2M748 293h-7v-1h-3l-1 1h-13l-1 -1l-2 1h-1l-2 -1h-3l-1 1h-5v-1h-2l-1 1h-3v1v-1h-6l-2 1l-1 -1h-3l-1 1l-2 -1M688 478h4l1 1h2v1l1 -1h3l1 1l3 -1h2l2 1h2l1 -1h21v-1h6l1 1h10M748 485l-2 1h-1l-2 -1h-6l-1 1h-2l-1 -1h-3v1h-3l-2 -1h-4l-1 1l-1 -1h-6l-1 1h-3v-1h-1v-1h-1l-3 2h-3l-1 -1l-2 1h-10M733 287h3l1 1v3l-1 1h-1l-2 -1h-2v-3h1v-1h1M688 287h3l2 1h7v3h-1l-1 1h-2l-1 1l-1 -1h-6M727 288h2l1 1v2l-2 1l-2 -1h-1v-3h2M703 288h3v3l-4 1l-1 -1v-2l2 -1M710 289l2 2h-1l-1 1v-3M748 292h-5l-1 -1h-1v-1l-1 -1v-1h7l1 -1M735 479h1v1h1l1 1v2l-1 1h-1l-1 1v-1h-1l-1 -1l-2 1h-5v-3h5l1 -1h1l2 -1M688 479h2l2 1h1l1 1h2l2 -1l1 1h1v2l-2 1h-1l-1 1h-2l-1 -1l-2 1h-2l-1 -1M701 481h4v3h-1l-1 1l-1 -1h-1v-3M710 481h3v3h-3v-3M720 481h1v3h-1v-3M748 484h-7l-1 -1l1 -1v-1h1l1 -1h5M688 288h3v3h-3M688 481h1l1 -1l1 1h1v1h-1v1l-1 1l-1 -1h-1M809 309l-1 -1h-12l-2 -1h-2l-1 1h-3v1h-1l-1 1h-4l-1 -1h-5l-3 1h-6v1h-2l-1 1h-6l-2 -1h-2l-1 -1h-2l-3 -1M748 382h5l1 -1h3l1 -1h6l1 -1h1l2 -1h1l1 -1h1v-1h2l2 -2h12l1 1h16v2h1v1l1 1v1h1v1h1l1 1M809 408h-2v1h-6l-1 -1h-2v1l-2 2l-1 -1h-7v1h-1v1h-1v1h-3v-1h-1l-1 -1h-2l-1 -1v1h-1v1h-1l-1 1h-2v1h-1l-3 2h-2l-1 -1h-5l-3 -2h-2v-1h-1l-1 -1h-1l-1 -1v-1h-1v-1h-2l-1 -1M748 461h5l2 1h1l1 1h2l3 2h4l2 1l2 -2h1v-1h2l1 -1v-1h1v-1l1 -1h3l1 -1h6v-1h1v-1h1v-2h1v-1h1l1 -1h3v-1l2 -3v1h1v3l2 3l2 -1h3v1l5 5M809 502l-1 -1h-7l-1 -1h-5l-2 -1l-2 1h-1l-3 2h-13l-1 -1v1h-5l-1 1h-3l-3 2l-2 -1h-4l-1 -1h-2l-1 -1h-3M809 302h-5l-2 -1h-2l-1 1h-3v-1h-8v1h-1v1h-7l-2 -1v1h-3l-2 1h-5v1h-4l-1 -1l-2 1h-3l-2 -1h-5l-1 -1h-2M776 381v-1v1h4l3 2h3l2 1h1v1h1v1h2l1 1h1v1h1v2l1 1v5h-1v1l-1 1h-1v1h-1v1h-1v1h-2v1h-2v1h-2l-1 1h-6l-2 2h-2l-2 2h-1v1h-1l-1 1h-2v-1h-1l-1 -1h-3l-1 -1h-1l-1 -1h-1l-2 -2v-1h-2l-1 -1v-1h-1v-2l-1 -1v-7h1v-1h1v-1h1v-1h1v-1h1l2 -1h4l3 -2h1l2 -1h2l1 -1h2l1 -1h2M748 470h3l1 1h14l1 -1h7l2 -2h11l3 -2h14l2 2h3M809 495h-3l-1 -1h-2l-2 -1l-2 1h-3l-1 -1h-5l-3 2h-9l-1 1h-5l-1 1h-9l-1 1h-1l-1 -1h-3l-2 -1h-6M809 299h-5l-3 -1l-2 1l-3 -1h-7l-1 1h-3l-2 1l-2 -1h-3l-2 1h-5l-1 1h-3l-1 1l-1 -1h-11l-1 -1l-2 1h-1l-2 -1M770 394h1v1l-3 2v-2h1l1 -1M748 474h7l1 1l2 -1h9v-1h3l1 1h2l1 -1h2l1 -1h10l1 -1h2l1 -1h13l1 1h4M809 492h-3l-2 -1h-11l-2 -1l-1 1h-4l-2 1h-11l-1 1h-5l-1 1l-2 -1h-2l-1 1h-3l-2 -1h-8M809 297h-10l-3 -1h-11l-1 1h-13l-1 1h-3l-1 1h-1l-1 -1h-4l-2 1l-2 -1h-5v1l-1 -1h-2M748 476h6l1 1h1l2 -1l3 1l2 -1l3 1l1 -1h3l1 1l2 -1h2l1 -1h9v1h1l1 -1h1v-1h3l2 -1h3v-1l3 1h7v1l3 -1M809 490l-3 -1h-13v-1h-3l-2 1l-2 -1l-1 1h-8l-1 1l-3 -1l-2 1h-3v1h-20M748 286h15l3 1l1 -1h2l1 1h3l1 -1h15M809 295h-10l-3 -1h-8l-1 -1h-2v1h-1l-1 1l-1 -1h-11l-1 1h-2v1h-17v1l-2 -1h-1M748 479l1 -1h5l2 1h10l2 -1h1v1h1l1 1l2 -1h1l1 -1h7l1 -1l1 1h1v1h2v-1l4 -1h2l3 -2h8l1 1h4M809 488h-5l-3 -1h-8l-1 -1h-3l-1 1v-1h-2v-1v1h-2v1h-9l-2 -1l-2 1h-1l-1 1h-2l-1 1l-2 -1h-3l-2 1h-3l-2 -1h-1l-2 1h-3M802 286h4M748 288h12l1 1h8v3l-3 2l-1 -1h-5l-1 1h-7l-1 1l-3 -1M776 288l2 3l-2 1v-1h-1v-2l1 -1M782 288h2v4h-2l-1 -1h1v-3M809 294l-2 -1h-4l-2 1v-1h-4l-1 -1h-8v-4h5l2 -2h4M782 481l1 -1l1 1v3l-1 1l-1 -1h-1v-3h1M776 481h4v2h1v1h-6v-3h1M748 481h2l1 -1h2l1 1h15v4h-1l-1 1h-7l-1 1h-2l-1 -1h-4l-1 1h-3M809 486h-9l-1 -1h-6l-1 -1h-4v-3h3l1 -1h2v-1h1l1 -1h4l1 -1h1l2 1h5M751 290v3l-1 -1v-1l1 -1M809 292h-1l-2 -1l-2 1h-3l-1 -1h-1v-3h1l1 -1l2 1h1l2 -1h3M809 484h-9l-1 -1v-2l1 -1h9"/>
<rect x="1941.9" y="100" width="40" height="1160" fill="#fff"/>
<g stroke="#000" stroke-width="2.4" fill="none">
<rect x="197.2" y="110.5" width="1743.5" height="539"/>
<rect x="197.2" y="684.4" width="1743.5" height="563.7"/>
<path d="M343 110.5V649.5M342.5 684.4V1248M488.6 110.5V649.5M487.8 684.4V1248M634.2 110.5V649.5M633.1 684.4V1248M779.8 110.5V649.5M778.4 684.4V1248M925.4 110.5V649.5M923.7 684.4V1248M1071 110.5V649.5M1069 684.4V1248M1216.6 110.5V649.5M1214.2 684.4V1248M1362.2 110.5V649.5M1359.5 684.4V1248M1507.8 110.5V649.5M1504.8 684.4V1248M1653.4 110.5V649.5M1650.1 684.4V1248M1799 110.5V649.5M1795.4 684.4V1248M173 637H197.2M173 609.3H197.2M173 581.5H197.2M173 553.8H197.2M173 526.1H197.2M173 498.4H197.2M173 470.6H197.2M173 442.9H197.2M173 415.2H197.2M173 387.4H197.2M173 359.7H197.2M173 332H197.2M173 304.3H197.2M173 276.5H197.2M173 248.8H197.2M173 221.1H197.2M173 193.4H197.2M173 165.6H197.2M173 137.9H197.2M173 110.5H197.2M173 1223.2H197.2M173 1184.7H197.2M173 1146.2H197.2M173 1107.7H197.2M173 1069.3H197.2M173 1030.8H197.2M173 992.3H197.2M173 953.8H197.2M173 915.3H197.2M173 876.8H197.2M173 838.3H197.2M173 799.9H197.2M173 761.4H197.2M173 722.9H197.2M173 684.4H197.2"/>
</g>
<g font-size="32" text-anchor="end">
<text x="148.5" y="650.6">2</text>
<text x="148.5" y="595.1">6</text>
<text x="148.5" y="539.7" textLength="37" lengthAdjust="spacing">10</text>
<text x="148.5" y="484.2" textLength="37" lengthAdjust="spacing">14</text>
<text x="148.5" y="428.8" textLength="37" lengthAdjust="spacing">18</text>
<text x="148.5" y="373.3" textLength="37" lengthAdjust="spacing">22</text>
<text x="148.5" y="317.9" textLength="37" lengthAdjust="spacing">26</text>
<text x="148.5" y="262.4" textLength="37" lengthAdjust="spacing">30</text>
<text x="148.5" y="207" textLength="37" lengthAdjust="spacing">34</text>
<text x="148.5" y="151.5" textLength="37" lengthAdjust="spacing">38</text>
<text x="148.5" y="1236.6" textLength="37" lengthAdjust="spacing">30</text>
<text x="148.5" y="1198.1" textLength="37" lengthAdjust="spacing">60</text>
<text x="148.5" y="1159.6" textLength="37" lengthAdjust="spacing">90</text>
<text x="148.5" y="1121.1" textLength="56.2" lengthAdjust="spacing">120</text>
<text x="148.5" y="1082.7" textLength="56.2" lengthAdjust="spacing">150</text>
<text x="148.5" y="1044.2" textLength="56.2" lengthAdjust="spacing">180</text>
<text x="148.5" y="1005.7" textLength="56.2" lengthAdjust="spacing">210</text>
<text x="148.5" y="967.2" textLength="56.2" lengthAdjust="spacing">240</text>
<text x="148.5" y="928.7" textLength="56.2" lengthAdjust="spacing">270</text>
<text x="148.5" y="890.2" textLength="56.2" lengthAdjust="spacing">300</text>
<text x="148.5" y="851.7" textLength="56.2" lengthAdjust="spacing">330</text>
<text x="148.5" y="813.3" textLength="56.2" lengthAdjust="spacing">360</text>
<text x="148.5" y="774.8" textLength="56.2" lengthAdjust="spacing">390</text>
<text x="148.5" y="736.3" textLength="56.2" lengthAdjust="spacing">420</text>
<text x="148.5" y="697.8" textLength="56.2" lengthAdjust="spacing">450</text>
</g>
<g font-size="30" text-anchor="middle" lengthAdjust="spacingAndGlyphs">
<text x="195.7" y="676.2" textLength="15.4" lengthAdjust="spacingAndGlyphs">0</text>
<text x="232.1" y="676.2" textLength="15.4" lengthAdjust="spacingAndGlyphs">6</text>
<text x="268.5" y="676.2" textLength="30.8" lengthAdjust="spacingAndGlyphs">12</text>
<text x="304.9" y="676.2" textLength="30.8" lengthAdjust="spacingAndGlyphs">18</text>
<text x="341.3" y="676.2" textLength="15.4" lengthAdjust="spacingAndGlyphs">0</text>
<text x="377.7" y="676.2" textLength="15.4" lengthAdjust="spacingAndGlyphs">6</text>
<text x="414.1" y="676.2" textLength="30.8" lengthAdjust="spacingAndGlyphs">12</text>
<text x="450.5" y="676.2" textLength="30.8" lengthAdjust="spacingAndGlyphs">18</text>
<text x="486.9" y="676.2" textLength="15.4" lengthAdjust="spacingAndGlyphs">0</text>
<text x="523.3" y="676.2" textLength="15.4" lengthAdjust="spacingAndGlyphs">6</text>
<text x="559.7" y="676.2" textLength="30.8" lengthAdjust="spacingAndGlyphs">12</text>
<text x="596.1" y="676.2" textLength="30.8" lengthAdjust="spacingAndGlyphs">18</text>
<text x="632.5" y="676.2" textLength="15.4" lengthAdjust="spacingAndGlyphs">0</text>
<text x="668.9" y="676.2" textLength="15.4" lengthAdjust="spacingAndGlyphs">6</text>
<text x="705.3" y="676.2" textLength="30.8" lengthAdjust="spacingAndGlyphs">12</text>
<text x="741.7" y="676.2" textLength="30.8" lengthAdjust="spacingAndGlyphs">18</text>
<text x="778.1" y="676.2" textLength="15.4" lengthAdjust="spacingAndGlyphs">0</text>
<text x="814.5" y="676.2" textLength="15.4" lengthAdjust="spacingAndGlyphs">6</text>
<text x="850.9" y="676.2" textLength="30.8" lengthAdjust="spacingAndGlyphs">12</text>
<text x="887.3" y="676.2" textLength="30.8" lengthAdjust="spacingAndGlyphs">18</text>
<text x="923.7" y="676.2" textLength="15.4" lengthAdjust="spacingAndGlyphs">0</text>
<text x="960.1" y="676.2" textLength="15.4" lengthAdjust="spacingAndGlyphs">6</text>
<text x="996.5" y="676.2" textLength="30.8" lengthAdjust="spacingAndGlyphs">12</text>
<text x="1032.9" y="676.2" textLength="30.8" lengthAdjust="spacingAndGlyphs">18</text>
<text x="1069.3" y="676.2" textLength="15.4" lengthAdjust="spacingAndGlyphs">0</text>
<text x="1105.7" y="676.2" textLength="15.4" lengthAdjust="spacingAndGlyphs">6</text>
<text x="1142.1" y="676.2" textLength="30.8" lengthAdjust="spacingAndGlyphs">12</text>
<text x="1178.5" y="676.2" textLength="30.8" lengthAdjust="spacingAndGlyphs">18</text>
<text x="1214.9" y="676.2" textLength="15.4" lengthAdjust="spacingAndGlyphs">0</text>
<text x="1251.3" y="676.2" textLength="15.4" lengthAdjust="spacingAndGlyphs">6</text>
<text x="1287.7" y="676.2" textLength="30.8" lengthAdjust="spacingAndGlyphs">12</text>
<text x="1324.1" y="676.2" textLength="30.8" lengthAdjust="spacingAndGlyphs">18</text>
<text x="1360.5" y="676.2" textLength="15.4" lengthAdjust="spacingAndGlyphs">0</text>
<text x="1396.9" y="676.2" textLength="15.4" lengthAdjust="spacingAndGlyphs">6</text>
<text x="1433.3" y="676.2" textLength="30.8" lengthAdjust="spacingAndGlyphs">12</text>
<text x="1469.7" y="676.2" textLength="30.8" lengthAdjust="spacingAndGlyphs">18</text>
<text x="1506.1" y="676.2" textLength="15.4" lengthAdjust="spacingAndGlyphs">0</text>
<text x="1542.5" y="676.2" textLength="15.4" lengthAdjust="spacingAndGlyphs">6</text>
<text x="1578.9" y="676.2" textLength="30.8" lengthAdjust="spacingAndGlyphs">12</text>
<text x="1615.3" y="676.2" textLength="30.8" lengthAdjust="spacingAndGlyphs">18</text>
<text x="1651.7" y="676.2" textLength="15.4" lengthAdjust="spacingAndGlyphs">0</text>
<text x="1688.1" y="676.2" textLength="15.4" lengthAdjust="spacingAndGlyphs">6</text>
<text x="1724.5" y="676.2" textLength="30.8" lengthAdjust="spacingAndGlyphs">12</text>
<text x="1760.9" y="676.2" textLength="30.8" lengthAdjust="spacingAndGlyphs">18</text>
<text x="1797.3" y="676.2" textLength="15.4" lengthAdjust="spacingAndGlyphs">0</text>
<text x="1833.7" y="676.2" textLength="15.4" lengthAdjust="spacingAndGlyphs">6</text>
<text x="1870.1" y="676.2" textLength="30.8" lengthAdjust="spacingAndGlyphs">12</text>
<text x="1906.5" y="676.2" textLength="30.8" lengthAdjust="spacingAndGlyphs">18</text>
<text x="1942.9" y="676.2" textLength="15.4" lengthAdjust="spacingAndGlyphs">0</text>
<text x="195.7" y="1274" textLength="15.4" lengthAdjust="spacingAndGlyphs">0</text>
<text x="232.1" y="1274" textLength="15.4" lengthAdjust="spacingAndGlyphs">6</text>
<text x="268.5" y="1274" textLength="30.8" lengthAdjust="spacingAndGlyphs">12</text>
<text x="304.9" y="1274" textLength="30.8" lengthAdjust="spacingAndGlyphs">18</text>
<text x="341.3" y="1274" textLength="15.4" lengthAdjust="spacingAndGlyphs">0</text>
<text x="377.7" y="1274" textLength="15.4" lengthAdjust="spacingAndGlyphs">6</text>
<text x="414.1" y="1274" textLength="30.8" lengthAdjust="spacingAndGlyphs">12</text>
<text x="450.5" y="1274" textLength="30.8" lengthAdjust="spacingAndGlyphs">18</text>
<text x="486.9" y="1274" textLength="15.4" lengthAdjust="spacingAndGlyphs">0</text>
<text x="523.3" y="1274" textLength="15.4" lengthAdjust="spacingAndGlyphs">6</text>
<text x="559.7" y="1274" textLength="30.8" lengthAdjust="spacingAndGlyphs">12</text>
<text x="596.1" y="1274" textLength="30.8" lengthAdjust="spacingAndGlyphs">18</text>
<text x="632.5" y="1274" textLength="15.4" lengthAdjust="spacingAndGlyphs">0</text>
<text x="668.9" y="1274" textLength="15.4" lengthAdjust="spacingAndGlyphs">6</text>
<text x="705.3" y="1274" textLength="30.8" lengthAdjust="spacingAndGlyphs">12</text>
<text x="741.7" y="1274" textLength="30.8" lengthAdjust="spacingAndGlyphs">18</text>
<text x="778.1" y="1274" textLength="15.4" lengthAdjust="spacingAndGlyphs">0</text>
<text x="814.5" y="1274" textLength="15.4" lengthAdjust="spacingAndGlyphs">6</text>
<text x="850.9" y="1274" textLength="30.8" lengthAdjust="spacingAndGlyphs">12</text>
<text x="887.3" y="1274" textLength="30.8" lengthAdjust="spacingAndGlyphs">18</text>
<text x="923.7" y="1274" textLength="15.4" lengthAdjust="spacingAndGlyphs">0</text>
<text x="960.1" y="1274" textLength="15.4" lengthAdjust="spacingAndGlyphs">6</text>
<text x="996.5" y="1274" textLength="30.8" lengthAdjust="spacingAndGlyphs">12</text>
<text x="1032.9" y="1274" textLength="30.8" lengthAdjust="spacingAndGlyphs">18</text>
<text x="1069.3" y="1274" textLength="15.4" lengthAdjust="spacingAndGlyphs">0</text>
<text x="1105.7" y="1274" textLength="15.4" lengthAdjust="spacingAndGlyphs">6</text>
<text x="1142.1" y="1274" textLength="30.8" lengthAdjust="spacingAndGlyphs">12</text>
<text x="1178.5" y="1274" textLength="30.8" lengthAdjust="spacingAndGlyphs">18</text>
<text x="1214.9" y="1274" textLength="15.4" lengthAdjust="spacingAndGlyphs">0</text>
<text x="1251.3" y="1274" textLength="15.4" lengthAdjust="spacingAndGlyphs">6</text>
<text x="1287.7" y="1274" textLength="30.8" lengthAdjust="spacingAndGlyphs">12</text>
<text x="1324.1" y="1274" textLength="30.8" lengthAdjust="spacingAndGlyphs">18</text>
<text x="1360.5" y="1274" textLength="15.4" lengthAdjust="spacingAndGlyphs">0</text>
<text x="1396.9" y="1274" textLength="15.4" lengthAdjust="spacingAndGlyphs">6</text>
<text x="1433.3" y="1274" textLength="30.8" lengthAdjust="spacingAndGlyphs">12</text>
<text x="1469.7" y="1274" textLength="30.8" lengthAdjust="spacingAndGlyphs">18</text>
<text x="1506.1" y="1274" textLength="15.4" lengthAdjust="spacingAndGlyphs">0</text>
<text x="1542.5" y="1274" textLength="15.4" lengthAdjust="spacingAndGlyphs">6</text>
<text x="1578.9" y="1274" textLength="30.8" lengthAdjust="spacingAndGlyphs">12</text>
<text x="1615.3" y="1274" textLength="30.8" lengthAdjust="spacingAndGlyphs">18</text>
<text x="1651.7" y="1274" textLength="15.4" lengthAdjust="spacingAndGlyphs">0</text>
<text x="1688.1" y="1274" textLength="15.4" lengthAdjust="spacingAndGlyphs">6</text>
<text x="1724.5" y="1274" textLength="30.8" lengthAdjust="spacingAndGlyphs">12</text>
<text x="1760.9" y="1274" textLength="30.8" lengthAdjust="spacingAndGlyphs">18</text>
<text x="1797.3" y="1274" textLength="15.4" lengthAdjust="spacingAndGlyphs">0</text>
<text x="1833.7" y="1274" textLength="15.4" lengthAdjust="spacingAndGlyphs">6</text>
<text x="1870.1" y="1274" textLength="30.8" lengthAdjust="spacingAndGlyphs">12</text>
<text x="1906.5" y="1274" textLength="30.8" lengthAdjust="spacingAndGlyphs">18</text>
<text x="1942.9" y="1274" textLength="15.4" lengthAdjust="spacingAndGlyphs">0</text>
</g>
<g font-size="40" text-anchor="middle">
<text x="265.1" y="101.8">Jan</text>
<text x="410.8" y="101.8">Feb</text>
<text x="556.4" y="101.8">Mar</text>
<text x="702" y="101.8">Apr</text>
<text x="847.6" y="101.8">May</text>
<text x="993.2" y="101.8">Jun</text>
<text x="1138.8" y="101.8">Jul</text>
<text x="1284.4" y="101.8">Aug</text>
<text x="1430" y="101.8">Sep</text>
<text x="1575.6" y="101.8">Oct</text>
<text x="1721.2" y="101.8">Nov</text>
<text x="1866.8" y="101.8">Dec</text>
</g>
<text x="1068" y="56.5" font-size="48" font-weight="bold" text-anchor="middle">Halley: Marginal distributions of OSN.E5</text>
<text x="853" y="1336" font-size="40.5" textLength="431" lengthAdjust="spacingAndGlyphs">Hour of day (UTC+13.0h)</text>
<text transform="translate(46.5 379.8) rotate(-90)" font-size="40" text-anchor="middle">Wind speed kn</text>
<text transform="translate(46.5 966) rotate(-90)" font-size="40" text-anchor="middle">Wind direction</text>
<g font-size="19" text-anchor="middle" style="fill:#4a3a2a;opacity:.85">
<text x="433" y="374.8">1</text>
<text x="433" y="420.8">2</text>
<text x="360" y="455.8">3</text>
<text x="445" y="487.8">4</text>
<text x="268" y="573.8">8</text>
<text x="297" y="591.8">9</text>
<text x="272" y="636.8">7</text>
<text x="383" y="606.8">8</text>
<text x="420" y="633.8">6</text>
<text x="537" y="581.8">7</text>
<text x="975" y="608.8">6</text>
<text x="1080" y="639.8">6</text>
<text x="1343" y="615.8">8</text>
<text x="1285" y="643.8">7</text>
<text x="1587" y="571.8">6</text>
<text x="1523" y="596.8">6</text>
<text x="1741" y="611.8">6</text>
<text x="1875" y="583.8">8</text>
<text x="1922" y="628.8">7</text>
<text x="1825" y="636.8">6</text>
<text x="1878" y="643.8">5</text>
<text x="242" y="1014.8">2</text>
<text x="252" y="931.8">4</text>
<text x="222" y="1158.8">10</text>
<text x="222" y="698.8">10</text>
<text x="258" y="696.8">8</text>
<text x="397" y="1194.8">4</text>
<text x="397" y="732.8">4</text>
<text x="540" y="946.8">4</text>
<text x="603" y="925.8">2</text>
<text x="560" y="720.8">10</text>
<text x="560" y="1178.8">10</text>
<text x="692" y="963.8">4</text>
<text x="759" y="966.8">4</text>
<text x="638" y="1128.8">4</text>
<text x="875" y="1158.8">14</text>
<text x="875" y="697.8">14</text>
<text x="1420" y="748.8">2</text>
<text x="1420" y="1210.8">2</text>
<text x="1588" y="731.8">8</text>
<text x="1588" y="1193.8">8</text>
<text x="1680" y="1124.8">2</text>
<text x="1832" y="979.8">4</text>
</g>
<rect x="2003.3" y="130.6" width="129.20000000000005" height="498.79999999999995" fill="#fff" stroke="#000" stroke-width="2.5"/>
<text x="2025.5" y="171.3" font-size="33" textLength="80" lengthAdjust="spacingAndGlyphs">p*100</text>
<rect x="2030.7" y="198.2" width="24.7" height="19.1" fill="#FFFFFF" stroke="#000" stroke-width="2.5"/>
<text x="2082" y="223.4" font-size="33" textLength="17" lengthAdjust="spacingAndGlyphs">0</text>
<rect x="2030.7" y="236.6" width="24.7" height="19.1" fill="#FFFF80" stroke="#000" stroke-width="2.5"/>
<text x="2082" y="261.8" font-size="33" textLength="17" lengthAdjust="spacingAndGlyphs">1</text>
<rect x="2030.7" y="275" width="24.7" height="19.1" fill="#FFE632" stroke="#000" stroke-width="2.5"/>
<text x="2082" y="300.1" font-size="33" textLength="17" lengthAdjust="spacingAndGlyphs">2</text>
<rect x="2030.7" y="313.4" width="24.7" height="19.1" fill="#FFBE4B" stroke="#000" stroke-width="2.5"/>
<text x="2082" y="338.5" font-size="33" textLength="17" lengthAdjust="spacingAndGlyphs">3</text>
<rect x="2030.7" y="351.7" width="24.7" height="19.1" fill="#FF9673" stroke="#000" stroke-width="2.5"/>
<text x="2082" y="376.9" font-size="33" textLength="17" lengthAdjust="spacingAndGlyphs">4</text>
<rect x="2030.7" y="390.1" width="24.7" height="19.1" fill="#FF6496" stroke="#000" stroke-width="2.5"/>
<text x="2082" y="415.2" font-size="33" textLength="17" lengthAdjust="spacingAndGlyphs">5</text>
<rect x="2030.7" y="428.5" width="24.7" height="19.1" fill="#E13CC8" stroke="#000" stroke-width="2.5"/>
<text x="2082" y="453.6" font-size="33" textLength="17" lengthAdjust="spacingAndGlyphs">6</text>
<rect x="2030.7" y="466.8" width="24.7" height="19.1" fill="#A014E1" stroke="#000" stroke-width="2.5"/>
<text x="2082" y="492" font-size="33" textLength="17" lengthAdjust="spacingAndGlyphs">7</text>
<rect x="2030.7" y="505.2" width="24.7" height="19.1" fill="#5A00FF" stroke="#000" stroke-width="2.5"/>
<text x="2082" y="530.4" font-size="33" textLength="17" lengthAdjust="spacingAndGlyphs">8</text>
<rect x="2030.7" y="543.6" width="24.7" height="19.1" fill="#1E00FF" stroke="#000" stroke-width="2.5"/>
<text x="2082" y="568.7" font-size="33" textLength="17" lengthAdjust="spacingAndGlyphs">9</text>
<rect x="2030.7" y="582" width="24.7" height="19.1" fill="#0000B4" stroke="#000" stroke-width="2.5"/>
<text x="2082" y="607.1" font-size="33" textLength="36.4" lengthAdjust="spacing">10</text>
<rect x="2003.3" y="696.9" width="129.20000000000005" height="536.1" fill="#fff" stroke="#000" stroke-width="2.5"/>
<text x="2025.5" y="737.6" font-size="33" textLength="80" lengthAdjust="spacingAndGlyphs">p*100</text>
<rect x="2030.7" y="764.9" width="24.7" height="19.1" fill="#FFFFFF" stroke="#000" stroke-width="2.5"/>
<text x="2082" y="790" font-size="33" textLength="17" lengthAdjust="spacingAndGlyphs">0</text>
<rect x="2030.7" y="803.2" width="24.7" height="19.1" fill="#FFFF80" stroke="#000" stroke-width="2.5"/>
<text x="2082" y="828.3" font-size="33" textLength="17" lengthAdjust="spacingAndGlyphs">2</text>
<rect x="2030.7" y="841.5" width="24.7" height="19.1" fill="#FFE83C" stroke="#000" stroke-width="2.5"/>
<text x="2082" y="866.6" font-size="33" textLength="17" lengthAdjust="spacingAndGlyphs">4</text>
<rect x="2030.7" y="879.8" width="24.7" height="19.1" fill="#FFC83C" stroke="#000" stroke-width="2.5"/>
<text x="2082" y="904.9" font-size="33" textLength="17" lengthAdjust="spacingAndGlyphs">6</text>
<rect x="2030.7" y="918.1" width="24.7" height="19.1" fill="#FFA064" stroke="#000" stroke-width="2.5"/>
<text x="2082" y="943.2" font-size="33" textLength="17" lengthAdjust="spacingAndGlyphs">8</text>
<rect x="2030.7" y="956.4" width="24.7" height="19.1" fill="#FF7D82" stroke="#000" stroke-width="2.5"/>
<text x="2082" y="981.6" font-size="33" textLength="36.4" lengthAdjust="spacing">10</text>
<rect x="2030.7" y="994.7" width="24.7" height="19.1" fill="#FF50AA" stroke="#000" stroke-width="2.5"/>
<text x="2082" y="1019.9" font-size="33" textLength="36.4" lengthAdjust="spacing">12</text>
<rect x="2030.7" y="1033" width="24.7" height="19.1" fill="#CD32CD" stroke="#000" stroke-width="2.5"/>
<text x="2082" y="1058.2" font-size="33" textLength="36.4" lengthAdjust="spacing">14</text>
<rect x="2030.7" y="1071.3" width="24.7" height="19.1" fill="#8C14EB" stroke="#000" stroke-width="2.5"/>
<text x="2082" y="1096.5" font-size="33" textLength="36.4" lengthAdjust="spacing">16</text>
<rect x="2030.7" y="1109.6" width="24.7" height="19.1" fill="#5000FF" stroke="#000" stroke-width="2.5"/>
<text x="2082" y="1134.8" font-size="33" textLength="36.4" lengthAdjust="spacing">18</text>
<rect x="2030.7" y="1148" width="24.7" height="19.1" fill="#1E00FF" stroke="#000" stroke-width="2.5"/>
<text x="2082" y="1173.1" font-size="33" textLength="36.4" lengthAdjust="spacing">20</text>
<rect x="2030.7" y="1186.3" width="24.7" height="19.1" fill="#0000B4" stroke="#000" stroke-width="2.5"/>
<text x="2082" y="1211.4" font-size="33" textLength="36.4" lengthAdjust="spacing">22</text>
</svg></body></html>
